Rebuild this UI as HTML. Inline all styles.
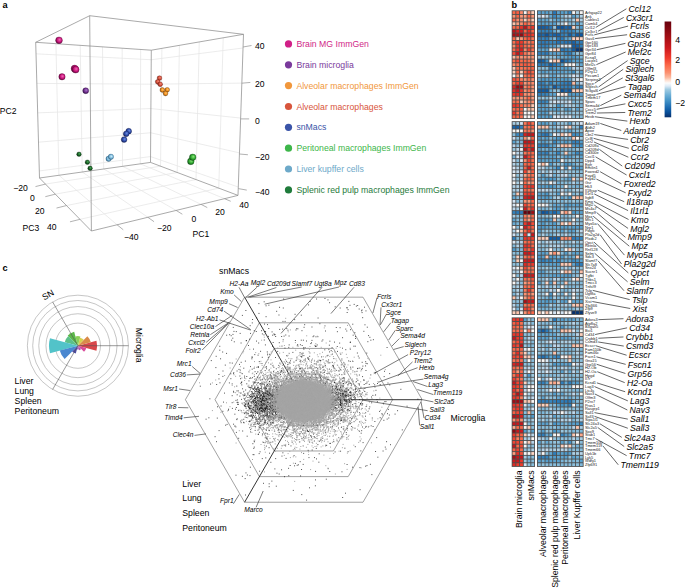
<!DOCTYPE html><html><head><meta charset="utf-8"><style>html,body{margin:0;padding:0;background:#fff;width:685px;height:588px;overflow:hidden}svg{display:block}text{font-family:"Liberation Sans",sans-serif}</style></head><body>
<svg width="685" height="588" viewBox="0 0 685 588">
<defs>
<radialGradient id="gmg" cx="0.55" cy="0.45" r="0.6" fx="0.6" fy="0.4"><stop offset="0" stop-color="#f46ab8"/><stop offset="0.55" stop-color="#c8147a"/><stop offset="1" stop-color="#500030"/></radialGradient>
<radialGradient id="gbm" cx="0.55" cy="0.45" r="0.6" fx="0.6" fy="0.4"><stop offset="0" stop-color="#a878cc"/><stop offset="0.55" stop-color="#72308e"/><stop offset="1" stop-color="#2a0a40"/></radialGradient>
<radialGradient id="gai" cx="0.55" cy="0.45" r="0.6" fx="0.6" fy="0.4"><stop offset="0" stop-color="#ffc468"/><stop offset="0.55" stop-color="#ee8c1c"/><stop offset="1" stop-color="#6a3a00"/></radialGradient>
<radialGradient id="gam" cx="0.55" cy="0.45" r="0.6" fx="0.6" fy="0.4"><stop offset="0" stop-color="#f48a78"/><stop offset="0.55" stop-color="#d24c38"/><stop offset="1" stop-color="#6a1a10"/></radialGradient>
<radialGradient id="gsn" cx="0.55" cy="0.45" r="0.6" fx="0.6" fy="0.4"><stop offset="0" stop-color="#7090e4"/><stop offset="0.55" stop-color="#2e4ca8"/><stop offset="1" stop-color="#101a50"/></radialGradient>
<radialGradient id="gpm" cx="0.55" cy="0.45" r="0.6" fx="0.6" fy="0.4"><stop offset="0" stop-color="#8ce67a"/><stop offset="0.55" stop-color="#32aa32"/><stop offset="1" stop-color="#0a4a10"/></radialGradient>
<radialGradient id="glk" cx="0.55" cy="0.45" r="0.6" fx="0.6" fy="0.4"><stop offset="0" stop-color="#d0f0fc"/><stop offset="0.55" stop-color="#78b8dc"/><stop offset="1" stop-color="#2a5a7a"/></radialGradient>
<radialGradient id="gsp" cx="0.55" cy="0.45" r="0.6" fx="0.6" fy="0.4"><stop offset="0" stop-color="#4aa85a"/><stop offset="0.55" stop-color="#176024"/><stop offset="1" stop-color="#032a0a"/></radialGradient>
<linearGradient id="cbar" x1="0" y1="0" x2="0" y2="1">
<stop offset="0" stop-color="#67000d"/>
<stop offset="0.166" stop-color="#a50f15"/>
<stop offset="0.273" stop-color="#cb181d"/>
<stop offset="0.38" stop-color="#ef3b2c"/>
<stop offset="0.458" stop-color="#fb6a4a"/>
<stop offset="0.536" stop-color="#fc9272"/>
<stop offset="0.585" stop-color="#fcbba1"/>
<stop offset="0.614" stop-color="#fee0d2"/>
<stop offset="0.643" stop-color="#fbfbfb"/>
<stop offset="0.673" stop-color="#deebf7"/>
<stop offset="0.712" stop-color="#9ecae1"/>
<stop offset="0.77" stop-color="#6baed6"/>
<stop offset="0.828" stop-color="#4292c6"/>
<stop offset="0.887" stop-color="#2171b5"/>
<stop offset="0.945" stop-color="#08519c"/>
<stop offset="1.0" stop-color="#08306b"/>
</linearGradient>
</defs>
<text x="2.5" y="8.0" font-size="9.2" font-weight="bold">a</text>
<text x="511.6" y="7.9" font-size="9.2" font-weight="bold">b</text>
<text x="2.5" y="270.5" font-size="9.2" font-weight="bold">c</text>
<line x1="55.93" y1="43.68" x2="58.92" y2="175.27" stroke="#e6e6e6" stroke-width="0.75"/>
<line x1="80.21" y1="45.34" x2="82.23" y2="171.99" stroke="#e6e6e6" stroke-width="0.75"/>
<line x1="102.52" y1="46.87" x2="103.66" y2="168.98" stroke="#e6e6e6" stroke-width="0.75"/>
<line x1="122.17" y1="48.21" x2="122.53" y2="166.33" stroke="#e6e6e6" stroke-width="0.75"/>
<line x1="140.66" y1="49.47" x2="140.29" y2="163.84" stroke="#e6e6e6" stroke-width="0.75"/>
<line x1="36.02" y1="53.83" x2="151.23" y2="59.74" stroke="#e6e6e6" stroke-width="0.75"/>
<line x1="36.85" y1="83.42" x2="151.06" y2="84.20" stroke="#e6e6e6" stroke-width="0.75"/>
<line x1="37.68" y1="112.86" x2="150.88" y2="108.54" stroke="#e6e6e6" stroke-width="0.75"/>
<line x1="38.50" y1="142.18" x2="150.71" y2="132.78" stroke="#e6e6e6" stroke-width="0.75"/>
<line x1="39.30" y1="170.94" x2="150.54" y2="156.57" stroke="#e6e6e6" stroke-width="0.75"/>
<line x1="161.90" y1="48.37" x2="160.56" y2="166.19" stroke="#e6e6e6" stroke-width="0.75"/>
<line x1="179.42" y1="45.35" x2="177.19" y2="172.47" stroke="#e6e6e6" stroke-width="0.75"/>
<line x1="199.24" y1="41.93" x2="196.00" y2="179.56" stroke="#e6e6e6" stroke-width="0.75"/>
<line x1="223.22" y1="37.80" x2="218.75" y2="188.14" stroke="#e6e6e6" stroke-width="0.75"/>
<line x1="151.23" y1="59.74" x2="243.03" y2="47.99" stroke="#e6e6e6" stroke-width="0.75"/>
<line x1="151.06" y1="84.20" x2="241.83" y2="83.11" stroke="#e6e6e6" stroke-width="0.75"/>
<line x1="150.88" y1="108.54" x2="240.64" y2="118.07" stroke="#e6e6e6" stroke-width="0.75"/>
<line x1="150.71" y1="132.78" x2="239.45" y2="152.87" stroke="#e6e6e6" stroke-width="0.75"/>
<line x1="150.54" y1="156.57" x2="238.29" y2="187.02" stroke="#e6e6e6" stroke-width="0.75"/>
<line x1="58.92" y1="175.27" x2="117.06" y2="224.77" stroke="#e6e6e6" stroke-width="0.75"/>
<line x1="82.23" y1="171.99" x2="147.84" y2="217.29" stroke="#e6e6e6" stroke-width="0.75"/>
<line x1="103.66" y1="168.98" x2="176.13" y2="210.42" stroke="#e6e6e6" stroke-width="0.75"/>
<line x1="122.53" y1="166.33" x2="201.06" y2="204.37" stroke="#e6e6e6" stroke-width="0.75"/>
<line x1="140.29" y1="163.84" x2="224.51" y2="198.68" stroke="#e6e6e6" stroke-width="0.75"/>
<line x1="45.47" y1="184.09" x2="160.56" y2="166.19" stroke="#e6e6e6" stroke-width="0.75"/>
<line x1="55.33" y1="194.16" x2="177.19" y2="172.47" stroke="#e6e6e6" stroke-width="0.75"/>
<line x1="66.49" y1="205.56" x2="196.00" y2="179.56" stroke="#e6e6e6" stroke-width="0.75"/>
<line x1="79.98" y1="219.34" x2="218.75" y2="188.14" stroke="#e6e6e6" stroke-width="0.75"/>
<line x1="35.70" y1="42.30" x2="89.70" y2="15.70" stroke="#8e8e8e" stroke-width="0.75"/>
<line x1="89.70" y1="15.70" x2="243.50" y2="34.30" stroke="#8e8e8e" stroke-width="0.75"/>
<line x1="35.70" y1="42.30" x2="151.30" y2="50.20" stroke="#8e8e8e" stroke-width="0.75"/>
<line x1="151.30" y1="50.20" x2="243.50" y2="34.30" stroke="#8e8e8e" stroke-width="0.75"/>
<line x1="35.70" y1="42.30" x2="39.50" y2="178.00" stroke="#8e8e8e" stroke-width="0.75"/>
<line x1="151.30" y1="50.20" x2="150.50" y2="162.40" stroke="#8e8e8e" stroke-width="0.75"/>
<line x1="243.50" y1="34.30" x2="238.00" y2="195.40" stroke="#8e8e8e" stroke-width="0.75"/>
<line x1="89.70" y1="15.70" x2="91.40" y2="231.00" stroke="#8e8e8e" stroke-width="0.75"/>
<line x1="39.50" y1="178.00" x2="150.50" y2="162.40" stroke="#8e8e8e" stroke-width="0.75"/>
<line x1="150.50" y1="162.40" x2="238.00" y2="195.40" stroke="#8e8e8e" stroke-width="0.75"/>
<line x1="39.50" y1="178.00" x2="91.40" y2="231.00" stroke="#8e8e8e" stroke-width="0.75"/>
<line x1="91.40" y1="231.00" x2="238.00" y2="195.40" stroke="#8e8e8e" stroke-width="0.75"/>
<line x1="243.03" y1="47.00" x2="251.53" y2="45.50" stroke="#909090" stroke-width="0.7"/>
<text x="255" y="48.7" font-size="8.6">40</text>
<line x1="241.83" y1="83.20" x2="250.33" y2="82.45" stroke="#909090" stroke-width="0.7"/>
<text x="255" y="86.5" font-size="8.6">20</text>
<line x1="240.64" y1="118.90" x2="249.14" y2="118.90" stroke="#909090" stroke-width="0.7"/>
<text x="255" y="123.7" font-size="8.6">0</text>
<line x1="239.45" y1="154.00" x2="247.95" y2="154.75" stroke="#909090" stroke-width="0.7"/>
<text x="255" y="160.1" font-size="8.6">−20</text>
<line x1="238.29" y1="188.60" x2="246.79" y2="190.10" stroke="#909090" stroke-width="0.7"/>
<text x="255" y="195.1" font-size="8.6">−40</text>
<line x1="117.06" y1="224.77" x2="123.26" y2="229.77" stroke="#909090" stroke-width="0.7"/>
<text x="124.0" y="239.7" font-size="8.6">−40</text>
<line x1="147.84" y1="217.29" x2="154.04" y2="221.69" stroke="#909090" stroke-width="0.7"/>
<text x="157.0" y="231.1" font-size="8.6">−20</text>
<line x1="176.13" y1="210.42" x2="182.33" y2="214.22" stroke="#909090" stroke-width="0.7"/>
<text x="191.4" y="222.3" font-size="8.6">0</text>
<line x1="201.06" y1="204.37" x2="207.26" y2="207.57" stroke="#909090" stroke-width="0.7"/>
<text x="215.2" y="215.1" font-size="8.6">20</text>
<line x1="224.51" y1="198.68" x2="230.71" y2="201.28" stroke="#909090" stroke-width="0.7"/>
<text x="239.2" y="208.4" font-size="8.6">40</text>
<line x1="45.47" y1="184.09" x2="35.47" y2="186.59" stroke="#909090" stroke-width="0.7"/>
<text x="13.2" y="190.7" font-size="8.6">−20</text>
<line x1="55.33" y1="194.16" x2="45.33" y2="196.66" stroke="#909090" stroke-width="0.7"/>
<text x="29.9" y="201.3" font-size="8.6">0</text>
<line x1="66.49" y1="205.56" x2="56.49" y2="208.06" stroke="#909090" stroke-width="0.7"/>
<text x="35.0" y="213.9" font-size="8.6">20</text>
<line x1="79.98" y1="219.34" x2="69.98" y2="221.84" stroke="#909090" stroke-width="0.7"/>
<text x="47.0" y="230.1" font-size="8.6">40</text>
<text x="-0.3" y="113.8" font-size="8.6">PC2</text>
<text x="22.6" y="231.1" font-size="8.6">PC3</text>
<text x="192.6" y="236.9" font-size="8.6">PC1</text>
<circle cx="59.0" cy="40.3" r="3.4" fill="url(#gmg)" stroke="#500030" stroke-width="0.5" stroke-opacity="0.6"/>
<circle cx="74.6" cy="68.6" r="3.5" fill="url(#gmg)" stroke="#500030" stroke-width="0.5" stroke-opacity="0.6"/>
<circle cx="75.6" cy="69.6" r="3.5" fill="url(#gmg)" stroke="#500030" stroke-width="0.5" stroke-opacity="0.6"/>
<circle cx="62.0" cy="76.8" r="3.2" fill="url(#gmg)" stroke="#500030" stroke-width="0.5" stroke-opacity="0.6"/>
<circle cx="85.7" cy="90.7" r="3.0" fill="url(#gbm)" stroke="#2a0a40" stroke-width="0.5" stroke-opacity="0.6"/>
<circle cx="159.5" cy="78.1" r="2.4" fill="url(#gam)" stroke="#6a1a10" stroke-width="0.5" stroke-opacity="0.6"/>
<circle cx="157.7" cy="81.8" r="2.4" fill="url(#gam)" stroke="#6a1a10" stroke-width="0.5" stroke-opacity="0.6"/>
<circle cx="160.2" cy="84.3" r="2.4" fill="url(#gam)" stroke="#6a1a10" stroke-width="0.5" stroke-opacity="0.6"/>
<circle cx="162.3" cy="90.0" r="2.4" fill="url(#gai)" stroke="#6a3a00" stroke-width="0.5" stroke-opacity="0.6"/>
<circle cx="167.2" cy="89.8" r="2.4" fill="url(#gai)" stroke="#6a3a00" stroke-width="0.5" stroke-opacity="0.6"/>
<circle cx="165.5" cy="93.5" r="2.4" fill="url(#gai)" stroke="#6a3a00" stroke-width="0.5" stroke-opacity="0.6"/>
<circle cx="128.7" cy="131.2" r="2.9" fill="url(#gsn)" stroke="#101a50" stroke-width="0.5" stroke-opacity="0.6"/>
<circle cx="126.2" cy="133.8" r="2.9" fill="url(#gsn)" stroke="#101a50" stroke-width="0.5" stroke-opacity="0.6"/>
<circle cx="124.1" cy="139.6" r="2.9" fill="url(#gsn)" stroke="#101a50" stroke-width="0.5" stroke-opacity="0.6"/>
<circle cx="108.6" cy="158.8" r="2.7" fill="url(#glk)" stroke="#2a5a7a" stroke-width="0.5" stroke-opacity="0.6"/>
<circle cx="110.9" cy="156.8" r="2.7" fill="url(#glk)" stroke="#2a5a7a" stroke-width="0.5" stroke-opacity="0.6"/>
<circle cx="79.0" cy="154.2" r="2.3" fill="url(#gsp)" stroke="#032a0a" stroke-width="0.5" stroke-opacity="0.6"/>
<circle cx="87.4" cy="162.2" r="2.3" fill="url(#gsp)" stroke="#032a0a" stroke-width="0.5" stroke-opacity="0.6"/>
<circle cx="90.1" cy="168.3" r="2.3" fill="url(#gsp)" stroke="#032a0a" stroke-width="0.5" stroke-opacity="0.6"/>
<circle cx="190.8" cy="161.4" r="3.3" fill="url(#gpm)" stroke="#0a4a10" stroke-width="0.5" stroke-opacity="0.6"/>
<circle cx="192.7" cy="157.3" r="3.3" fill="url(#gpm)" stroke="#0a4a10" stroke-width="0.5" stroke-opacity="0.6"/>
<circle cx="288.5" cy="43.9" r="3.6" fill="#d11f87"/>
<text x="296.4" y="47.0" font-size="8.7" fill="#d11f87">Brain MG ImmGen</text>
<circle cx="288.5" cy="64.8" r="3.6" fill="#7a3a9c"/>
<text x="296.4" y="67.8" font-size="8.7" fill="#7a3a9c">Brain microglia</text>
<circle cx="288.5" cy="85.6" r="3.6" fill="#f1973c"/>
<text x="296.4" y="88.7" font-size="8.7" fill="#f1973c">Alveolar macrophages ImmGen</text>
<circle cx="288.5" cy="106.5" r="3.6" fill="#d8553c"/>
<text x="296.4" y="109.5" font-size="8.7" fill="#d8553c">Alveolar macrophages</text>
<circle cx="288.5" cy="127.3" r="3.6" fill="#3a54a8"/>
<text x="296.4" y="130.4" font-size="8.7" fill="#3a54a8">snMacs</text>
<circle cx="288.5" cy="148.2" r="3.6" fill="#3db64a"/>
<text x="296.4" y="151.2" font-size="8.7" fill="#3db64a">Peritoneal macrophages ImmGen</text>
<circle cx="288.5" cy="169.0" r="3.6" fill="#6da9c9"/>
<text x="296.4" y="172.1" font-size="8.7" fill="#6da9c9">Liver kupffer cells</text>
<circle cx="288.5" cy="189.9" r="3.6" fill="#1f7b3b"/>
<text x="296.4" y="193.0" font-size="8.7" fill="#1f7b3b">Splenic red pulp macrophages ImmGen</text>
<rect x="511.70" y="10.30" width="23.30" height="108.70" fill="#4d4d4d"/>
<rect x="537.00" y="10.30" width="46.60" height="108.70" fill="#4d4d4d"/>
<rect x="512.55" y="11.15" width="2.85" height="2.82" fill="#fb6a4a"/>
<rect x="516.30" y="11.15" width="2.85" height="2.82" fill="#f85d42"/>
<rect x="520.05" y="11.15" width="2.85" height="2.82" fill="#fc8868"/>
<rect x="523.80" y="11.15" width="2.85" height="2.82" fill="#f8f6f5"/>
<rect x="527.55" y="11.15" width="2.85" height="2.82" fill="#fc9475"/>
<rect x="531.30" y="11.15" width="2.85" height="2.82" fill="#fdceba"/>
<rect x="537.85" y="11.15" width="2.92" height="2.82" fill="#56a0ce"/>
<rect x="541.67" y="11.15" width="2.92" height="2.82" fill="#5ba3d0"/>
<rect x="545.48" y="11.15" width="2.92" height="2.82" fill="#549fcd"/>
<rect x="549.30" y="11.15" width="2.92" height="2.82" fill="#6aadd6"/>
<rect x="553.12" y="11.15" width="2.92" height="2.82" fill="#2777b8"/>
<rect x="556.94" y="11.15" width="2.92" height="2.82" fill="#5ba3d0"/>
<rect x="560.75" y="11.15" width="2.92" height="2.82" fill="#559fcd"/>
<rect x="564.57" y="11.15" width="2.92" height="2.82" fill="#5ca4d0"/>
<rect x="568.39" y="11.15" width="2.92" height="2.82" fill="#3484bf"/>
<rect x="572.20" y="11.15" width="2.92" height="2.82" fill="#f8f6f5"/>
<rect x="576.02" y="11.15" width="2.92" height="2.82" fill="#abd0e6"/>
<rect x="579.84" y="11.15" width="2.92" height="2.82" fill="#f8f6f5"/>
<rect x="512.55" y="14.87" width="2.85" height="2.82" fill="#fc9373"/>
<rect x="516.30" y="14.87" width="2.85" height="2.82" fill="#f96446"/>
<rect x="520.05" y="14.87" width="2.85" height="2.82" fill="#fc997a"/>
<rect x="523.80" y="14.87" width="2.85" height="2.82" fill="#fc9e80"/>
<rect x="527.55" y="14.87" width="2.85" height="2.82" fill="#fa6648"/>
<rect x="531.30" y="14.87" width="2.85" height="2.82" fill="#fc9778"/>
<rect x="537.85" y="14.87" width="2.92" height="2.82" fill="#c1d9ed"/>
<rect x="541.67" y="14.87" width="2.92" height="2.82" fill="#ddeaf7"/>
<rect x="545.48" y="14.87" width="2.92" height="2.82" fill="#b6d4e9"/>
<rect x="549.30" y="14.87" width="2.92" height="2.82" fill="#64a9d3"/>
<rect x="553.12" y="14.87" width="2.92" height="2.82" fill="#3b8bc3"/>
<rect x="556.94" y="14.87" width="2.92" height="2.82" fill="#5aa3cf"/>
<rect x="560.75" y="14.87" width="2.92" height="2.82" fill="#80badb"/>
<rect x="564.57" y="14.87" width="2.92" height="2.82" fill="#b4d3e9"/>
<rect x="568.39" y="14.87" width="2.92" height="2.82" fill="#b8d5ea"/>
<rect x="572.20" y="14.87" width="2.92" height="2.82" fill="#57a1ce"/>
<rect x="576.02" y="14.87" width="2.92" height="2.82" fill="#82bbdb"/>
<rect x="579.84" y="14.87" width="2.92" height="2.82" fill="#b4d4e9"/>
<rect x="512.55" y="18.59" width="2.85" height="2.82" fill="#fa6547"/>
<rect x="516.30" y="18.59" width="2.85" height="2.82" fill="#fc8a6a"/>
<rect x="520.05" y="18.59" width="2.85" height="2.82" fill="#fc9474"/>
<rect x="523.80" y="18.59" width="2.85" height="2.82" fill="#fdd0bd"/>
<rect x="527.55" y="18.59" width="2.85" height="2.82" fill="#fc8f6f"/>
<rect x="531.30" y="18.59" width="2.85" height="2.82" fill="#fdc8b2"/>
<rect x="537.85" y="18.59" width="2.92" height="2.82" fill="#529dcc"/>
<rect x="541.67" y="18.59" width="2.92" height="2.82" fill="#65aad4"/>
<rect x="545.48" y="18.59" width="2.92" height="2.82" fill="#60a7d2"/>
<rect x="549.30" y="18.59" width="2.92" height="2.82" fill="#92c3de"/>
<rect x="553.12" y="18.59" width="2.92" height="2.82" fill="#69add5"/>
<rect x="556.94" y="18.59" width="2.92" height="2.82" fill="#5aa2cf"/>
<rect x="560.75" y="18.59" width="2.92" height="2.82" fill="#84bcdb"/>
<rect x="564.57" y="18.59" width="2.92" height="2.82" fill="#91c3de"/>
<rect x="568.39" y="18.59" width="2.92" height="2.82" fill="#7bb7da"/>
<rect x="572.20" y="18.59" width="2.92" height="2.82" fill="#abd0e6"/>
<rect x="576.02" y="18.59" width="2.92" height="2.82" fill="#fdc5ae"/>
<rect x="579.84" y="18.59" width="2.92" height="2.82" fill="#afd1e7"/>
<rect x="512.55" y="22.31" width="2.85" height="2.82" fill="#fcc3ab"/>
<rect x="516.30" y="22.31" width="2.85" height="2.82" fill="#fc9d7f"/>
<rect x="520.05" y="22.31" width="2.85" height="2.82" fill="#fc8d6d"/>
<rect x="523.80" y="22.31" width="2.85" height="2.82" fill="#fa6446"/>
<rect x="527.55" y="22.31" width="2.85" height="2.82" fill="#fb7858"/>
<rect x="531.30" y="22.31" width="2.85" height="2.82" fill="#fc8f6f"/>
<rect x="537.85" y="22.31" width="2.92" height="2.82" fill="#5da4d0"/>
<rect x="541.67" y="22.31" width="2.92" height="2.82" fill="#549ecd"/>
<rect x="545.48" y="22.31" width="2.92" height="2.82" fill="#5ea5d1"/>
<rect x="549.30" y="22.31" width="2.92" height="2.82" fill="#5ba3d0"/>
<rect x="553.12" y="22.31" width="2.92" height="2.82" fill="#58a1cf"/>
<rect x="556.94" y="22.31" width="2.92" height="2.82" fill="#93c4df"/>
<rect x="560.75" y="22.31" width="2.92" height="2.82" fill="#add0e6"/>
<rect x="564.57" y="22.31" width="2.92" height="2.82" fill="#f8f6f5"/>
<rect x="568.39" y="22.31" width="2.92" height="2.82" fill="#85bcdc"/>
<rect x="572.20" y="22.31" width="2.92" height="2.82" fill="#8fc2de"/>
<rect x="576.02" y="22.31" width="2.92" height="2.82" fill="#529dcc"/>
<rect x="579.84" y="22.31" width="2.92" height="2.82" fill="#83bbdb"/>
<rect x="512.55" y="26.03" width="2.85" height="2.82" fill="#fb6b4b"/>
<rect x="516.30" y="26.03" width="2.85" height="2.82" fill="#f96446"/>
<rect x="520.05" y="26.03" width="2.85" height="2.82" fill="#e63228"/>
<rect x="523.80" y="26.03" width="2.85" height="2.82" fill="#bd151a"/>
<rect x="527.55" y="26.03" width="2.85" height="2.82" fill="#f34a35"/>
<rect x="531.30" y="26.03" width="2.85" height="2.82" fill="#e93529"/>
<rect x="537.85" y="26.03" width="2.92" height="2.82" fill="#105ba4"/>
<rect x="541.67" y="26.03" width="2.92" height="2.82" fill="#125ea6"/>
<rect x="545.48" y="26.03" width="2.92" height="2.82" fill="#1764ab"/>
<rect x="549.30" y="26.03" width="2.92" height="2.82" fill="#2979b9"/>
<rect x="553.12" y="26.03" width="2.92" height="2.82" fill="#96c6df"/>
<rect x="556.94" y="26.03" width="2.92" height="2.82" fill="#0f5aa3"/>
<rect x="560.75" y="26.03" width="2.92" height="2.82" fill="#0b559f"/>
<rect x="564.57" y="26.03" width="2.92" height="2.82" fill="#1a68ae"/>
<rect x="568.39" y="26.03" width="2.92" height="2.82" fill="#1460a8"/>
<rect x="572.20" y="26.03" width="2.92" height="2.82" fill="#fdd3c1"/>
<rect x="576.02" y="26.03" width="2.92" height="2.82" fill="#87bddc"/>
<rect x="579.84" y="26.03" width="2.92" height="2.82" fill="#4e9acb"/>
<rect x="512.55" y="29.75" width="2.85" height="2.82" fill="#bc141a"/>
<rect x="516.30" y="29.75" width="2.85" height="2.82" fill="#d82422"/>
<rect x="520.05" y="29.75" width="2.85" height="2.82" fill="#cf1c1f"/>
<rect x="523.80" y="29.75" width="2.85" height="2.82" fill="#f96346"/>
<rect x="527.55" y="29.75" width="2.85" height="2.82" fill="#e43027"/>
<rect x="531.30" y="29.75" width="2.85" height="2.82" fill="#fa6647"/>
<rect x="537.85" y="29.75" width="2.92" height="2.82" fill="#3686c0"/>
<rect x="541.67" y="29.75" width="2.92" height="2.82" fill="#3080bc"/>
<rect x="545.48" y="29.75" width="2.92" height="2.82" fill="#3282be"/>
<rect x="549.30" y="29.75" width="2.92" height="2.82" fill="#3383be"/>
<rect x="553.12" y="29.75" width="2.92" height="2.82" fill="#61a7d2"/>
<rect x="556.94" y="29.75" width="2.92" height="2.82" fill="#86bddc"/>
<rect x="560.75" y="29.75" width="2.92" height="2.82" fill="#2f7fbc"/>
<rect x="564.57" y="29.75" width="2.92" height="2.82" fill="#3282be"/>
<rect x="568.39" y="29.75" width="2.92" height="2.82" fill="#3383be"/>
<rect x="572.20" y="29.75" width="2.92" height="2.82" fill="#3a8ac2"/>
<rect x="576.02" y="29.75" width="2.92" height="2.82" fill="#5fa6d1"/>
<rect x="579.84" y="29.75" width="2.92" height="2.82" fill="#519ccc"/>
<rect x="512.55" y="33.47" width="2.85" height="2.82" fill="#a60f15"/>
<rect x="516.30" y="33.47" width="2.85" height="2.82" fill="#b01217"/>
<rect x="520.05" y="33.47" width="2.85" height="2.82" fill="#940b13"/>
<rect x="523.80" y="33.47" width="2.85" height="2.82" fill="#eb372a"/>
<rect x="527.55" y="33.47" width="2.85" height="2.82" fill="#e02c26"/>
<rect x="531.30" y="33.47" width="2.85" height="2.82" fill="#ef3b2c"/>
<rect x="537.85" y="33.47" width="2.92" height="2.82" fill="#1461a8"/>
<rect x="541.67" y="33.47" width="2.92" height="2.82" fill="#1967ad"/>
<rect x="545.48" y="33.47" width="2.92" height="2.82" fill="#0b559f"/>
<rect x="549.30" y="33.47" width="2.92" height="2.82" fill="#2171b5"/>
<rect x="553.12" y="33.47" width="2.92" height="2.82" fill="#1663aa"/>
<rect x="556.94" y="33.47" width="2.92" height="2.82" fill="#1562a9"/>
<rect x="560.75" y="33.47" width="2.92" height="2.82" fill="#2e7ebb"/>
<rect x="564.57" y="33.47" width="2.92" height="2.82" fill="#3787c0"/>
<rect x="568.39" y="33.47" width="2.92" height="2.82" fill="#1360a7"/>
<rect x="572.20" y="33.47" width="2.92" height="2.82" fill="#3484bf"/>
<rect x="576.02" y="33.47" width="2.92" height="2.82" fill="#115da5"/>
<rect x="579.84" y="33.47" width="2.92" height="2.82" fill="#0d57a1"/>
<rect x="512.55" y="37.19" width="2.85" height="2.82" fill="#fb6a4a"/>
<rect x="516.30" y="37.19" width="2.85" height="2.82" fill="#fcc3ac"/>
<rect x="520.05" y="37.19" width="2.85" height="2.82" fill="#fc9576"/>
<rect x="523.80" y="37.19" width="2.85" height="2.82" fill="#fa6748"/>
<rect x="527.55" y="37.19" width="2.85" height="2.82" fill="#f44f39"/>
<rect x="531.30" y="37.19" width="2.85" height="2.82" fill="#fb7656"/>
<rect x="537.85" y="37.19" width="2.92" height="2.82" fill="#2c7cbb"/>
<rect x="541.67" y="37.19" width="2.92" height="2.82" fill="#3585c0"/>
<rect x="545.48" y="37.19" width="2.92" height="2.82" fill="#2e7ebc"/>
<rect x="549.30" y="37.19" width="2.92" height="2.82" fill="#56a0ce"/>
<rect x="553.12" y="37.19" width="2.92" height="2.82" fill="#7cb7da"/>
<rect x="556.94" y="37.19" width="2.92" height="2.82" fill="#2c7cbb"/>
<rect x="560.75" y="37.19" width="2.92" height="2.82" fill="#2b7bba"/>
<rect x="564.57" y="37.19" width="2.92" height="2.82" fill="#5ca3d0"/>
<rect x="568.39" y="37.19" width="2.92" height="2.82" fill="#60a7d2"/>
<rect x="572.20" y="37.19" width="2.92" height="2.82" fill="#fdcfbc"/>
<rect x="576.02" y="37.19" width="2.92" height="2.82" fill="#fdcdb9"/>
<rect x="579.84" y="37.19" width="2.92" height="2.82" fill="#fdd2c0"/>
<rect x="512.55" y="40.92" width="2.85" height="2.82" fill="#fb6e4e"/>
<rect x="516.30" y="40.92" width="2.85" height="2.82" fill="#ef3c2d"/>
<rect x="520.05" y="40.92" width="2.85" height="2.82" fill="#ed392b"/>
<rect x="523.80" y="40.92" width="2.85" height="2.82" fill="#fb6d4d"/>
<rect x="527.55" y="40.92" width="2.85" height="2.82" fill="#fb7959"/>
<rect x="531.30" y="40.92" width="2.85" height="2.82" fill="#fb6b4b"/>
<rect x="537.85" y="40.92" width="2.92" height="2.82" fill="#3080bd"/>
<rect x="541.67" y="40.92" width="2.92" height="2.82" fill="#2a7aba"/>
<rect x="545.48" y="40.92" width="2.92" height="2.82" fill="#2e7ebc"/>
<rect x="549.30" y="40.92" width="2.92" height="2.82" fill="#3686c0"/>
<rect x="553.12" y="40.92" width="2.92" height="2.82" fill="#3686c0"/>
<rect x="556.94" y="40.92" width="2.92" height="2.82" fill="#2474b7"/>
<rect x="560.75" y="40.92" width="2.92" height="2.82" fill="#2d7dbb"/>
<rect x="564.57" y="40.92" width="2.92" height="2.82" fill="#2575b7"/>
<rect x="568.39" y="40.92" width="2.92" height="2.82" fill="#2373b6"/>
<rect x="572.20" y="40.92" width="2.92" height="2.82" fill="#1663aa"/>
<rect x="576.02" y="40.92" width="2.92" height="2.82" fill="#2f7fbc"/>
<rect x="579.84" y="40.92" width="2.92" height="2.82" fill="#2e7ebc"/>
<rect x="512.55" y="44.64" width="2.85" height="2.82" fill="#fc8e6e"/>
<rect x="516.30" y="44.64" width="2.85" height="2.82" fill="#eb372a"/>
<rect x="520.05" y="44.64" width="2.85" height="2.82" fill="#ee3a2b"/>
<rect x="523.80" y="44.64" width="2.85" height="2.82" fill="#fb6849"/>
<rect x="527.55" y="44.64" width="2.85" height="2.82" fill="#fb7656"/>
<rect x="531.30" y="44.64" width="2.85" height="2.82" fill="#fb6b4b"/>
<rect x="537.85" y="44.64" width="2.92" height="2.82" fill="#3686c0"/>
<rect x="541.67" y="44.64" width="2.92" height="2.82" fill="#3181bd"/>
<rect x="545.48" y="44.64" width="2.92" height="2.82" fill="#3585bf"/>
<rect x="549.30" y="44.64" width="2.92" height="2.82" fill="#569fce"/>
<rect x="553.12" y="44.64" width="2.92" height="2.82" fill="#549ecd"/>
<rect x="556.94" y="44.64" width="2.92" height="2.82" fill="#86bddc"/>
<rect x="560.75" y="44.64" width="2.92" height="2.82" fill="#d8e7f5"/>
<rect x="564.57" y="44.64" width="2.92" height="2.82" fill="#d9e8f5"/>
<rect x="568.39" y="44.64" width="2.92" height="2.82" fill="#dbe9f6"/>
<rect x="572.20" y="44.64" width="2.92" height="2.82" fill="#135fa7"/>
<rect x="576.02" y="44.64" width="2.92" height="2.82" fill="#1461a8"/>
<rect x="579.84" y="44.64" width="2.92" height="2.82" fill="#2f7fbc"/>
<rect x="512.55" y="48.36" width="2.85" height="2.82" fill="#fb6a4a"/>
<rect x="516.30" y="48.36" width="2.85" height="2.82" fill="#eb372a"/>
<rect x="520.05" y="48.36" width="2.85" height="2.82" fill="#d52121"/>
<rect x="523.80" y="48.36" width="2.85" height="2.82" fill="#fc8b6b"/>
<rect x="527.55" y="48.36" width="2.85" height="2.82" fill="#f14231"/>
<rect x="531.30" y="48.36" width="2.85" height="2.82" fill="#fb7050"/>
<rect x="537.85" y="48.36" width="2.92" height="2.82" fill="#5ca4d0"/>
<rect x="541.67" y="48.36" width="2.92" height="2.82" fill="#5fa6d1"/>
<rect x="545.48" y="48.36" width="2.92" height="2.82" fill="#58a1cf"/>
<rect x="549.30" y="48.36" width="2.92" height="2.82" fill="#f8f6f5"/>
<rect x="553.12" y="48.36" width="2.92" height="2.82" fill="#fdd2bf"/>
<rect x="556.94" y="48.36" width="2.92" height="2.82" fill="#fdd0bd"/>
<rect x="560.75" y="48.36" width="2.92" height="2.82" fill="#2979b9"/>
<rect x="564.57" y="48.36" width="2.92" height="2.82" fill="#3181bd"/>
<rect x="568.39" y="48.36" width="2.92" height="2.82" fill="#3989c1"/>
<rect x="572.20" y="48.36" width="2.92" height="2.82" fill="#125ea6"/>
<rect x="576.02" y="48.36" width="2.92" height="2.82" fill="#083a7a"/>
<rect x="579.84" y="48.36" width="2.92" height="2.82" fill="#08306b"/>
<rect x="512.55" y="52.08" width="2.85" height="2.82" fill="#f34935"/>
<rect x="516.30" y="52.08" width="2.85" height="2.82" fill="#c7171c"/>
<rect x="520.05" y="52.08" width="2.85" height="2.82" fill="#eb372a"/>
<rect x="523.80" y="52.08" width="2.85" height="2.82" fill="#fb7656"/>
<rect x="527.55" y="52.08" width="2.85" height="2.82" fill="#fc9070"/>
<rect x="531.30" y="52.08" width="2.85" height="2.82" fill="#fc8a6a"/>
<rect x="537.85" y="52.08" width="2.92" height="2.82" fill="#2e7ebc"/>
<rect x="541.67" y="52.08" width="2.92" height="2.82" fill="#3080bd"/>
<rect x="545.48" y="52.08" width="2.92" height="2.82" fill="#2b7bba"/>
<rect x="549.30" y="52.08" width="2.92" height="2.82" fill="#59a2cf"/>
<rect x="553.12" y="52.08" width="2.92" height="2.82" fill="#58a1cf"/>
<rect x="556.94" y="52.08" width="2.92" height="2.82" fill="#5ca4d0"/>
<rect x="560.75" y="52.08" width="2.92" height="2.82" fill="#559fce"/>
<rect x="564.57" y="52.08" width="2.92" height="2.82" fill="#3888c1"/>
<rect x="568.39" y="52.08" width="2.92" height="2.82" fill="#2c7cbb"/>
<rect x="572.20" y="52.08" width="2.92" height="2.82" fill="#5fa6d1"/>
<rect x="576.02" y="52.08" width="2.92" height="2.82" fill="#95c5df"/>
<rect x="579.84" y="52.08" width="2.92" height="2.82" fill="#86bddc"/>
<rect x="512.55" y="55.80" width="2.85" height="2.82" fill="#fcbda4"/>
<rect x="516.30" y="55.80" width="2.85" height="2.82" fill="#fc8a6a"/>
<rect x="520.05" y="55.80" width="2.85" height="2.82" fill="#fc9677"/>
<rect x="523.80" y="55.80" width="2.85" height="2.82" fill="#fc8c6c"/>
<rect x="527.55" y="55.80" width="2.85" height="2.82" fill="#fc9676"/>
<rect x="531.30" y="55.80" width="2.85" height="2.82" fill="#fc9373"/>
<rect x="537.85" y="55.80" width="2.92" height="2.82" fill="#89bedc"/>
<rect x="541.67" y="55.80" width="2.92" height="2.82" fill="#a1cbe2"/>
<rect x="545.48" y="55.80" width="2.92" height="2.82" fill="#88bedc"/>
<rect x="549.30" y="55.80" width="2.92" height="2.82" fill="#94c5df"/>
<rect x="553.12" y="55.80" width="2.92" height="2.82" fill="#91c3de"/>
<rect x="556.94" y="55.80" width="2.92" height="2.82" fill="#67abd4"/>
<rect x="560.75" y="55.80" width="2.92" height="2.82" fill="#67abd4"/>
<rect x="564.57" y="55.80" width="2.92" height="2.82" fill="#62a8d3"/>
<rect x="568.39" y="55.80" width="2.92" height="2.82" fill="#549ecd"/>
<rect x="572.20" y="55.80" width="2.92" height="2.82" fill="#4d99ca"/>
<rect x="576.02" y="55.80" width="2.92" height="2.82" fill="#5ba3d0"/>
<rect x="579.84" y="55.80" width="2.92" height="2.82" fill="#7eb9da"/>
<rect x="512.55" y="59.52" width="2.85" height="2.82" fill="#fb6c4c"/>
<rect x="516.30" y="59.52" width="2.85" height="2.82" fill="#f44d37"/>
<rect x="520.05" y="59.52" width="2.85" height="2.82" fill="#fb6949"/>
<rect x="523.80" y="59.52" width="2.85" height="2.82" fill="#fa6647"/>
<rect x="527.55" y="59.52" width="2.85" height="2.82" fill="#fb6d4d"/>
<rect x="531.30" y="59.52" width="2.85" height="2.82" fill="#fc9070"/>
<rect x="537.85" y="59.52" width="2.92" height="2.82" fill="#0f5aa3"/>
<rect x="541.67" y="59.52" width="2.92" height="2.82" fill="#1663aa"/>
<rect x="545.48" y="59.52" width="2.92" height="2.82" fill="#3b8bc3"/>
<rect x="549.30" y="59.52" width="2.92" height="2.82" fill="#f8f6f5"/>
<rect x="553.12" y="59.52" width="2.92" height="2.82" fill="#fdcbb7"/>
<rect x="556.94" y="59.52" width="2.92" height="2.82" fill="#fdccb8"/>
<rect x="560.75" y="59.52" width="2.92" height="2.82" fill="#0d57a1"/>
<rect x="564.57" y="59.52" width="2.92" height="2.82" fill="#2676b8"/>
<rect x="568.39" y="59.52" width="2.92" height="2.82" fill="#3484bf"/>
<rect x="572.20" y="59.52" width="2.92" height="2.82" fill="#559fcd"/>
<rect x="576.02" y="59.52" width="2.92" height="2.82" fill="#539ecd"/>
<rect x="579.84" y="59.52" width="2.92" height="2.82" fill="#559fcd"/>
<rect x="512.55" y="63.24" width="2.85" height="2.82" fill="#fc8a6a"/>
<rect x="516.30" y="63.24" width="2.85" height="2.82" fill="#fb6d4d"/>
<rect x="520.05" y="63.24" width="2.85" height="2.82" fill="#f96346"/>
<rect x="523.80" y="63.24" width="2.85" height="2.82" fill="#f6573e"/>
<rect x="527.55" y="63.24" width="2.85" height="2.82" fill="#f96245"/>
<rect x="531.30" y="63.24" width="2.85" height="2.82" fill="#fb6f4f"/>
<rect x="537.85" y="63.24" width="2.92" height="2.82" fill="#2d7dbb"/>
<rect x="541.67" y="63.24" width="2.92" height="2.82" fill="#2979b9"/>
<rect x="545.48" y="63.24" width="2.92" height="2.82" fill="#2f7fbc"/>
<rect x="549.30" y="63.24" width="2.92" height="2.82" fill="#1561a9"/>
<rect x="553.12" y="63.24" width="2.92" height="2.82" fill="#2777b8"/>
<rect x="556.94" y="63.24" width="2.92" height="2.82" fill="#3a8ac2"/>
<rect x="560.75" y="63.24" width="2.92" height="2.82" fill="#56a0ce"/>
<rect x="564.57" y="63.24" width="2.92" height="2.82" fill="#f8f6f5"/>
<rect x="568.39" y="63.24" width="2.92" height="2.82" fill="#f8f6f5"/>
<rect x="572.20" y="63.24" width="2.92" height="2.82" fill="#f8f6f5"/>
<rect x="576.02" y="63.24" width="2.92" height="2.82" fill="#86bddc"/>
<rect x="579.84" y="63.24" width="2.92" height="2.82" fill="#64a9d3"/>
<rect x="512.55" y="66.96" width="2.85" height="2.82" fill="#fdc5af"/>
<rect x="516.30" y="66.96" width="2.85" height="2.82" fill="#fb6d4d"/>
<rect x="520.05" y="66.96" width="2.85" height="2.82" fill="#fb7959"/>
<rect x="523.80" y="66.96" width="2.85" height="2.82" fill="#fb7050"/>
<rect x="527.55" y="66.96" width="2.85" height="2.82" fill="#fa6848"/>
<rect x="531.30" y="66.96" width="2.85" height="2.82" fill="#f96446"/>
<rect x="537.85" y="66.96" width="2.92" height="2.82" fill="#88bedc"/>
<rect x="541.67" y="66.96" width="2.92" height="2.82" fill="#89bfdd"/>
<rect x="545.48" y="66.96" width="2.92" height="2.82" fill="#85bcdc"/>
<rect x="549.30" y="66.96" width="2.92" height="2.82" fill="#3383be"/>
<rect x="553.12" y="66.96" width="2.92" height="2.82" fill="#519ccc"/>
<rect x="556.94" y="66.96" width="2.92" height="2.82" fill="#59a2cf"/>
<rect x="560.75" y="66.96" width="2.92" height="2.82" fill="#58a1cf"/>
<rect x="564.57" y="66.96" width="2.92" height="2.82" fill="#56a0ce"/>
<rect x="568.39" y="66.96" width="2.92" height="2.82" fill="#63a9d3"/>
<rect x="572.20" y="66.96" width="2.92" height="2.82" fill="#b8d5ea"/>
<rect x="576.02" y="66.96" width="2.92" height="2.82" fill="#a6cde4"/>
<rect x="579.84" y="66.96" width="2.92" height="2.82" fill="#afd1e7"/>
<rect x="512.55" y="70.68" width="2.85" height="2.82" fill="#fdccb7"/>
<rect x="516.30" y="70.68" width="2.85" height="2.82" fill="#fa6748"/>
<rect x="520.05" y="70.68" width="2.85" height="2.82" fill="#fdcdb9"/>
<rect x="523.80" y="70.68" width="2.85" height="2.82" fill="#fa6748"/>
<rect x="527.55" y="70.68" width="2.85" height="2.82" fill="#f14130"/>
<rect x="531.30" y="70.68" width="2.85" height="2.82" fill="#fa6748"/>
<rect x="537.85" y="70.68" width="2.92" height="2.82" fill="#68acd5"/>
<rect x="541.67" y="70.68" width="2.92" height="2.82" fill="#509bcb"/>
<rect x="545.48" y="70.68" width="2.92" height="2.82" fill="#5fa6d1"/>
<rect x="549.30" y="70.68" width="2.92" height="2.82" fill="#68acd5"/>
<rect x="553.12" y="70.68" width="2.92" height="2.82" fill="#5ca4d0"/>
<rect x="556.94" y="70.68" width="2.92" height="2.82" fill="#5ea5d1"/>
<rect x="560.75" y="70.68" width="2.92" height="2.82" fill="#59a2cf"/>
<rect x="564.57" y="70.68" width="2.92" height="2.82" fill="#64a9d3"/>
<rect x="568.39" y="70.68" width="2.92" height="2.82" fill="#57a1ce"/>
<rect x="572.20" y="70.68" width="2.92" height="2.82" fill="#3e8ec4"/>
<rect x="576.02" y="70.68" width="2.92" height="2.82" fill="#97c6df"/>
<rect x="579.84" y="70.68" width="2.92" height="2.82" fill="#58a1cf"/>
<rect x="512.55" y="74.40" width="2.85" height="2.82" fill="#f8f6f5"/>
<rect x="516.30" y="74.40" width="2.85" height="2.82" fill="#fc9070"/>
<rect x="520.05" y="74.40" width="2.85" height="2.82" fill="#f8f6f5"/>
<rect x="523.80" y="74.40" width="2.85" height="2.82" fill="#fb7353"/>
<rect x="527.55" y="74.40" width="2.85" height="2.82" fill="#fa6647"/>
<rect x="531.30" y="74.40" width="2.85" height="2.82" fill="#fb6a4a"/>
<rect x="537.85" y="74.40" width="2.92" height="2.82" fill="#a5cde3"/>
<rect x="541.67" y="74.40" width="2.92" height="2.82" fill="#91c3de"/>
<rect x="545.48" y="74.40" width="2.92" height="2.82" fill="#b1d2e8"/>
<rect x="549.30" y="74.40" width="2.92" height="2.82" fill="#6caed6"/>
<rect x="553.12" y="74.40" width="2.92" height="2.82" fill="#61a7d2"/>
<rect x="556.94" y="74.40" width="2.92" height="2.82" fill="#93c4df"/>
<rect x="560.75" y="74.40" width="2.92" height="2.82" fill="#8abfdd"/>
<rect x="564.57" y="74.40" width="2.92" height="2.82" fill="#8abfdd"/>
<rect x="568.39" y="74.40" width="2.92" height="2.82" fill="#abd0e6"/>
<rect x="572.20" y="74.40" width="2.92" height="2.82" fill="#d9e7f5"/>
<rect x="576.02" y="74.40" width="2.92" height="2.82" fill="#b8d5ea"/>
<rect x="579.84" y="74.40" width="2.92" height="2.82" fill="#87bedc"/>
<rect x="512.55" y="78.12" width="2.85" height="2.82" fill="#f5513a"/>
<rect x="516.30" y="78.12" width="2.85" height="2.82" fill="#f85e42"/>
<rect x="520.05" y="78.12" width="2.85" height="2.82" fill="#fc8060"/>
<rect x="523.80" y="78.12" width="2.85" height="2.82" fill="#fc9373"/>
<rect x="527.55" y="78.12" width="2.85" height="2.82" fill="#fb7151"/>
<rect x="531.30" y="78.12" width="2.85" height="2.82" fill="#fc8d6d"/>
<rect x="537.85" y="78.12" width="2.92" height="2.82" fill="#5ca4d0"/>
<rect x="541.67" y="78.12" width="2.92" height="2.82" fill="#4b98c9"/>
<rect x="545.48" y="78.12" width="2.92" height="2.82" fill="#539ecd"/>
<rect x="549.30" y="78.12" width="2.92" height="2.82" fill="#539ecd"/>
<rect x="553.12" y="78.12" width="2.92" height="2.82" fill="#59a2cf"/>
<rect x="556.94" y="78.12" width="2.92" height="2.82" fill="#5ba3d0"/>
<rect x="560.75" y="78.12" width="2.92" height="2.82" fill="#58a1cf"/>
<rect x="564.57" y="78.12" width="2.92" height="2.82" fill="#509ccb"/>
<rect x="568.39" y="78.12" width="2.92" height="2.82" fill="#56a0ce"/>
<rect x="572.20" y="78.12" width="2.92" height="2.82" fill="#b5d4e9"/>
<rect x="576.02" y="78.12" width="2.92" height="2.82" fill="#d3e4f3"/>
<rect x="579.84" y="78.12" width="2.92" height="2.82" fill="#f8f6f5"/>
<rect x="512.55" y="81.84" width="2.85" height="2.82" fill="#fb6b4b"/>
<rect x="516.30" y="81.84" width="2.85" height="2.82" fill="#f14231"/>
<rect x="520.05" y="81.84" width="2.85" height="2.82" fill="#f0402f"/>
<rect x="523.80" y="81.84" width="2.85" height="2.82" fill="#fc9778"/>
<rect x="527.55" y="81.84" width="2.85" height="2.82" fill="#fc8060"/>
<rect x="531.30" y="81.84" width="2.85" height="2.82" fill="#fc8a6a"/>
<rect x="537.85" y="81.84" width="2.92" height="2.82" fill="#2e7ebc"/>
<rect x="541.67" y="81.84" width="2.92" height="2.82" fill="#3383be"/>
<rect x="545.48" y="81.84" width="2.92" height="2.82" fill="#529dcc"/>
<rect x="549.30" y="81.84" width="2.92" height="2.82" fill="#2f7fbc"/>
<rect x="553.12" y="81.84" width="2.92" height="2.82" fill="#58a1ce"/>
<rect x="556.94" y="81.84" width="2.92" height="2.82" fill="#4292c6"/>
<rect x="560.75" y="81.84" width="2.92" height="2.82" fill="#3383be"/>
<rect x="564.57" y="81.84" width="2.92" height="2.82" fill="#2e7ebc"/>
<rect x="568.39" y="81.84" width="2.92" height="2.82" fill="#2777b8"/>
<rect x="572.20" y="81.84" width="2.92" height="2.82" fill="#fcbca3"/>
<rect x="576.02" y="81.84" width="2.92" height="2.82" fill="#7bb7d9"/>
<rect x="579.84" y="81.84" width="2.92" height="2.82" fill="#bbd6eb"/>
<rect x="512.55" y="85.56" width="2.85" height="2.82" fill="#db2724"/>
<rect x="516.30" y="85.56" width="2.85" height="2.82" fill="#9e0d14"/>
<rect x="520.05" y="85.56" width="2.85" height="2.82" fill="#a50f15"/>
<rect x="523.80" y="85.56" width="2.85" height="2.82" fill="#fc8a6a"/>
<rect x="527.55" y="85.56" width="2.85" height="2.82" fill="#fb6b4b"/>
<rect x="531.30" y="85.56" width="2.85" height="2.82" fill="#fc9070"/>
<rect x="537.85" y="85.56" width="2.92" height="2.82" fill="#3b8bc3"/>
<rect x="541.67" y="85.56" width="2.92" height="2.82" fill="#2f7fbc"/>
<rect x="545.48" y="85.56" width="2.92" height="2.82" fill="#3484bf"/>
<rect x="549.30" y="85.56" width="2.92" height="2.82" fill="#58a1ce"/>
<rect x="553.12" y="85.56" width="2.92" height="2.82" fill="#105ba4"/>
<rect x="556.94" y="85.56" width="2.92" height="2.82" fill="#3282be"/>
<rect x="560.75" y="85.56" width="2.92" height="2.82" fill="#2f7fbc"/>
<rect x="564.57" y="85.56" width="2.92" height="2.82" fill="#3282be"/>
<rect x="568.39" y="85.56" width="2.92" height="2.82" fill="#2c7cbb"/>
<rect x="572.20" y="85.56" width="2.92" height="2.82" fill="#56a0ce"/>
<rect x="576.02" y="85.56" width="2.92" height="2.82" fill="#3585bf"/>
<rect x="579.84" y="85.56" width="2.92" height="2.82" fill="#3585bf"/>
<rect x="512.55" y="89.28" width="2.85" height="2.82" fill="#e22f27"/>
<rect x="516.30" y="89.28" width="2.85" height="2.82" fill="#cc191d"/>
<rect x="520.05" y="89.28" width="2.85" height="2.82" fill="#e83429"/>
<rect x="523.80" y="89.28" width="2.85" height="2.82" fill="#fc8f6f"/>
<rect x="527.55" y="89.28" width="2.85" height="2.82" fill="#fb6f4f"/>
<rect x="531.30" y="89.28" width="2.85" height="2.82" fill="#fc9879"/>
<rect x="537.85" y="89.28" width="2.92" height="2.82" fill="#115da5"/>
<rect x="541.67" y="89.28" width="2.92" height="2.82" fill="#115ca5"/>
<rect x="545.48" y="89.28" width="2.92" height="2.82" fill="#0f5aa3"/>
<rect x="549.30" y="89.28" width="2.92" height="2.82" fill="#65aad4"/>
<rect x="553.12" y="89.28" width="2.92" height="2.82" fill="#90c2de"/>
<rect x="556.94" y="89.28" width="2.92" height="2.82" fill="#8bbfdd"/>
<rect x="560.75" y="89.28" width="2.92" height="2.82" fill="#0a549e"/>
<rect x="564.57" y="89.28" width="2.92" height="2.82" fill="#1e6db2"/>
<rect x="568.39" y="89.28" width="2.92" height="2.82" fill="#105ba4"/>
<rect x="572.20" y="89.28" width="2.92" height="2.82" fill="#fdceba"/>
<rect x="576.02" y="89.28" width="2.92" height="2.82" fill="#fdc7b0"/>
<rect x="579.84" y="89.28" width="2.92" height="2.82" fill="#fdcdb9"/>
<rect x="512.55" y="93.01" width="2.85" height="2.82" fill="#ec382b"/>
<rect x="516.30" y="93.01" width="2.85" height="2.82" fill="#e43027"/>
<rect x="520.05" y="93.01" width="2.85" height="2.82" fill="#ec392b"/>
<rect x="523.80" y="93.01" width="2.85" height="2.82" fill="#fc8f6f"/>
<rect x="527.55" y="93.01" width="2.85" height="2.82" fill="#fc8f6f"/>
<rect x="531.30" y="93.01" width="2.85" height="2.82" fill="#fc9879"/>
<rect x="537.85" y="93.01" width="2.92" height="2.82" fill="#2e7ebc"/>
<rect x="541.67" y="93.01" width="2.92" height="2.82" fill="#3383be"/>
<rect x="545.48" y="93.01" width="2.92" height="2.82" fill="#3787c0"/>
<rect x="549.30" y="93.01" width="2.92" height="2.82" fill="#5ba3d0"/>
<rect x="553.12" y="93.01" width="2.92" height="2.82" fill="#5ca4d0"/>
<rect x="556.94" y="93.01" width="2.92" height="2.82" fill="#f8f6f5"/>
<rect x="560.75" y="93.01" width="2.92" height="2.82" fill="#ffebe2"/>
<rect x="564.57" y="93.01" width="2.92" height="2.82" fill="#ffede5"/>
<rect x="568.39" y="93.01" width="2.92" height="2.82" fill="#4f9bcb"/>
<rect x="572.20" y="93.01" width="2.92" height="2.82" fill="#529dcc"/>
<rect x="576.02" y="93.01" width="2.92" height="2.82" fill="#509ccc"/>
<rect x="579.84" y="93.01" width="2.92" height="2.82" fill="#569fce"/>
<rect x="512.55" y="96.73" width="2.85" height="2.82" fill="#fc9373"/>
<rect x="516.30" y="96.73" width="2.85" height="2.82" fill="#fc9576"/>
<rect x="520.05" y="96.73" width="2.85" height="2.82" fill="#fc9475"/>
<rect x="523.80" y="96.73" width="2.85" height="2.82" fill="#fc8a6a"/>
<rect x="527.55" y="96.73" width="2.85" height="2.82" fill="#fb6949"/>
<rect x="531.30" y="96.73" width="2.85" height="2.82" fill="#fc9e80"/>
<rect x="537.85" y="96.73" width="2.92" height="2.82" fill="#8abfdd"/>
<rect x="541.67" y="96.73" width="2.92" height="2.82" fill="#98c7e0"/>
<rect x="545.48" y="96.73" width="2.92" height="2.82" fill="#88bedc"/>
<rect x="549.30" y="96.73" width="2.92" height="2.82" fill="#bcd7eb"/>
<rect x="553.12" y="96.73" width="2.92" height="2.82" fill="#96c6df"/>
<rect x="556.94" y="96.73" width="2.92" height="2.82" fill="#88bedc"/>
<rect x="560.75" y="96.73" width="2.92" height="2.82" fill="#8abfdd"/>
<rect x="564.57" y="96.73" width="2.92" height="2.82" fill="#9bc8e0"/>
<rect x="568.39" y="96.73" width="2.92" height="2.82" fill="#82bbdb"/>
<rect x="572.20" y="96.73" width="2.92" height="2.82" fill="#74b3d8"/>
<rect x="576.02" y="96.73" width="2.92" height="2.82" fill="#99c7e0"/>
<rect x="579.84" y="96.73" width="2.92" height="2.82" fill="#77b5d9"/>
<rect x="512.55" y="100.45" width="2.85" height="2.82" fill="#fb7050"/>
<rect x="516.30" y="100.45" width="2.85" height="2.82" fill="#fb6e4e"/>
<rect x="520.05" y="100.45" width="2.85" height="2.82" fill="#fdcbb6"/>
<rect x="523.80" y="100.45" width="2.85" height="2.82" fill="#fc9e80"/>
<rect x="527.55" y="100.45" width="2.85" height="2.82" fill="#fc8868"/>
<rect x="531.30" y="100.45" width="2.85" height="2.82" fill="#fc8e6e"/>
<rect x="537.85" y="100.45" width="2.92" height="2.82" fill="#3686c0"/>
<rect x="541.67" y="100.45" width="2.92" height="2.82" fill="#3383be"/>
<rect x="545.48" y="100.45" width="2.92" height="2.82" fill="#3c8cc3"/>
<rect x="549.30" y="100.45" width="2.92" height="2.82" fill="#b5d4e9"/>
<rect x="553.12" y="100.45" width="2.92" height="2.82" fill="#d5e5f4"/>
<rect x="556.94" y="100.45" width="2.92" height="2.82" fill="#c0d8ed"/>
<rect x="560.75" y="100.45" width="2.92" height="2.82" fill="#b5d4e9"/>
<rect x="564.57" y="100.45" width="2.92" height="2.82" fill="#b1d2e8"/>
<rect x="568.39" y="100.45" width="2.92" height="2.82" fill="#d4e4f4"/>
<rect x="572.20" y="100.45" width="2.92" height="2.82" fill="#7cb7da"/>
<rect x="576.02" y="100.45" width="2.92" height="2.82" fill="#8ec1de"/>
<rect x="579.84" y="100.45" width="2.92" height="2.82" fill="#91c3de"/>
<rect x="512.55" y="104.17" width="2.85" height="2.82" fill="#ec382b"/>
<rect x="516.30" y="104.17" width="2.85" height="2.82" fill="#f03e2e"/>
<rect x="520.05" y="104.17" width="2.85" height="2.82" fill="#fb6c4c"/>
<rect x="523.80" y="104.17" width="2.85" height="2.82" fill="#fc8969"/>
<rect x="527.55" y="104.17" width="2.85" height="2.82" fill="#fc8464"/>
<rect x="531.30" y="104.17" width="2.85" height="2.82" fill="#fdc8b2"/>
<rect x="537.85" y="104.17" width="2.92" height="2.82" fill="#5ca4d0"/>
<rect x="541.67" y="104.17" width="2.92" height="2.82" fill="#56a0ce"/>
<rect x="545.48" y="104.17" width="2.92" height="2.82" fill="#6aadd6"/>
<rect x="549.30" y="104.17" width="2.92" height="2.82" fill="#b2d3e8"/>
<rect x="553.12" y="104.17" width="2.92" height="2.82" fill="#94c5df"/>
<rect x="556.94" y="104.17" width="2.92" height="2.82" fill="#4795c8"/>
<rect x="560.75" y="104.17" width="2.92" height="2.82" fill="#82bbdb"/>
<rect x="564.57" y="104.17" width="2.92" height="2.82" fill="#b1d2e8"/>
<rect x="568.39" y="104.17" width="2.92" height="2.82" fill="#b4d3e9"/>
<rect x="572.20" y="104.17" width="2.92" height="2.82" fill="#a2cce2"/>
<rect x="576.02" y="104.17" width="2.92" height="2.82" fill="#82bbdb"/>
<rect x="579.84" y="104.17" width="2.92" height="2.82" fill="#79b6d9"/>
<rect x="512.55" y="107.89" width="2.85" height="2.82" fill="#fb7050"/>
<rect x="516.30" y="107.89" width="2.85" height="2.82" fill="#f96446"/>
<rect x="520.05" y="107.89" width="2.85" height="2.82" fill="#f96346"/>
<rect x="523.80" y="107.89" width="2.85" height="2.82" fill="#f8f6f5"/>
<rect x="527.55" y="107.89" width="2.85" height="2.82" fill="#fcc3ab"/>
<rect x="531.30" y="107.89" width="2.85" height="2.82" fill="#fcc0a7"/>
<rect x="537.85" y="107.89" width="2.92" height="2.82" fill="#59a2cf"/>
<rect x="541.67" y="107.89" width="2.92" height="2.82" fill="#5ba3d0"/>
<rect x="545.48" y="107.89" width="2.92" height="2.82" fill="#549ecd"/>
<rect x="549.30" y="107.89" width="2.92" height="2.82" fill="#67abd5"/>
<rect x="553.12" y="107.89" width="2.92" height="2.82" fill="#5aa2cf"/>
<rect x="556.94" y="107.89" width="2.92" height="2.82" fill="#529dcc"/>
<rect x="560.75" y="107.89" width="2.92" height="2.82" fill="#96c6df"/>
<rect x="564.57" y="107.89" width="2.92" height="2.82" fill="#529dcc"/>
<rect x="568.39" y="107.89" width="2.92" height="2.82" fill="#5ea5d1"/>
<rect x="572.20" y="107.89" width="2.92" height="2.82" fill="#9fcae1"/>
<rect x="576.02" y="107.89" width="2.92" height="2.82" fill="#5ba3d0"/>
<rect x="579.84" y="107.89" width="2.92" height="2.82" fill="#94c4df"/>
<rect x="512.55" y="111.61" width="2.85" height="2.82" fill="#ed392b"/>
<rect x="516.30" y="111.61" width="2.85" height="2.82" fill="#fb7353"/>
<rect x="520.05" y="111.61" width="2.85" height="2.82" fill="#f86044"/>
<rect x="523.80" y="111.61" width="2.85" height="2.82" fill="#f8f6f5"/>
<rect x="527.55" y="111.61" width="2.85" height="2.82" fill="#f8f6f5"/>
<rect x="531.30" y="111.61" width="2.85" height="2.82" fill="#f8f6f5"/>
<rect x="537.85" y="111.61" width="2.92" height="2.82" fill="#5da5d1"/>
<rect x="541.67" y="111.61" width="2.92" height="2.82" fill="#519ccc"/>
<rect x="545.48" y="111.61" width="2.92" height="2.82" fill="#59a2cf"/>
<rect x="549.30" y="111.61" width="2.92" height="2.82" fill="#b5d4e9"/>
<rect x="553.12" y="111.61" width="2.92" height="2.82" fill="#96c6df"/>
<rect x="556.94" y="111.61" width="2.92" height="2.82" fill="#7eb8da"/>
<rect x="560.75" y="111.61" width="2.92" height="2.82" fill="#acd0e6"/>
<rect x="564.57" y="111.61" width="2.92" height="2.82" fill="#8dc1dd"/>
<rect x="568.39" y="111.61" width="2.92" height="2.82" fill="#87bddc"/>
<rect x="572.20" y="111.61" width="2.92" height="2.82" fill="#94c5df"/>
<rect x="576.02" y="111.61" width="2.92" height="2.82" fill="#94c4df"/>
<rect x="579.84" y="111.61" width="2.92" height="2.82" fill="#92c3de"/>
<rect x="512.55" y="115.33" width="2.85" height="2.82" fill="#fa6748"/>
<rect x="516.30" y="115.33" width="2.85" height="2.82" fill="#fa6748"/>
<rect x="520.05" y="115.33" width="2.85" height="2.82" fill="#fb7050"/>
<rect x="523.80" y="115.33" width="2.85" height="2.82" fill="#f8f6f5"/>
<rect x="527.55" y="115.33" width="2.85" height="2.82" fill="#f8f6f5"/>
<rect x="531.30" y="115.33" width="2.85" height="2.82" fill="#fdc9b3"/>
<rect x="537.85" y="115.33" width="2.92" height="2.82" fill="#529dcc"/>
<rect x="541.67" y="115.33" width="2.92" height="2.82" fill="#5da4d1"/>
<rect x="545.48" y="115.33" width="2.92" height="2.82" fill="#5ca3d0"/>
<rect x="549.30" y="115.33" width="2.92" height="2.82" fill="#57a0ce"/>
<rect x="553.12" y="115.33" width="2.92" height="2.82" fill="#d9e8f5"/>
<rect x="556.94" y="115.33" width="2.92" height="2.82" fill="#d5e5f4"/>
<rect x="560.75" y="115.33" width="2.92" height="2.82" fill="#bcd7ec"/>
<rect x="564.57" y="115.33" width="2.92" height="2.82" fill="#d2e3f3"/>
<rect x="568.39" y="115.33" width="2.92" height="2.82" fill="#ddeaf7"/>
<rect x="572.20" y="115.33" width="2.92" height="2.82" fill="#8bc0dd"/>
<rect x="576.02" y="115.33" width="2.92" height="2.82" fill="#98c7e0"/>
<rect x="579.84" y="115.33" width="2.92" height="2.82" fill="#83bbdb"/>
<rect x="511.70" y="121.20" width="23.30" height="193.70" fill="#4d4d4d"/>
<rect x="537.00" y="121.20" width="46.60" height="193.70" fill="#4d4d4d"/>
<rect x="512.55" y="122.05" width="2.85" height="2.81" fill="#a8cee4"/>
<rect x="516.30" y="122.05" width="2.85" height="2.81" fill="#a9cfe5"/>
<rect x="520.05" y="122.05" width="2.85" height="2.81" fill="#d5e5f4"/>
<rect x="523.80" y="122.05" width="2.85" height="2.81" fill="#fb7656"/>
<rect x="527.55" y="122.05" width="2.85" height="2.81" fill="#f14231"/>
<rect x="531.30" y="122.05" width="2.85" height="2.81" fill="#fb6e4e"/>
<rect x="537.85" y="122.05" width="2.92" height="2.81" fill="#62a8d3"/>
<rect x="541.67" y="122.05" width="2.92" height="2.81" fill="#519dcc"/>
<rect x="545.48" y="122.05" width="2.92" height="2.81" fill="#59a2cf"/>
<rect x="549.30" y="122.05" width="2.92" height="2.81" fill="#8abfdd"/>
<rect x="553.12" y="122.05" width="2.92" height="2.81" fill="#57a0ce"/>
<rect x="556.94" y="122.05" width="2.92" height="2.81" fill="#93c4df"/>
<rect x="560.75" y="122.05" width="2.92" height="2.81" fill="#93c4df"/>
<rect x="564.57" y="122.05" width="2.92" height="2.81" fill="#93c4df"/>
<rect x="568.39" y="122.05" width="2.92" height="2.81" fill="#57a0ce"/>
<rect x="572.20" y="122.05" width="2.92" height="2.81" fill="#afd1e7"/>
<rect x="576.02" y="122.05" width="2.92" height="2.81" fill="#add1e6"/>
<rect x="579.84" y="122.05" width="2.92" height="2.81" fill="#d4e4f4"/>
<rect x="512.55" y="125.76" width="2.85" height="2.81" fill="#1966ad"/>
<rect x="516.30" y="125.76" width="2.85" height="2.81" fill="#1561a9"/>
<rect x="520.05" y="125.76" width="2.85" height="2.81" fill="#3181bd"/>
<rect x="523.80" y="125.76" width="2.85" height="2.81" fill="#fb7555"/>
<rect x="527.55" y="125.76" width="2.85" height="2.81" fill="#fb6e4e"/>
<rect x="531.30" y="125.76" width="2.85" height="2.81" fill="#f96044"/>
<rect x="537.85" y="125.76" width="2.92" height="2.81" fill="#fcc2aa"/>
<rect x="541.67" y="125.76" width="2.92" height="2.81" fill="#fcc2aa"/>
<rect x="545.48" y="125.76" width="2.92" height="2.81" fill="#fdc9b4"/>
<rect x="549.30" y="125.76" width="2.92" height="2.81" fill="#8cc0dd"/>
<rect x="553.12" y="125.76" width="2.92" height="2.81" fill="#7fb9da"/>
<rect x="556.94" y="125.76" width="2.92" height="2.81" fill="#b5d4e9"/>
<rect x="560.75" y="125.76" width="2.92" height="2.81" fill="#afd1e7"/>
<rect x="564.57" y="125.76" width="2.92" height="2.81" fill="#f8f6f5"/>
<rect x="568.39" y="125.76" width="2.92" height="2.81" fill="#fdcdb8"/>
<rect x="572.20" y="125.76" width="2.92" height="2.81" fill="#90c2de"/>
<rect x="576.02" y="125.76" width="2.92" height="2.81" fill="#8abfdd"/>
<rect x="579.84" y="125.76" width="2.92" height="2.81" fill="#2e7ebb"/>
<rect x="512.55" y="129.47" width="2.85" height="2.81" fill="#f8f6f5"/>
<rect x="516.30" y="129.47" width="2.85" height="2.81" fill="#f8f6f5"/>
<rect x="520.05" y="129.47" width="2.85" height="2.81" fill="#f8f6f5"/>
<rect x="523.80" y="129.47" width="2.85" height="2.81" fill="#fb7757"/>
<rect x="527.55" y="129.47" width="2.85" height="2.81" fill="#fb7151"/>
<rect x="531.30" y="129.47" width="2.85" height="2.81" fill="#fc9171"/>
<rect x="537.85" y="129.47" width="2.92" height="2.81" fill="#62a8d3"/>
<rect x="541.67" y="129.47" width="2.92" height="2.81" fill="#66aad4"/>
<rect x="545.48" y="129.47" width="2.92" height="2.81" fill="#65aad3"/>
<rect x="549.30" y="129.47" width="2.92" height="2.81" fill="#93c4df"/>
<rect x="553.12" y="129.47" width="2.92" height="2.81" fill="#8bc0dd"/>
<rect x="556.94" y="129.47" width="2.92" height="2.81" fill="#63a9d3"/>
<rect x="560.75" y="129.47" width="2.92" height="2.81" fill="#87bddc"/>
<rect x="564.57" y="129.47" width="2.92" height="2.81" fill="#78b5d9"/>
<rect x="568.39" y="129.47" width="2.92" height="2.81" fill="#5ca4d0"/>
<rect x="572.20" y="129.47" width="2.92" height="2.81" fill="#7db8da"/>
<rect x="576.02" y="129.47" width="2.92" height="2.81" fill="#87bddc"/>
<rect x="579.84" y="129.47" width="2.92" height="2.81" fill="#95c5df"/>
<rect x="512.55" y="133.18" width="2.85" height="2.81" fill="#8cc0dd"/>
<rect x="516.30" y="133.18" width="2.85" height="2.81" fill="#3888c1"/>
<rect x="520.05" y="133.18" width="2.85" height="2.81" fill="#2c7cbb"/>
<rect x="523.80" y="133.18" width="2.85" height="2.81" fill="#d32020"/>
<rect x="527.55" y="133.18" width="2.85" height="2.81" fill="#c1161b"/>
<rect x="531.30" y="133.18" width="2.85" height="2.81" fill="#c7171c"/>
<rect x="537.85" y="133.18" width="2.92" height="2.81" fill="#3f8fc4"/>
<rect x="541.67" y="133.18" width="2.92" height="2.81" fill="#2c7cbb"/>
<rect x="545.48" y="133.18" width="2.92" height="2.81" fill="#2777b8"/>
<rect x="549.30" y="133.18" width="2.92" height="2.81" fill="#61a7d2"/>
<rect x="553.12" y="133.18" width="2.92" height="2.81" fill="#f8f6f5"/>
<rect x="556.94" y="133.18" width="2.92" height="2.81" fill="#c0d9ed"/>
<rect x="560.75" y="133.18" width="2.92" height="2.81" fill="#fdc8b2"/>
<rect x="564.57" y="133.18" width="2.92" height="2.81" fill="#f8f6f5"/>
<rect x="568.39" y="133.18" width="2.92" height="2.81" fill="#fdc6b0"/>
<rect x="572.20" y="133.18" width="2.92" height="2.81" fill="#3d8dc4"/>
<rect x="576.02" y="133.18" width="2.92" height="2.81" fill="#4393c6"/>
<rect x="579.84" y="133.18" width="2.92" height="2.81" fill="#57a1ce"/>
<rect x="512.55" y="136.89" width="2.85" height="2.81" fill="#cee0f2"/>
<rect x="516.30" y="136.89" width="2.85" height="2.81" fill="#90c2de"/>
<rect x="520.05" y="136.89" width="2.85" height="2.81" fill="#81badb"/>
<rect x="523.80" y="136.89" width="2.85" height="2.81" fill="#fc9171"/>
<rect x="527.55" y="136.89" width="2.85" height="2.81" fill="#fdccb8"/>
<rect x="531.30" y="136.89" width="2.85" height="2.81" fill="#fa6446"/>
<rect x="537.85" y="136.89" width="2.92" height="2.81" fill="#4d9aca"/>
<rect x="541.67" y="136.89" width="2.92" height="2.81" fill="#65aad4"/>
<rect x="545.48" y="136.89" width="2.92" height="2.81" fill="#56a0ce"/>
<rect x="549.30" y="136.89" width="2.92" height="2.81" fill="#86bddc"/>
<rect x="553.12" y="136.89" width="2.92" height="2.81" fill="#66abd4"/>
<rect x="556.94" y="136.89" width="2.92" height="2.81" fill="#4d9aca"/>
<rect x="560.75" y="136.89" width="2.92" height="2.81" fill="#76b4d8"/>
<rect x="564.57" y="136.89" width="2.92" height="2.81" fill="#93c4df"/>
<rect x="568.39" y="136.89" width="2.92" height="2.81" fill="#78b5d9"/>
<rect x="572.20" y="136.89" width="2.92" height="2.81" fill="#fdc9b4"/>
<rect x="576.02" y="136.89" width="2.92" height="2.81" fill="#f8f6f5"/>
<rect x="579.84" y="136.89" width="2.92" height="2.81" fill="#a6cde4"/>
<rect x="512.55" y="140.60" width="2.85" height="2.81" fill="#59a2cf"/>
<rect x="516.30" y="140.60" width="2.85" height="2.81" fill="#86bddc"/>
<rect x="520.05" y="140.60" width="2.85" height="2.81" fill="#7ab6d9"/>
<rect x="523.80" y="140.60" width="2.85" height="2.81" fill="#c1161b"/>
<rect x="527.55" y="140.60" width="2.85" height="2.81" fill="#c4161c"/>
<rect x="531.30" y="140.60" width="2.85" height="2.81" fill="#d52221"/>
<rect x="537.85" y="140.60" width="2.92" height="2.81" fill="#67acd5"/>
<rect x="541.67" y="140.60" width="2.92" height="2.81" fill="#519ccc"/>
<rect x="545.48" y="140.60" width="2.92" height="2.81" fill="#62a8d3"/>
<rect x="549.30" y="140.60" width="2.92" height="2.81" fill="#88bedc"/>
<rect x="553.12" y="140.60" width="2.92" height="2.81" fill="#3989c1"/>
<rect x="556.94" y="140.60" width="2.92" height="2.81" fill="#5ca4d0"/>
<rect x="560.75" y="140.60" width="2.92" height="2.81" fill="#65aad4"/>
<rect x="564.57" y="140.60" width="2.92" height="2.81" fill="#4d9aca"/>
<rect x="568.39" y="140.60" width="2.92" height="2.81" fill="#63a9d3"/>
<rect x="572.20" y="140.60" width="2.92" height="2.81" fill="#3282be"/>
<rect x="576.02" y="140.60" width="2.92" height="2.81" fill="#3383be"/>
<rect x="579.84" y="140.60" width="2.92" height="2.81" fill="#519ccc"/>
<rect x="512.55" y="144.31" width="2.85" height="2.81" fill="#bdd7ec"/>
<rect x="516.30" y="144.31" width="2.85" height="2.81" fill="#8abfdd"/>
<rect x="520.05" y="144.31" width="2.85" height="2.81" fill="#b4d3e9"/>
<rect x="523.80" y="144.31" width="2.85" height="2.81" fill="#eb372a"/>
<rect x="527.55" y="144.31" width="2.85" height="2.81" fill="#ec382b"/>
<rect x="531.30" y="144.31" width="2.85" height="2.81" fill="#f03f2f"/>
<rect x="537.85" y="144.31" width="2.92" height="2.81" fill="#3080bd"/>
<rect x="541.67" y="144.31" width="2.92" height="2.81" fill="#3484bf"/>
<rect x="545.48" y="144.31" width="2.92" height="2.81" fill="#2e7ebc"/>
<rect x="549.30" y="144.31" width="2.92" height="2.81" fill="#5ba3d0"/>
<rect x="553.12" y="144.31" width="2.92" height="2.81" fill="#60a6d2"/>
<rect x="556.94" y="144.31" width="2.92" height="2.81" fill="#b2d3e8"/>
<rect x="560.75" y="144.31" width="2.92" height="2.81" fill="#fdc7b1"/>
<rect x="564.57" y="144.31" width="2.92" height="2.81" fill="#fcb99f"/>
<rect x="568.39" y="144.31" width="2.92" height="2.81" fill="#fdcdb9"/>
<rect x="572.20" y="144.31" width="2.92" height="2.81" fill="#58a1cf"/>
<rect x="576.02" y="144.31" width="2.92" height="2.81" fill="#4f9bcb"/>
<rect x="579.84" y="144.31" width="2.92" height="2.81" fill="#3f8fc5"/>
<rect x="512.55" y="148.02" width="2.85" height="2.81" fill="#9bc9e0"/>
<rect x="516.30" y="148.02" width="2.85" height="2.81" fill="#bcd7eb"/>
<rect x="520.05" y="148.02" width="2.85" height="2.81" fill="#f8f6f5"/>
<rect x="523.80" y="148.02" width="2.85" height="2.81" fill="#b81419"/>
<rect x="527.55" y="148.02" width="2.85" height="2.81" fill="#ec382b"/>
<rect x="531.30" y="148.02" width="2.85" height="2.81" fill="#c2161b"/>
<rect x="537.85" y="148.02" width="2.92" height="2.81" fill="#5ca4d0"/>
<rect x="541.67" y="148.02" width="2.92" height="2.81" fill="#70b1d7"/>
<rect x="545.48" y="148.02" width="2.92" height="2.81" fill="#6eb0d7"/>
<rect x="549.30" y="148.02" width="2.92" height="2.81" fill="#529dcc"/>
<rect x="553.12" y="148.02" width="2.92" height="2.81" fill="#88bedc"/>
<rect x="556.94" y="148.02" width="2.92" height="2.81" fill="#65aad4"/>
<rect x="560.75" y="148.02" width="2.92" height="2.81" fill="#7eb9da"/>
<rect x="564.57" y="148.02" width="2.92" height="2.81" fill="#99c7e0"/>
<rect x="568.39" y="148.02" width="2.92" height="2.81" fill="#7eb8da"/>
<rect x="572.20" y="148.02" width="2.92" height="2.81" fill="#7bb7d9"/>
<rect x="576.02" y="148.02" width="2.92" height="2.81" fill="#91c3de"/>
<rect x="579.84" y="148.02" width="2.92" height="2.81" fill="#95c5df"/>
<rect x="512.55" y="151.73" width="2.85" height="2.81" fill="#f8f6f5"/>
<rect x="516.30" y="151.73" width="2.85" height="2.81" fill="#bbd6eb"/>
<rect x="520.05" y="151.73" width="2.85" height="2.81" fill="#abd0e6"/>
<rect x="523.80" y="151.73" width="2.85" height="2.81" fill="#fb7454"/>
<rect x="527.55" y="151.73" width="2.85" height="2.81" fill="#f96245"/>
<rect x="531.30" y="151.73" width="2.85" height="2.81" fill="#fb6949"/>
<rect x="537.85" y="151.73" width="2.92" height="2.81" fill="#3484bf"/>
<rect x="541.67" y="151.73" width="2.92" height="2.81" fill="#3787c1"/>
<rect x="545.48" y="151.73" width="2.92" height="2.81" fill="#3080bd"/>
<rect x="549.30" y="151.73" width="2.92" height="2.81" fill="#6aadd6"/>
<rect x="553.12" y="151.73" width="2.92" height="2.81" fill="#5da4d0"/>
<rect x="556.94" y="151.73" width="2.92" height="2.81" fill="#3484bf"/>
<rect x="560.75" y="151.73" width="2.92" height="2.81" fill="#83bbdb"/>
<rect x="564.57" y="151.73" width="2.92" height="2.81" fill="#fdd3c1"/>
<rect x="568.39" y="151.73" width="2.92" height="2.81" fill="#78b5d9"/>
<rect x="572.20" y="151.73" width="2.92" height="2.81" fill="#5da5d1"/>
<rect x="576.02" y="151.73" width="2.92" height="2.81" fill="#3989c1"/>
<rect x="579.84" y="151.73" width="2.92" height="2.81" fill="#4f9bcb"/>
<rect x="512.55" y="155.44" width="2.85" height="2.81" fill="#79b5d9"/>
<rect x="516.30" y="155.44" width="2.85" height="2.81" fill="#dae8f6"/>
<rect x="520.05" y="155.44" width="2.85" height="2.81" fill="#b9d6ea"/>
<rect x="523.80" y="155.44" width="2.85" height="2.81" fill="#cb181d"/>
<rect x="527.55" y="155.44" width="2.85" height="2.81" fill="#f14130"/>
<rect x="531.30" y="155.44" width="2.85" height="2.81" fill="#fb6c4c"/>
<rect x="537.85" y="155.44" width="2.92" height="2.81" fill="#4e9acb"/>
<rect x="541.67" y="155.44" width="2.92" height="2.81" fill="#57a1ce"/>
<rect x="545.48" y="155.44" width="2.92" height="2.81" fill="#59a2cf"/>
<rect x="549.30" y="155.44" width="2.92" height="2.81" fill="#58a1ce"/>
<rect x="553.12" y="155.44" width="2.92" height="2.81" fill="#5ba3d0"/>
<rect x="556.94" y="155.44" width="2.92" height="2.81" fill="#81badb"/>
<rect x="560.75" y="155.44" width="2.92" height="2.81" fill="#81badb"/>
<rect x="564.57" y="155.44" width="2.92" height="2.81" fill="#5ea5d1"/>
<rect x="568.39" y="155.44" width="2.92" height="2.81" fill="#5aa2cf"/>
<rect x="572.20" y="155.44" width="2.92" height="2.81" fill="#71b1d7"/>
<rect x="576.02" y="155.44" width="2.92" height="2.81" fill="#85bcdc"/>
<rect x="579.84" y="155.44" width="2.92" height="2.81" fill="#5ca4d0"/>
<rect x="512.55" y="159.15" width="2.85" height="2.81" fill="#cfe1f2"/>
<rect x="516.30" y="159.15" width="2.85" height="2.81" fill="#8abfdd"/>
<rect x="520.05" y="159.15" width="2.85" height="2.81" fill="#deebf7"/>
<rect x="523.80" y="159.15" width="2.85" height="2.81" fill="#fc8d6d"/>
<rect x="527.55" y="159.15" width="2.85" height="2.81" fill="#f14331"/>
<rect x="531.30" y="159.15" width="2.85" height="2.81" fill="#fb6e4e"/>
<rect x="537.85" y="159.15" width="2.92" height="2.81" fill="#58a1cf"/>
<rect x="541.67" y="159.15" width="2.92" height="2.81" fill="#5ca4d0"/>
<rect x="545.48" y="159.15" width="2.92" height="2.81" fill="#61a7d2"/>
<rect x="549.30" y="159.15" width="2.92" height="2.81" fill="#5fa6d1"/>
<rect x="553.12" y="159.15" width="2.92" height="2.81" fill="#5fa6d1"/>
<rect x="556.94" y="159.15" width="2.92" height="2.81" fill="#519ccc"/>
<rect x="560.75" y="159.15" width="2.92" height="2.81" fill="#f8f6f5"/>
<rect x="564.57" y="159.15" width="2.92" height="2.81" fill="#8fc2de"/>
<rect x="568.39" y="159.15" width="2.92" height="2.81" fill="#a2cce2"/>
<rect x="572.20" y="159.15" width="2.92" height="2.81" fill="#8fc2de"/>
<rect x="576.02" y="159.15" width="2.92" height="2.81" fill="#7ab6d9"/>
<rect x="579.84" y="159.15" width="2.92" height="2.81" fill="#7cb7da"/>
<rect x="512.55" y="162.86" width="2.85" height="2.81" fill="#b3d3e8"/>
<rect x="516.30" y="162.86" width="2.85" height="2.81" fill="#98c7e0"/>
<rect x="520.05" y="162.86" width="2.85" height="2.81" fill="#85bcdc"/>
<rect x="523.80" y="162.86" width="2.85" height="2.81" fill="#f96446"/>
<rect x="527.55" y="162.86" width="2.85" height="2.81" fill="#f96144"/>
<rect x="531.30" y="162.86" width="2.85" height="2.81" fill="#fb694a"/>
<rect x="537.85" y="162.86" width="2.92" height="2.81" fill="#f8f6f5"/>
<rect x="541.67" y="162.86" width="2.92" height="2.81" fill="#fcc0a7"/>
<rect x="545.48" y="162.86" width="2.92" height="2.81" fill="#f8f6f5"/>
<rect x="549.30" y="162.86" width="2.92" height="2.81" fill="#4f9bcb"/>
<rect x="553.12" y="162.86" width="2.92" height="2.81" fill="#88bedc"/>
<rect x="556.94" y="162.86" width="2.92" height="2.81" fill="#8fc2de"/>
<rect x="560.75" y="162.86" width="2.92" height="2.81" fill="#8dc1dd"/>
<rect x="564.57" y="162.86" width="2.92" height="2.81" fill="#4b98ca"/>
<rect x="568.39" y="162.86" width="2.92" height="2.81" fill="#539dcc"/>
<rect x="572.20" y="162.86" width="2.92" height="2.81" fill="#69add5"/>
<rect x="576.02" y="162.86" width="2.92" height="2.81" fill="#89bedc"/>
<rect x="579.84" y="162.86" width="2.92" height="2.81" fill="#8bc0dd"/>
<rect x="512.55" y="166.57" width="2.85" height="2.81" fill="#dae8f6"/>
<rect x="516.30" y="166.57" width="2.85" height="2.81" fill="#b6d4e9"/>
<rect x="520.05" y="166.57" width="2.85" height="2.81" fill="#98c7e0"/>
<rect x="523.80" y="166.57" width="2.85" height="2.81" fill="#f96245"/>
<rect x="527.55" y="166.57" width="2.85" height="2.81" fill="#d21f20"/>
<rect x="531.30" y="166.57" width="2.85" height="2.81" fill="#fb6d4d"/>
<rect x="537.85" y="166.57" width="2.92" height="2.81" fill="#b7d5ea"/>
<rect x="541.67" y="166.57" width="2.92" height="2.81" fill="#b8d5ea"/>
<rect x="545.48" y="166.57" width="2.92" height="2.81" fill="#82bbdb"/>
<rect x="549.30" y="166.57" width="2.92" height="2.81" fill="#86bddc"/>
<rect x="553.12" y="166.57" width="2.92" height="2.81" fill="#60a7d2"/>
<rect x="556.94" y="166.57" width="2.92" height="2.81" fill="#3888c1"/>
<rect x="560.75" y="166.57" width="2.92" height="2.81" fill="#f8f6f5"/>
<rect x="564.57" y="166.57" width="2.92" height="2.81" fill="#539dcd"/>
<rect x="568.39" y="166.57" width="2.92" height="2.81" fill="#f8f6f5"/>
<rect x="572.20" y="166.57" width="2.92" height="2.81" fill="#59a1cf"/>
<rect x="576.02" y="166.57" width="2.92" height="2.81" fill="#5da5d1"/>
<rect x="579.84" y="166.57" width="2.92" height="2.81" fill="#5da4d0"/>
<rect x="512.55" y="170.27" width="2.85" height="2.81" fill="#d8e7f5"/>
<rect x="516.30" y="170.27" width="2.85" height="2.81" fill="#c1d9ed"/>
<rect x="520.05" y="170.27" width="2.85" height="2.81" fill="#d1e3f3"/>
<rect x="523.80" y="170.27" width="2.85" height="2.81" fill="#f14231"/>
<rect x="527.55" y="170.27" width="2.85" height="2.81" fill="#fc9777"/>
<rect x="531.30" y="170.27" width="2.85" height="2.81" fill="#f85d42"/>
<rect x="537.85" y="170.27" width="2.92" height="2.81" fill="#87bedc"/>
<rect x="541.67" y="170.27" width="2.92" height="2.81" fill="#b2d2e8"/>
<rect x="545.48" y="170.27" width="2.92" height="2.81" fill="#90c2de"/>
<rect x="549.30" y="170.27" width="2.92" height="2.81" fill="#bed8ec"/>
<rect x="553.12" y="170.27" width="2.92" height="2.81" fill="#88bedc"/>
<rect x="556.94" y="170.27" width="2.92" height="2.81" fill="#a8cee5"/>
<rect x="560.75" y="170.27" width="2.92" height="2.81" fill="#93c4df"/>
<rect x="564.57" y="170.27" width="2.92" height="2.81" fill="#a7cee4"/>
<rect x="568.39" y="170.27" width="2.92" height="2.81" fill="#95c5df"/>
<rect x="572.20" y="170.27" width="2.92" height="2.81" fill="#91c3de"/>
<rect x="576.02" y="170.27" width="2.92" height="2.81" fill="#84bcdb"/>
<rect x="579.84" y="170.27" width="2.92" height="2.81" fill="#8abfdd"/>
<rect x="512.55" y="173.98" width="2.85" height="2.81" fill="#f8f6f5"/>
<rect x="516.30" y="173.98" width="2.85" height="2.81" fill="#91c3de"/>
<rect x="520.05" y="173.98" width="2.85" height="2.81" fill="#bad6eb"/>
<rect x="523.80" y="173.98" width="2.85" height="2.81" fill="#fca184"/>
<rect x="527.55" y="173.98" width="2.85" height="2.81" fill="#fb7454"/>
<rect x="531.30" y="173.98" width="2.85" height="2.81" fill="#fb7353"/>
<rect x="537.85" y="173.98" width="2.92" height="2.81" fill="#98c7e0"/>
<rect x="541.67" y="173.98" width="2.92" height="2.81" fill="#58a1cf"/>
<rect x="545.48" y="173.98" width="2.92" height="2.81" fill="#90c3de"/>
<rect x="549.30" y="173.98" width="2.92" height="2.81" fill="#c2d9ee"/>
<rect x="553.12" y="173.98" width="2.92" height="2.81" fill="#70b1d7"/>
<rect x="556.94" y="173.98" width="2.92" height="2.81" fill="#92c3de"/>
<rect x="560.75" y="173.98" width="2.92" height="2.81" fill="#bcd7ec"/>
<rect x="564.57" y="173.98" width="2.92" height="2.81" fill="#d3e4f3"/>
<rect x="568.39" y="173.98" width="2.92" height="2.81" fill="#7eb8da"/>
<rect x="572.20" y="173.98" width="2.92" height="2.81" fill="#95c5df"/>
<rect x="576.02" y="173.98" width="2.92" height="2.81" fill="#99c7e0"/>
<rect x="579.84" y="173.98" width="2.92" height="2.81" fill="#94c4df"/>
<rect x="512.55" y="177.69" width="2.85" height="2.81" fill="#d4e4f4"/>
<rect x="516.30" y="177.69" width="2.85" height="2.81" fill="#8dc1dd"/>
<rect x="520.05" y="177.69" width="2.85" height="2.81" fill="#b8d5ea"/>
<rect x="523.80" y="177.69" width="2.85" height="2.81" fill="#fb6a4a"/>
<rect x="527.55" y="177.69" width="2.85" height="2.81" fill="#f85f43"/>
<rect x="531.30" y="177.69" width="2.85" height="2.81" fill="#fb7555"/>
<rect x="537.85" y="177.69" width="2.92" height="2.81" fill="#5ea5d1"/>
<rect x="541.67" y="177.69" width="2.92" height="2.81" fill="#66abd4"/>
<rect x="545.48" y="177.69" width="2.92" height="2.81" fill="#4997c9"/>
<rect x="549.30" y="177.69" width="2.92" height="2.81" fill="#4c99ca"/>
<rect x="553.12" y="177.69" width="2.92" height="2.81" fill="#539dcd"/>
<rect x="556.94" y="177.69" width="2.92" height="2.81" fill="#8bc0dd"/>
<rect x="560.75" y="177.69" width="2.92" height="2.81" fill="#83bbdb"/>
<rect x="564.57" y="177.69" width="2.92" height="2.81" fill="#6cafd6"/>
<rect x="568.39" y="177.69" width="2.92" height="2.81" fill="#58a1cf"/>
<rect x="572.20" y="177.69" width="2.92" height="2.81" fill="#fdd4c2"/>
<rect x="576.02" y="177.69" width="2.92" height="2.81" fill="#97c6e0"/>
<rect x="579.84" y="177.69" width="2.92" height="2.81" fill="#fdcfbc"/>
<rect x="512.55" y="181.40" width="2.85" height="2.81" fill="#f8f6f5"/>
<rect x="516.30" y="181.40" width="2.85" height="2.81" fill="#add1e6"/>
<rect x="520.05" y="181.40" width="2.85" height="2.81" fill="#f8f6f5"/>
<rect x="523.80" y="181.40" width="2.85" height="2.81" fill="#fa6848"/>
<rect x="527.55" y="181.40" width="2.85" height="2.81" fill="#fc9a7b"/>
<rect x="531.30" y="181.40" width="2.85" height="2.81" fill="#fc8d6d"/>
<rect x="537.85" y="181.40" width="2.92" height="2.81" fill="#8bbfdd"/>
<rect x="541.67" y="181.40" width="2.92" height="2.81" fill="#a9cee5"/>
<rect x="545.48" y="181.40" width="2.92" height="2.81" fill="#93c4df"/>
<rect x="549.30" y="181.40" width="2.92" height="2.81" fill="#f8f6f5"/>
<rect x="553.12" y="181.40" width="2.92" height="2.81" fill="#b6d4e9"/>
<rect x="556.94" y="181.40" width="2.92" height="2.81" fill="#74b3d8"/>
<rect x="560.75" y="181.40" width="2.92" height="2.81" fill="#85bcdc"/>
<rect x="564.57" y="181.40" width="2.92" height="2.81" fill="#8cc0dd"/>
<rect x="568.39" y="181.40" width="2.92" height="2.81" fill="#81badb"/>
<rect x="572.20" y="181.40" width="2.92" height="2.81" fill="#aed1e7"/>
<rect x="576.02" y="181.40" width="2.92" height="2.81" fill="#85bcdc"/>
<rect x="579.84" y="181.40" width="2.92" height="2.81" fill="#b6d4e9"/>
<rect x="512.55" y="185.11" width="2.85" height="2.81" fill="#b1d2e8"/>
<rect x="516.30" y="185.11" width="2.85" height="2.81" fill="#b0d2e7"/>
<rect x="520.05" y="185.11" width="2.85" height="2.81" fill="#90c2de"/>
<rect x="523.80" y="185.11" width="2.85" height="2.81" fill="#f24633"/>
<rect x="527.55" y="185.11" width="2.85" height="2.81" fill="#ee3a2c"/>
<rect x="531.30" y="185.11" width="2.85" height="2.81" fill="#e83429"/>
<rect x="537.85" y="185.11" width="2.92" height="2.81" fill="#559fce"/>
<rect x="541.67" y="185.11" width="2.92" height="2.81" fill="#57a0ce"/>
<rect x="545.48" y="185.11" width="2.92" height="2.81" fill="#56a0ce"/>
<rect x="549.30" y="185.11" width="2.92" height="2.81" fill="#4594c7"/>
<rect x="553.12" y="185.11" width="2.92" height="2.81" fill="#58a1cf"/>
<rect x="556.94" y="185.11" width="2.92" height="2.81" fill="#7fb9da"/>
<rect x="560.75" y="185.11" width="2.92" height="2.81" fill="#76b4d8"/>
<rect x="564.57" y="185.11" width="2.92" height="2.81" fill="#f8f6f5"/>
<rect x="568.39" y="185.11" width="2.92" height="2.81" fill="#87bddc"/>
<rect x="572.20" y="185.11" width="2.92" height="2.81" fill="#7fb9da"/>
<rect x="576.02" y="185.11" width="2.92" height="2.81" fill="#78b5d9"/>
<rect x="579.84" y="185.11" width="2.92" height="2.81" fill="#86bddc"/>
<rect x="512.55" y="188.82" width="2.85" height="2.81" fill="#afd1e7"/>
<rect x="516.30" y="188.82" width="2.85" height="2.81" fill="#b1d2e8"/>
<rect x="520.05" y="188.82" width="2.85" height="2.81" fill="#bcd7eb"/>
<rect x="523.80" y="188.82" width="2.85" height="2.81" fill="#f85f43"/>
<rect x="527.55" y="188.82" width="2.85" height="2.81" fill="#fb6c4c"/>
<rect x="531.30" y="188.82" width="2.85" height="2.81" fill="#fb7858"/>
<rect x="537.85" y="188.82" width="2.92" height="2.81" fill="#b3d3e8"/>
<rect x="541.67" y="188.82" width="2.92" height="2.81" fill="#c0d8ed"/>
<rect x="545.48" y="188.82" width="2.92" height="2.81" fill="#bad6eb"/>
<rect x="549.30" y="188.82" width="2.92" height="2.81" fill="#b2d2e8"/>
<rect x="553.12" y="188.82" width="2.92" height="2.81" fill="#93c4df"/>
<rect x="556.94" y="188.82" width="2.92" height="2.81" fill="#7fb9da"/>
<rect x="560.75" y="188.82" width="2.92" height="2.81" fill="#bed7ec"/>
<rect x="564.57" y="188.82" width="2.92" height="2.81" fill="#87bddc"/>
<rect x="568.39" y="188.82" width="2.92" height="2.81" fill="#84bcdb"/>
<rect x="572.20" y="188.82" width="2.92" height="2.81" fill="#a6cee4"/>
<rect x="576.02" y="188.82" width="2.92" height="2.81" fill="#abcfe5"/>
<rect x="579.84" y="188.82" width="2.92" height="2.81" fill="#b0d2e7"/>
<rect x="512.55" y="192.53" width="2.85" height="2.81" fill="#89bedc"/>
<rect x="516.30" y="192.53" width="2.85" height="2.81" fill="#fdcab5"/>
<rect x="520.05" y="192.53" width="2.85" height="2.81" fill="#a9cfe5"/>
<rect x="523.80" y="192.53" width="2.85" height="2.81" fill="#f14130"/>
<rect x="527.55" y="192.53" width="2.85" height="2.81" fill="#eb372a"/>
<rect x="531.30" y="192.53" width="2.85" height="2.81" fill="#ef3c2d"/>
<rect x="537.85" y="192.53" width="2.92" height="2.81" fill="#59a1cf"/>
<rect x="541.67" y="192.53" width="2.92" height="2.81" fill="#5da4d0"/>
<rect x="545.48" y="192.53" width="2.92" height="2.81" fill="#4997c9"/>
<rect x="549.30" y="192.53" width="2.92" height="2.81" fill="#90c2de"/>
<rect x="553.12" y="192.53" width="2.92" height="2.81" fill="#87bddc"/>
<rect x="556.94" y="192.53" width="2.92" height="2.81" fill="#58a1cf"/>
<rect x="560.75" y="192.53" width="2.92" height="2.81" fill="#f8f6f5"/>
<rect x="564.57" y="192.53" width="2.92" height="2.81" fill="#aed1e7"/>
<rect x="568.39" y="192.53" width="2.92" height="2.81" fill="#f8f6f5"/>
<rect x="572.20" y="192.53" width="2.92" height="2.81" fill="#7fb9da"/>
<rect x="576.02" y="192.53" width="2.92" height="2.81" fill="#99c7e0"/>
<rect x="579.84" y="192.53" width="2.92" height="2.81" fill="#5aa3d0"/>
<rect x="512.55" y="196.24" width="2.85" height="2.81" fill="#65aad4"/>
<rect x="516.30" y="196.24" width="2.85" height="2.81" fill="#87bddc"/>
<rect x="520.05" y="196.24" width="2.85" height="2.81" fill="#96c5df"/>
<rect x="523.80" y="196.24" width="2.85" height="2.81" fill="#d21f20"/>
<rect x="527.55" y="196.24" width="2.85" height="2.81" fill="#cb181d"/>
<rect x="531.30" y="196.24" width="2.85" height="2.81" fill="#c0151b"/>
<rect x="537.85" y="196.24" width="2.92" height="2.81" fill="#569fce"/>
<rect x="541.67" y="196.24" width="2.92" height="2.81" fill="#58a1cf"/>
<rect x="545.48" y="196.24" width="2.92" height="2.81" fill="#4f9bcb"/>
<rect x="549.30" y="196.24" width="2.92" height="2.81" fill="#62a8d3"/>
<rect x="553.12" y="196.24" width="2.92" height="2.81" fill="#9fcae1"/>
<rect x="556.94" y="196.24" width="2.92" height="2.81" fill="#b5d4e9"/>
<rect x="560.75" y="196.24" width="2.92" height="2.81" fill="#5da4d0"/>
<rect x="564.57" y="196.24" width="2.92" height="2.81" fill="#7db8da"/>
<rect x="568.39" y="196.24" width="2.92" height="2.81" fill="#4997c9"/>
<rect x="572.20" y="196.24" width="2.92" height="2.81" fill="#fdd4c2"/>
<rect x="576.02" y="196.24" width="2.92" height="2.81" fill="#fcb79c"/>
<rect x="579.84" y="196.24" width="2.92" height="2.81" fill="#fcbea5"/>
<rect x="512.55" y="199.95" width="2.85" height="2.81" fill="#d5e5f4"/>
<rect x="516.30" y="199.95" width="2.85" height="2.81" fill="#86bddc"/>
<rect x="520.05" y="199.95" width="2.85" height="2.81" fill="#9ecae1"/>
<rect x="523.80" y="199.95" width="2.85" height="2.81" fill="#fc9171"/>
<rect x="527.55" y="199.95" width="2.85" height="2.81" fill="#fc9676"/>
<rect x="531.30" y="199.95" width="2.85" height="2.81" fill="#fb6949"/>
<rect x="537.85" y="199.95" width="2.92" height="2.81" fill="#97c6e0"/>
<rect x="541.67" y="199.95" width="2.92" height="2.81" fill="#85bcdc"/>
<rect x="545.48" y="199.95" width="2.92" height="2.81" fill="#8bbfdd"/>
<rect x="549.30" y="199.95" width="2.92" height="2.81" fill="#86bddc"/>
<rect x="553.12" y="199.95" width="2.92" height="2.81" fill="#86bddc"/>
<rect x="556.94" y="199.95" width="2.92" height="2.81" fill="#94c5df"/>
<rect x="560.75" y="199.95" width="2.92" height="2.81" fill="#7cb7da"/>
<rect x="564.57" y="199.95" width="2.92" height="2.81" fill="#94c4df"/>
<rect x="568.39" y="199.95" width="2.92" height="2.81" fill="#80badb"/>
<rect x="572.20" y="199.95" width="2.92" height="2.81" fill="#9ac8e0"/>
<rect x="576.02" y="199.95" width="2.92" height="2.81" fill="#86bddc"/>
<rect x="579.84" y="199.95" width="2.92" height="2.81" fill="#92c3de"/>
<rect x="512.55" y="203.66" width="2.85" height="2.81" fill="#d9e8f5"/>
<rect x="516.30" y="203.66" width="2.85" height="2.81" fill="#f8f6f5"/>
<rect x="520.05" y="203.66" width="2.85" height="2.81" fill="#e4eff9"/>
<rect x="523.80" y="203.66" width="2.85" height="2.81" fill="#f24533"/>
<rect x="527.55" y="203.66" width="2.85" height="2.81" fill="#fb6949"/>
<rect x="531.30" y="203.66" width="2.85" height="2.81" fill="#f96446"/>
<rect x="537.85" y="203.66" width="2.92" height="2.81" fill="#f8f6f5"/>
<rect x="541.67" y="203.66" width="2.92" height="2.81" fill="#f8f6f5"/>
<rect x="545.48" y="203.66" width="2.92" height="2.81" fill="#ddebf7"/>
<rect x="549.30" y="203.66" width="2.92" height="2.81" fill="#8cc0dd"/>
<rect x="553.12" y="203.66" width="2.92" height="2.81" fill="#60a6d2"/>
<rect x="556.94" y="203.66" width="2.92" height="2.81" fill="#61a7d2"/>
<rect x="560.75" y="203.66" width="2.92" height="2.81" fill="#81badb"/>
<rect x="564.57" y="203.66" width="2.92" height="2.81" fill="#539dcc"/>
<rect x="568.39" y="203.66" width="2.92" height="2.81" fill="#549fcd"/>
<rect x="572.20" y="203.66" width="2.92" height="2.81" fill="#62a8d3"/>
<rect x="576.02" y="203.66" width="2.92" height="2.81" fill="#5aa2cf"/>
<rect x="579.84" y="203.66" width="2.92" height="2.81" fill="#5ca4d0"/>
<rect x="512.55" y="207.37" width="2.85" height="2.81" fill="#bdd7ec"/>
<rect x="516.30" y="207.37" width="2.85" height="2.81" fill="#abcfe5"/>
<rect x="520.05" y="207.37" width="2.85" height="2.81" fill="#f8f6f5"/>
<rect x="523.80" y="207.37" width="2.85" height="2.81" fill="#ce1b1e"/>
<rect x="527.55" y="207.37" width="2.85" height="2.81" fill="#f85d41"/>
<rect x="531.30" y="207.37" width="2.85" height="2.81" fill="#e9362a"/>
<rect x="537.85" y="207.37" width="2.92" height="2.81" fill="#81badb"/>
<rect x="541.67" y="207.37" width="2.92" height="2.81" fill="#7db8da"/>
<rect x="545.48" y="207.37" width="2.92" height="2.81" fill="#82bbdb"/>
<rect x="549.30" y="207.37" width="2.92" height="2.81" fill="#96c6df"/>
<rect x="553.12" y="207.37" width="2.92" height="2.81" fill="#5ea5d1"/>
<rect x="556.94" y="207.37" width="2.92" height="2.81" fill="#529dcc"/>
<rect x="560.75" y="207.37" width="2.92" height="2.81" fill="#91c3de"/>
<rect x="564.57" y="207.37" width="2.92" height="2.81" fill="#5aa3cf"/>
<rect x="568.39" y="207.37" width="2.92" height="2.81" fill="#85bcdc"/>
<rect x="572.20" y="207.37" width="2.92" height="2.81" fill="#7bb7d9"/>
<rect x="576.02" y="207.37" width="2.92" height="2.81" fill="#7cb7da"/>
<rect x="579.84" y="207.37" width="2.92" height="2.81" fill="#80badb"/>
<rect x="512.55" y="211.08" width="2.85" height="2.81" fill="#3383be"/>
<rect x="516.30" y="211.08" width="2.85" height="2.81" fill="#2b7bba"/>
<rect x="520.05" y="211.08" width="2.85" height="2.81" fill="#2e7ebc"/>
<rect x="523.80" y="211.08" width="2.85" height="2.81" fill="#69000d"/>
<rect x="527.55" y="211.08" width="2.85" height="2.81" fill="#67000d"/>
<rect x="531.30" y="211.08" width="2.85" height="2.81" fill="#9f0d14"/>
<rect x="537.85" y="211.08" width="2.92" height="2.81" fill="#3686c0"/>
<rect x="541.67" y="211.08" width="2.92" height="2.81" fill="#0c56a0"/>
<rect x="545.48" y="211.08" width="2.92" height="2.81" fill="#135fa7"/>
<rect x="549.30" y="211.08" width="2.92" height="2.81" fill="#2d7dbb"/>
<rect x="553.12" y="211.08" width="2.92" height="2.81" fill="#1a67ae"/>
<rect x="556.94" y="211.08" width="2.92" height="2.81" fill="#3282be"/>
<rect x="560.75" y="211.08" width="2.92" height="2.81" fill="#fdd1be"/>
<rect x="564.57" y="211.08" width="2.92" height="2.81" fill="#fc9a7b"/>
<rect x="568.39" y="211.08" width="2.92" height="2.81" fill="#fed8c7"/>
<rect x="572.20" y="211.08" width="2.92" height="2.81" fill="#4997c9"/>
<rect x="576.02" y="211.08" width="2.92" height="2.81" fill="#5ca4d0"/>
<rect x="579.84" y="211.08" width="2.92" height="2.81" fill="#59a1cf"/>
<rect x="512.55" y="214.79" width="2.85" height="2.81" fill="#a9cfe5"/>
<rect x="516.30" y="214.79" width="2.85" height="2.81" fill="#8bbfdd"/>
<rect x="520.05" y="214.79" width="2.85" height="2.81" fill="#84bcdb"/>
<rect x="523.80" y="214.79" width="2.85" height="2.81" fill="#fb7555"/>
<rect x="527.55" y="214.79" width="2.85" height="2.81" fill="#fc9070"/>
<rect x="531.30" y="214.79" width="2.85" height="2.81" fill="#fb6d4d"/>
<rect x="537.85" y="214.79" width="2.92" height="2.81" fill="#84bcdb"/>
<rect x="541.67" y="214.79" width="2.92" height="2.81" fill="#88bedc"/>
<rect x="545.48" y="214.79" width="2.92" height="2.81" fill="#98c7e0"/>
<rect x="549.30" y="214.79" width="2.92" height="2.81" fill="#9cc9e1"/>
<rect x="553.12" y="214.79" width="2.92" height="2.81" fill="#f8f6f5"/>
<rect x="556.94" y="214.79" width="2.92" height="2.81" fill="#f8f6f5"/>
<rect x="560.75" y="214.79" width="2.92" height="2.81" fill="#85bcdc"/>
<rect x="564.57" y="214.79" width="2.92" height="2.81" fill="#85bcdc"/>
<rect x="568.39" y="214.79" width="2.92" height="2.81" fill="#9ecae1"/>
<rect x="572.20" y="214.79" width="2.92" height="2.81" fill="#a3cce3"/>
<rect x="576.02" y="214.79" width="2.92" height="2.81" fill="#f8f6f5"/>
<rect x="579.84" y="214.79" width="2.92" height="2.81" fill="#8dc1dd"/>
<rect x="512.55" y="218.50" width="2.85" height="2.81" fill="#5fa6d2"/>
<rect x="516.30" y="218.50" width="2.85" height="2.81" fill="#86bddc"/>
<rect x="520.05" y="218.50" width="2.85" height="2.81" fill="#8bc0dd"/>
<rect x="523.80" y="218.50" width="2.85" height="2.81" fill="#fb7353"/>
<rect x="527.55" y="218.50" width="2.85" height="2.81" fill="#fc997a"/>
<rect x="531.30" y="218.50" width="2.85" height="2.81" fill="#fb6949"/>
<rect x="537.85" y="218.50" width="2.92" height="2.81" fill="#5aa2cf"/>
<rect x="541.67" y="218.50" width="2.92" height="2.81" fill="#5ba3d0"/>
<rect x="545.48" y="218.50" width="2.92" height="2.81" fill="#4896c8"/>
<rect x="549.30" y="218.50" width="2.92" height="2.81" fill="#5da4d0"/>
<rect x="553.12" y="218.50" width="2.92" height="2.81" fill="#fdc9b3"/>
<rect x="556.94" y="218.50" width="2.92" height="2.81" fill="#94c4df"/>
<rect x="560.75" y="218.50" width="2.92" height="2.81" fill="#8dc1dd"/>
<rect x="564.57" y="218.50" width="2.92" height="2.81" fill="#84bcdb"/>
<rect x="568.39" y="218.50" width="2.92" height="2.81" fill="#84bcdb"/>
<rect x="572.20" y="218.50" width="2.92" height="2.81" fill="#f8f6f5"/>
<rect x="576.02" y="218.50" width="2.92" height="2.81" fill="#86bddc"/>
<rect x="579.84" y="218.50" width="2.92" height="2.81" fill="#89bedc"/>
<rect x="512.55" y="222.21" width="2.85" height="2.81" fill="#6aadd6"/>
<rect x="516.30" y="222.21" width="2.85" height="2.81" fill="#78b5d9"/>
<rect x="520.05" y="222.21" width="2.85" height="2.81" fill="#72b2d8"/>
<rect x="523.80" y="222.21" width="2.85" height="2.81" fill="#e9352a"/>
<rect x="527.55" y="222.21" width="2.85" height="2.81" fill="#cb181d"/>
<rect x="531.30" y="222.21" width="2.85" height="2.81" fill="#f34b36"/>
<rect x="537.85" y="222.21" width="2.92" height="2.81" fill="#65aad4"/>
<rect x="541.67" y="222.21" width="2.92" height="2.81" fill="#4f9bcb"/>
<rect x="545.48" y="222.21" width="2.92" height="2.81" fill="#73b2d8"/>
<rect x="549.30" y="222.21" width="2.92" height="2.81" fill="#5da5d1"/>
<rect x="553.12" y="222.21" width="2.92" height="2.81" fill="#539ecd"/>
<rect x="556.94" y="222.21" width="2.92" height="2.81" fill="#88bedc"/>
<rect x="560.75" y="222.21" width="2.92" height="2.81" fill="#fcc4ad"/>
<rect x="564.57" y="222.21" width="2.92" height="2.81" fill="#f8f6f5"/>
<rect x="568.39" y="222.21" width="2.92" height="2.81" fill="#fcb89d"/>
<rect x="572.20" y="222.21" width="2.92" height="2.81" fill="#bad6eb"/>
<rect x="576.02" y="222.21" width="2.92" height="2.81" fill="#97c6e0"/>
<rect x="579.84" y="222.21" width="2.92" height="2.81" fill="#87bddc"/>
<rect x="512.55" y="225.92" width="2.85" height="2.81" fill="#f8f6f5"/>
<rect x="516.30" y="225.92" width="2.85" height="2.81" fill="#8abfdd"/>
<rect x="520.05" y="225.92" width="2.85" height="2.81" fill="#f8f6f5"/>
<rect x="523.80" y="225.92" width="2.85" height="2.81" fill="#cf1c1f"/>
<rect x="527.55" y="225.92" width="2.85" height="2.81" fill="#f24633"/>
<rect x="531.30" y="225.92" width="2.85" height="2.81" fill="#f85d42"/>
<rect x="537.85" y="225.92" width="2.92" height="2.81" fill="#4e9acb"/>
<rect x="541.67" y="225.92" width="2.92" height="2.81" fill="#4e9acb"/>
<rect x="545.48" y="225.92" width="2.92" height="2.81" fill="#5ea5d1"/>
<rect x="549.30" y="225.92" width="2.92" height="2.81" fill="#64a9d3"/>
<rect x="553.12" y="225.92" width="2.92" height="2.81" fill="#64a9d3"/>
<rect x="556.94" y="225.92" width="2.92" height="2.81" fill="#5ca4d0"/>
<rect x="560.75" y="225.92" width="2.92" height="2.81" fill="#56a0ce"/>
<rect x="564.57" y="225.92" width="2.92" height="2.81" fill="#56a0ce"/>
<rect x="568.39" y="225.92" width="2.92" height="2.81" fill="#66abd4"/>
<rect x="572.20" y="225.92" width="2.92" height="2.81" fill="#59a2cf"/>
<rect x="576.02" y="225.92" width="2.92" height="2.81" fill="#5aa3d0"/>
<rect x="579.84" y="225.92" width="2.92" height="2.81" fill="#5aa2cf"/>
<rect x="512.55" y="229.63" width="2.85" height="2.81" fill="#b2d3e8"/>
<rect x="516.30" y="229.63" width="2.85" height="2.81" fill="#f8f6f5"/>
<rect x="520.05" y="229.63" width="2.85" height="2.81" fill="#fdc5af"/>
<rect x="523.80" y="229.63" width="2.85" height="2.81" fill="#fb6949"/>
<rect x="527.55" y="229.63" width="2.85" height="2.81" fill="#ed392b"/>
<rect x="531.30" y="229.63" width="2.85" height="2.81" fill="#fb7050"/>
<rect x="537.85" y="229.63" width="2.92" height="2.81" fill="#57a1ce"/>
<rect x="541.67" y="229.63" width="2.92" height="2.81" fill="#8bbfdd"/>
<rect x="545.48" y="229.63" width="2.92" height="2.81" fill="#9fcae1"/>
<rect x="549.30" y="229.63" width="2.92" height="2.81" fill="#85bcdc"/>
<rect x="553.12" y="229.63" width="2.92" height="2.81" fill="#8cc0dd"/>
<rect x="556.94" y="229.63" width="2.92" height="2.81" fill="#80badb"/>
<rect x="560.75" y="229.63" width="2.92" height="2.81" fill="#5ca4d0"/>
<rect x="564.57" y="229.63" width="2.92" height="2.81" fill="#8bbfdd"/>
<rect x="568.39" y="229.63" width="2.92" height="2.81" fill="#59a2cf"/>
<rect x="572.20" y="229.63" width="2.92" height="2.81" fill="#5ba3d0"/>
<rect x="576.02" y="229.63" width="2.92" height="2.81" fill="#8ec1de"/>
<rect x="579.84" y="229.63" width="2.92" height="2.81" fill="#c0d9ed"/>
<rect x="512.55" y="233.34" width="2.85" height="2.81" fill="#d0e2f2"/>
<rect x="516.30" y="233.34" width="2.85" height="2.81" fill="#9ac8e0"/>
<rect x="520.05" y="233.34" width="2.85" height="2.81" fill="#b5d4e9"/>
<rect x="523.80" y="233.34" width="2.85" height="2.81" fill="#ea362a"/>
<rect x="527.55" y="233.34" width="2.85" height="2.81" fill="#d7e7f5"/>
<rect x="531.30" y="233.34" width="2.85" height="2.81" fill="#c7171c"/>
<rect x="537.85" y="233.34" width="2.92" height="2.81" fill="#82badb"/>
<rect x="541.67" y="233.34" width="2.92" height="2.81" fill="#a8cee4"/>
<rect x="545.48" y="233.34" width="2.92" height="2.81" fill="#87bddc"/>
<rect x="549.30" y="233.34" width="2.92" height="2.81" fill="#6cafd6"/>
<rect x="553.12" y="233.34" width="2.92" height="2.81" fill="#94c4df"/>
<rect x="556.94" y="233.34" width="2.92" height="2.81" fill="#b0d2e7"/>
<rect x="560.75" y="233.34" width="2.92" height="2.81" fill="#8dc1dd"/>
<rect x="564.57" y="233.34" width="2.92" height="2.81" fill="#b6d4ea"/>
<rect x="568.39" y="233.34" width="2.92" height="2.81" fill="#87bddc"/>
<rect x="572.20" y="233.34" width="2.92" height="2.81" fill="#7bb7d9"/>
<rect x="576.02" y="233.34" width="2.92" height="2.81" fill="#91c3de"/>
<rect x="579.84" y="233.34" width="2.92" height="2.81" fill="#91c3de"/>
<rect x="512.55" y="237.05" width="2.85" height="2.81" fill="#2d7dbb"/>
<rect x="516.30" y="237.05" width="2.85" height="2.81" fill="#84bcdb"/>
<rect x="520.05" y="237.05" width="2.85" height="2.81" fill="#76b4d8"/>
<rect x="523.80" y="237.05" width="2.85" height="2.81" fill="#e83429"/>
<rect x="527.55" y="237.05" width="2.85" height="2.81" fill="#ed392b"/>
<rect x="531.30" y="237.05" width="2.85" height="2.81" fill="#f03e2e"/>
<rect x="537.85" y="237.05" width="2.92" height="2.81" fill="#fdc8b2"/>
<rect x="541.67" y="237.05" width="2.92" height="2.81" fill="#fdcbb6"/>
<rect x="545.48" y="237.05" width="2.92" height="2.81" fill="#fdd4c2"/>
<rect x="549.30" y="237.05" width="2.92" height="2.81" fill="#125ea6"/>
<rect x="553.12" y="237.05" width="2.92" height="2.81" fill="#135fa7"/>
<rect x="556.94" y="237.05" width="2.92" height="2.81" fill="#135fa7"/>
<rect x="560.75" y="237.05" width="2.92" height="2.81" fill="#fc9676"/>
<rect x="564.57" y="237.05" width="2.92" height="2.81" fill="#fc8464"/>
<rect x="568.39" y="237.05" width="2.92" height="2.81" fill="#fc8c6c"/>
<rect x="572.20" y="237.05" width="2.92" height="2.81" fill="#2b7bba"/>
<rect x="576.02" y="237.05" width="2.92" height="2.81" fill="#3686c0"/>
<rect x="579.84" y="237.05" width="2.92" height="2.81" fill="#3888c1"/>
<rect x="512.55" y="240.76" width="2.85" height="2.81" fill="#dbe9f6"/>
<rect x="516.30" y="240.76" width="2.85" height="2.81" fill="#b0d2e7"/>
<rect x="520.05" y="240.76" width="2.85" height="2.81" fill="#b5d4e9"/>
<rect x="523.80" y="240.76" width="2.85" height="2.81" fill="#fb6c4c"/>
<rect x="527.55" y="240.76" width="2.85" height="2.81" fill="#f96144"/>
<rect x="531.30" y="240.76" width="2.85" height="2.81" fill="#fa6748"/>
<rect x="537.85" y="240.76" width="2.92" height="2.81" fill="#bad6eb"/>
<rect x="541.67" y="240.76" width="2.92" height="2.81" fill="#8ec1de"/>
<rect x="545.48" y="240.76" width="2.92" height="2.81" fill="#b7d5ea"/>
<rect x="549.30" y="240.76" width="2.92" height="2.81" fill="#b1d2e7"/>
<rect x="553.12" y="240.76" width="2.92" height="2.81" fill="#96c5df"/>
<rect x="556.94" y="240.76" width="2.92" height="2.81" fill="#8bc0dd"/>
<rect x="560.75" y="240.76" width="2.92" height="2.81" fill="#acd0e6"/>
<rect x="564.57" y="240.76" width="2.92" height="2.81" fill="#89bfdd"/>
<rect x="568.39" y="240.76" width="2.92" height="2.81" fill="#93c4df"/>
<rect x="572.20" y="240.76" width="2.92" height="2.81" fill="#b7d5ea"/>
<rect x="576.02" y="240.76" width="2.92" height="2.81" fill="#88bedc"/>
<rect x="579.84" y="240.76" width="2.92" height="2.81" fill="#aed1e7"/>
<rect x="512.55" y="244.47" width="2.85" height="2.81" fill="#81badb"/>
<rect x="516.30" y="244.47" width="2.85" height="2.81" fill="#b3d3e8"/>
<rect x="520.05" y="244.47" width="2.85" height="2.81" fill="#97c6df"/>
<rect x="523.80" y="244.47" width="2.85" height="2.81" fill="#e53128"/>
<rect x="527.55" y="244.47" width="2.85" height="2.81" fill="#ed392b"/>
<rect x="531.30" y="244.47" width="2.85" height="2.81" fill="#fa6648"/>
<rect x="537.85" y="244.47" width="2.92" height="2.81" fill="#86bddc"/>
<rect x="541.67" y="244.47" width="2.92" height="2.81" fill="#94c5df"/>
<rect x="545.48" y="244.47" width="2.92" height="2.81" fill="#8dc1dd"/>
<rect x="549.30" y="244.47" width="2.92" height="2.81" fill="#b0d2e7"/>
<rect x="553.12" y="244.47" width="2.92" height="2.81" fill="#aacfe5"/>
<rect x="556.94" y="244.47" width="2.92" height="2.81" fill="#b2d2e8"/>
<rect x="560.75" y="244.47" width="2.92" height="2.81" fill="#a7cee4"/>
<rect x="564.57" y="244.47" width="2.92" height="2.81" fill="#8cc0dd"/>
<rect x="568.39" y="244.47" width="2.92" height="2.81" fill="#86bddc"/>
<rect x="572.20" y="244.47" width="2.92" height="2.81" fill="#7cb8da"/>
<rect x="576.02" y="244.47" width="2.92" height="2.81" fill="#82bbdb"/>
<rect x="579.84" y="244.47" width="2.92" height="2.81" fill="#70b1d7"/>
<rect x="512.55" y="248.18" width="2.85" height="2.81" fill="#4f9bcb"/>
<rect x="516.30" y="248.18" width="2.85" height="2.81" fill="#7cb7da"/>
<rect x="520.05" y="248.18" width="2.85" height="2.81" fill="#80badb"/>
<rect x="523.80" y="248.18" width="2.85" height="2.81" fill="#f24834"/>
<rect x="527.55" y="248.18" width="2.85" height="2.81" fill="#f96245"/>
<rect x="531.30" y="248.18" width="2.85" height="2.81" fill="#eb372a"/>
<rect x="537.85" y="248.18" width="2.92" height="2.81" fill="#8fc2de"/>
<rect x="541.67" y="248.18" width="2.92" height="2.81" fill="#84bcdb"/>
<rect x="545.48" y="248.18" width="2.92" height="2.81" fill="#afd1e7"/>
<rect x="549.30" y="248.18" width="2.92" height="2.81" fill="#f8f6f5"/>
<rect x="553.12" y="248.18" width="2.92" height="2.81" fill="#8bbfdd"/>
<rect x="556.94" y="248.18" width="2.92" height="2.81" fill="#8cc0dd"/>
<rect x="560.75" y="248.18" width="2.92" height="2.81" fill="#87bedc"/>
<rect x="564.57" y="248.18" width="2.92" height="2.81" fill="#f8f6f5"/>
<rect x="568.39" y="248.18" width="2.92" height="2.81" fill="#fdc6af"/>
<rect x="572.20" y="248.18" width="2.92" height="2.81" fill="#c1d9ed"/>
<rect x="576.02" y="248.18" width="2.92" height="2.81" fill="#8cc0dd"/>
<rect x="579.84" y="248.18" width="2.92" height="2.81" fill="#9bc8e0"/>
<rect x="512.55" y="251.89" width="2.85" height="2.81" fill="#8fc2de"/>
<rect x="516.30" y="251.89" width="2.85" height="2.81" fill="#84bcdb"/>
<rect x="520.05" y="251.89" width="2.85" height="2.81" fill="#89bfdd"/>
<rect x="523.80" y="251.89" width="2.85" height="2.81" fill="#cc191d"/>
<rect x="527.55" y="251.89" width="2.85" height="2.81" fill="#ca181d"/>
<rect x="531.30" y="251.89" width="2.85" height="2.81" fill="#e43027"/>
<rect x="537.85" y="251.89" width="2.92" height="2.81" fill="#64a9d3"/>
<rect x="541.67" y="251.89" width="2.92" height="2.81" fill="#539ecd"/>
<rect x="545.48" y="251.89" width="2.92" height="2.81" fill="#67abd4"/>
<rect x="549.30" y="251.89" width="2.92" height="2.81" fill="#fdcdb9"/>
<rect x="553.12" y="251.89" width="2.92" height="2.81" fill="#fc9171"/>
<rect x="556.94" y="251.89" width="2.92" height="2.81" fill="#fdd0bd"/>
<rect x="560.75" y="251.89" width="2.92" height="2.81" fill="#88bedc"/>
<rect x="564.57" y="251.89" width="2.92" height="2.81" fill="#559fcd"/>
<rect x="568.39" y="251.89" width="2.92" height="2.81" fill="#96c5df"/>
<rect x="572.20" y="251.89" width="2.92" height="2.81" fill="#5ba3d0"/>
<rect x="576.02" y="251.89" width="2.92" height="2.81" fill="#5ea5d1"/>
<rect x="579.84" y="251.89" width="2.92" height="2.81" fill="#6baed6"/>
<rect x="512.55" y="255.60" width="2.85" height="2.81" fill="#8cc0dd"/>
<rect x="516.30" y="255.60" width="2.85" height="2.81" fill="#fdd0bc"/>
<rect x="520.05" y="255.60" width="2.85" height="2.81" fill="#a7cee4"/>
<rect x="523.80" y="255.60" width="2.85" height="2.81" fill="#fb7151"/>
<rect x="527.55" y="255.60" width="2.85" height="2.81" fill="#f75a40"/>
<rect x="531.30" y="255.60" width="2.85" height="2.81" fill="#fb6e4e"/>
<rect x="537.85" y="255.60" width="2.92" height="2.81" fill="#4b98c9"/>
<rect x="541.67" y="255.60" width="2.92" height="2.81" fill="#56a0ce"/>
<rect x="545.48" y="255.60" width="2.92" height="2.81" fill="#fdc6b0"/>
<rect x="549.30" y="255.60" width="2.92" height="2.81" fill="#549ecd"/>
<rect x="553.12" y="255.60" width="2.92" height="2.81" fill="#539ecd"/>
<rect x="556.94" y="255.60" width="2.92" height="2.81" fill="#7bb7da"/>
<rect x="560.75" y="255.60" width="2.92" height="2.81" fill="#4c99ca"/>
<rect x="564.57" y="255.60" width="2.92" height="2.81" fill="#8dc1dd"/>
<rect x="568.39" y="255.60" width="2.92" height="2.81" fill="#65aad4"/>
<rect x="572.20" y="255.60" width="2.92" height="2.81" fill="#72b2d7"/>
<rect x="576.02" y="255.60" width="2.92" height="2.81" fill="#fdcdb8"/>
<rect x="579.84" y="255.60" width="2.92" height="2.81" fill="#82bbdb"/>
<rect x="512.55" y="259.31" width="2.85" height="2.81" fill="#86bddc"/>
<rect x="516.30" y="259.31" width="2.85" height="2.81" fill="#fdc9b3"/>
<rect x="520.05" y="259.31" width="2.85" height="2.81" fill="#f8f6f5"/>
<rect x="523.80" y="259.31" width="2.85" height="2.81" fill="#d01c1f"/>
<rect x="527.55" y="259.31" width="2.85" height="2.81" fill="#cd1a1e"/>
<rect x="531.30" y="259.31" width="2.85" height="2.81" fill="#c8171c"/>
<rect x="537.85" y="259.31" width="2.92" height="2.81" fill="#3d8dc3"/>
<rect x="541.67" y="259.31" width="2.92" height="2.81" fill="#2d7dbb"/>
<rect x="545.48" y="259.31" width="2.92" height="2.81" fill="#3b8bc2"/>
<rect x="549.30" y="259.31" width="2.92" height="2.81" fill="#3383be"/>
<rect x="553.12" y="259.31" width="2.92" height="2.81" fill="#60a6d2"/>
<rect x="556.94" y="259.31" width="2.92" height="2.81" fill="#3484bf"/>
<rect x="560.75" y="259.31" width="2.92" height="2.81" fill="#63a9d3"/>
<rect x="564.57" y="259.31" width="2.92" height="2.81" fill="#64a9d3"/>
<rect x="568.39" y="259.31" width="2.92" height="2.81" fill="#5da4d0"/>
<rect x="572.20" y="259.31" width="2.92" height="2.81" fill="#3989c1"/>
<rect x="576.02" y="259.31" width="2.92" height="2.81" fill="#4695c8"/>
<rect x="579.84" y="259.31" width="2.92" height="2.81" fill="#5ea5d1"/>
<rect x="512.55" y="263.02" width="2.85" height="2.81" fill="#90c3de"/>
<rect x="516.30" y="263.02" width="2.85" height="2.81" fill="#8fc2de"/>
<rect x="520.05" y="263.02" width="2.85" height="2.81" fill="#95c5df"/>
<rect x="523.80" y="263.02" width="2.85" height="2.81" fill="#dd2924"/>
<rect x="527.55" y="263.02" width="2.85" height="2.81" fill="#f03d2e"/>
<rect x="531.30" y="263.02" width="2.85" height="2.81" fill="#ed392b"/>
<rect x="537.85" y="263.02" width="2.92" height="2.81" fill="#67abd4"/>
<rect x="541.67" y="263.02" width="2.92" height="2.81" fill="#5ba3d0"/>
<rect x="545.48" y="263.02" width="2.92" height="2.81" fill="#65aad3"/>
<rect x="549.30" y="263.02" width="2.92" height="2.81" fill="#5ba3d0"/>
<rect x="553.12" y="263.02" width="2.92" height="2.81" fill="#58a1ce"/>
<rect x="556.94" y="263.02" width="2.92" height="2.81" fill="#57a0ce"/>
<rect x="560.75" y="263.02" width="2.92" height="2.81" fill="#fdc7b0"/>
<rect x="564.57" y="263.02" width="2.92" height="2.81" fill="#fdcfbc"/>
<rect x="568.39" y="263.02" width="2.92" height="2.81" fill="#fcc3ac"/>
<rect x="572.20" y="263.02" width="2.92" height="2.81" fill="#5ea5d1"/>
<rect x="576.02" y="263.02" width="2.92" height="2.81" fill="#2f7fbc"/>
<rect x="579.84" y="263.02" width="2.92" height="2.81" fill="#2d7dbb"/>
<rect x="512.55" y="266.72" width="2.85" height="2.81" fill="#dbe9f6"/>
<rect x="516.30" y="266.72" width="2.85" height="2.81" fill="#f8f6f5"/>
<rect x="520.05" y="266.72" width="2.85" height="2.81" fill="#fdc5af"/>
<rect x="523.80" y="266.72" width="2.85" height="2.81" fill="#f24633"/>
<rect x="527.55" y="266.72" width="2.85" height="2.81" fill="#fb7151"/>
<rect x="531.30" y="266.72" width="2.85" height="2.81" fill="#fb7353"/>
<rect x="537.85" y="266.72" width="2.92" height="2.81" fill="#81badb"/>
<rect x="541.67" y="266.72" width="2.92" height="2.81" fill="#8bc0dd"/>
<rect x="545.48" y="266.72" width="2.92" height="2.81" fill="#a0cbe2"/>
<rect x="549.30" y="266.72" width="2.92" height="2.81" fill="#82bbdb"/>
<rect x="553.12" y="266.72" width="2.92" height="2.81" fill="#75b3d8"/>
<rect x="556.94" y="266.72" width="2.92" height="2.81" fill="#77b5d9"/>
<rect x="560.75" y="266.72" width="2.92" height="2.81" fill="#8fc2de"/>
<rect x="564.57" y="266.72" width="2.92" height="2.81" fill="#b1d2e8"/>
<rect x="568.39" y="266.72" width="2.92" height="2.81" fill="#85bcdc"/>
<rect x="572.20" y="266.72" width="2.92" height="2.81" fill="#abcfe6"/>
<rect x="576.02" y="266.72" width="2.92" height="2.81" fill="#89bfdd"/>
<rect x="579.84" y="266.72" width="2.92" height="2.81" fill="#95c5df"/>
<rect x="512.55" y="270.43" width="2.85" height="2.81" fill="#acd0e6"/>
<rect x="516.30" y="270.43" width="2.85" height="2.81" fill="#add0e6"/>
<rect x="520.05" y="270.43" width="2.85" height="2.81" fill="#f8f6f5"/>
<rect x="523.80" y="270.43" width="2.85" height="2.81" fill="#fb6d4d"/>
<rect x="527.55" y="270.43" width="2.85" height="2.81" fill="#fa6848"/>
<rect x="531.30" y="270.43" width="2.85" height="2.81" fill="#fb6a4a"/>
<rect x="537.85" y="270.43" width="2.92" height="2.81" fill="#56a0ce"/>
<rect x="541.67" y="270.43" width="2.92" height="2.81" fill="#549ecd"/>
<rect x="545.48" y="270.43" width="2.92" height="2.81" fill="#84bcdb"/>
<rect x="549.30" y="270.43" width="2.92" height="2.81" fill="#8bc0dd"/>
<rect x="553.12" y="270.43" width="2.92" height="2.81" fill="#97c6e0"/>
<rect x="556.94" y="270.43" width="2.92" height="2.81" fill="#83bbdb"/>
<rect x="560.75" y="270.43" width="2.92" height="2.81" fill="#f8f6f5"/>
<rect x="564.57" y="270.43" width="2.92" height="2.81" fill="#fcbba1"/>
<rect x="568.39" y="270.43" width="2.92" height="2.81" fill="#fdcab5"/>
<rect x="572.20" y="270.43" width="2.92" height="2.81" fill="#8abfdd"/>
<rect x="576.02" y="270.43" width="2.92" height="2.81" fill="#7bb7d9"/>
<rect x="579.84" y="270.43" width="2.92" height="2.81" fill="#fcbfa7"/>
<rect x="512.55" y="274.14" width="2.85" height="2.81" fill="#f8f6f5"/>
<rect x="516.30" y="274.14" width="2.85" height="2.81" fill="#82bbdb"/>
<rect x="520.05" y="274.14" width="2.85" height="2.81" fill="#b8d5ea"/>
<rect x="523.80" y="274.14" width="2.85" height="2.81" fill="#c7171c"/>
<rect x="527.55" y="274.14" width="2.85" height="2.81" fill="#d11e20"/>
<rect x="531.30" y="274.14" width="2.85" height="2.81" fill="#cc191d"/>
<rect x="537.85" y="274.14" width="2.92" height="2.81" fill="#5ca4d0"/>
<rect x="541.67" y="274.14" width="2.92" height="2.81" fill="#5fa6d1"/>
<rect x="545.48" y="274.14" width="2.92" height="2.81" fill="#6cafd6"/>
<rect x="549.30" y="274.14" width="2.92" height="2.81" fill="#61a8d2"/>
<rect x="553.12" y="274.14" width="2.92" height="2.81" fill="#58a1cf"/>
<rect x="556.94" y="274.14" width="2.92" height="2.81" fill="#5ba3d0"/>
<rect x="560.75" y="274.14" width="2.92" height="2.81" fill="#5ea5d1"/>
<rect x="564.57" y="274.14" width="2.92" height="2.81" fill="#57a0ce"/>
<rect x="568.39" y="274.14" width="2.92" height="2.81" fill="#559fcd"/>
<rect x="572.20" y="274.14" width="2.92" height="2.81" fill="#81badb"/>
<rect x="576.02" y="274.14" width="2.92" height="2.81" fill="#92c3de"/>
<rect x="579.84" y="274.14" width="2.92" height="2.81" fill="#f8f6f5"/>
<rect x="512.55" y="277.85" width="2.85" height="2.81" fill="#b5d4e9"/>
<rect x="516.30" y="277.85" width="2.85" height="2.81" fill="#f8f6f5"/>
<rect x="520.05" y="277.85" width="2.85" height="2.81" fill="#99c7e0"/>
<rect x="523.80" y="277.85" width="2.85" height="2.81" fill="#fb6b4b"/>
<rect x="527.55" y="277.85" width="2.85" height="2.81" fill="#fb7151"/>
<rect x="531.30" y="277.85" width="2.85" height="2.81" fill="#f6563d"/>
<rect x="537.85" y="277.85" width="2.92" height="2.81" fill="#8bbfdd"/>
<rect x="541.67" y="277.85" width="2.92" height="2.81" fill="#8cc0dd"/>
<rect x="545.48" y="277.85" width="2.92" height="2.81" fill="#b5d4e9"/>
<rect x="549.30" y="277.85" width="2.92" height="2.81" fill="#77b4d9"/>
<rect x="553.12" y="277.85" width="2.92" height="2.81" fill="#bad6eb"/>
<rect x="556.94" y="277.85" width="2.92" height="2.81" fill="#b3d3e8"/>
<rect x="560.75" y="277.85" width="2.92" height="2.81" fill="#61a7d2"/>
<rect x="564.57" y="277.85" width="2.92" height="2.81" fill="#8bc0dd"/>
<rect x="568.39" y="277.85" width="2.92" height="2.81" fill="#8abfdd"/>
<rect x="572.20" y="277.85" width="2.92" height="2.81" fill="#f8f6f5"/>
<rect x="576.02" y="277.85" width="2.92" height="2.81" fill="#fdd4c3"/>
<rect x="579.84" y="277.85" width="2.92" height="2.81" fill="#b2d3e8"/>
<rect x="512.55" y="281.56" width="2.85" height="2.81" fill="#f8f6f5"/>
<rect x="516.30" y="281.56" width="2.85" height="2.81" fill="#b6d4e9"/>
<rect x="520.05" y="281.56" width="2.85" height="2.81" fill="#8cc0dd"/>
<rect x="523.80" y="281.56" width="2.85" height="2.81" fill="#fc997a"/>
<rect x="527.55" y="281.56" width="2.85" height="2.81" fill="#fc7f5f"/>
<rect x="531.30" y="281.56" width="2.85" height="2.81" fill="#fb6b4b"/>
<rect x="537.85" y="281.56" width="2.92" height="2.81" fill="#519ccc"/>
<rect x="541.67" y="281.56" width="2.92" height="2.81" fill="#8fc2de"/>
<rect x="545.48" y="281.56" width="2.92" height="2.81" fill="#fed8c7"/>
<rect x="549.30" y="281.56" width="2.92" height="2.81" fill="#59a1cf"/>
<rect x="553.12" y="281.56" width="2.92" height="2.81" fill="#fdc9b4"/>
<rect x="556.94" y="281.56" width="2.92" height="2.81" fill="#80b9da"/>
<rect x="560.75" y="281.56" width="2.92" height="2.81" fill="#80badb"/>
<rect x="564.57" y="281.56" width="2.92" height="2.81" fill="#fdccb7"/>
<rect x="568.39" y="281.56" width="2.92" height="2.81" fill="#86bddc"/>
<rect x="572.20" y="281.56" width="2.92" height="2.81" fill="#9cc9e1"/>
<rect x="576.02" y="281.56" width="2.92" height="2.81" fill="#7eb9da"/>
<rect x="579.84" y="281.56" width="2.92" height="2.81" fill="#88bedc"/>
<rect x="512.55" y="285.27" width="2.85" height="2.81" fill="#a9cfe5"/>
<rect x="516.30" y="285.27" width="2.85" height="2.81" fill="#aacfe5"/>
<rect x="520.05" y="285.27" width="2.85" height="2.81" fill="#b4d4e9"/>
<rect x="523.80" y="285.27" width="2.85" height="2.81" fill="#fb6b4b"/>
<rect x="527.55" y="285.27" width="2.85" height="2.81" fill="#fb7151"/>
<rect x="531.30" y="285.27" width="2.85" height="2.81" fill="#f44f39"/>
<rect x="537.85" y="285.27" width="2.92" height="2.81" fill="#b3d3e8"/>
<rect x="541.67" y="285.27" width="2.92" height="2.81" fill="#88bedc"/>
<rect x="545.48" y="285.27" width="2.92" height="2.81" fill="#bbd6eb"/>
<rect x="549.30" y="285.27" width="2.92" height="2.81" fill="#83bbdb"/>
<rect x="553.12" y="285.27" width="2.92" height="2.81" fill="#b1d2e8"/>
<rect x="556.94" y="285.27" width="2.92" height="2.81" fill="#85bcdc"/>
<rect x="560.75" y="285.27" width="2.92" height="2.81" fill="#f8f6f5"/>
<rect x="564.57" y="285.27" width="2.92" height="2.81" fill="#9cc9e1"/>
<rect x="568.39" y="285.27" width="2.92" height="2.81" fill="#82bbdb"/>
<rect x="572.20" y="285.27" width="2.92" height="2.81" fill="#84bbdb"/>
<rect x="576.02" y="285.27" width="2.92" height="2.81" fill="#8bc0dd"/>
<rect x="579.84" y="285.27" width="2.92" height="2.81" fill="#8ec1de"/>
<rect x="512.55" y="288.98" width="2.85" height="2.81" fill="#8dc0dd"/>
<rect x="516.30" y="288.98" width="2.85" height="2.81" fill="#b3d3e8"/>
<rect x="520.05" y="288.98" width="2.85" height="2.81" fill="#8fc2de"/>
<rect x="523.80" y="288.98" width="2.85" height="2.81" fill="#fb7a5a"/>
<rect x="527.55" y="288.98" width="2.85" height="2.81" fill="#e9362a"/>
<rect x="531.30" y="288.98" width="2.85" height="2.81" fill="#fb7656"/>
<rect x="537.85" y="288.98" width="2.92" height="2.81" fill="#8dc1dd"/>
<rect x="541.67" y="288.98" width="2.92" height="2.81" fill="#8dc1dd"/>
<rect x="545.48" y="288.98" width="2.92" height="2.81" fill="#87bddc"/>
<rect x="549.30" y="288.98" width="2.92" height="2.81" fill="#bfd8ed"/>
<rect x="553.12" y="288.98" width="2.92" height="2.81" fill="#a8cee5"/>
<rect x="556.94" y="288.98" width="2.92" height="2.81" fill="#f8f6f5"/>
<rect x="560.75" y="288.98" width="2.92" height="2.81" fill="#82bbdb"/>
<rect x="564.57" y="288.98" width="2.92" height="2.81" fill="#7db8da"/>
<rect x="568.39" y="288.98" width="2.92" height="2.81" fill="#92c3de"/>
<rect x="572.20" y="288.98" width="2.92" height="2.81" fill="#c9ddf0"/>
<rect x="576.02" y="288.98" width="2.92" height="2.81" fill="#afd1e7"/>
<rect x="579.84" y="288.98" width="2.92" height="2.81" fill="#a8cee4"/>
<rect x="512.55" y="292.69" width="2.85" height="2.81" fill="#7eb8da"/>
<rect x="516.30" y="292.69" width="2.85" height="2.81" fill="#b6d4ea"/>
<rect x="520.05" y="292.69" width="2.85" height="2.81" fill="#8bbfdd"/>
<rect x="523.80" y="292.69" width="2.85" height="2.81" fill="#fc9070"/>
<rect x="527.55" y="292.69" width="2.85" height="2.81" fill="#fb7959"/>
<rect x="531.30" y="292.69" width="2.85" height="2.81" fill="#fc9878"/>
<rect x="537.85" y="292.69" width="2.92" height="2.81" fill="#90c2de"/>
<rect x="541.67" y="292.69" width="2.92" height="2.81" fill="#a5cde4"/>
<rect x="545.48" y="292.69" width="2.92" height="2.81" fill="#f8f6f5"/>
<rect x="549.30" y="292.69" width="2.92" height="2.81" fill="#4e9acb"/>
<rect x="553.12" y="292.69" width="2.92" height="2.81" fill="#f8f6f5"/>
<rect x="556.94" y="292.69" width="2.92" height="2.81" fill="#9bc8e0"/>
<rect x="560.75" y="292.69" width="2.92" height="2.81" fill="#73b2d8"/>
<rect x="564.57" y="292.69" width="2.92" height="2.81" fill="#f8f6f5"/>
<rect x="568.39" y="292.69" width="2.92" height="2.81" fill="#83bbdb"/>
<rect x="572.20" y="292.69" width="2.92" height="2.81" fill="#f8f6f5"/>
<rect x="576.02" y="292.69" width="2.92" height="2.81" fill="#8fc2de"/>
<rect x="579.84" y="292.69" width="2.92" height="2.81" fill="#96c6df"/>
<rect x="512.55" y="296.40" width="2.85" height="2.81" fill="#fcc2aa"/>
<rect x="516.30" y="296.40" width="2.85" height="2.81" fill="#b1d2e8"/>
<rect x="520.05" y="296.40" width="2.85" height="2.81" fill="#f8f6f5"/>
<rect x="523.80" y="296.40" width="2.85" height="2.81" fill="#fc9b7c"/>
<rect x="527.55" y="296.40" width="2.85" height="2.81" fill="#fb6d4d"/>
<rect x="531.30" y="296.40" width="2.85" height="2.81" fill="#f96144"/>
<rect x="537.85" y="296.40" width="2.92" height="2.81" fill="#8dc0dd"/>
<rect x="541.67" y="296.40" width="2.92" height="2.81" fill="#83bbdb"/>
<rect x="545.48" y="296.40" width="2.92" height="2.81" fill="#79b6d9"/>
<rect x="549.30" y="296.40" width="2.92" height="2.81" fill="#509ccc"/>
<rect x="553.12" y="296.40" width="2.92" height="2.81" fill="#a6cee4"/>
<rect x="556.94" y="296.40" width="2.92" height="2.81" fill="#7db8da"/>
<rect x="560.75" y="296.40" width="2.92" height="2.81" fill="#9ac8e0"/>
<rect x="564.57" y="296.40" width="2.92" height="2.81" fill="#7db8da"/>
<rect x="568.39" y="296.40" width="2.92" height="2.81" fill="#86bddc"/>
<rect x="572.20" y="296.40" width="2.92" height="2.81" fill="#f8f6f5"/>
<rect x="576.02" y="296.40" width="2.92" height="2.81" fill="#95c5df"/>
<rect x="579.84" y="296.40" width="2.92" height="2.81" fill="#9ac8e0"/>
<rect x="512.55" y="300.11" width="2.85" height="2.81" fill="#95c5df"/>
<rect x="516.30" y="300.11" width="2.85" height="2.81" fill="#8abfdd"/>
<rect x="520.05" y="300.11" width="2.85" height="2.81" fill="#96c5df"/>
<rect x="523.80" y="300.11" width="2.85" height="2.81" fill="#ab1016"/>
<rect x="527.55" y="300.11" width="2.85" height="2.81" fill="#cf1c1f"/>
<rect x="531.30" y="300.11" width="2.85" height="2.81" fill="#c6171c"/>
<rect x="537.85" y="300.11" width="2.92" height="2.81" fill="#5da4d1"/>
<rect x="541.67" y="300.11" width="2.92" height="2.81" fill="#5ca4d0"/>
<rect x="545.48" y="300.11" width="2.92" height="2.81" fill="#509bcb"/>
<rect x="549.30" y="300.11" width="2.92" height="2.81" fill="#5da5d1"/>
<rect x="553.12" y="300.11" width="2.92" height="2.81" fill="#569fce"/>
<rect x="556.94" y="300.11" width="2.92" height="2.81" fill="#94c5df"/>
<rect x="560.75" y="300.11" width="2.92" height="2.81" fill="#58a1cf"/>
<rect x="564.57" y="300.11" width="2.92" height="2.81" fill="#5aa2cf"/>
<rect x="568.39" y="300.11" width="2.92" height="2.81" fill="#f8f6f5"/>
<rect x="572.20" y="300.11" width="2.92" height="2.81" fill="#5ea5d1"/>
<rect x="576.02" y="300.11" width="2.92" height="2.81" fill="#63a9d3"/>
<rect x="579.84" y="300.11" width="2.92" height="2.81" fill="#5da4d1"/>
<rect x="512.55" y="303.82" width="2.85" height="2.81" fill="#b6d4e9"/>
<rect x="516.30" y="303.82" width="2.85" height="2.81" fill="#7fb9da"/>
<rect x="520.05" y="303.82" width="2.85" height="2.81" fill="#80badb"/>
<rect x="523.80" y="303.82" width="2.85" height="2.81" fill="#fb7454"/>
<rect x="527.55" y="303.82" width="2.85" height="2.81" fill="#f96446"/>
<rect x="531.30" y="303.82" width="2.85" height="2.81" fill="#fb6e4e"/>
<rect x="537.85" y="303.82" width="2.92" height="2.81" fill="#57a0ce"/>
<rect x="541.67" y="303.82" width="2.92" height="2.81" fill="#5fa5d1"/>
<rect x="545.48" y="303.82" width="2.92" height="2.81" fill="#67abd4"/>
<rect x="549.30" y="303.82" width="2.92" height="2.81" fill="#aacfe5"/>
<rect x="553.12" y="303.82" width="2.92" height="2.81" fill="#85bcdc"/>
<rect x="556.94" y="303.82" width="2.92" height="2.81" fill="#96c6df"/>
<rect x="560.75" y="303.82" width="2.92" height="2.81" fill="#9dc9e1"/>
<rect x="564.57" y="303.82" width="2.92" height="2.81" fill="#b6d4e9"/>
<rect x="568.39" y="303.82" width="2.92" height="2.81" fill="#96c5df"/>
<rect x="572.20" y="303.82" width="2.92" height="2.81" fill="#fdccb8"/>
<rect x="576.02" y="303.82" width="2.92" height="2.81" fill="#fdc5af"/>
<rect x="579.84" y="303.82" width="2.92" height="2.81" fill="#fcbfa6"/>
<rect x="512.55" y="307.53" width="2.85" height="2.81" fill="#dbe9f6"/>
<rect x="516.30" y="307.53" width="2.85" height="2.81" fill="#7cb7da"/>
<rect x="520.05" y="307.53" width="2.85" height="2.81" fill="#d4e4f4"/>
<rect x="523.80" y="307.53" width="2.85" height="2.81" fill="#f03f2f"/>
<rect x="527.55" y="307.53" width="2.85" height="2.81" fill="#f34b36"/>
<rect x="531.30" y="307.53" width="2.85" height="2.81" fill="#fc8b6b"/>
<rect x="537.85" y="307.53" width="2.92" height="2.81" fill="#83bbdb"/>
<rect x="541.67" y="307.53" width="2.92" height="2.81" fill="#72b2d7"/>
<rect x="545.48" y="307.53" width="2.92" height="2.81" fill="#7bb7d9"/>
<rect x="549.30" y="307.53" width="2.92" height="2.81" fill="#82badb"/>
<rect x="553.12" y="307.53" width="2.92" height="2.81" fill="#78b5d9"/>
<rect x="556.94" y="307.53" width="2.92" height="2.81" fill="#94c5df"/>
<rect x="560.75" y="307.53" width="2.92" height="2.81" fill="#88bedc"/>
<rect x="564.57" y="307.53" width="2.92" height="2.81" fill="#8cc0dd"/>
<rect x="568.39" y="307.53" width="2.92" height="2.81" fill="#78b5d9"/>
<rect x="572.20" y="307.53" width="2.92" height="2.81" fill="#84bcdb"/>
<rect x="576.02" y="307.53" width="2.92" height="2.81" fill="#a6cee4"/>
<rect x="579.84" y="307.53" width="2.92" height="2.81" fill="#7cb7da"/>
<rect x="512.55" y="311.24" width="2.85" height="2.81" fill="#fdd0bd"/>
<rect x="516.30" y="311.24" width="2.85" height="2.81" fill="#fcc4ad"/>
<rect x="520.05" y="311.24" width="2.85" height="2.81" fill="#f8f6f5"/>
<rect x="523.80" y="311.24" width="2.85" height="2.81" fill="#fc9070"/>
<rect x="527.55" y="311.24" width="2.85" height="2.81" fill="#f96446"/>
<rect x="531.30" y="311.24" width="2.85" height="2.81" fill="#fb6849"/>
<rect x="537.85" y="311.24" width="2.92" height="2.81" fill="#fdd1be"/>
<rect x="541.67" y="311.24" width="2.92" height="2.81" fill="#f8f6f5"/>
<rect x="545.48" y="311.24" width="2.92" height="2.81" fill="#fdc7b1"/>
<rect x="549.30" y="311.24" width="2.92" height="2.81" fill="#f8f6f5"/>
<rect x="553.12" y="311.24" width="2.92" height="2.81" fill="#d6e5f4"/>
<rect x="556.94" y="311.24" width="2.92" height="2.81" fill="#f8f6f5"/>
<rect x="560.75" y="311.24" width="2.92" height="2.81" fill="#d0e2f2"/>
<rect x="564.57" y="311.24" width="2.92" height="2.81" fill="#f8f6f5"/>
<rect x="568.39" y="311.24" width="2.92" height="2.81" fill="#f8f6f5"/>
<rect x="572.20" y="311.24" width="2.92" height="2.81" fill="#08306b"/>
<rect x="576.02" y="311.24" width="2.92" height="2.81" fill="#083674"/>
<rect x="579.84" y="311.24" width="2.92" height="2.81" fill="#083876"/>
<rect x="511.70" y="317.40" width="23.30" height="149.50" fill="#4d4d4d"/>
<rect x="537.00" y="317.40" width="46.60" height="149.50" fill="#4d4d4d"/>
<rect x="512.55" y="318.25" width="2.85" height="2.82" fill="#ed392b"/>
<rect x="516.30" y="318.25" width="2.85" height="2.82" fill="#ec382b"/>
<rect x="520.05" y="318.25" width="2.85" height="2.82" fill="#e53128"/>
<rect x="523.80" y="318.25" width="2.85" height="2.82" fill="#57a0ce"/>
<rect x="527.55" y="318.25" width="2.85" height="2.82" fill="#95c5df"/>
<rect x="531.30" y="318.25" width="2.85" height="2.82" fill="#84bcdb"/>
<rect x="537.85" y="318.25" width="2.92" height="2.82" fill="#fcc4ac"/>
<rect x="541.67" y="318.25" width="2.92" height="2.82" fill="#fcc2ab"/>
<rect x="545.48" y="318.25" width="2.92" height="2.82" fill="#fdc7b1"/>
<rect x="549.30" y="318.25" width="2.92" height="2.82" fill="#96c6df"/>
<rect x="553.12" y="318.25" width="2.92" height="2.82" fill="#2a7ab9"/>
<rect x="556.94" y="318.25" width="2.92" height="2.82" fill="#60a7d2"/>
<rect x="560.75" y="318.25" width="2.92" height="2.82" fill="#569fce"/>
<rect x="564.57" y="318.25" width="2.92" height="2.82" fill="#67acd5"/>
<rect x="568.39" y="318.25" width="2.92" height="2.82" fill="#549ecd"/>
<rect x="572.20" y="318.25" width="2.92" height="2.82" fill="#61a7d2"/>
<rect x="576.02" y="318.25" width="2.92" height="2.82" fill="#7eb9da"/>
<rect x="579.84" y="318.25" width="2.92" height="2.82" fill="#77b5d9"/>
<rect x="512.55" y="321.97" width="2.85" height="2.82" fill="#f85f43"/>
<rect x="516.30" y="321.97" width="2.85" height="2.82" fill="#f24633"/>
<rect x="520.05" y="321.97" width="2.85" height="2.82" fill="#fb7151"/>
<rect x="523.80" y="321.97" width="2.85" height="2.82" fill="#92c4de"/>
<rect x="527.55" y="321.97" width="2.85" height="2.82" fill="#add0e6"/>
<rect x="531.30" y="321.97" width="2.85" height="2.82" fill="#86bddc"/>
<rect x="537.85" y="321.97" width="2.92" height="2.82" fill="#88bedc"/>
<rect x="541.67" y="321.97" width="2.92" height="2.82" fill="#86bddc"/>
<rect x="545.48" y="321.97" width="2.92" height="2.82" fill="#84bbdb"/>
<rect x="549.30" y="321.97" width="2.92" height="2.82" fill="#83bbdb"/>
<rect x="553.12" y="321.97" width="2.92" height="2.82" fill="#78b5d9"/>
<rect x="556.94" y="321.97" width="2.92" height="2.82" fill="#8abfdd"/>
<rect x="560.75" y="321.97" width="2.92" height="2.82" fill="#87bedc"/>
<rect x="564.57" y="321.97" width="2.92" height="2.82" fill="#9cc9e1"/>
<rect x="568.39" y="321.97" width="2.92" height="2.82" fill="#97c6df"/>
<rect x="572.20" y="321.97" width="2.92" height="2.82" fill="#b7d5ea"/>
<rect x="576.02" y="321.97" width="2.92" height="2.82" fill="#96c5df"/>
<rect x="579.84" y="321.97" width="2.92" height="2.82" fill="#87bddc"/>
<rect x="512.55" y="325.69" width="2.85" height="2.82" fill="#f86044"/>
<rect x="516.30" y="325.69" width="2.85" height="2.82" fill="#fb6d4d"/>
<rect x="520.05" y="325.69" width="2.85" height="2.82" fill="#fb6e4e"/>
<rect x="523.80" y="325.69" width="2.85" height="2.82" fill="#b6d4e9"/>
<rect x="527.55" y="325.69" width="2.85" height="2.82" fill="#d9e7f5"/>
<rect x="531.30" y="325.69" width="2.85" height="2.82" fill="#dceaf6"/>
<rect x="537.85" y="325.69" width="2.92" height="2.82" fill="#85bcdc"/>
<rect x="541.67" y="325.69" width="2.92" height="2.82" fill="#86bddc"/>
<rect x="545.48" y="325.69" width="2.92" height="2.82" fill="#86bddc"/>
<rect x="549.30" y="325.69" width="2.92" height="2.82" fill="#f8f6f5"/>
<rect x="553.12" y="325.69" width="2.92" height="2.82" fill="#89bfdd"/>
<rect x="556.94" y="325.69" width="2.92" height="2.82" fill="#88bedc"/>
<rect x="560.75" y="325.69" width="2.92" height="2.82" fill="#4c99ca"/>
<rect x="564.57" y="325.69" width="2.92" height="2.82" fill="#8abfdd"/>
<rect x="568.39" y="325.69" width="2.92" height="2.82" fill="#81badb"/>
<rect x="572.20" y="325.69" width="2.92" height="2.82" fill="#89bedc"/>
<rect x="576.02" y="325.69" width="2.92" height="2.82" fill="#8ec1de"/>
<rect x="579.84" y="325.69" width="2.92" height="2.82" fill="#b6d4e9"/>
<rect x="512.55" y="329.40" width="2.85" height="2.82" fill="#fb7151"/>
<rect x="516.30" y="329.40" width="2.85" height="2.82" fill="#fb6a4a"/>
<rect x="520.05" y="329.40" width="2.85" height="2.82" fill="#fb6f4f"/>
<rect x="523.80" y="329.40" width="2.85" height="2.82" fill="#f8f6f5"/>
<rect x="527.55" y="329.40" width="2.85" height="2.82" fill="#fc8868"/>
<rect x="531.30" y="329.40" width="2.85" height="2.82" fill="#f8f6f5"/>
<rect x="537.85" y="329.40" width="2.92" height="2.82" fill="#2a7aba"/>
<rect x="541.67" y="329.40" width="2.92" height="2.82" fill="#115ca5"/>
<rect x="545.48" y="329.40" width="2.92" height="2.82" fill="#2c7cbb"/>
<rect x="549.30" y="329.40" width="2.92" height="2.82" fill="#60a6d2"/>
<rect x="553.12" y="329.40" width="2.92" height="2.82" fill="#88bedc"/>
<rect x="556.94" y="329.40" width="2.92" height="2.82" fill="#6fb0d7"/>
<rect x="560.75" y="329.40" width="2.92" height="2.82" fill="#fcc4ad"/>
<rect x="564.57" y="329.40" width="2.92" height="2.82" fill="#fcc2ab"/>
<rect x="568.39" y="329.40" width="2.92" height="2.82" fill="#fdc8b2"/>
<rect x="572.20" y="329.40" width="2.92" height="2.82" fill="#d5e5f4"/>
<rect x="576.02" y="329.40" width="2.92" height="2.82" fill="#95c5df"/>
<rect x="579.84" y="329.40" width="2.92" height="2.82" fill="#f8f6f5"/>
<rect x="512.55" y="333.12" width="2.85" height="2.82" fill="#ec382b"/>
<rect x="516.30" y="333.12" width="2.85" height="2.82" fill="#e9352a"/>
<rect x="520.05" y="333.12" width="2.85" height="2.82" fill="#f03f2e"/>
<rect x="523.80" y="333.12" width="2.85" height="2.82" fill="#8cc0dd"/>
<rect x="527.55" y="333.12" width="2.85" height="2.82" fill="#8dc1dd"/>
<rect x="531.30" y="333.12" width="2.85" height="2.82" fill="#8cc0dd"/>
<rect x="537.85" y="333.12" width="2.92" height="2.82" fill="#65aad3"/>
<rect x="541.67" y="333.12" width="2.92" height="2.82" fill="#66abd4"/>
<rect x="545.48" y="333.12" width="2.92" height="2.82" fill="#5ba3d0"/>
<rect x="549.30" y="333.12" width="2.92" height="2.82" fill="#69add5"/>
<rect x="553.12" y="333.12" width="2.92" height="2.82" fill="#63a8d3"/>
<rect x="556.94" y="333.12" width="2.92" height="2.82" fill="#90c3de"/>
<rect x="560.75" y="333.12" width="2.92" height="2.82" fill="#94c5df"/>
<rect x="564.57" y="333.12" width="2.92" height="2.82" fill="#87bedc"/>
<rect x="568.39" y="333.12" width="2.92" height="2.82" fill="#8ec1de"/>
<rect x="572.20" y="333.12" width="2.92" height="2.82" fill="#8bbfdd"/>
<rect x="576.02" y="333.12" width="2.92" height="2.82" fill="#bad6eb"/>
<rect x="579.84" y="333.12" width="2.92" height="2.82" fill="#fdcfbc"/>
<rect x="512.55" y="336.84" width="2.85" height="2.82" fill="#c7171c"/>
<rect x="516.30" y="336.84" width="2.85" height="2.82" fill="#ed392b"/>
<rect x="520.05" y="336.84" width="2.85" height="2.82" fill="#f0402f"/>
<rect x="523.80" y="336.84" width="2.85" height="2.82" fill="#86bddc"/>
<rect x="527.55" y="336.84" width="2.85" height="2.82" fill="#b1d2e8"/>
<rect x="531.30" y="336.84" width="2.85" height="2.82" fill="#b1d2e8"/>
<rect x="537.85" y="336.84" width="2.92" height="2.82" fill="#4e9acb"/>
<rect x="541.67" y="336.84" width="2.92" height="2.82" fill="#5ea5d1"/>
<rect x="545.48" y="336.84" width="2.92" height="2.82" fill="#57a1ce"/>
<rect x="549.30" y="336.84" width="2.92" height="2.82" fill="#86bddc"/>
<rect x="553.12" y="336.84" width="2.92" height="2.82" fill="#5da4d0"/>
<rect x="556.94" y="336.84" width="2.92" height="2.82" fill="#64a9d3"/>
<rect x="560.75" y="336.84" width="2.92" height="2.82" fill="#559fcd"/>
<rect x="564.57" y="336.84" width="2.92" height="2.82" fill="#59a2cf"/>
<rect x="568.39" y="336.84" width="2.92" height="2.82" fill="#5aa3d0"/>
<rect x="572.20" y="336.84" width="2.92" height="2.82" fill="#8abfdd"/>
<rect x="576.02" y="336.84" width="2.92" height="2.82" fill="#8abfdd"/>
<rect x="579.84" y="336.84" width="2.92" height="2.82" fill="#93c4df"/>
<rect x="512.55" y="340.56" width="2.85" height="2.82" fill="#fa6848"/>
<rect x="516.30" y="340.56" width="2.85" height="2.82" fill="#f34c37"/>
<rect x="520.05" y="340.56" width="2.85" height="2.82" fill="#ef3c2c"/>
<rect x="523.80" y="340.56" width="2.85" height="2.82" fill="#99c7e0"/>
<rect x="527.55" y="340.56" width="2.85" height="2.82" fill="#b5d4e9"/>
<rect x="531.30" y="340.56" width="2.85" height="2.82" fill="#83bbdb"/>
<rect x="537.85" y="340.56" width="2.92" height="2.82" fill="#8dc1dd"/>
<rect x="541.67" y="340.56" width="2.92" height="2.82" fill="#8fc2de"/>
<rect x="545.48" y="340.56" width="2.92" height="2.82" fill="#aed1e7"/>
<rect x="549.30" y="340.56" width="2.92" height="2.82" fill="#dbe9f6"/>
<rect x="553.12" y="340.56" width="2.92" height="2.82" fill="#b6d4e9"/>
<rect x="556.94" y="340.56" width="2.92" height="2.82" fill="#8ec1de"/>
<rect x="560.75" y="340.56" width="2.92" height="2.82" fill="#a6cee4"/>
<rect x="564.57" y="340.56" width="2.92" height="2.82" fill="#add0e6"/>
<rect x="568.39" y="340.56" width="2.92" height="2.82" fill="#afd1e7"/>
<rect x="572.20" y="340.56" width="2.92" height="2.82" fill="#96c6df"/>
<rect x="576.02" y="340.56" width="2.92" height="2.82" fill="#84bcdb"/>
<rect x="579.84" y="340.56" width="2.92" height="2.82" fill="#bdd7ec"/>
<rect x="512.55" y="344.27" width="2.85" height="2.82" fill="#ec382b"/>
<rect x="516.30" y="344.27" width="2.85" height="2.82" fill="#f24633"/>
<rect x="520.05" y="344.27" width="2.85" height="2.82" fill="#bd151a"/>
<rect x="523.80" y="344.27" width="2.85" height="2.82" fill="#9bc9e0"/>
<rect x="527.55" y="344.27" width="2.85" height="2.82" fill="#7eb8da"/>
<rect x="531.30" y="344.27" width="2.85" height="2.82" fill="#82bbdb"/>
<rect x="537.85" y="344.27" width="2.92" height="2.82" fill="#9cc9e1"/>
<rect x="541.67" y="344.27" width="2.92" height="2.82" fill="#8dc0dd"/>
<rect x="545.48" y="344.27" width="2.92" height="2.82" fill="#7bb7da"/>
<rect x="549.30" y="344.27" width="2.92" height="2.82" fill="#7fb9da"/>
<rect x="553.12" y="344.27" width="2.92" height="2.82" fill="#c0d8ed"/>
<rect x="556.94" y="344.27" width="2.92" height="2.82" fill="#b7d4ea"/>
<rect x="560.75" y="344.27" width="2.92" height="2.82" fill="#96c6df"/>
<rect x="564.57" y="344.27" width="2.92" height="2.82" fill="#95c5df"/>
<rect x="568.39" y="344.27" width="2.92" height="2.82" fill="#91c3de"/>
<rect x="572.20" y="344.27" width="2.92" height="2.82" fill="#fcbda3"/>
<rect x="576.02" y="344.27" width="2.92" height="2.82" fill="#fdc9b4"/>
<rect x="579.84" y="344.27" width="2.92" height="2.82" fill="#fdccb7"/>
<rect x="512.55" y="347.99" width="2.85" height="2.82" fill="#fb6d4d"/>
<rect x="516.30" y="347.99" width="2.85" height="2.82" fill="#fa6446"/>
<rect x="520.05" y="347.99" width="2.85" height="2.82" fill="#f96446"/>
<rect x="523.80" y="347.99" width="2.85" height="2.82" fill="#deebf7"/>
<rect x="527.55" y="347.99" width="2.85" height="2.82" fill="#f8f6f5"/>
<rect x="531.30" y="347.99" width="2.85" height="2.82" fill="#95c5df"/>
<rect x="537.85" y="347.99" width="2.92" height="2.82" fill="#8dc1dd"/>
<rect x="541.67" y="347.99" width="2.92" height="2.82" fill="#afd1e7"/>
<rect x="545.48" y="347.99" width="2.92" height="2.82" fill="#79b6d9"/>
<rect x="549.30" y="347.99" width="2.92" height="2.82" fill="#b5d4e9"/>
<rect x="553.12" y="347.99" width="2.92" height="2.82" fill="#87bedc"/>
<rect x="556.94" y="347.99" width="2.92" height="2.82" fill="#a8cee5"/>
<rect x="560.75" y="347.99" width="2.92" height="2.82" fill="#84bcdb"/>
<rect x="564.57" y="347.99" width="2.92" height="2.82" fill="#7fb9da"/>
<rect x="568.39" y="347.99" width="2.92" height="2.82" fill="#80b9da"/>
<rect x="572.20" y="347.99" width="2.92" height="2.82" fill="#88bedc"/>
<rect x="576.02" y="347.99" width="2.92" height="2.82" fill="#add1e6"/>
<rect x="579.84" y="347.99" width="2.92" height="2.82" fill="#81badb"/>
<rect x="512.55" y="351.71" width="2.85" height="2.82" fill="#fb6b4b"/>
<rect x="516.30" y="351.71" width="2.85" height="2.82" fill="#e43027"/>
<rect x="520.05" y="351.71" width="2.85" height="2.82" fill="#fb7a5a"/>
<rect x="523.80" y="351.71" width="2.85" height="2.82" fill="#fdd1be"/>
<rect x="527.55" y="351.71" width="2.85" height="2.82" fill="#a7cee4"/>
<rect x="531.30" y="351.71" width="2.85" height="2.82" fill="#86bddc"/>
<rect x="537.85" y="351.71" width="2.92" height="2.82" fill="#91c3de"/>
<rect x="541.67" y="351.71" width="2.92" height="2.82" fill="#86bddc"/>
<rect x="545.48" y="351.71" width="2.92" height="2.82" fill="#7fb9da"/>
<rect x="549.30" y="351.71" width="2.92" height="2.82" fill="#90c2de"/>
<rect x="553.12" y="351.71" width="2.92" height="2.82" fill="#fdc5ae"/>
<rect x="556.94" y="351.71" width="2.92" height="2.82" fill="#8cc0dd"/>
<rect x="560.75" y="351.71" width="2.92" height="2.82" fill="#8bc0dd"/>
<rect x="564.57" y="351.71" width="2.92" height="2.82" fill="#8bc0dd"/>
<rect x="568.39" y="351.71" width="2.92" height="2.82" fill="#7fb9da"/>
<rect x="572.20" y="351.71" width="2.92" height="2.82" fill="#96c5df"/>
<rect x="576.02" y="351.71" width="2.92" height="2.82" fill="#b5d4e9"/>
<rect x="579.84" y="351.71" width="2.92" height="2.82" fill="#83bbdb"/>
<rect x="512.55" y="355.43" width="2.85" height="2.82" fill="#f24734"/>
<rect x="516.30" y="355.43" width="2.85" height="2.82" fill="#f34a36"/>
<rect x="520.05" y="355.43" width="2.85" height="2.82" fill="#eb372a"/>
<rect x="523.80" y="355.43" width="2.85" height="2.82" fill="#fdcab5"/>
<rect x="527.55" y="355.43" width="2.85" height="2.82" fill="#fdcbb7"/>
<rect x="531.30" y="355.43" width="2.85" height="2.82" fill="#b1d2e8"/>
<rect x="537.85" y="355.43" width="2.92" height="2.82" fill="#3888c1"/>
<rect x="541.67" y="355.43" width="2.92" height="2.82" fill="#1f6fb3"/>
<rect x="545.48" y="355.43" width="2.92" height="2.82" fill="#3888c1"/>
<rect x="549.30" y="355.43" width="2.92" height="2.82" fill="#5fa6d1"/>
<rect x="553.12" y="355.43" width="2.92" height="2.82" fill="#3b8bc3"/>
<rect x="556.94" y="355.43" width="2.92" height="2.82" fill="#3585bf"/>
<rect x="560.75" y="355.43" width="2.92" height="2.82" fill="#f8f6f5"/>
<rect x="564.57" y="355.43" width="2.92" height="2.82" fill="#f8f6f5"/>
<rect x="568.39" y="355.43" width="2.92" height="2.82" fill="#fdc6af"/>
<rect x="572.20" y="355.43" width="2.92" height="2.82" fill="#8fc2de"/>
<rect x="576.02" y="355.43" width="2.92" height="2.82" fill="#a4cde3"/>
<rect x="579.84" y="355.43" width="2.92" height="2.82" fill="#b1d2e8"/>
<rect x="512.55" y="359.14" width="2.85" height="2.82" fill="#fb7454"/>
<rect x="516.30" y="359.14" width="2.85" height="2.82" fill="#f96346"/>
<rect x="520.05" y="359.14" width="2.85" height="2.82" fill="#fb6d4d"/>
<rect x="523.80" y="359.14" width="2.85" height="2.82" fill="#84bcdb"/>
<rect x="527.55" y="359.14" width="2.85" height="2.82" fill="#f8f6f5"/>
<rect x="531.30" y="359.14" width="2.85" height="2.82" fill="#88bedc"/>
<rect x="537.85" y="359.14" width="2.92" height="2.82" fill="#f8f6f5"/>
<rect x="541.67" y="359.14" width="2.92" height="2.82" fill="#f8f6f5"/>
<rect x="545.48" y="359.14" width="2.92" height="2.82" fill="#e1edf8"/>
<rect x="549.30" y="359.14" width="2.92" height="2.82" fill="#80badb"/>
<rect x="553.12" y="359.14" width="2.92" height="2.82" fill="#b4d3e9"/>
<rect x="556.94" y="359.14" width="2.92" height="2.82" fill="#87bedc"/>
<rect x="560.75" y="359.14" width="2.92" height="2.82" fill="#8fc2de"/>
<rect x="564.57" y="359.14" width="2.92" height="2.82" fill="#9fcae1"/>
<rect x="568.39" y="359.14" width="2.92" height="2.82" fill="#fdd4c2"/>
<rect x="572.20" y="359.14" width="2.92" height="2.82" fill="#7cb7da"/>
<rect x="576.02" y="359.14" width="2.92" height="2.82" fill="#92c4de"/>
<rect x="579.84" y="359.14" width="2.92" height="2.82" fill="#8ec1de"/>
<rect x="512.55" y="362.86" width="2.85" height="2.82" fill="#d62322"/>
<rect x="516.30" y="362.86" width="2.85" height="2.82" fill="#cf1c1f"/>
<rect x="520.05" y="362.86" width="2.85" height="2.82" fill="#ce1b1e"/>
<rect x="523.80" y="362.86" width="2.85" height="2.82" fill="#8dc0dd"/>
<rect x="527.55" y="362.86" width="2.85" height="2.82" fill="#8bc0dd"/>
<rect x="531.30" y="362.86" width="2.85" height="2.82" fill="#91c3de"/>
<rect x="537.85" y="362.86" width="2.92" height="2.82" fill="#90c2de"/>
<rect x="541.67" y="362.86" width="2.92" height="2.82" fill="#b3d3e8"/>
<rect x="545.48" y="362.86" width="2.92" height="2.82" fill="#b0d2e7"/>
<rect x="549.30" y="362.86" width="2.92" height="2.82" fill="#8cc0dd"/>
<rect x="553.12" y="362.86" width="2.92" height="2.82" fill="#4d99ca"/>
<rect x="556.94" y="362.86" width="2.92" height="2.82" fill="#59a2cf"/>
<rect x="560.75" y="362.86" width="2.92" height="2.82" fill="#5aa2cf"/>
<rect x="564.57" y="362.86" width="2.92" height="2.82" fill="#61a7d2"/>
<rect x="568.39" y="362.86" width="2.92" height="2.82" fill="#539dcd"/>
<rect x="572.20" y="362.86" width="2.92" height="2.82" fill="#f8f6f5"/>
<rect x="576.02" y="362.86" width="2.92" height="2.82" fill="#bfd8ed"/>
<rect x="579.84" y="362.86" width="2.92" height="2.82" fill="#bad6eb"/>
<rect x="512.55" y="366.58" width="2.85" height="2.82" fill="#fa6547"/>
<rect x="516.30" y="366.58" width="2.85" height="2.82" fill="#fb7454"/>
<rect x="520.05" y="366.58" width="2.85" height="2.82" fill="#f85e43"/>
<rect x="523.80" y="366.58" width="2.85" height="2.82" fill="#b3d3e8"/>
<rect x="527.55" y="366.58" width="2.85" height="2.82" fill="#bfd8ec"/>
<rect x="531.30" y="366.58" width="2.85" height="2.82" fill="#8dc0dd"/>
<rect x="537.85" y="366.58" width="2.92" height="2.82" fill="#a4cde3"/>
<rect x="541.67" y="366.58" width="2.92" height="2.82" fill="#b9d6eb"/>
<rect x="545.48" y="366.58" width="2.92" height="2.82" fill="#bdd7ec"/>
<rect x="549.30" y="366.58" width="2.92" height="2.82" fill="#85bcdc"/>
<rect x="553.12" y="366.58" width="2.92" height="2.82" fill="#a8cee5"/>
<rect x="556.94" y="366.58" width="2.92" height="2.82" fill="#80badb"/>
<rect x="560.75" y="366.58" width="2.92" height="2.82" fill="#b5d4e9"/>
<rect x="564.57" y="366.58" width="2.92" height="2.82" fill="#b1d2e8"/>
<rect x="568.39" y="366.58" width="2.92" height="2.82" fill="#87bddc"/>
<rect x="572.20" y="366.58" width="2.92" height="2.82" fill="#a9cfe5"/>
<rect x="576.02" y="366.58" width="2.92" height="2.82" fill="#a1cbe2"/>
<rect x="579.84" y="366.58" width="2.92" height="2.82" fill="#8bc0dd"/>
<rect x="512.55" y="370.30" width="2.85" height="2.82" fill="#f85e43"/>
<rect x="516.30" y="370.30" width="2.85" height="2.82" fill="#fc9576"/>
<rect x="520.05" y="370.30" width="2.85" height="2.82" fill="#fa6547"/>
<rect x="523.80" y="370.30" width="2.85" height="2.82" fill="#bad6eb"/>
<rect x="527.55" y="370.30" width="2.85" height="2.82" fill="#f8f6f5"/>
<rect x="531.30" y="370.30" width="2.85" height="2.82" fill="#afd1e7"/>
<rect x="537.85" y="370.30" width="2.92" height="2.82" fill="#bad6eb"/>
<rect x="541.67" y="370.30" width="2.92" height="2.82" fill="#abd0e6"/>
<rect x="545.48" y="370.30" width="2.92" height="2.82" fill="#dceaf6"/>
<rect x="549.30" y="370.30" width="2.92" height="2.82" fill="#b2d2e8"/>
<rect x="553.12" y="370.30" width="2.92" height="2.82" fill="#8bc0dd"/>
<rect x="556.94" y="370.30" width="2.92" height="2.82" fill="#8ec1dd"/>
<rect x="560.75" y="370.30" width="2.92" height="2.82" fill="#5aa2cf"/>
<rect x="564.57" y="370.30" width="2.92" height="2.82" fill="#aacfe5"/>
<rect x="568.39" y="370.30" width="2.92" height="2.82" fill="#6baed6"/>
<rect x="572.20" y="370.30" width="2.92" height="2.82" fill="#bcd7ec"/>
<rect x="576.02" y="370.30" width="2.92" height="2.82" fill="#87bedc"/>
<rect x="579.84" y="370.30" width="2.92" height="2.82" fill="#dae9f6"/>
<rect x="512.55" y="374.01" width="2.85" height="2.82" fill="#fb7252"/>
<rect x="516.30" y="374.01" width="2.85" height="2.82" fill="#ed392b"/>
<rect x="520.05" y="374.01" width="2.85" height="2.82" fill="#f14432"/>
<rect x="523.80" y="374.01" width="2.85" height="2.82" fill="#b3d3e8"/>
<rect x="527.55" y="374.01" width="2.85" height="2.82" fill="#519ccc"/>
<rect x="531.30" y="374.01" width="2.85" height="2.82" fill="#9fcae1"/>
<rect x="537.85" y="374.01" width="2.92" height="2.82" fill="#88bedc"/>
<rect x="541.67" y="374.01" width="2.92" height="2.82" fill="#86bddc"/>
<rect x="545.48" y="374.01" width="2.92" height="2.82" fill="#94c5df"/>
<rect x="549.30" y="374.01" width="2.92" height="2.82" fill="#85bcdc"/>
<rect x="553.12" y="374.01" width="2.92" height="2.82" fill="#87bddc"/>
<rect x="556.94" y="374.01" width="2.92" height="2.82" fill="#8ec1de"/>
<rect x="560.75" y="374.01" width="2.92" height="2.82" fill="#a9cfe5"/>
<rect x="564.57" y="374.01" width="2.92" height="2.82" fill="#98c7e0"/>
<rect x="568.39" y="374.01" width="2.92" height="2.82" fill="#84bcdb"/>
<rect x="572.20" y="374.01" width="2.92" height="2.82" fill="#8dc1dd"/>
<rect x="576.02" y="374.01" width="2.92" height="2.82" fill="#95c5df"/>
<rect x="579.84" y="374.01" width="2.92" height="2.82" fill="#8cc0dd"/>
<rect x="512.55" y="377.73" width="2.85" height="2.82" fill="#f03f2f"/>
<rect x="516.30" y="377.73" width="2.85" height="2.82" fill="#f96346"/>
<rect x="520.05" y="377.73" width="2.85" height="2.82" fill="#fb7757"/>
<rect x="523.80" y="377.73" width="2.85" height="2.82" fill="#8cc0dd"/>
<rect x="527.55" y="377.73" width="2.85" height="2.82" fill="#8fc2de"/>
<rect x="531.30" y="377.73" width="2.85" height="2.82" fill="#a6cde4"/>
<rect x="537.85" y="377.73" width="2.92" height="2.82" fill="#f8f6f5"/>
<rect x="541.67" y="377.73" width="2.92" height="2.82" fill="#80b9da"/>
<rect x="545.48" y="377.73" width="2.92" height="2.82" fill="#c1d9ed"/>
<rect x="549.30" y="377.73" width="2.92" height="2.82" fill="#f8f6f5"/>
<rect x="553.12" y="377.73" width="2.92" height="2.82" fill="#8cc0dd"/>
<rect x="556.94" y="377.73" width="2.92" height="2.82" fill="#b0d1e7"/>
<rect x="560.75" y="377.73" width="2.92" height="2.82" fill="#92c3de"/>
<rect x="564.57" y="377.73" width="2.92" height="2.82" fill="#9ecae1"/>
<rect x="568.39" y="377.73" width="2.92" height="2.82" fill="#9ac8e0"/>
<rect x="572.20" y="377.73" width="2.92" height="2.82" fill="#7db8da"/>
<rect x="576.02" y="377.73" width="2.92" height="2.82" fill="#88bedc"/>
<rect x="579.84" y="377.73" width="2.92" height="2.82" fill="#93c4df"/>
<rect x="512.55" y="381.45" width="2.85" height="2.82" fill="#c5171c"/>
<rect x="516.30" y="381.45" width="2.85" height="2.82" fill="#f14331"/>
<rect x="520.05" y="381.45" width="2.85" height="2.82" fill="#f14331"/>
<rect x="523.80" y="381.45" width="2.85" height="2.82" fill="#fdd3c1"/>
<rect x="527.55" y="381.45" width="2.85" height="2.82" fill="#a9cfe5"/>
<rect x="531.30" y="381.45" width="2.85" height="2.82" fill="#a3cce3"/>
<rect x="537.85" y="381.45" width="2.92" height="2.82" fill="#3888c1"/>
<rect x="541.67" y="381.45" width="2.92" height="2.82" fill="#3080bd"/>
<rect x="545.48" y="381.45" width="2.92" height="2.82" fill="#539ecd"/>
<rect x="549.30" y="381.45" width="2.92" height="2.82" fill="#fcbba1"/>
<rect x="553.12" y="381.45" width="2.92" height="2.82" fill="#fca689"/>
<rect x="556.94" y="381.45" width="2.92" height="2.82" fill="#fdc9b4"/>
<rect x="560.75" y="381.45" width="2.92" height="2.82" fill="#2e7ebc"/>
<rect x="564.57" y="381.45" width="2.92" height="2.82" fill="#67acd5"/>
<rect x="568.39" y="381.45" width="2.92" height="2.82" fill="#2f7fbc"/>
<rect x="572.20" y="381.45" width="2.92" height="2.82" fill="#5aa2cf"/>
<rect x="576.02" y="381.45" width="2.92" height="2.82" fill="#559fce"/>
<rect x="579.84" y="381.45" width="2.92" height="2.82" fill="#90c3de"/>
<rect x="512.55" y="385.17" width="2.85" height="2.82" fill="#ed392b"/>
<rect x="516.30" y="385.17" width="2.85" height="2.82" fill="#f14230"/>
<rect x="520.05" y="385.17" width="2.85" height="2.82" fill="#fa6547"/>
<rect x="523.80" y="385.17" width="2.85" height="2.82" fill="#b1d2e8"/>
<rect x="527.55" y="385.17" width="2.85" height="2.82" fill="#f8f6f5"/>
<rect x="531.30" y="385.17" width="2.85" height="2.82" fill="#f8f6f5"/>
<rect x="537.85" y="385.17" width="2.92" height="2.82" fill="#7ab6d9"/>
<rect x="541.67" y="385.17" width="2.92" height="2.82" fill="#7fb9da"/>
<rect x="545.48" y="385.17" width="2.92" height="2.82" fill="#82badb"/>
<rect x="549.30" y="385.17" width="2.92" height="2.82" fill="#91c3de"/>
<rect x="553.12" y="385.17" width="2.92" height="2.82" fill="#8ec1de"/>
<rect x="556.94" y="385.17" width="2.92" height="2.82" fill="#a5cde4"/>
<rect x="560.75" y="385.17" width="2.92" height="2.82" fill="#83bbdb"/>
<rect x="564.57" y="385.17" width="2.92" height="2.82" fill="#93c4df"/>
<rect x="568.39" y="385.17" width="2.92" height="2.82" fill="#8abfdd"/>
<rect x="572.20" y="385.17" width="2.92" height="2.82" fill="#f8f6f5"/>
<rect x="576.02" y="385.17" width="2.92" height="2.82" fill="#f8f6f5"/>
<rect x="579.84" y="385.17" width="2.92" height="2.82" fill="#f8f6f5"/>
<rect x="512.55" y="388.88" width="2.85" height="2.82" fill="#e73329"/>
<rect x="516.30" y="388.88" width="2.85" height="2.82" fill="#fa6547"/>
<rect x="520.05" y="388.88" width="2.85" height="2.82" fill="#f03e2e"/>
<rect x="523.80" y="388.88" width="2.85" height="2.82" fill="#bfd8ed"/>
<rect x="527.55" y="388.88" width="2.85" height="2.82" fill="#f8f6f5"/>
<rect x="531.30" y="388.88" width="2.85" height="2.82" fill="#dae8f6"/>
<rect x="537.85" y="388.88" width="2.92" height="2.82" fill="#82badb"/>
<rect x="541.67" y="388.88" width="2.92" height="2.82" fill="#8ec1de"/>
<rect x="545.48" y="388.88" width="2.92" height="2.82" fill="#aacfe5"/>
<rect x="549.30" y="388.88" width="2.92" height="2.82" fill="#f8f6f5"/>
<rect x="553.12" y="388.88" width="2.92" height="2.82" fill="#b9d5ea"/>
<rect x="556.94" y="388.88" width="2.92" height="2.82" fill="#f8f6f5"/>
<rect x="560.75" y="388.88" width="2.92" height="2.82" fill="#96c6df"/>
<rect x="564.57" y="388.88" width="2.92" height="2.82" fill="#9ac8e0"/>
<rect x="568.39" y="388.88" width="2.92" height="2.82" fill="#8cc0dd"/>
<rect x="572.20" y="388.88" width="2.92" height="2.82" fill="#87bddc"/>
<rect x="576.02" y="388.88" width="2.92" height="2.82" fill="#7cb7da"/>
<rect x="579.84" y="388.88" width="2.92" height="2.82" fill="#8bbfdd"/>
<rect x="512.55" y="392.60" width="2.85" height="2.82" fill="#f24733"/>
<rect x="516.30" y="392.60" width="2.85" height="2.82" fill="#ba1419"/>
<rect x="520.05" y="392.60" width="2.85" height="2.82" fill="#ed392b"/>
<rect x="523.80" y="392.60" width="2.85" height="2.82" fill="#f8f6f5"/>
<rect x="527.55" y="392.60" width="2.85" height="2.82" fill="#b5d4e9"/>
<rect x="531.30" y="392.60" width="2.85" height="2.82" fill="#98c7e0"/>
<rect x="537.85" y="392.60" width="2.92" height="2.82" fill="#84bcdb"/>
<rect x="541.67" y="392.60" width="2.92" height="2.82" fill="#87bddc"/>
<rect x="545.48" y="392.60" width="2.92" height="2.82" fill="#7ab6d9"/>
<rect x="549.30" y="392.60" width="2.92" height="2.82" fill="#7fb9da"/>
<rect x="553.12" y="392.60" width="2.92" height="2.82" fill="#549ecd"/>
<rect x="556.94" y="392.60" width="2.92" height="2.82" fill="#7db8da"/>
<rect x="560.75" y="392.60" width="2.92" height="2.82" fill="#5ea5d1"/>
<rect x="564.57" y="392.60" width="2.92" height="2.82" fill="#8fc2de"/>
<rect x="568.39" y="392.60" width="2.92" height="2.82" fill="#8bbfdd"/>
<rect x="572.20" y="392.60" width="2.92" height="2.82" fill="#bdd7ec"/>
<rect x="576.02" y="392.60" width="2.92" height="2.82" fill="#8cc0dd"/>
<rect x="579.84" y="392.60" width="2.92" height="2.82" fill="#f8f6f5"/>
<rect x="512.55" y="396.32" width="2.85" height="2.82" fill="#eb372a"/>
<rect x="516.30" y="396.32" width="2.85" height="2.82" fill="#ef3c2c"/>
<rect x="520.05" y="396.32" width="2.85" height="2.82" fill="#fb7a5a"/>
<rect x="523.80" y="396.32" width="2.85" height="2.82" fill="#d9e8f5"/>
<rect x="527.55" y="396.32" width="2.85" height="2.82" fill="#a7cee4"/>
<rect x="531.30" y="396.32" width="2.85" height="2.82" fill="#c1d9ed"/>
<rect x="537.85" y="396.32" width="2.92" height="2.82" fill="#92c3de"/>
<rect x="541.67" y="396.32" width="2.92" height="2.82" fill="#5ba3d0"/>
<rect x="545.48" y="396.32" width="2.92" height="2.82" fill="#98c7e0"/>
<rect x="549.30" y="396.32" width="2.92" height="2.82" fill="#90c2de"/>
<rect x="553.12" y="396.32" width="2.92" height="2.82" fill="#8abfdd"/>
<rect x="556.94" y="396.32" width="2.92" height="2.82" fill="#66aad4"/>
<rect x="560.75" y="396.32" width="2.92" height="2.82" fill="#87bddc"/>
<rect x="564.57" y="396.32" width="2.92" height="2.82" fill="#86bddc"/>
<rect x="568.39" y="396.32" width="2.92" height="2.82" fill="#65aad4"/>
<rect x="572.20" y="396.32" width="2.92" height="2.82" fill="#8abfdd"/>
<rect x="576.02" y="396.32" width="2.92" height="2.82" fill="#7fb9da"/>
<rect x="579.84" y="396.32" width="2.92" height="2.82" fill="#8cc0dd"/>
<rect x="512.55" y="400.04" width="2.85" height="2.82" fill="#a00e14"/>
<rect x="516.30" y="400.04" width="2.85" height="2.82" fill="#9e0d14"/>
<rect x="520.05" y="400.04" width="2.85" height="2.82" fill="#a71015"/>
<rect x="523.80" y="400.04" width="2.85" height="2.82" fill="#fcc3ab"/>
<rect x="527.55" y="400.04" width="2.85" height="2.82" fill="#fdc7b1"/>
<rect x="531.30" y="400.04" width="2.85" height="2.82" fill="#f8f6f5"/>
<rect x="537.85" y="400.04" width="2.92" height="2.82" fill="#2e7ebc"/>
<rect x="541.67" y="400.04" width="2.92" height="2.82" fill="#2c7cbb"/>
<rect x="545.48" y="400.04" width="2.92" height="2.82" fill="#2c7cbb"/>
<rect x="549.30" y="400.04" width="2.92" height="2.82" fill="#3686c0"/>
<rect x="553.12" y="400.04" width="2.92" height="2.82" fill="#2f7fbc"/>
<rect x="556.94" y="400.04" width="2.92" height="2.82" fill="#2979b9"/>
<rect x="560.75" y="400.04" width="2.92" height="2.82" fill="#3080bd"/>
<rect x="564.57" y="400.04" width="2.92" height="2.82" fill="#2a7aba"/>
<rect x="568.39" y="400.04" width="2.92" height="2.82" fill="#2979b9"/>
<rect x="572.20" y="400.04" width="2.92" height="2.82" fill="#5ba3d0"/>
<rect x="576.02" y="400.04" width="2.92" height="2.82" fill="#83bbdb"/>
<rect x="579.84" y="400.04" width="2.92" height="2.82" fill="#8dc1dd"/>
<rect x="512.55" y="403.75" width="2.85" height="2.82" fill="#e83429"/>
<rect x="516.30" y="403.75" width="2.85" height="2.82" fill="#ef3c2d"/>
<rect x="520.05" y="403.75" width="2.85" height="2.82" fill="#f0402f"/>
<rect x="523.80" y="403.75" width="2.85" height="2.82" fill="#d9e8f5"/>
<rect x="527.55" y="403.75" width="2.85" height="2.82" fill="#8bbfdd"/>
<rect x="531.30" y="403.75" width="2.85" height="2.82" fill="#86bddc"/>
<rect x="537.85" y="403.75" width="2.92" height="2.82" fill="#fdc7b0"/>
<rect x="541.67" y="403.75" width="2.92" height="2.82" fill="#fdd3c0"/>
<rect x="545.48" y="403.75" width="2.92" height="2.82" fill="#fdcfbb"/>
<rect x="549.30" y="403.75" width="2.92" height="2.82" fill="#86bddc"/>
<rect x="553.12" y="403.75" width="2.92" height="2.82" fill="#85bcdc"/>
<rect x="556.94" y="403.75" width="2.92" height="2.82" fill="#5aa2cf"/>
<rect x="560.75" y="403.75" width="2.92" height="2.82" fill="#4594c7"/>
<rect x="564.57" y="403.75" width="2.92" height="2.82" fill="#529dcc"/>
<rect x="568.39" y="403.75" width="2.92" height="2.82" fill="#3282be"/>
<rect x="572.20" y="403.75" width="2.92" height="2.82" fill="#f8f6f5"/>
<rect x="576.02" y="403.75" width="2.92" height="2.82" fill="#7cb7da"/>
<rect x="579.84" y="403.75" width="2.92" height="2.82" fill="#86bddc"/>
<rect x="512.55" y="407.47" width="2.85" height="2.82" fill="#f34c37"/>
<rect x="516.30" y="407.47" width="2.85" height="2.82" fill="#ee3a2c"/>
<rect x="520.05" y="407.47" width="2.85" height="2.82" fill="#ef3b2c"/>
<rect x="523.80" y="407.47" width="2.85" height="2.82" fill="#a1cbe2"/>
<rect x="527.55" y="407.47" width="2.85" height="2.82" fill="#9cc9e1"/>
<rect x="531.30" y="407.47" width="2.85" height="2.82" fill="#d2e3f3"/>
<rect x="537.85" y="407.47" width="2.92" height="2.82" fill="#8bc0dd"/>
<rect x="541.67" y="407.47" width="2.92" height="2.82" fill="#80badb"/>
<rect x="545.48" y="407.47" width="2.92" height="2.82" fill="#8dc0dd"/>
<rect x="549.30" y="407.47" width="2.92" height="2.82" fill="#b1d2e8"/>
<rect x="553.12" y="407.47" width="2.92" height="2.82" fill="#7eb8da"/>
<rect x="556.94" y="407.47" width="2.92" height="2.82" fill="#89bedc"/>
<rect x="560.75" y="407.47" width="2.92" height="2.82" fill="#7fb9da"/>
<rect x="564.57" y="407.47" width="2.92" height="2.82" fill="#8abfdd"/>
<rect x="568.39" y="407.47" width="2.92" height="2.82" fill="#8ec1dd"/>
<rect x="572.20" y="407.47" width="2.92" height="2.82" fill="#8cc0dd"/>
<rect x="576.02" y="407.47" width="2.92" height="2.82" fill="#8fc2de"/>
<rect x="579.84" y="407.47" width="2.92" height="2.82" fill="#8bbfdd"/>
<rect x="512.55" y="411.19" width="2.85" height="2.82" fill="#f85d42"/>
<rect x="516.30" y="411.19" width="2.85" height="2.82" fill="#f24633"/>
<rect x="520.05" y="411.19" width="2.85" height="2.82" fill="#f34b36"/>
<rect x="523.80" y="411.19" width="2.85" height="2.82" fill="#8abfdd"/>
<rect x="527.55" y="411.19" width="2.85" height="2.82" fill="#fcbda4"/>
<rect x="531.30" y="411.19" width="2.85" height="2.82" fill="#7fb9da"/>
<rect x="537.85" y="411.19" width="2.92" height="2.82" fill="#7cb7da"/>
<rect x="541.67" y="411.19" width="2.92" height="2.82" fill="#7db8da"/>
<rect x="545.48" y="411.19" width="2.92" height="2.82" fill="#91c3de"/>
<rect x="549.30" y="411.19" width="2.92" height="2.82" fill="#88bedc"/>
<rect x="553.12" y="411.19" width="2.92" height="2.82" fill="#c7dbef"/>
<rect x="556.94" y="411.19" width="2.92" height="2.82" fill="#b7d5ea"/>
<rect x="560.75" y="411.19" width="2.92" height="2.82" fill="#f8f6f5"/>
<rect x="564.57" y="411.19" width="2.92" height="2.82" fill="#bed8ec"/>
<rect x="568.39" y="411.19" width="2.92" height="2.82" fill="#9ecae1"/>
<rect x="572.20" y="411.19" width="2.92" height="2.82" fill="#bcd7ec"/>
<rect x="576.02" y="411.19" width="2.92" height="2.82" fill="#87bddc"/>
<rect x="579.84" y="411.19" width="2.92" height="2.82" fill="#7db8da"/>
<rect x="512.55" y="414.91" width="2.85" height="2.82" fill="#b71319"/>
<rect x="516.30" y="414.91" width="2.85" height="2.82" fill="#c0151b"/>
<rect x="520.05" y="414.91" width="2.85" height="2.82" fill="#d62221"/>
<rect x="523.80" y="414.91" width="2.85" height="2.82" fill="#6eb0d7"/>
<rect x="527.55" y="414.91" width="2.85" height="2.82" fill="#88bedc"/>
<rect x="531.30" y="414.91" width="2.85" height="2.82" fill="#529dcc"/>
<rect x="537.85" y="414.91" width="2.92" height="2.82" fill="#9ac8e0"/>
<rect x="541.67" y="414.91" width="2.92" height="2.82" fill="#8fc2de"/>
<rect x="545.48" y="414.91" width="2.92" height="2.82" fill="#8ec1de"/>
<rect x="549.30" y="414.91" width="2.92" height="2.82" fill="#b1d2e8"/>
<rect x="553.12" y="414.91" width="2.92" height="2.82" fill="#5ca4d0"/>
<rect x="556.94" y="414.91" width="2.92" height="2.82" fill="#84bcdb"/>
<rect x="560.75" y="414.91" width="2.92" height="2.82" fill="#7eb9da"/>
<rect x="564.57" y="414.91" width="2.92" height="2.82" fill="#88bedc"/>
<rect x="568.39" y="414.91" width="2.92" height="2.82" fill="#81badb"/>
<rect x="572.20" y="414.91" width="2.92" height="2.82" fill="#75b3d8"/>
<rect x="576.02" y="414.91" width="2.92" height="2.82" fill="#93c4df"/>
<rect x="579.84" y="414.91" width="2.92" height="2.82" fill="#94c4df"/>
<rect x="512.55" y="418.62" width="2.85" height="2.82" fill="#fc8d6d"/>
<rect x="516.30" y="418.62" width="2.85" height="2.82" fill="#f6583f"/>
<rect x="520.05" y="418.62" width="2.85" height="2.82" fill="#fc9070"/>
<rect x="523.80" y="418.62" width="2.85" height="2.82" fill="#a9cfe5"/>
<rect x="527.55" y="418.62" width="2.85" height="2.82" fill="#8cc0dd"/>
<rect x="531.30" y="418.62" width="2.85" height="2.82" fill="#aacfe5"/>
<rect x="537.85" y="418.62" width="2.92" height="2.82" fill="#8fc2de"/>
<rect x="541.67" y="418.62" width="2.92" height="2.82" fill="#acd0e6"/>
<rect x="545.48" y="418.62" width="2.92" height="2.82" fill="#85bcdc"/>
<rect x="549.30" y="418.62" width="2.92" height="2.82" fill="#aed1e7"/>
<rect x="553.12" y="418.62" width="2.92" height="2.82" fill="#a6cee4"/>
<rect x="556.94" y="418.62" width="2.92" height="2.82" fill="#7eb8da"/>
<rect x="560.75" y="418.62" width="2.92" height="2.82" fill="#b6d4e9"/>
<rect x="564.57" y="418.62" width="2.92" height="2.82" fill="#aacfe5"/>
<rect x="568.39" y="418.62" width="2.92" height="2.82" fill="#bfd8ed"/>
<rect x="572.20" y="418.62" width="2.92" height="2.82" fill="#7fb9da"/>
<rect x="576.02" y="418.62" width="2.92" height="2.82" fill="#9bc8e0"/>
<rect x="579.84" y="418.62" width="2.92" height="2.82" fill="#add0e6"/>
<rect x="512.55" y="422.34" width="2.85" height="2.82" fill="#c6171c"/>
<rect x="516.30" y="422.34" width="2.85" height="2.82" fill="#ca181d"/>
<rect x="520.05" y="422.34" width="2.85" height="2.82" fill="#c4161c"/>
<rect x="523.80" y="422.34" width="2.85" height="2.82" fill="#f8f6f5"/>
<rect x="527.55" y="422.34" width="2.85" height="2.82" fill="#82badb"/>
<rect x="531.30" y="422.34" width="2.85" height="2.82" fill="#8bc0dd"/>
<rect x="537.85" y="422.34" width="2.92" height="2.82" fill="#5da5d1"/>
<rect x="541.67" y="422.34" width="2.92" height="2.82" fill="#59a1cf"/>
<rect x="545.48" y="422.34" width="2.92" height="2.82" fill="#5aa2cf"/>
<rect x="549.30" y="422.34" width="2.92" height="2.82" fill="#9ac8e0"/>
<rect x="553.12" y="422.34" width="2.92" height="2.82" fill="#4996c9"/>
<rect x="556.94" y="422.34" width="2.92" height="2.82" fill="#58a1cf"/>
<rect x="560.75" y="422.34" width="2.92" height="2.82" fill="#68acd5"/>
<rect x="564.57" y="422.34" width="2.92" height="2.82" fill="#7db8da"/>
<rect x="568.39" y="422.34" width="2.92" height="2.82" fill="#5aa2cf"/>
<rect x="572.20" y="422.34" width="2.92" height="2.82" fill="#58a1cf"/>
<rect x="576.02" y="422.34" width="2.92" height="2.82" fill="#549ecd"/>
<rect x="579.84" y="422.34" width="2.92" height="2.82" fill="#3787c0"/>
<rect x="512.55" y="426.06" width="2.85" height="2.82" fill="#fca98c"/>
<rect x="516.30" y="426.06" width="2.85" height="2.82" fill="#fb6a4a"/>
<rect x="520.05" y="426.06" width="2.85" height="2.82" fill="#fa6748"/>
<rect x="523.80" y="426.06" width="2.85" height="2.82" fill="#f8f6f5"/>
<rect x="527.55" y="426.06" width="2.85" height="2.82" fill="#fdcebb"/>
<rect x="531.30" y="426.06" width="2.85" height="2.82" fill="#8bc0dd"/>
<rect x="537.85" y="426.06" width="2.92" height="2.82" fill="#84bcdb"/>
<rect x="541.67" y="426.06" width="2.92" height="2.82" fill="#8cc0dd"/>
<rect x="545.48" y="426.06" width="2.92" height="2.82" fill="#8bbfdd"/>
<rect x="549.30" y="426.06" width="2.92" height="2.82" fill="#86bddc"/>
<rect x="553.12" y="426.06" width="2.92" height="2.82" fill="#92c4df"/>
<rect x="556.94" y="426.06" width="2.92" height="2.82" fill="#78b5d9"/>
<rect x="560.75" y="426.06" width="2.92" height="2.82" fill="#92c3de"/>
<rect x="564.57" y="426.06" width="2.92" height="2.82" fill="#88bedc"/>
<rect x="568.39" y="426.06" width="2.92" height="2.82" fill="#8cc0dd"/>
<rect x="572.20" y="426.06" width="2.92" height="2.82" fill="#b7d4ea"/>
<rect x="576.02" y="426.06" width="2.92" height="2.82" fill="#fdc5ae"/>
<rect x="579.84" y="426.06" width="2.92" height="2.82" fill="#a9cfe5"/>
<rect x="512.55" y="429.77" width="2.85" height="2.82" fill="#910a12"/>
<rect x="516.30" y="429.77" width="2.85" height="2.82" fill="#c6171c"/>
<rect x="520.05" y="429.77" width="2.85" height="2.82" fill="#cd1a1e"/>
<rect x="523.80" y="429.77" width="2.85" height="2.82" fill="#539dcc"/>
<rect x="527.55" y="429.77" width="2.85" height="2.82" fill="#97c6e0"/>
<rect x="531.30" y="429.77" width="2.85" height="2.82" fill="#59a2cf"/>
<rect x="537.85" y="429.77" width="2.92" height="2.82" fill="#83bbdb"/>
<rect x="541.67" y="429.77" width="2.92" height="2.82" fill="#559fcd"/>
<rect x="545.48" y="429.77" width="2.92" height="2.82" fill="#94c5df"/>
<rect x="549.30" y="429.77" width="2.92" height="2.82" fill="#98c7e0"/>
<rect x="553.12" y="429.77" width="2.92" height="2.82" fill="#4c99ca"/>
<rect x="556.94" y="429.77" width="2.92" height="2.82" fill="#5ea5d1"/>
<rect x="560.75" y="429.77" width="2.92" height="2.82" fill="#99c7e0"/>
<rect x="564.57" y="429.77" width="2.92" height="2.82" fill="#95c5df"/>
<rect x="568.39" y="429.77" width="2.92" height="2.82" fill="#88bedc"/>
<rect x="572.20" y="429.77" width="2.92" height="2.82" fill="#7cb8da"/>
<rect x="576.02" y="429.77" width="2.92" height="2.82" fill="#89bedc"/>
<rect x="579.84" y="429.77" width="2.92" height="2.82" fill="#7cb7da"/>
<rect x="512.55" y="433.49" width="2.85" height="2.82" fill="#ed392b"/>
<rect x="516.30" y="433.49" width="2.85" height="2.82" fill="#fa6547"/>
<rect x="520.05" y="433.49" width="2.85" height="2.82" fill="#f86044"/>
<rect x="523.80" y="433.49" width="2.85" height="2.82" fill="#fdccb7"/>
<rect x="527.55" y="433.49" width="2.85" height="2.82" fill="#d7e7f5"/>
<rect x="531.30" y="433.49" width="2.85" height="2.82" fill="#b4d3e9"/>
<rect x="537.85" y="433.49" width="2.92" height="2.82" fill="#3585bf"/>
<rect x="541.67" y="433.49" width="2.92" height="2.82" fill="#2d7dbb"/>
<rect x="545.48" y="433.49" width="2.92" height="2.82" fill="#61a7d2"/>
<rect x="549.30" y="433.49" width="2.92" height="2.82" fill="#59a2cf"/>
<rect x="553.12" y="433.49" width="2.92" height="2.82" fill="#f8f6f5"/>
<rect x="556.94" y="433.49" width="2.92" height="2.82" fill="#f8f6f5"/>
<rect x="560.75" y="433.49" width="2.92" height="2.82" fill="#3484bf"/>
<rect x="564.57" y="433.49" width="2.92" height="2.82" fill="#519ccc"/>
<rect x="568.39" y="433.49" width="2.92" height="2.82" fill="#59a2cf"/>
<rect x="572.20" y="433.49" width="2.92" height="2.82" fill="#fdc9b3"/>
<rect x="576.02" y="433.49" width="2.92" height="2.82" fill="#f8f6f5"/>
<rect x="579.84" y="433.49" width="2.92" height="2.82" fill="#fca98d"/>
<rect x="512.55" y="437.21" width="2.85" height="2.82" fill="#f24532"/>
<rect x="516.30" y="437.21" width="2.85" height="2.82" fill="#fc7f5f"/>
<rect x="520.05" y="437.21" width="2.85" height="2.82" fill="#fb694a"/>
<rect x="523.80" y="437.21" width="2.85" height="2.82" fill="#aed1e7"/>
<rect x="527.55" y="437.21" width="2.85" height="2.82" fill="#acd0e6"/>
<rect x="531.30" y="437.21" width="2.85" height="2.82" fill="#f8f6f5"/>
<rect x="537.85" y="437.21" width="2.92" height="2.82" fill="#b9d5ea"/>
<rect x="541.67" y="437.21" width="2.92" height="2.82" fill="#a4cce3"/>
<rect x="545.48" y="437.21" width="2.92" height="2.82" fill="#86bddc"/>
<rect x="549.30" y="437.21" width="2.92" height="2.82" fill="#f8f6f5"/>
<rect x="553.12" y="437.21" width="2.92" height="2.82" fill="#95c5df"/>
<rect x="556.94" y="437.21" width="2.92" height="2.82" fill="#85bcdc"/>
<rect x="560.75" y="437.21" width="2.92" height="2.82" fill="#8ec1de"/>
<rect x="564.57" y="437.21" width="2.92" height="2.82" fill="#8ec1de"/>
<rect x="568.39" y="437.21" width="2.92" height="2.82" fill="#87bddc"/>
<rect x="572.20" y="437.21" width="2.92" height="2.82" fill="#b0d2e7"/>
<rect x="576.02" y="437.21" width="2.92" height="2.82" fill="#92c3de"/>
<rect x="579.84" y="437.21" width="2.92" height="2.82" fill="#a8cee4"/>
<rect x="512.55" y="440.93" width="2.85" height="2.82" fill="#f14432"/>
<rect x="516.30" y="440.93" width="2.85" height="2.82" fill="#f24533"/>
<rect x="520.05" y="440.93" width="2.85" height="2.82" fill="#fa6748"/>
<rect x="523.80" y="440.93" width="2.85" height="2.82" fill="#f8f6f5"/>
<rect x="527.55" y="440.93" width="2.85" height="2.82" fill="#fdc9b4"/>
<rect x="531.30" y="440.93" width="2.85" height="2.82" fill="#b5d4e9"/>
<rect x="537.85" y="440.93" width="2.92" height="2.82" fill="#5aa2cf"/>
<rect x="541.67" y="440.93" width="2.92" height="2.82" fill="#8fc2de"/>
<rect x="545.48" y="440.93" width="2.92" height="2.82" fill="#68acd5"/>
<rect x="549.30" y="440.93" width="2.92" height="2.82" fill="#82bbdb"/>
<rect x="553.12" y="440.93" width="2.92" height="2.82" fill="#94c4df"/>
<rect x="556.94" y="440.93" width="2.92" height="2.82" fill="#8cc0dd"/>
<rect x="560.75" y="440.93" width="2.92" height="2.82" fill="#549fcd"/>
<rect x="564.57" y="440.93" width="2.92" height="2.82" fill="#89bfdd"/>
<rect x="568.39" y="440.93" width="2.92" height="2.82" fill="#4493c7"/>
<rect x="572.20" y="440.93" width="2.92" height="2.82" fill="#98c7e0"/>
<rect x="576.02" y="440.93" width="2.92" height="2.82" fill="#f8f6f5"/>
<rect x="579.84" y="440.93" width="2.92" height="2.82" fill="#89bedc"/>
<rect x="512.55" y="444.64" width="2.85" height="2.82" fill="#c1161b"/>
<rect x="516.30" y="444.64" width="2.85" height="2.82" fill="#fb6c4c"/>
<rect x="520.05" y="444.64" width="2.85" height="2.82" fill="#f24834"/>
<rect x="523.80" y="444.64" width="2.85" height="2.82" fill="#f8f6f5"/>
<rect x="527.55" y="444.64" width="2.85" height="2.82" fill="#93c4df"/>
<rect x="531.30" y="444.64" width="2.85" height="2.82" fill="#8bc0dd"/>
<rect x="537.85" y="444.64" width="2.92" height="2.82" fill="#80badb"/>
<rect x="541.67" y="444.64" width="2.92" height="2.82" fill="#90c2de"/>
<rect x="545.48" y="444.64" width="2.92" height="2.82" fill="#8ec1de"/>
<rect x="549.30" y="444.64" width="2.92" height="2.82" fill="#84bcdb"/>
<rect x="553.12" y="444.64" width="2.92" height="2.82" fill="#8cc0dd"/>
<rect x="556.94" y="444.64" width="2.92" height="2.82" fill="#87bddc"/>
<rect x="560.75" y="444.64" width="2.92" height="2.82" fill="#fdd1be"/>
<rect x="564.57" y="444.64" width="2.92" height="2.82" fill="#f8f6f5"/>
<rect x="568.39" y="444.64" width="2.92" height="2.82" fill="#fdd2bf"/>
<rect x="572.20" y="444.64" width="2.92" height="2.82" fill="#99c7e0"/>
<rect x="576.02" y="444.64" width="2.92" height="2.82" fill="#78b5d9"/>
<rect x="579.84" y="444.64" width="2.92" height="2.82" fill="#85bcdc"/>
<rect x="512.55" y="448.36" width="2.85" height="2.82" fill="#f96144"/>
<rect x="516.30" y="448.36" width="2.85" height="2.82" fill="#f14432"/>
<rect x="520.05" y="448.36" width="2.85" height="2.82" fill="#fb6a4a"/>
<rect x="523.80" y="448.36" width="2.85" height="2.82" fill="#8cc0dd"/>
<rect x="527.55" y="448.36" width="2.85" height="2.82" fill="#98c7e0"/>
<rect x="531.30" y="448.36" width="2.85" height="2.82" fill="#aed1e6"/>
<rect x="537.85" y="448.36" width="2.92" height="2.82" fill="#91c3de"/>
<rect x="541.67" y="448.36" width="2.92" height="2.82" fill="#b4d3e9"/>
<rect x="545.48" y="448.36" width="2.92" height="2.82" fill="#bed8ec"/>
<rect x="549.30" y="448.36" width="2.92" height="2.82" fill="#aacfe5"/>
<rect x="553.12" y="448.36" width="2.92" height="2.82" fill="#acd0e6"/>
<rect x="556.94" y="448.36" width="2.92" height="2.82" fill="#afd1e7"/>
<rect x="560.75" y="448.36" width="2.92" height="2.82" fill="#b9d6eb"/>
<rect x="564.57" y="448.36" width="2.92" height="2.82" fill="#b6d4e9"/>
<rect x="568.39" y="448.36" width="2.92" height="2.82" fill="#7db8da"/>
<rect x="572.20" y="448.36" width="2.92" height="2.82" fill="#8cc0dd"/>
<rect x="576.02" y="448.36" width="2.92" height="2.82" fill="#87bddc"/>
<rect x="579.84" y="448.36" width="2.92" height="2.82" fill="#88bedc"/>
<rect x="512.55" y="452.08" width="2.85" height="2.82" fill="#fc9b7c"/>
<rect x="516.30" y="452.08" width="2.85" height="2.82" fill="#e43027"/>
<rect x="520.05" y="452.08" width="2.85" height="2.82" fill="#f44e38"/>
<rect x="523.80" y="452.08" width="2.85" height="2.82" fill="#f8f6f5"/>
<rect x="527.55" y="452.08" width="2.85" height="2.82" fill="#f8f6f5"/>
<rect x="531.30" y="452.08" width="2.85" height="2.82" fill="#fdd6c4"/>
<rect x="537.85" y="452.08" width="2.92" height="2.82" fill="#afd1e7"/>
<rect x="541.67" y="452.08" width="2.92" height="2.82" fill="#f8f6f5"/>
<rect x="545.48" y="452.08" width="2.92" height="2.82" fill="#89bedc"/>
<rect x="549.30" y="452.08" width="2.92" height="2.82" fill="#61a7d2"/>
<rect x="553.12" y="452.08" width="2.92" height="2.82" fill="#2f7fbc"/>
<rect x="556.94" y="452.08" width="2.92" height="2.82" fill="#519dcc"/>
<rect x="560.75" y="452.08" width="2.92" height="2.82" fill="#59a2cf"/>
<rect x="564.57" y="452.08" width="2.92" height="2.82" fill="#4c99ca"/>
<rect x="568.39" y="452.08" width="2.92" height="2.82" fill="#549ecd"/>
<rect x="572.20" y="452.08" width="2.92" height="2.82" fill="#acd0e6"/>
<rect x="576.02" y="452.08" width="2.92" height="2.82" fill="#a7cee4"/>
<rect x="579.84" y="452.08" width="2.92" height="2.82" fill="#b7d5ea"/>
<rect x="512.55" y="455.80" width="2.85" height="2.82" fill="#a91016"/>
<rect x="516.30" y="455.80" width="2.85" height="2.82" fill="#c7171c"/>
<rect x="520.05" y="455.80" width="2.85" height="2.82" fill="#c7171c"/>
<rect x="523.80" y="455.80" width="2.85" height="2.82" fill="#a6cde4"/>
<rect x="527.55" y="455.80" width="2.85" height="2.82" fill="#7eb8da"/>
<rect x="531.30" y="455.80" width="2.85" height="2.82" fill="#88bedc"/>
<rect x="537.85" y="455.80" width="2.92" height="2.82" fill="#3080bd"/>
<rect x="541.67" y="455.80" width="2.92" height="2.82" fill="#3383be"/>
<rect x="545.48" y="455.80" width="2.92" height="2.82" fill="#3484bf"/>
<rect x="549.30" y="455.80" width="2.92" height="2.82" fill="#5ea5d1"/>
<rect x="553.12" y="455.80" width="2.92" height="2.82" fill="#539ecd"/>
<rect x="556.94" y="455.80" width="2.92" height="2.82" fill="#5ea5d1"/>
<rect x="560.75" y="455.80" width="2.92" height="2.82" fill="#5da5d1"/>
<rect x="564.57" y="455.80" width="2.92" height="2.82" fill="#59a2cf"/>
<rect x="568.39" y="455.80" width="2.92" height="2.82" fill="#8fc2de"/>
<rect x="572.20" y="455.80" width="2.92" height="2.82" fill="#5ca4d0"/>
<rect x="576.02" y="455.80" width="2.92" height="2.82" fill="#6dafd6"/>
<rect x="579.84" y="455.80" width="2.92" height="2.82" fill="#86bddc"/>
<rect x="512.55" y="459.51" width="2.85" height="2.82" fill="#cd1a1e"/>
<rect x="516.30" y="459.51" width="2.85" height="2.82" fill="#c9181d"/>
<rect x="520.05" y="459.51" width="2.85" height="2.82" fill="#ec382b"/>
<rect x="523.80" y="459.51" width="2.85" height="2.82" fill="#9cc9e1"/>
<rect x="527.55" y="459.51" width="2.85" height="2.82" fill="#71b1d7"/>
<rect x="531.30" y="459.51" width="2.85" height="2.82" fill="#88bedc"/>
<rect x="537.85" y="459.51" width="2.92" height="2.82" fill="#59a2cf"/>
<rect x="541.67" y="459.51" width="2.92" height="2.82" fill="#69acd5"/>
<rect x="545.48" y="459.51" width="2.92" height="2.82" fill="#559fcd"/>
<rect x="549.30" y="459.51" width="2.92" height="2.82" fill="#57a0ce"/>
<rect x="553.12" y="459.51" width="2.92" height="2.82" fill="#5da4d0"/>
<rect x="556.94" y="459.51" width="2.92" height="2.82" fill="#58a1ce"/>
<rect x="560.75" y="459.51" width="2.92" height="2.82" fill="#7bb7da"/>
<rect x="564.57" y="459.51" width="2.92" height="2.82" fill="#8cc0dd"/>
<rect x="568.39" y="459.51" width="2.92" height="2.82" fill="#92c3de"/>
<rect x="572.20" y="459.51" width="2.92" height="2.82" fill="#7bb7d9"/>
<rect x="576.02" y="459.51" width="2.92" height="2.82" fill="#86bddc"/>
<rect x="579.84" y="459.51" width="2.92" height="2.82" fill="#5ba3d0"/>
<rect x="512.55" y="463.23" width="2.85" height="2.82" fill="#dd2a25"/>
<rect x="516.30" y="463.23" width="2.85" height="2.82" fill="#ed392b"/>
<rect x="520.05" y="463.23" width="2.85" height="2.82" fill="#ef3b2c"/>
<rect x="523.80" y="463.23" width="2.85" height="2.82" fill="#d7e6f5"/>
<rect x="527.55" y="463.23" width="2.85" height="2.82" fill="#8cc0dd"/>
<rect x="531.30" y="463.23" width="2.85" height="2.82" fill="#86bddc"/>
<rect x="537.85" y="463.23" width="2.92" height="2.82" fill="#87bddc"/>
<rect x="541.67" y="463.23" width="2.92" height="2.82" fill="#8fc2de"/>
<rect x="545.48" y="463.23" width="2.92" height="2.82" fill="#8bbfdd"/>
<rect x="549.30" y="463.23" width="2.92" height="2.82" fill="#85bcdc"/>
<rect x="553.12" y="463.23" width="2.92" height="2.82" fill="#84bcdb"/>
<rect x="556.94" y="463.23" width="2.92" height="2.82" fill="#82bbdb"/>
<rect x="560.75" y="463.23" width="2.92" height="2.82" fill="#80badb"/>
<rect x="564.57" y="463.23" width="2.92" height="2.82" fill="#86bddc"/>
<rect x="568.39" y="463.23" width="2.92" height="2.82" fill="#83bbdb"/>
<rect x="572.20" y="463.23" width="2.92" height="2.82" fill="#8cc0dd"/>
<rect x="576.02" y="463.23" width="2.92" height="2.82" fill="#8bc0dd"/>
<rect x="579.84" y="463.23" width="2.92" height="2.82" fill="#7eb8da"/>
<text x="585.0" y="13.91" font-size="3.9" fill="#222">Arhgap22</text>
<text x="585.0" y="17.63" font-size="3.9" fill="#222">Ank</text>
<text x="585.0" y="21.35" font-size="3.9" fill="#222">Cables1</text>
<text x="585.0" y="25.07" font-size="3.9" fill="#222">Camk4</text>
<text x="585.0" y="28.79" font-size="3.9" fill="#222">Ccl12</text>
<text x="585.0" y="32.51" font-size="3.9" fill="#222">Cx3cr1</text>
<text x="585.0" y="36.23" font-size="3.9" fill="#222">Fcrls</text>
<text x="585.0" y="39.96" font-size="3.9" fill="#222">Gas6</text>
<text x="585.0" y="43.68" font-size="3.9" fill="#222">Gpr160</text>
<text x="585.0" y="47.40" font-size="3.9" fill="#222">Gpr183</text>
<text x="585.0" y="51.12" font-size="3.9" fill="#222">Gpr34</text>
<text x="585.0" y="54.84" font-size="3.9" fill="#222">Gpr84</text>
<text x="585.0" y="58.56" font-size="3.9" fill="#222">Kcnq3</text>
<text x="585.0" y="62.28" font-size="3.9" fill="#222">Lacpe1</text>
<text x="585.0" y="66.00" font-size="3.9" fill="#222">Mef2c</text>
<text x="585.0" y="69.72" font-size="3.9" fill="#222">Olfml3</text>
<text x="585.0" y="73.44" font-size="3.9" fill="#222">P2ry12</text>
<text x="585.0" y="77.16" font-size="3.9" fill="#222">Pecam1</text>
<text x="585.0" y="80.88" font-size="3.9" fill="#222">Serpine2</text>
<text x="585.0" y="84.60" font-size="3.9" fill="#222">Sgce</text>
<text x="585.0" y="88.32" font-size="3.9" fill="#222">Siglech</text>
<text x="585.0" y="92.04" font-size="3.9" fill="#222">St3gal6</text>
<text x="585.0" y="95.77" font-size="3.9" fill="#222">Tagap</text>
<text x="585.0" y="99.49" font-size="3.9" fill="#222">Tmem17</text>
<text x="585.0" y="103.21" font-size="3.9" fill="#222">Sparc</text>
<text x="585.0" y="106.93" font-size="3.9" fill="#222">Sema4d</text>
<text x="585.0" y="110.65" font-size="3.9" fill="#222">Cxcc5</text>
<text x="585.0" y="114.37" font-size="3.9" fill="#222">Trem2</text>
<text x="585.0" y="118.09" font-size="3.9" fill="#222">Hexb</text>
<text x="639.7" y="11.9" font-size="8.7" font-style="italic" text-anchor="middle">Ccl12</text>
<line x1="595.77" y1="27.44" x2="626.38" y2="8.80" stroke="#111" stroke-width="0.65"/>
<text x="639.7" y="20.5" font-size="8.7" font-style="italic" text-anchor="middle">Cx3cr1</text>
<line x1="598.15" y1="31.16" x2="623.72" y2="17.44" stroke="#111" stroke-width="0.65"/>
<text x="639.7" y="29.2" font-size="8.7" font-style="italic" text-anchor="middle">Fcrls</text>
<line x1="594.25" y1="34.88" x2="628.08" y2="26.08" stroke="#111" stroke-width="0.65"/>
<text x="639.7" y="37.8" font-size="8.7" font-style="italic" text-anchor="middle">Gas6</text>
<line x1="595.12" y1="38.61" x2="627.10" y2="34.72" stroke="#111" stroke-width="0.65"/>
<text x="639.7" y="46.5" font-size="8.7" font-style="italic" text-anchor="middle">Gpr34</text>
<line x1="596.64" y1="49.77" x2="625.41" y2="43.36" stroke="#111" stroke-width="0.65"/>
<text x="639.7" y="55.1" font-size="8.7" font-style="italic" text-anchor="middle">Mef2c</text>
<line x1="596.42" y1="64.65" x2="625.66" y2="52.00" stroke="#111" stroke-width="0.65"/>
<text x="639.7" y="63.7" font-size="8.7" font-style="italic" text-anchor="middle">Sgce</text>
<line x1="594.69" y1="83.25" x2="627.59" y2="60.64" stroke="#111" stroke-width="0.65"/>
<text x="639.7" y="72.4" font-size="8.7" font-style="italic" text-anchor="middle">Siglech</text>
<line x1="598.59" y1="86.97" x2="623.23" y2="69.28" stroke="#111" stroke-width="0.65"/>
<text x="639.7" y="81.0" font-size="8.7" font-style="italic" text-anchor="middle">St3gal6</text>
<line x1="599.03" y1="90.69" x2="622.75" y2="77.92" stroke="#111" stroke-width="0.65"/>
<text x="639.7" y="89.7" font-size="8.7" font-style="italic" text-anchor="middle">Tagap</text>
<line x1="596.43" y1="94.42" x2="625.57" y2="86.56" stroke="#111" stroke-width="0.65"/>
<text x="639.7" y="98.3" font-size="8.7" font-style="italic" text-anchor="middle">Sema4d</text>
<line x1="600.33" y1="105.58" x2="621.30" y2="95.20" stroke="#111" stroke-width="0.65"/>
<text x="639.7" y="106.9" font-size="8.7" font-style="italic" text-anchor="middle">Cxcc5</text>
<line x1="596.64" y1="109.30" x2="625.41" y2="103.84" stroke="#111" stroke-width="0.65"/>
<text x="639.7" y="115.6" font-size="8.7" font-style="italic" text-anchor="middle">Trem2</text>
<line x1="596.92" y1="113.02" x2="625.26" y2="112.48" stroke="#111" stroke-width="0.65"/>
<text x="639.7" y="124.2" font-size="8.7" font-style="italic" text-anchor="middle">Hexb</text>
<line x1="594.90" y1="116.74" x2="627.35" y2="121.12" stroke="#111" stroke-width="0.65"/>
<text x="585.0" y="124.80" font-size="3.9" fill="#222">Adam19</text>
<text x="585.0" y="128.51" font-size="3.9" fill="#222">Aldh2</text>
<text x="585.0" y="132.22" font-size="3.9" fill="#222">Apoe</text>
<text x="585.0" y="135.93" font-size="3.9" fill="#222">Cbr2</text>
<text x="585.0" y="139.64" font-size="3.9" fill="#222">Ccl8</text>
<text x="585.0" y="143.35" font-size="3.9" fill="#222">Ccr2</text>
<text x="585.0" y="147.06" font-size="3.9" fill="#222">Cd209a</text>
<text x="585.0" y="150.77" font-size="3.9" fill="#222">Cd209d</text>
<text x="585.0" y="154.48" font-size="3.9" fill="#222">Cd300e</text>
<text x="585.0" y="158.19" font-size="3.9" fill="#222">Cxcl1</text>
<text x="585.0" y="161.90" font-size="3.9" fill="#222">Dpp4</text>
<text x="585.0" y="165.61" font-size="3.9" fill="#222">Egfr</text>
<text x="585.0" y="169.32" font-size="3.9" fill="#222">Emilin1</text>
<text x="585.0" y="173.03" font-size="3.9" fill="#222">Foxred2</text>
<text x="585.0" y="176.74" font-size="3.9" fill="#222">Fxyd5</text>
<text x="585.0" y="180.45" font-size="3.9" fill="#222">Fxyd2</text>
<text x="585.0" y="184.16" font-size="3.9" fill="#222">Gsr</text>
<text x="585.0" y="187.87" font-size="3.9" fill="#222">Hk3</text>
<text x="585.0" y="191.58" font-size="3.9" fill="#222">Il18rap</text>
<text x="585.0" y="195.29" font-size="3.9" fill="#222">Il1rl1</text>
<text x="585.0" y="199.00" font-size="3.9" fill="#222">Itgb8</text>
<text x="585.0" y="202.71" font-size="3.9" fill="#222">Kmo</text>
<text x="585.0" y="206.42" font-size="3.9" fill="#222">Mgl2</text>
<text x="585.0" y="210.13" font-size="3.9" fill="#222">Ms4a7</text>
<text x="585.0" y="213.84" font-size="3.9" fill="#222">Mmp9</text>
<text x="585.0" y="217.55" font-size="3.9" fill="#222">Mpz</text>
<text x="585.0" y="221.25" font-size="3.9" fill="#222">Mrc1</text>
<text x="585.0" y="224.96" font-size="3.9" fill="#222">Myo5a</text>
<text x="585.0" y="228.67" font-size="3.9" fill="#222">Nrp1</text>
<text x="585.0" y="232.38" font-size="3.9" fill="#222">Pdgfc</text>
<text x="585.0" y="236.09" font-size="3.9" fill="#222">Pla2g2d</text>
<text x="585.0" y="239.80" font-size="3.9" fill="#222">Plxdc2</text>
<text x="585.0" y="243.51" font-size="3.9" fill="#222">Qpct</text>
<text x="585.0" y="247.22" font-size="3.9" fill="#222">Retnla</text>
<text x="585.0" y="250.93" font-size="3.9" fill="#222">Rnf128</text>
<text x="585.0" y="254.64" font-size="3.9" fill="#222">Selm</text>
<text x="585.0" y="258.35" font-size="3.9" fill="#222">Sdc3</text>
<text x="585.0" y="262.06" font-size="3.9" fill="#222">Slamf7</text>
<text x="585.0" y="265.77" font-size="3.9" fill="#222">Slc7a8</text>
<text x="585.0" y="269.48" font-size="3.9" fill="#222">Snx24</text>
<text x="585.0" y="273.19" font-size="3.9" fill="#222">Sucnr1</text>
<text x="585.0" y="276.90" font-size="3.9" fill="#222">Tgfbi</text>
<text x="585.0" y="280.61" font-size="3.9" fill="#222">Thbs1</text>
<text x="585.0" y="284.32" font-size="3.9" fill="#222">Tmcc3</text>
<text x="585.0" y="288.03" font-size="3.9" fill="#222">Tnfsf9</text>
<text x="585.0" y="291.74" font-size="3.9" fill="#222">Tslp</text>
<text x="585.0" y="295.45" font-size="3.9" fill="#222">Ugt8a</text>
<text x="585.0" y="299.16" font-size="3.9" fill="#222">Vcam1</text>
<text x="585.0" y="302.87" font-size="3.9" fill="#222">Xist</text>
<text x="585.0" y="306.58" font-size="3.9" fill="#222">Zfp366</text>
<text x="585.0" y="310.29" font-size="3.9" fill="#222">Zfp9</text>
<text x="585.0" y="314.00" font-size="3.9" fill="#222">Zfyve9</text>
<text x="639.7" y="133.6" font-size="8.7" font-style="italic" text-anchor="middle">Adam19</text>
<line x1="600.33" y1="123.45" x2="621.30" y2="130.50" stroke="#111" stroke-width="0.65"/>
<text x="639.7" y="142.5" font-size="8.7" font-style="italic" text-anchor="middle">Cbr2</text>
<line x1="594.25" y1="134.58" x2="628.07" y2="139.40" stroke="#111" stroke-width="0.65"/>
<text x="639.7" y="151.4" font-size="8.7" font-style="italic" text-anchor="middle">Ccl8</text>
<line x1="593.60" y1="138.29" x2="628.80" y2="148.30" stroke="#111" stroke-width="0.65"/>
<text x="639.7" y="160.3" font-size="8.7" font-style="italic" text-anchor="middle">Ccr2</text>
<line x1="594.03" y1="142.00" x2="628.32" y2="157.20" stroke="#111" stroke-width="0.65"/>
<text x="639.7" y="169.2" font-size="8.7" font-style="italic" text-anchor="middle">Cd209d</text>
<line x1="599.46" y1="149.42" x2="622.26" y2="166.10" stroke="#111" stroke-width="0.65"/>
<text x="639.7" y="178.1" font-size="8.7" font-style="italic" text-anchor="middle">Cxcl1</text>
<line x1="595.55" y1="156.84" x2="626.62" y2="175.00" stroke="#111" stroke-width="0.65"/>
<text x="639.7" y="187.0" font-size="8.7" font-style="italic" text-anchor="middle">Foxred2</text>
<line x1="600.11" y1="171.68" x2="621.54" y2="183.90" stroke="#111" stroke-width="0.65"/>
<text x="639.7" y="195.9" font-size="8.7" font-style="italic" text-anchor="middle">Fxyd2</text>
<line x1="596.42" y1="179.10" x2="625.66" y2="192.80" stroke="#111" stroke-width="0.65"/>
<text x="639.7" y="204.8" font-size="8.7" font-style="italic" text-anchor="middle">Il18rap</text>
<line x1="597.72" y1="190.23" x2="624.20" y2="201.70" stroke="#111" stroke-width="0.65"/>
<text x="639.7" y="213.7" font-size="8.7" font-style="italic" text-anchor="middle">Il1rl1</text>
<line x1="594.25" y1="193.94" x2="628.07" y2="210.60" stroke="#111" stroke-width="0.65"/>
<text x="639.7" y="222.6" font-size="8.7" font-style="italic" text-anchor="middle">Kmo</text>
<line x1="593.82" y1="201.36" x2="628.56" y2="219.50" stroke="#111" stroke-width="0.65"/>
<text x="639.7" y="231.5" font-size="8.7" font-style="italic" text-anchor="middle">Mgl2</text>
<line x1="594.25" y1="205.07" x2="628.07" y2="228.40" stroke="#111" stroke-width="0.65"/>
<text x="639.7" y="240.4" font-size="8.7" font-style="italic" text-anchor="middle">Mmp9</text>
<line x1="596.63" y1="212.49" x2="625.42" y2="237.30" stroke="#111" stroke-width="0.65"/>
<text x="639.7" y="249.3" font-size="8.7" font-style="italic" text-anchor="middle">Mpz</text>
<line x1="593.17" y1="216.20" x2="629.28" y2="246.20" stroke="#111" stroke-width="0.65"/>
<text x="639.7" y="258.2" font-size="8.7" font-style="italic" text-anchor="middle">Myo5a</text>
<line x1="597.50" y1="223.61" x2="624.44" y2="255.10" stroke="#111" stroke-width="0.65"/>
<text x="639.7" y="267.1" font-size="8.7" font-style="italic" text-anchor="middle">Pla2g2d</text>
<line x1="600.11" y1="234.74" x2="621.54" y2="264.00" stroke="#111" stroke-width="0.65"/>
<text x="639.7" y="276.0" font-size="8.7" font-style="italic" text-anchor="middle">Qpct</text>
<line x1="594.04" y1="242.16" x2="628.31" y2="272.90" stroke="#111" stroke-width="0.65"/>
<text x="639.7" y="284.9" font-size="8.7" font-style="italic" text-anchor="middle">Selm</text>
<line x1="594.69" y1="253.29" x2="627.59" y2="281.80" stroke="#111" stroke-width="0.65"/>
<text x="639.7" y="293.8" font-size="8.7" font-style="italic" text-anchor="middle">Slamf7</text>
<line x1="597.94" y1="260.71" x2="623.96" y2="290.70" stroke="#111" stroke-width="0.65"/>
<text x="639.7" y="302.7" font-size="8.7" font-style="italic" text-anchor="middle">Tslp</text>
<line x1="592.74" y1="290.39" x2="629.68" y2="299.60" stroke="#111" stroke-width="0.65"/>
<text x="639.7" y="311.6" font-size="8.7" font-style="italic" text-anchor="middle">Xist</text>
<line x1="592.30" y1="301.52" x2="630.25" y2="308.50" stroke="#111" stroke-width="0.65"/>
<text x="585.0" y="321.01" font-size="3.9" fill="#222">Adora3</text>
<text x="585.0" y="324.73" font-size="3.9" fill="#222">Atp8a2</text>
<text x="585.0" y="328.44" font-size="3.9" fill="#222">B3galt5</text>
<text x="585.0" y="332.16" font-size="3.9" fill="#222">Bst1</text>
<text x="585.0" y="335.88" font-size="3.9" fill="#222">Cd34</text>
<text x="585.0" y="339.60" font-size="3.9" fill="#222">Crybb1</text>
<text x="585.0" y="343.31" font-size="3.9" fill="#222">Csmd3</text>
<text x="585.0" y="347.03" font-size="3.9" fill="#222">Ecscr</text>
<text x="585.0" y="350.75" font-size="3.9" fill="#222">Fam110b</text>
<text x="585.0" y="354.47" font-size="3.9" fill="#222">Fam46c</text>
<text x="585.0" y="358.18" font-size="3.9" fill="#222">Fscn1</text>
<text x="585.0" y="361.90" font-size="3.9" fill="#222">Gna15</text>
<text x="585.0" y="365.62" font-size="3.9" fill="#222">Grp56</text>
<text x="585.0" y="369.34" font-size="3.9" fill="#222">H2-Ob</text>
<text x="585.0" y="373.05" font-size="3.9" fill="#222">H2-Oa</text>
<text x="585.0" y="376.77" font-size="3.9" fill="#222">Hpgd</text>
<text x="585.0" y="380.49" font-size="3.9" fill="#222">Il7r</text>
<text x="585.0" y="384.21" font-size="3.9" fill="#222">Kcnd1</text>
<text x="585.0" y="387.92" font-size="3.9" fill="#222">Lag3</text>
<text x="585.0" y="391.64" font-size="3.9" fill="#222">Ltc4s</text>
<text x="585.0" y="395.36" font-size="3.9" fill="#222">Nav3</text>
<text x="585.0" y="399.08" font-size="3.9" fill="#222">Olfm3</text>
<text x="585.0" y="402.79" font-size="3.9" fill="#222">P2rx7</text>
<text x="585.0" y="406.51" font-size="3.9" fill="#222">Pros1</text>
<text x="585.0" y="410.23" font-size="3.9" fill="#222">Rasgrp1</text>
<text x="585.0" y="413.95" font-size="3.9" fill="#222">Sall1</text>
<text x="585.0" y="417.66" font-size="3.9" fill="#222">Sall3</text>
<text x="585.0" y="421.38" font-size="3.9" fill="#222">Sipa1l1</text>
<text x="585.0" y="425.10" font-size="3.9" fill="#222">Slc24a3</text>
<text x="585.0" y="428.82" font-size="3.9" fill="#222">Slc2a5</text>
<text x="585.0" y="432.53" font-size="3.9" fill="#222">Sox9</text>
<text x="585.0" y="436.25" font-size="3.9" fill="#222">Stab1</text>
<text x="585.0" y="439.97" font-size="3.9" fill="#222">Tmc7</text>
<text x="585.0" y="443.69" font-size="3.9" fill="#222">Tmem100</text>
<text x="585.0" y="447.40" font-size="3.9" fill="#222">Tmem119</text>
<text x="585.0" y="451.12" font-size="3.9" fill="#222">Tmem66</text>
<text x="585.0" y="454.84" font-size="3.9" fill="#222">Upk1b</text>
<text x="585.0" y="458.56" font-size="3.9" fill="#222">Lyk5</text>
<text x="585.0" y="462.27" font-size="3.9" fill="#222">Wdfy1</text>
<text x="585.0" y="465.99" font-size="3.9" fill="#222">Zfp691</text>
<text x="639.7" y="321.8" font-size="8.7" font-style="italic" text-anchor="middle">Adora3</text>
<line x1="598.38" y1="319.66" x2="623.47" y2="318.70" stroke="#111" stroke-width="0.65"/>
<text x="639.7" y="330.9" font-size="8.7" font-style="italic" text-anchor="middle">Cd34</text>
<line x1="595.12" y1="334.53" x2="627.10" y2="327.83" stroke="#111" stroke-width="0.65"/>
<text x="639.7" y="340.1" font-size="8.7" font-style="italic" text-anchor="middle">Crybb1</text>
<line x1="598.37" y1="338.25" x2="623.48" y2="336.96" stroke="#111" stroke-width="0.65"/>
<text x="639.7" y="349.2" font-size="8.7" font-style="italic" text-anchor="middle">Csmd3</text>
<line x1="598.15" y1="341.96" x2="623.72" y2="346.09" stroke="#111" stroke-width="0.65"/>
<text x="639.7" y="358.3" font-size="8.7" font-style="italic" text-anchor="middle">Ecscr</text>
<line x1="595.55" y1="345.68" x2="626.62" y2="355.22" stroke="#111" stroke-width="0.65"/>
<text x="639.7" y="367.5" font-size="8.7" font-style="italic" text-anchor="middle">Fscn1</text>
<line x1="596.42" y1="356.83" x2="625.66" y2="364.35" stroke="#111" stroke-width="0.65"/>
<text x="639.7" y="376.6" font-size="8.7" font-style="italic" text-anchor="middle">Grp56</text>
<line x1="596.64" y1="364.27" x2="625.41" y2="373.48" stroke="#111" stroke-width="0.65"/>
<text x="639.7" y="385.7" font-size="8.7" font-style="italic" text-anchor="middle">H2-Oa</text>
<line x1="597.29" y1="371.70" x2="624.69" y2="382.61" stroke="#111" stroke-width="0.65"/>
<text x="639.7" y="394.8" font-size="8.7" font-style="italic" text-anchor="middle">Kcnd1</text>
<line x1="596.86" y1="382.86" x2="625.17" y2="391.74" stroke="#111" stroke-width="0.65"/>
<text x="639.7" y="404.0" font-size="8.7" font-style="italic" text-anchor="middle">Lag3</text>
<line x1="594.48" y1="386.57" x2="627.82" y2="400.87" stroke="#111" stroke-width="0.65"/>
<text x="639.7" y="413.1" font-size="8.7" font-style="italic" text-anchor="middle">Nav3</text>
<line x1="594.90" y1="394.01" x2="627.35" y2="410.00" stroke="#111" stroke-width="0.65"/>
<text x="639.7" y="422.2" font-size="8.7" font-style="italic" text-anchor="middle">Sall1</text>
<line x1="594.47" y1="412.60" x2="627.83" y2="419.13" stroke="#111" stroke-width="0.65"/>
<text x="639.7" y="431.4" font-size="8.7" font-style="italic" text-anchor="middle">Sall3</text>
<line x1="594.47" y1="416.31" x2="627.83" y2="428.26" stroke="#111" stroke-width="0.65"/>
<text x="639.7" y="440.5" font-size="8.7" font-style="italic" text-anchor="middle">Slc24a3</text>
<line x1="599.89" y1="423.75" x2="621.78" y2="437.39" stroke="#111" stroke-width="0.65"/>
<text x="639.7" y="449.6" font-size="8.7" font-style="italic" text-anchor="middle">Slc2a5</text>
<line x1="597.72" y1="427.47" x2="624.20" y2="446.52" stroke="#111" stroke-width="0.65"/>
<text x="639.7" y="458.8" font-size="8.7" font-style="italic" text-anchor="middle">Tmc7</text>
<line x1="595.55" y1="438.62" x2="626.63" y2="455.65" stroke="#111" stroke-width="0.65"/>
<text x="639.7" y="467.9" font-size="8.7" font-style="italic" text-anchor="middle">Tmem119</text>
<line x1="603.06" y1="446.05" x2="618.24" y2="464.78" stroke="#111" stroke-width="0.65"/>
<rect x="664.6" y="21.5" width="6.6" height="95.8" fill="url(#cbar)"/>
<text x="675.2" y="42.5" font-size="8.7">4</text>
<text x="675.2" y="63.3" font-size="8.7">2</text>
<text x="675.2" y="84.5" font-size="8.7">0</text>
<text x="675.2" y="106.0" font-size="8.7">−2</text>
<text transform="translate(521.5,470.5) rotate(-90)" font-size="8.7" text-anchor="end">Brain microglia</text>
<text transform="translate(533.5,470.5) rotate(-90)" font-size="8.7" text-anchor="end">snMacs</text>
<text transform="translate(545.5,470.5) rotate(-90)" font-size="8.7" text-anchor="end">Alveolar macrophages</text>
<text transform="translate(557.5,470.5) rotate(-90)" font-size="8.7" text-anchor="end">Splenic red pulp macrophages</text>
<text transform="translate(568.4,470.5) rotate(-90)" font-size="8.7" text-anchor="end">Peritoneal macrophages</text>
<text transform="translate(580.3,470.5) rotate(-90)" font-size="8.7" text-anchor="end">Liver Kupffer cells</text>
<circle cx="77.9" cy="345.7" r="22.60" fill="none" stroke="#a0a0a0" stroke-width="0.6"/>
<circle cx="77.9" cy="345.7" r="31.96" fill="none" stroke="#a0a0a0" stroke-width="0.6"/>
<circle cx="77.9" cy="345.7" r="39.14" fill="none" stroke="#a0a0a0" stroke-width="0.6"/>
<circle cx="77.9" cy="345.7" r="45.20" fill="none" stroke="#a0a0a0" stroke-width="0.6"/>
<circle cx="77.9" cy="345.7" r="50.54" fill="none" stroke="#a0a0a0" stroke-width="0.6"/>
<path d="M77.9 345.7L96.45 350.67A19.2 19.2 0 0 0 96.45 340.73Z" fill="#d9474b"/>
<path d="M77.9 345.7L90.84 342.23A13.4 13.4 0 0 0 87.38 336.22Z" fill="#d98a4a"/>
<path d="M77.9 345.7L83.77 339.83A8.3 8.3 0 0 0 80.05 337.68Z" fill="#d6cf4f"/>
<path d="M77.9 345.7L80.38 336.43A9.6 9.6 0 0 0 75.42 336.43Z" fill="#8ccf58"/>
<path d="M77.9 345.7L74.17 331.79A14.4 14.4 0 0 0 67.72 335.52Z" fill="#5cb84a"/>
<path d="M77.9 345.7L68.28 336.08A13.6 13.6 0 0 0 64.76 342.18Z" fill="#5cc08a"/>
<path d="M77.9 345.7L49.98 338.22A28.9 28.9 0 0 0 49.98 353.18Z" fill="#52c3c9"/>
<path d="M77.9 345.7L59.74 350.57A18.8 18.8 0 0 0 64.61 358.99Z" fill="#4a87d0"/>
<path d="M77.9 345.7L72.10 351.50A8.2 8.2 0 0 0 75.78 353.62Z" fill="#4b4aa6"/>
<path d="M77.9 345.7L76.92 349.37A3.8 3.8 0 0 0 78.88 349.37Z" fill="#8a4fb0"/>
<path d="M77.9 345.7L79.09 350.14A4.6 4.6 0 0 0 81.15 348.95Z" fill="#b04fb0"/>
<path d="M77.9 345.7L84.05 351.85A8.7 8.7 0 0 0 86.30 347.95Z" fill="#d84a9a"/>
<line x1="77.90" y1="345.70" x2="128.50" y2="345.70" stroke="#555" stroke-width="0.6"/>
<line x1="77.90" y1="345.70" x2="52.60" y2="301.88" stroke="#555" stroke-width="0.6"/>
<line x1="77.90" y1="345.70" x2="52.60" y2="389.52" stroke="#555" stroke-width="0.6"/>
<text transform="translate(49.5,297.5) rotate(-30)" font-size="8.7" text-anchor="middle">SN</text>
<text transform="translate(136.4,345.2) rotate(90)" font-size="8.7" text-anchor="middle">Microglia</text>
<text x="14.6" y="383.6" font-size="8.7">Liver</text>
<text x="14.6" y="393.8" font-size="8.7">Lung</text>
<text x="14.6" y="404.3" font-size="8.7">Spleen</text>
<text x="14.6" y="413.8" font-size="8.7">Peritoneum</text>
<path d="M333.40 399.70L318.60 374.07L289.00 374.07L274.20 399.70L289.00 425.33L318.60 425.33Z" fill="none" stroke="#7a7a7a" stroke-width="0.7"/>
<path d="M363.00 399.70L333.40 348.43L274.20 348.43L244.60 399.70L274.20 450.97L333.40 450.97Z" fill="none" stroke="#7a7a7a" stroke-width="0.7"/>
<path d="M392.60 399.70L348.20 322.80L259.40 322.80L215.00 399.70L259.40 476.60L348.20 476.60Z" fill="none" stroke="#7a7a7a" stroke-width="0.7"/>
<path d="M422.20 399.70L363.00 297.16L244.60 297.16L185.40 399.70L244.60 502.24L363.00 502.24Z" fill="none" stroke="#7a7a7a" stroke-width="0.7"/>
<line x1="303.80" y1="399.70" x2="422.20" y2="399.70" stroke="#2a2a2a" stroke-width="0.95"/>
<line x1="303.80" y1="399.70" x2="244.60" y2="297.16" stroke="#2a2a2a" stroke-width="0.95"/>
<line x1="303.80" y1="399.70" x2="244.60" y2="502.24" stroke="#2a2a2a" stroke-width="0.95"/>
<path d="M284.4 401.9h0.95M240.7 422.7h0.95M269.0 412.3h0.95M259.6 411.9h0.95M260.7 415.4h0.95M263.0 400.3h0.95M245.8 408.2h0.95M262.8 408.3h0.95M256.8 393.6h0.95M296.6 403.2h0.95M267.1 409.0h0.95M261.7 392.6h0.95M262.3 411.5h0.95M258.7 411.0h0.95M255.0 413.7h0.95M261.3 395.6h0.95M269.6 404.5h0.95M262.7 417.9h0.95M274.1 411.3h0.95M263.1 395.5h0.95M265.2 405.6h0.95M279.7 417.6h0.95M270.2 402.6h0.95M260.2 407.2h0.95M263.3 429.1h0.95M270.1 403.0h0.95M283.4 402.3h0.95M262.4 393.3h0.95M262.7 396.8h0.95M274.5 418.2h0.95M256.6 402.0h0.95M262.2 391.5h0.95M273.4 394.0h0.95M270.5 403.4h0.95M265.9 411.0h0.95M271.4 395.9h0.95M238.1 410.4h0.95M274.7 398.4h0.95M255.9 406.8h0.95M249.1 408.5h0.95M267.6 409.3h0.95M271.7 398.9h0.95M260.8 401.5h0.95M254.8 408.3h0.95M265.2 390.3h0.95M264.5 404.9h0.95M278.4 408.3h0.95M272.1 413.6h0.95M266.8 402.8h0.95M275.6 401.3h0.95M263.0 404.5h0.95M256.2 395.8h0.95M270.5 401.0h0.95M270.5 407.2h0.95M263.0 405.9h0.95M257.6 392.6h0.95M267.2 399.8h0.95M241.3 381.9h0.95M271.6 411.0h0.95M269.7 397.7h0.95M249.4 405.4h0.95M265.6 392.0h0.95M255.8 402.1h0.95M272.2 407.4h0.95M245.7 412.7h0.95M256.3 389.3h0.95M271.7 411.3h0.95M276.0 401.2h0.95M244.5 395.1h0.95M260.3 407.6h0.95M268.1 399.9h0.95M259.2 399.9h0.95M280.1 395.8h0.95M253.7 405.1h0.95M268.4 403.2h0.95M255.0 401.1h0.95M278.4 393.3h0.95M264.8 397.7h0.95M261.5 406.8h0.95M248.7 415.6h0.95M281.0 402.5h0.95M272.2 416.9h0.95M272.2 402.7h0.95M275.8 391.9h0.95M268.3 409.1h0.95M258.9 393.1h0.95M257.4 406.8h0.95M257.4 413.5h0.95M278.0 399.7h0.95M251.1 401.9h0.95M259.3 427.5h0.95M261.9 405.2h0.95M267.1 405.4h0.95M270.5 410.6h0.95M253.1 401.8h0.95M248.6 401.9h0.95M265.0 406.6h0.95M276.5 378.9h0.95M272.2 417.0h0.95M267.0 392.2h0.95M262.0 392.0h0.95M267.8 408.2h0.95M262.7 403.1h0.95M272.8 390.3h0.95M257.5 404.9h0.95M266.3 391.4h0.95M263.9 395.9h0.95M270.2 387.8h0.95M267.1 394.6h0.95M289.2 406.8h0.95M279.2 404.1h0.95M279.2 405.9h0.95M245.6 412.0h0.95M261.8 402.4h0.95M259.2 396.2h0.95M270.1 400.0h0.95M243.3 419.3h0.95M276.2 403.2h0.95M275.1 406.0h0.95M252.6 401.9h0.95M255.7 405.3h0.95M257.4 407.1h0.95M265.4 402.7h0.95M271.1 401.3h0.95M284.5 395.0h0.95M263.1 394.4h0.95M272.3 406.9h0.95M266.5 410.3h0.95M281.7 412.0h0.95M272.1 403.4h0.95M278.0 394.6h0.95M254.8 409.1h0.95M263.2 409.0h0.95M257.3 387.8h0.95M279.3 410.8h0.95M271.2 408.6h0.95M262.1 419.4h0.95M260.7 391.6h0.95M269.6 390.0h0.95M258.3 410.7h0.95M256.2 384.9h0.95M269.6 395.5h0.95M288.4 391.9h0.95M262.7 392.7h0.95M259.7 383.8h0.95M253.9 400.5h0.95M252.3 412.6h0.95M270.0 407.3h0.95M273.1 407.3h0.95M265.1 399.3h0.95M268.2 417.3h0.95M266.1 408.1h0.95M266.3 413.4h0.95M250.5 387.4h0.95M260.6 406.3h0.95M266.1 391.5h0.95M257.6 406.4h0.95M260.5 404.9h0.95M257.2 391.7h0.95M261.8 404.7h0.95M273.1 414.5h0.95M261.1 407.9h0.95M263.5 408.8h0.95M272.7 394.4h0.95M271.1 396.2h0.95M281.1 391.9h0.95M245.1 404.3h0.95M273.1 414.8h0.95M260.4 407.3h0.95M266.3 403.0h0.95M273.0 391.8h0.95M275.3 407.4h0.95M274.9 400.6h0.95M266.5 384.0h0.95M280.3 385.8h0.95M262.3 399.6h0.95M263.7 394.1h0.95M272.6 419.5h0.95M259.8 403.4h0.95M285.5 392.7h0.95M274.7 398.2h0.95M285.7 418.9h0.95M264.7 393.6h0.95M261.4 410.7h0.95M266.6 407.4h0.95M272.0 417.7h0.95M259.4 408.3h0.95M268.6 399.0h0.95M264.8 408.3h0.95M280.3 403.7h0.95M258.7 412.7h0.95M274.9 402.4h0.95M258.9 422.8h0.95M255.9 402.1h0.95M258.3 407.4h0.95M253.7 396.5h0.95M266.4 404.3h0.95M274.8 403.4h0.95M266.6 404.8h0.95M270.9 412.1h0.95M280.5 397.8h0.95M267.6 394.7h0.95M266.9 414.2h0.95M262.4 400.3h0.95M249.7 396.5h0.95M272.2 414.6h0.95M248.3 410.9h0.95M271.2 376.8h0.95M264.9 399.4h0.95M275.7 411.0h0.95M264.4 411.5h0.95M257.2 398.1h0.95M268.4 418.7h0.95M259.7 395.3h0.95M263.3 400.9h0.95M265.4 404.5h0.95M263.7 403.1h0.95M263.2 411.2h0.95M257.1 413.4h0.95M263.2 402.8h0.95M244.7 417.1h0.95M263.5 396.4h0.95M253.6 401.1h0.95M275.6 420.3h0.95M277.1 404.2h0.95M246.5 413.9h0.95M266.4 399.0h0.95M263.8 400.6h0.95M255.1 402.2h0.95M270.1 405.0h0.95M260.6 399.9h0.95M248.2 403.5h0.95M262.5 410.0h0.95M263.6 415.3h0.95M266.0 404.4h0.95M253.3 409.8h0.95M270.8 412.4h0.95M272.0 392.6h0.95M254.1 387.7h0.95M258.7 419.4h0.95M264.2 416.5h0.95M259.6 403.9h0.95M281.6 406.8h0.95M267.0 394.0h0.95M255.4 389.6h0.95M257.5 406.5h0.95M264.5 388.5h0.95M286.8 412.4h0.95M263.3 396.6h0.95M266.2 406.2h0.95M269.9 422.6h0.95M264.6 422.1h0.95M286.7 400.6h0.95M260.0 413.9h0.95M272.1 393.1h0.95M266.5 397.5h0.95M270.9 407.0h0.95M253.8 417.1h0.95M281.8 397.6h0.95M263.8 408.7h0.95M265.3 404.3h0.95M256.1 390.7h0.95M258.1 402.0h0.95M270.4 418.2h0.95M274.4 402.4h0.95M272.2 408.3h0.95M276.5 411.5h0.95M271.8 395.9h0.95M265.3 415.5h0.95M272.9 418.2h0.95M270.6 419.2h0.95M264.0 416.3h0.95M271.9 398.6h0.95M277.2 397.4h0.95M267.2 395.4h0.95M261.6 394.2h0.95M271.8 395.3h0.95M283.1 413.1h0.95M263.0 417.8h0.95M264.1 396.8h0.95M263.7 411.3h0.95M276.6 390.6h0.95M247.5 400.0h0.95M268.5 393.3h0.95M276.3 387.0h0.95M257.3 403.7h0.95M279.1 404.0h0.95M270.1 399.1h0.95M259.8 398.0h0.95M266.9 393.3h0.95M250.4 401.8h0.95M259.6 397.2h0.95M282.4 405.5h0.95M256.5 391.1h0.95M282.5 405.4h0.95M264.2 408.2h0.95M274.4 415.5h0.95M265.4 413.6h0.95M243.7 405.0h0.95M259.6 396.3h0.95M266.8 384.8h0.95M254.1 403.0h0.95M252.2 417.2h0.95M268.5 419.7h0.95M258.8 377.7h0.95M248.9 395.5h0.95M258.5 399.6h0.95M273.2 392.7h0.95M260.5 404.9h0.95M273.9 403.5h0.95M279.5 397.9h0.95M265.3 402.7h0.95M254.3 387.2h0.95M252.6 393.4h0.95M264.8 394.1h0.95M273.4 412.0h0.95M267.6 386.8h0.95M270.2 400.9h0.95M260.8 410.8h0.95M267.9 402.5h0.95M260.5 411.2h0.95M261.9 396.5h0.95M252.7 407.4h0.95M250.1 412.1h0.95M260.4 425.4h0.95M254.5 410.3h0.95M255.9 417.3h0.95M271.4 403.2h0.95M264.0 404.1h0.95M292.7 418.8h0.95M273.8 408.9h0.95M259.0 417.3h0.95M272.4 410.2h0.95M268.4 424.3h0.95M258.5 426.9h0.95M275.5 394.8h0.95M257.6 421.7h0.95M235.9 407.5h0.95M272.5 407.9h0.95M259.1 402.0h0.95M279.1 410.4h0.95M258.8 392.1h0.95M253.8 395.9h0.95M279.7 395.6h0.95M254.8 406.1h0.95M266.9 412.4h0.95M278.8 410.6h0.95M266.1 406.9h0.95M264.2 397.3h0.95M266.0 385.7h0.95M273.0 407.3h0.95M257.3 404.7h0.95M270.8 406.9h0.95M270.5 417.6h0.95M287.2 401.5h0.95M261.8 401.3h0.95M256.3 380.1h0.95M272.0 408.9h0.95M261.2 402.8h0.95M267.7 395.9h0.95M266.3 407.2h0.95M276.1 392.9h0.95M258.8 397.9h0.95M264.1 422.9h0.95M240.8 410.8h0.95M256.5 412.5h0.95M279.6 410.8h0.95M258.5 409.7h0.95M258.3 405.2h0.95M253.4 426.1h0.95M270.5 402.5h0.95M266.7 410.6h0.95M253.7 401.1h0.95M271.3 399.7h0.95M267.5 378.9h0.95M272.2 384.0h0.95M258.9 418.7h0.95M281.5 418.1h0.95M268.9 398.9h0.95M263.9 402.9h0.95M260.1 409.3h0.95M262.7 393.3h0.95M273.2 420.9h0.95M262.4 392.8h0.95M275.2 396.0h0.95M270.5 375.5h0.95M277.8 418.3h0.95M272.7 403.7h0.95M264.4 419.4h0.95M246.9 393.1h0.95M267.8 406.5h0.95M272.5 403.9h0.95M266.5 405.1h0.95M270.3 423.9h0.95M260.5 425.8h0.95M261.4 416.9h0.95M256.0 399.1h0.95M277.9 412.1h0.95M266.5 416.6h0.95M260.3 408.7h0.95M252.3 408.8h0.95M263.5 407.9h0.95M278.7 394.1h0.95M269.4 405.6h0.95M258.1 419.2h0.95M278.6 393.2h0.95M278.6 403.9h0.95M274.3 411.5h0.95M272.5 389.5h0.95M276.0 401.7h0.95M270.2 386.1h0.95M272.4 397.0h0.95M257.6 389.0h0.95M279.2 394.1h0.95M267.2 398.2h0.95M284.2 400.3h0.95M245.6 401.0h0.95M271.7 379.0h0.95M274.3 418.9h0.95M261.7 400.3h0.95M269.3 392.1h0.95M272.1 396.7h0.95M270.5 406.1h0.95M259.9 393.0h0.95M263.7 398.9h0.95M274.7 398.3h0.95M277.1 408.4h0.95M265.9 395.5h0.95M265.7 407.5h0.95M266.9 406.5h0.95M274.9 401.5h0.95M255.0 415.4h0.95M252.4 403.2h0.95M266.2 391.2h0.95M254.5 406.0h0.95M259.4 404.2h0.95M265.8 402.6h0.95M269.6 405.3h0.95M254.8 426.5h0.95M272.6 405.3h0.95M248.1 407.6h0.95M270.2 400.5h0.95M250.0 416.1h0.95M252.9 402.4h0.95M271.1 395.0h0.95M261.1 390.8h0.95M257.4 408.3h0.95M260.8 410.4h0.95M269.4 387.1h0.95M264.5 395.8h0.95M264.7 409.4h0.95M275.0 413.3h0.95M258.2 389.8h0.95M260.5 398.9h0.95M260.0 411.3h0.95M276.1 397.7h0.95M274.4 398.5h0.95M277.2 397.6h0.95M264.7 389.9h0.95M263.5 403.5h0.95M273.1 406.0h0.95M261.3 389.0h0.95M272.9 404.0h0.95M271.9 414.1h0.95M258.4 405.1h0.95M264.2 412.5h0.95M263.9 397.5h0.95M281.5 416.7h0.95M289.6 395.1h0.95M264.1 421.8h0.95M265.1 398.5h0.95M243.3 395.8h0.95M267.0 394.1h0.95M264.9 398.8h0.95M254.8 398.0h0.95M272.5 396.1h0.95M250.1 399.7h0.95M263.0 409.6h0.95M266.3 411.8h0.95M253.1 399.6h0.95M273.1 415.3h0.95M275.0 393.0h0.95M251.8 392.7h0.95M251.6 391.7h0.95M270.7 409.0h0.95M264.7 387.5h0.95M253.5 389.0h0.95M262.2 415.8h0.95M264.0 420.1h0.95M263.6 416.4h0.95M272.9 388.0h0.95M268.6 403.1h0.95M281.8 411.3h0.95M278.1 403.9h0.95M271.4 386.8h0.95M275.2 399.5h0.95M277.6 385.9h0.95M271.7 390.6h0.95M253.4 424.5h0.95M273.2 409.7h0.95M265.7 388.2h0.95M280.4 387.9h0.95M265.9 407.5h0.95M270.0 396.8h0.95M268.1 408.7h0.95M281.0 396.4h0.95M266.7 400.9h0.95M262.4 405.3h0.95M267.9 392.6h0.95M260.8 383.7h0.95M266.5 391.0h0.95M264.9 395.9h0.95M267.6 400.8h0.95M283.3 402.3h0.95M261.1 402.2h0.95M265.4 408.0h0.95M263.1 393.9h0.95M271.4 416.8h0.95M253.8 422.9h0.95M258.4 406.5h0.95M264.6 404.7h0.95M270.2 415.3h0.95M264.6 409.3h0.95M260.2 404.7h0.95M256.8 401.2h0.95M269.9 395.5h0.95M278.7 391.2h0.95M268.1 409.5h0.95M266.8 414.7h0.95M269.2 392.3h0.95M256.0 402.1h0.95M262.0 405.0h0.95M262.5 398.6h0.95M267.8 395.2h0.95M264.7 398.9h0.95M253.4 383.1h0.95M275.7 402.2h0.95M281.1 399.9h0.95M262.5 424.0h0.95M268.8 412.2h0.95M267.5 399.4h0.95M272.5 402.8h0.95M250.9 420.0h0.95M280.3 418.9h0.95M260.6 404.7h0.95M277.0 401.5h0.95M265.8 388.4h0.95M261.3 399.6h0.95M263.7 401.1h0.95M273.5 395.5h0.95M256.8 420.1h0.95M261.4 384.1h0.95M260.4 401.5h0.95M248.7 406.9h0.95M277.4 407.2h0.95M270.5 419.7h0.95M264.8 388.8h0.95M276.1 395.3h0.95M255.9 403.8h0.95M264.3 404.1h0.95M281.4 399.0h0.95M274.3 395.2h0.95M243.9 413.6h0.95M233.3 392.3h0.95M255.1 397.1h0.95M275.1 417.2h0.95M260.5 420.2h0.95M262.9 411.5h0.95M270.8 394.2h0.95M256.6 394.3h0.95M267.0 393.8h0.95M272.5 391.5h0.95M269.4 398.7h0.95M268.8 415.5h0.95M259.3 405.0h0.95M269.9 395.3h0.95M260.9 395.0h0.95M277.4 391.0h0.95M289.4 414.9h0.95M258.0 382.6h0.95M244.3 405.5h0.95M261.0 388.4h0.95M268.6 392.2h0.95M275.0 387.9h0.95M275.3 412.4h0.95M257.6 401.9h0.95M257.5 430.2h0.95M277.0 392.4h0.95M254.6 391.8h0.95M275.4 408.6h0.95M262.8 408.3h0.95M272.3 399.9h0.95M271.7 382.5h0.95M272.4 417.1h0.95M272.8 408.3h0.95M255.6 406.6h0.95M267.8 396.7h0.95M265.1 409.0h0.95M267.9 397.0h0.95M276.7 403.0h0.95M262.4 400.7h0.95M258.2 415.2h0.95M258.1 397.9h0.95M262.0 399.1h0.95M272.1 413.6h0.95M257.3 404.8h0.95M276.0 402.3h0.95M267.8 400.1h0.95M262.9 412.0h0.95M252.3 396.0h0.95M267.3 407.2h0.95M271.6 422.8h0.95M248.2 406.5h0.95M276.3 394.6h0.95M280.7 390.4h0.95M268.2 403.9h0.95M269.7 390.2h0.95M287.9 386.5h0.95M276.7 394.8h0.95M256.5 391.5h0.95M264.8 411.2h0.95M263.5 387.9h0.95M263.6 418.2h0.95M242.5 394.8h0.95M272.2 403.5h0.95M259.0 409.1h0.95M266.6 404.6h0.95M263.7 409.6h0.95M273.3 392.5h0.95M262.2 379.6h0.95M257.4 400.3h0.95M270.1 385.5h0.95M278.3 396.5h0.95M262.0 411.7h0.95M278.0 400.3h0.95M267.5 396.3h0.95M259.9 390.9h0.95M279.5 399.3h0.95M257.2 400.5h0.95M274.6 386.4h0.95M260.3 405.2h0.95M269.3 391.4h0.95M253.3 404.4h0.95M257.0 397.7h0.95M275.1 412.1h0.95M266.8 410.8h0.95M265.4 402.3h0.95M260.8 401.1h0.95M269.2 406.6h0.95M251.7 416.1h0.95M254.4 412.9h0.95M263.5 403.9h0.95M257.1 405.5h0.95M258.3 418.2h0.95M264.3 386.0h0.95M263.7 407.8h0.95M262.9 393.4h0.95M280.8 416.0h0.95M274.6 397.6h0.95M276.7 401.4h0.95M264.7 391.7h0.95M260.2 402.8h0.95M251.2 410.6h0.95M261.7 419.4h0.95M245.2 390.0h0.95M259.5 398.3h0.95M272.3 441.9h0.95M280.4 412.2h0.95M274.2 402.7h0.95M256.8 408.1h0.95M269.7 376.2h0.95M257.5 419.0h0.95M272.8 404.5h0.95M263.9 388.5h0.95M273.2 414.6h0.95M289.4 396.6h0.95M273.8 392.7h0.95M287.2 408.2h0.95M266.7 407.0h0.95M261.9 398.4h0.95M277.7 402.2h0.95M281.4 389.5h0.95M259.7 388.5h0.95M265.7 412.0h0.95M251.4 416.2h0.95M263.1 407.3h0.95M273.4 406.7h0.95M264.2 399.0h0.95M259.6 401.7h0.95M251.6 393.6h0.95M268.5 420.6h0.95M272.6 397.3h0.95M270.7 407.1h0.95M267.4 403.0h0.95M252.9 389.0h0.95M281.7 422.4h0.95M264.5 399.2h0.95M263.6 395.3h0.95M272.0 404.1h0.95M244.4 394.0h0.95M264.4 403.3h0.95M263.7 393.4h0.95M268.5 408.7h0.95M277.8 403.6h0.95M269.5 389.3h0.95M247.6 413.4h0.95M261.8 404.9h0.95M267.0 392.0h0.95M266.4 406.6h0.95M252.8 407.3h0.95M249.2 421.7h0.95M270.2 394.4h0.95M268.3 411.6h0.95M264.8 402.1h0.95M248.6 409.2h0.95M281.9 400.4h0.95M237.4 402.5h0.95M261.5 408.1h0.95M284.9 391.2h0.95M263.5 382.0h0.95M267.2 403.0h0.95M253.8 398.6h0.95M277.9 404.0h0.95M252.7 409.6h0.95M267.4 401.0h0.95M266.3 415.1h0.95M255.0 402.8h0.95M273.4 404.3h0.95M251.5 411.6h0.95M258.5 409.1h0.95M264.7 402.4h0.95M261.1 404.5h0.95M269.4 395.7h0.95M273.8 397.1h0.95M262.2 404.3h0.95M259.9 411.5h0.95M260.1 398.9h0.95M261.5 411.7h0.95M272.7 422.8h0.95M262.9 424.9h0.95M268.9 403.6h0.95M264.1 414.0h0.95M257.0 409.5h0.95M273.2 411.3h0.95M255.1 411.8h0.95M265.1 408.7h0.95M279.1 411.8h0.95M254.6 405.4h0.95M264.5 400.9h0.95M249.9 406.1h0.95M260.2 408.5h0.95M250.8 415.8h0.95M261.6 407.3h0.95M259.9 411.0h0.95M266.3 417.8h0.95M280.1 394.2h0.95M267.7 400.9h0.95M271.3 409.0h0.95M264.5 403.8h0.95M262.7 393.4h0.95M257.1 413.5h0.95M247.9 402.8h0.95M265.7 393.5h0.95M280.5 422.5h0.95M269.5 390.7h0.95M259.9 403.4h0.95M280.7 396.8h0.95M260.9 404.6h0.95M259.1 409.2h0.95M253.5 395.3h0.95M255.9 402.5h0.95M262.7 402.2h0.95M284.0 393.4h0.95M263.0 415.2h0.95M255.2 405.2h0.95M259.2 400.6h0.95M262.9 396.8h0.95M248.7 400.1h0.95M266.2 404.9h0.95M271.7 398.8h0.95M268.0 416.0h0.95M270.7 377.9h0.95M252.7 382.0h0.95M248.9 400.9h0.95M277.2 385.0h0.95M275.4 402.8h0.95M250.4 396.8h0.95M267.0 409.3h0.95M265.2 407.6h0.95M270.2 416.6h0.95M267.0 412.7h0.95M260.2 416.0h0.95M266.9 408.8h0.95M266.5 414.1h0.95M264.5 408.5h0.95M247.4 397.5h0.95M236.5 390.9h0.95M257.5 391.3h0.95M249.5 408.3h0.95M267.4 379.6h0.95M271.8 405.2h0.95M267.5 395.9h0.95M261.5 410.8h0.95M265.7 405.5h0.95M276.1 395.9h0.95M258.1 403.6h0.95M273.8 380.7h0.95M271.7 406.2h0.95M267.5 408.1h0.95M278.8 385.0h0.95M258.2 412.1h0.95M274.0 402.3h0.95M256.2 405.2h0.95M257.7 389.2h0.95M254.9 409.5h0.95M269.2 409.3h0.95M256.1 403.3h0.95M265.5 393.6h0.95M254.2 411.1h0.95M275.1 416.0h0.95M282.4 407.5h0.95M267.1 413.6h0.95M280.6 397.7h0.95M270.3 405.1h0.95M285.6 407.4h0.95M265.9 405.1h0.95M250.1 431.9h0.95M279.2 407.9h0.95M263.8 398.1h0.95M255.2 412.0h0.95M258.8 392.9h0.95M249.5 407.4h0.95M263.4 411.5h0.95M254.8 398.9h0.95M279.1 400.6h0.95M271.3 394.4h0.95M249.2 405.2h0.95M250.7 397.1h0.95M259.6 421.3h0.95M246.7 410.4h0.95M264.0 401.7h0.95M264.6 389.8h0.95M257.7 424.3h0.95M259.8 417.0h0.95M269.7 408.7h0.95M278.5 406.0h0.95M279.2 405.7h0.95M265.3 399.3h0.95M273.1 422.9h0.95M258.0 406.1h0.95M268.9 389.6h0.95M255.9 397.5h0.95M271.9 378.2h0.95M253.2 410.6h0.95M255.8 411.7h0.95M264.9 421.8h0.95M270.3 425.0h0.95M251.3 396.2h0.95M259.9 408.5h0.95M266.3 414.0h0.95M267.2 412.0h0.95M257.0 398.9h0.95M265.9 412.0h0.95M262.5 409.0h0.95M278.3 417.6h0.95M270.3 403.7h0.95M252.4 401.6h0.95M244.1 398.9h0.95M265.9 400.2h0.95M276.2 396.3h0.95M266.7 400.5h0.95M273.4 408.9h0.95M260.4 408.5h0.95M252.0 417.1h0.95M272.1 414.8h0.95M265.9 410.1h0.95M271.5 392.3h0.95M251.9 409.5h0.95M266.7 415.5h0.95M259.1 390.7h0.95M272.7 392.6h0.95M259.5 394.2h0.95M259.2 393.3h0.95M259.4 400.8h0.95M277.0 394.3h0.95M265.3 407.5h0.95M257.8 391.5h0.95M255.3 402.4h0.95M255.1 398.6h0.95M278.9 393.9h0.95M247.8 413.9h0.95M256.9 403.9h0.95M271.1 409.0h0.95M276.2 400.2h0.95M263.6 410.6h0.95M272.5 409.7h0.95M272.2 402.0h0.95M274.4 385.8h0.95M265.4 411.8h0.95M280.7 410.5h0.95M267.1 405.4h0.95M279.7 406.0h0.95M254.7 404.8h0.95M274.1 405.5h0.95M253.3 393.5h0.95M251.0 403.0h0.95M270.0 406.8h0.95M257.4 397.5h0.95M269.5 393.9h0.95M255.1 422.2h0.95M280.6 409.7h0.95M265.4 400.5h0.95M254.6 398.7h0.95M267.0 377.1h0.95M273.8 389.3h0.95M258.1 401.1h0.95M270.3 416.5h0.95M284.9 383.0h0.95M273.7 396.6h0.95M265.4 422.7h0.95M260.1 410.3h0.95M271.0 407.7h0.95M251.1 415.5h0.95M236.6 402.4h0.95M259.2 401.8h0.95M255.2 410.7h0.95M282.1 412.1h0.95M266.9 392.9h0.95M256.2 418.9h0.95M254.5 386.2h0.95M270.3 396.7h0.95M257.7 434.4h0.95M260.0 398.5h0.95M264.7 410.2h0.95M266.4 393.6h0.95M266.5 400.4h0.95M266.7 396.4h0.95M278.0 399.6h0.95M281.8 410.2h0.95M249.9 421.1h0.95M290.1 412.4h0.95M266.9 419.2h0.95M277.5 398.6h0.95M258.7 418.3h0.95M268.8 409.3h0.95M267.7 417.4h0.95M266.8 399.4h0.95M273.8 401.3h0.95M271.7 417.3h0.95M256.2 409.7h0.95M264.6 404.7h0.95M272.6 396.7h0.95M272.2 402.6h0.95M262.5 408.4h0.95M263.0 410.8h0.95M264.3 398.0h0.95M255.2 400.1h0.95M253.5 407.8h0.95M280.6 392.4h0.95M262.0 412.8h0.95M266.6 403.3h0.95M258.6 402.0h0.95M278.0 379.1h0.95M282.4 387.3h0.95M263.6 392.8h0.95M270.6 397.3h0.95M258.5 392.1h0.95M282.5 406.8h0.95M274.5 404.4h0.95M257.7 400.3h0.95M277.6 382.7h0.95M269.1 417.0h0.95M269.6 400.2h0.95M269.1 408.9h0.95M259.4 396.3h0.95M260.6 403.0h0.95M271.6 409.9h0.95M265.2 405.3h0.95M256.7 412.6h0.95M285.0 401.2h0.95M263.7 422.9h0.95M260.4 384.0h0.95M259.0 397.4h0.95M272.2 412.7h0.95M274.9 400.4h0.95M268.0 398.5h0.95M273.9 385.2h0.95M251.4 414.9h0.95M262.1 383.9h0.95M261.2 408.0h0.95M265.7 404.8h0.95M270.3 411.6h0.95M246.3 417.5h0.95M295.3 395.8h0.95M257.4 394.8h0.95M268.9 399.7h0.95M273.5 385.6h0.95M273.7 411.0h0.95M267.9 398.8h0.95M237.9 404.4h0.95M255.2 391.5h0.95M272.7 402.9h0.95M256.8 396.5h0.95M255.5 402.0h0.95M243.1 391.8h0.95M277.0 412.9h0.95M270.3 396.2h0.95M256.9 377.1h0.95M264.1 409.1h0.95M264.4 399.6h0.95M254.7 393.8h0.95M262.7 427.7h0.95M267.7 402.1h0.95M270.5 389.2h0.95M277.3 396.4h0.95M265.5 406.4h0.95M260.9 400.3h0.95M269.1 415.0h0.95M259.2 413.2h0.95M253.3 394.7h0.95M276.1 403.0h0.95M261.6 409.0h0.95M266.3 398.4h0.95M271.4 397.9h0.95M254.7 411.4h0.95M271.3 407.1h0.95M269.5 388.6h0.95M264.3 397.1h0.95M268.9 398.4h0.95M258.0 401.4h0.95M244.2 395.4h0.95M262.5 416.0h0.95M256.5 392.9h0.95M273.4 391.7h0.95M267.7 404.7h0.95M260.1 380.0h0.95M265.6 392.3h0.95M278.0 408.8h0.95M276.0 389.3h0.95M268.7 394.1h0.95M269.3 413.5h0.95M262.5 407.2h0.95M263.9 403.2h0.95M270.8 405.1h0.95M264.0 395.9h0.95M268.0 405.7h0.95M254.6 400.6h0.95M249.3 427.7h0.95M249.0 408.1h0.95M261.0 399.3h0.95M277.8 402.2h0.95M276.4 403.2h0.95M255.7 388.9h0.95M250.4 394.5h0.95M272.7 418.0h0.95M269.6 388.7h0.95M252.1 396.9h0.95M275.2 413.0h0.95M266.8 417.9h0.95M277.7 392.5h0.95M268.4 417.4h0.95M273.6 399.2h0.95M268.2 419.4h0.95M256.1 407.8h0.95M262.9 400.0h0.95M258.7 410.1h0.95M273.0 408.4h0.95M255.7 395.1h0.95M250.6 424.3h0.95M271.6 399.4h0.95M276.0 414.4h0.95M278.9 398.0h0.95M275.5 384.6h0.95M250.8 391.6h0.95M258.5 401.9h0.95M259.9 409.7h0.95M264.9 420.5h0.95M244.7 403.7h0.95M265.0 400.0h0.95M267.7 390.6h0.95M256.1 402.4h0.95M266.2 405.9h0.95M276.4 380.7h0.95M265.5 415.9h0.95M275.1 414.2h0.95M274.7 425.6h0.95M269.0 393.7h0.95M268.8 403.2h0.95M261.6 403.0h0.95M276.9 389.6h0.95M260.6 394.3h0.95M258.5 393.0h0.95M271.8 408.0h0.95M258.2 407.1h0.95M269.2 416.3h0.95M275.2 398.8h0.95M265.9 388.8h0.95M266.1 407.2h0.95M273.8 406.5h0.95M272.3 409.5h0.95M250.5 415.3h0.95M252.7 396.9h0.95M277.8 410.8h0.95M268.8 392.7h0.95M245.4 404.4h0.95M252.3 409.7h0.95M265.4 401.6h0.95M255.8 405.0h0.95M269.6 388.8h0.95M265.9 396.3h0.95M269.8 404.3h0.95M254.1 390.7h0.95M271.1 394.2h0.95M283.8 427.1h0.95M257.6 405.3h0.95M277.7 394.5h0.95M274.5 392.4h0.95M271.3 416.5h0.95M264.6 374.6h0.95M254.2 398.9h0.95M256.9 408.4h0.95M272.5 396.4h0.95M274.5 407.3h0.95M276.8 391.5h0.95M274.3 401.8h0.95M273.8 402.3h0.95M261.1 402.0h0.95M253.7 403.3h0.95M267.2 402.2h0.95M270.0 413.0h0.95M266.0 399.1h0.95M250.8 395.9h0.95M260.3 398.9h0.95M251.2 398.7h0.95M266.6 386.5h0.95M255.3 382.6h0.95M263.6 388.2h0.95M268.3 404.5h0.95M266.5 395.0h0.95M278.2 397.6h0.95M254.7 430.4h0.95M244.5 412.9h0.95M274.2 399.6h0.95M278.6 395.3h0.95M278.9 415.4h0.95M268.0 393.8h0.95M270.4 414.0h0.95M266.4 407.5h0.95M253.0 415.5h0.95M259.8 394.4h0.95M270.0 410.7h0.95M259.8 383.5h0.95M283.4 399.9h0.95M250.6 412.5h0.95M261.2 408.6h0.95M275.8 383.3h0.95M259.5 408.5h0.95M254.5 406.2h0.95M252.4 401.0h0.95M258.4 394.4h0.95M279.6 398.8h0.95M269.2 395.9h0.95M270.2 411.1h0.95M260.4 406.3h0.95M273.3 412.3h0.95M266.3 408.5h0.95M256.6 388.8h0.95M261.0 403.0h0.95M267.2 423.1h0.95M276.4 390.5h0.95M264.8 404.4h0.95M270.1 393.8h0.95M284.5 392.7h0.95M257.7 403.7h0.95M253.5 410.8h0.95M274.7 409.3h0.95M269.5 406.2h0.95M264.4 411.1h0.95M267.8 385.3h0.95M262.2 409.8h0.95M270.2 405.6h0.95M262.1 399.7h0.95M272.9 401.5h0.95M254.2 393.0h0.95M257.6 413.2h0.95M266.4 394.0h0.95M260.9 386.8h0.95M271.9 401.5h0.95M264.9 395.8h0.95M260.2 400.9h0.95M267.3 416.7h0.95M260.3 400.2h0.95M250.6 402.8h0.95M254.6 424.3h0.95M257.7 387.5h0.95M260.9 405.3h0.95M266.3 413.3h0.95M274.0 416.8h0.95M270.6 424.1h0.95M282.3 395.0h0.95M277.5 407.7h0.95M263.6 400.7h0.95M281.1 397.1h0.95M276.6 394.4h0.95M261.1 387.0h0.95M268.4 405.0h0.95M275.8 409.2h0.95M267.7 391.0h0.95M275.1 409.3h0.95M269.2 396.1h0.95M272.1 391.5h0.95M262.4 375.3h0.95M269.0 412.8h0.95M262.0 408.9h0.95M271.9 398.6h0.95M249.4 397.8h0.95M268.6 388.6h0.95M277.3 406.9h0.95M271.0 401.1h0.95M265.2 407.2h0.95M270.6 403.5h0.95M257.4 387.6h0.95M257.5 386.1h0.95M262.0 406.0h0.95M264.0 384.8h0.95M274.6 404.6h0.95M257.0 411.0h0.95M275.0 388.9h0.95M250.5 408.7h0.95M258.0 402.4h0.95M265.1 407.4h0.95M276.4 395.6h0.95M259.6 401.9h0.95M245.1 406.4h0.95M269.4 420.6h0.95M265.2 409.6h0.95M255.2 407.2h0.95M255.5 389.2h0.95M258.8 405.6h0.95M266.4 395.4h0.95M271.7 401.6h0.95M251.4 405.1h0.95M287.2 412.2h0.95M265.1 408.4h0.95M261.9 404.3h0.95M271.8 401.9h0.95M266.5 416.1h0.95M287.6 393.6h0.95M275.8 402.9h0.95M261.9 416.4h0.95M261.7 400.6h0.95M260.7 410.9h0.95M262.2 411.5h0.95M271.8 422.5h0.95M259.3 414.0h0.95M280.7 385.9h0.95M264.6 402.6h0.95M264.0 405.5h0.95M274.4 410.9h0.95M246.6 406.4h0.95M256.5 421.5h0.95M271.1 413.5h0.95M265.5 390.5h0.95M265.3 396.0h0.95M269.2 381.5h0.95M259.7 419.7h0.95M263.8 401.0h0.95M252.5 400.7h0.95M247.6 386.2h0.95M277.4 397.6h0.95M256.5 406.2h0.95M258.6 397.8h0.95M278.7 397.8h0.95M275.5 395.5h0.95M260.4 421.7h0.95M260.3 396.0h0.95M264.6 386.9h0.95M256.3 396.2h0.95M270.6 397.9h0.95M266.8 400.4h0.95M266.6 398.8h0.95M272.5 389.9h0.95M272.2 399.2h0.95M282.9 405.1h0.95M279.8 386.9h0.95M249.1 421.1h0.95M273.9 418.3h0.95M254.7 382.7h0.95M251.8 397.4h0.95M272.1 411.3h0.95M258.7 414.7h0.95M262.4 419.2h0.95M275.5 382.3h0.95M259.1 389.8h0.95M256.9 395.9h0.95M268.5 406.7h0.95M277.0 390.2h0.95M270.4 405.5h0.95M250.6 405.8h0.95M259.2 408.5h0.95M326.1 408.4h0.95M338.2 397.0h0.95M337.2 398.5h0.95M333.3 404.5h0.95M347.3 384.7h0.95M334.3 389.8h0.95M348.5 410.8h0.95M331.9 386.6h0.95M350.7 393.9h0.95M350.3 401.4h0.95M330.2 408.1h0.95M339.7 393.8h0.95M339.5 398.4h0.95M329.0 389.3h0.95M343.4 394.7h0.95M341.9 404.9h0.95M330.0 399.9h0.95M337.9 397.3h0.95M344.4 400.6h0.95M335.9 398.5h0.95M331.4 398.8h0.95M350.5 395.0h0.95M329.3 390.5h0.95M340.0 402.5h0.95M346.4 389.2h0.95M343.8 405.0h0.95M322.4 413.0h0.95M334.7 408.6h0.95M336.3 414.4h0.95M335.7 390.1h0.95M342.6 399.4h0.95M341.9 391.6h0.95M338.6 392.3h0.95M339.7 385.2h0.95M345.9 388.9h0.95M347.8 403.9h0.95M322.3 402.8h0.95M355.4 406.4h0.95M333.2 405.9h0.95M344.1 403.4h0.95M324.5 391.9h0.95M333.6 396.9h0.95M327.6 403.1h0.95M346.6 406.8h0.95M345.0 395.1h0.95M337.9 394.3h0.95M336.5 394.7h0.95M341.0 409.4h0.95M330.2 402.0h0.95M332.9 395.6h0.95M331.6 392.4h0.95M344.5 401.1h0.95M338.1 385.8h0.95M327.5 396.3h0.95M340.7 393.8h0.95M342.1 393.7h0.95M349.1 399.4h0.95M333.4 401.0h0.95M341.2 419.9h0.95M354.8 398.7h0.95M335.2 403.0h0.95M334.9 392.2h0.95M342.0 386.1h0.95M333.8 406.3h0.95M337.9 412.2h0.95M333.8 390.8h0.95M331.5 397.5h0.95M345.0 406.1h0.95M334.8 398.8h0.95M329.7 380.8h0.95M335.5 405.4h0.95M336.7 397.1h0.95M340.3 403.3h0.95M345.4 391.2h0.95M352.2 404.5h0.95M327.9 405.6h0.95M335.8 392.9h0.95M323.0 401.7h0.95M339.6 393.5h0.95M342.0 394.5h0.95M332.4 391.6h0.95M330.3 395.0h0.95M329.6 393.2h0.95M325.5 406.6h0.95M342.8 396.5h0.95M353.1 390.0h0.95M328.4 408.0h0.95M350.8 402.0h0.95M336.6 405.2h0.95M326.3 397.7h0.95M342.1 403.2h0.95M343.7 397.4h0.95M340.7 391.3h0.95M335.4 398.9h0.95M351.0 399.2h0.95M335.2 399.1h0.95M342.6 404.2h0.95M342.7 385.7h0.95M330.2 400.3h0.95M322.4 392.5h0.95M323.4 396.2h0.95M334.2 401.4h0.95M340.3 398.7h0.95M322.9 393.4h0.95M331.5 403.7h0.95M349.8 397.9h0.95M322.8 405.0h0.95M341.1 407.2h0.95M340.2 395.7h0.95M343.7 390.4h0.95M325.3 398.9h0.95M340.0 404.2h0.95M326.0 400.6h0.95M348.1 390.0h0.95M330.2 386.2h0.95M340.3 391.6h0.95M330.7 391.6h0.95M338.3 402.8h0.95M324.8 398.8h0.95M339.5 404.7h0.95M342.1 397.8h0.95M337.1 410.4h0.95M350.3 398.5h0.95M340.2 402.4h0.95M343.6 395.5h0.95M341.3 401.6h0.95M352.4 406.2h0.95M331.9 404.0h0.95M335.0 407.6h0.95M335.4 394.1h0.95M342.2 401.7h0.95M339.4 410.7h0.95M344.0 400.3h0.95M339.7 397.3h0.95M333.1 396.9h0.95M336.8 394.7h0.95M340.8 399.5h0.95M318.7 408.4h0.95M348.6 401.7h0.95M332.7 398.3h0.95M334.5 392.8h0.95M339.5 390.4h0.95M335.4 415.5h0.95M325.6 395.1h0.95M335.6 399.2h0.95M348.7 395.0h0.95M346.0 399.7h0.95M347.5 395.4h0.95M333.0 399.2h0.95M335.8 408.8h0.95M346.1 393.2h0.95M349.7 402.2h0.95M337.8 397.9h0.95M329.7 403.5h0.95M321.9 393.5h0.95M349.2 401.2h0.95M325.3 391.4h0.95M341.2 385.4h0.95M345.0 388.9h0.95M364.3 391.5h0.95M339.3 390.2h0.95M336.9 395.9h0.95M341.6 406.0h0.95M342.0 390.1h0.95M348.8 401.3h0.95M343.5 399.2h0.95M331.6 393.1h0.95M320.6 391.4h0.95M340.3 401.1h0.95M332.4 401.5h0.95M349.5 395.6h0.95M327.2 397.0h0.95M339.6 398.0h0.95M331.9 388.7h0.95M330.8 398.8h0.95M351.7 400.2h0.95M339.4 410.4h0.95M336.5 389.0h0.95M344.1 391.9h0.95M331.5 398.6h0.95M335.0 393.9h0.95M332.7 395.1h0.95M354.3 398.1h0.95M340.7 395.9h0.95M343.2 397.8h0.95M347.2 401.1h0.95M336.5 386.6h0.95M336.7 402.0h0.95M324.5 382.1h0.95M341.9 410.0h0.95M340.1 404.5h0.95M334.6 393.7h0.95M347.9 405.2h0.95M323.2 397.0h0.95M341.4 401.1h0.95M326.6 403.4h0.95M328.5 400.5h0.95M336.2 398.1h0.95M349.0 402.4h0.95M328.1 396.7h0.95M329.7 395.4h0.95M327.9 391.4h0.95M354.6 385.4h0.95M342.3 409.2h0.95M341.3 403.6h0.95M355.1 388.3h0.95M340.0 400.9h0.95M320.5 399.6h0.95M333.8 382.6h0.95M328.0 392.3h0.95M354.8 397.4h0.95M326.2 410.2h0.95M340.5 405.8h0.95M333.7 407.0h0.95M334.3 400.4h0.95M338.1 405.2h0.95M336.8 389.9h0.95M332.3 402.5h0.95M327.7 403.3h0.95M332.5 389.3h0.95M329.3 399.9h0.95M330.4 408.9h0.95M338.9 411.7h0.95M336.7 408.2h0.95M341.9 393.3h0.95M335.9 397.6h0.95M353.9 394.6h0.95M331.8 406.9h0.95M329.6 392.3h0.95M346.4 390.9h0.95M332.0 386.9h0.95M338.9 399.7h0.95M346.0 401.3h0.95M337.1 394.1h0.95M334.9 393.0h0.95M345.9 397.0h0.95M340.7 407.7h0.95M333.5 388.9h0.95M327.9 398.0h0.95M334.7 399.8h0.95M324.1 400.9h0.95M330.6 407.1h0.95M328.8 404.1h0.95M340.3 400.3h0.95M344.2 408.6h0.95M332.4 406.4h0.95M334.2 400.4h0.95M328.7 400.0h0.95M326.4 390.0h0.95M334.2 399.3h0.95M342.5 392.9h0.95M341.7 390.4h0.95M342.7 396.4h0.95M335.6 386.2h0.95M315.1 392.1h0.95M345.5 394.7h0.95M348.8 400.6h0.95M345.4 396.0h0.95M345.4 401.0h0.95M347.0 409.3h0.95M360.2 404.0h0.95M340.6 390.1h0.95M350.8 385.7h0.95M344.7 391.7h0.95M343.6 391.9h0.95M336.9 384.2h0.95M335.1 386.0h0.95M328.6 386.0h0.95M342.8 393.8h0.95M335.4 408.0h0.95M328.0 409.9h0.95M331.7 390.7h0.95M328.1 394.6h0.95M351.3 388.2h0.95M335.9 386.3h0.95M338.9 397.2h0.95M327.9 398.0h0.95M329.4 393.2h0.95M346.7 402.0h0.95M336.0 395.2h0.95M339.8 405.1h0.95M353.2 394.0h0.95M355.3 403.4h0.95M343.7 396.0h0.95M342.0 398.3h0.95M339.9 401.8h0.95M335.6 388.0h0.95M354.8 392.2h0.95M327.9 396.9h0.95M337.2 395.4h0.95M322.0 399.2h0.95M327.5 391.7h0.95M341.3 388.0h0.95M341.8 396.6h0.95M340.8 399.4h0.95M335.3 391.7h0.95M332.1 405.9h0.95M333.5 402.2h0.95M334.8 403.3h0.95M347.1 402.9h0.95M350.1 391.4h0.95M341.7 412.3h0.95M333.5 392.5h0.95M330.2 400.2h0.95M340.5 402.7h0.95M336.1 400.0h0.95M322.8 399.1h0.95M349.4 392.1h0.95M337.9 395.1h0.95M335.3 398.2h0.95M330.8 407.1h0.95M330.7 393.4h0.95M345.5 402.9h0.95M330.2 401.2h0.95M338.8 398.8h0.95M343.3 394.3h0.95M353.3 397.3h0.95M343.0 386.2h0.95M337.7 399.1h0.95M334.3 400.7h0.95M345.1 394.8h0.95M346.4 402.1h0.95M334.5 400.7h0.95M342.9 393.4h0.95M336.9 404.4h0.95M324.5 394.9h0.95M329.6 415.5h0.95M344.7 391.4h0.95M350.0 393.0h0.95M343.6 394.2h0.95M336.3 400.3h0.95M332.0 406.7h0.95M342.5 399.3h0.95M340.8 395.8h0.95M324.6 411.9h0.95M343.4 405.8h0.95M332.1 396.6h0.95M343.6 397.8h0.95M342.5 387.9h0.95M344.0 398.8h0.95M346.9 410.6h0.95M343.9 390.4h0.95M329.3 388.6h0.95M329.5 399.4h0.95M346.6 381.8h0.95M342.0 408.2h0.95M324.9 387.9h0.95M321.3 393.4h0.95M345.4 397.3h0.95M356.5 406.8h0.95M344.9 401.1h0.95M336.0 385.0h0.95M340.2 386.4h0.95M315.4 399.6h0.95M329.7 383.5h0.95M346.5 396.1h0.95M345.2 392.3h0.95M320.3 403.7h0.95M347.9 406.5h0.95M342.5 380.4h0.95M345.8 401.0h0.95M336.3 402.4h0.95M338.1 392.6h0.95M329.1 393.7h0.95M340.7 389.5h0.95M345.5 395.4h0.95M330.2 400.7h0.95M341.1 407.2h0.95M333.6 407.9h0.95M346.7 395.8h0.95M346.2 392.0h0.95M318.4 404.8h0.95M341.8 378.4h0.95M346.5 387.9h0.95M333.4 402.2h0.95M336.2 413.3h0.95M336.8 392.2h0.95M328.5 398.4h0.95M337.1 389.9h0.95M351.0 397.2h0.95M342.0 397.2h0.95M350.7 392.4h0.95M346.3 400.5h0.95M348.0 396.6h0.95M339.0 401.3h0.95M344.5 396.4h0.95M354.8 389.4h0.95M350.3 398.8h0.95M340.7 403.8h0.95M332.2 392.3h0.95M330.4 407.2h0.95M340.0 401.0h0.95M341.7 395.3h0.95M322.8 398.1h0.95M339.9 394.9h0.95M340.9 391.6h0.95M340.5 404.3h0.95M333.5 404.2h0.95M357.2 394.7h0.95M345.3 396.6h0.95M326.6 396.5h0.95M332.1 402.8h0.95M344.7 408.2h0.95M342.3 393.3h0.95M339.1 400.1h0.95M337.7 397.8h0.95M336.2 401.9h0.95M334.2 408.1h0.95M329.4 391.9h0.95M342.7 383.6h0.95M314.8 396.8h0.95M331.8 386.8h0.95M348.1 409.7h0.95M331.3 393.1h0.95M327.9 396.1h0.95M353.5 399.7h0.95M346.4 399.5h0.95M336.5 395.1h0.95M332.9 398.1h0.95M335.8 404.7h0.95M334.8 395.9h0.95M335.7 411.1h0.95M331.6 400.6h0.95M342.2 381.6h0.95M333.0 404.4h0.95M322.6 385.8h0.95M326.9 400.5h0.95M337.6 414.0h0.95M329.2 405.7h0.95M317.1 390.2h0.95M350.0 392.5h0.95M341.7 398.3h0.95M333.6 408.3h0.95M333.2 393.0h0.95M341.8 405.9h0.95M348.9 400.3h0.95M332.3 397.5h0.95M340.9 397.0h0.95M332.3 410.0h0.95M340.1 387.6h0.95M328.0 390.2h0.95M322.3 404.5h0.95M338.1 405.1h0.95M336.9 389.1h0.95M343.4 391.7h0.95M331.9 390.1h0.95M348.8 402.0h0.95M338.2 393.6h0.95M350.2 408.2h0.95M334.6 403.6h0.95M311.8 383.3h0.95M309.8 396.2h0.95M320.0 380.3h0.95M329.1 373.4h0.95M304.1 371.4h0.95M311.4 390.7h0.95M327.4 398.3h0.95M301.6 411.7h0.95M333.7 429.5h0.95M299.5 433.4h0.95M280.6 386.0h0.95M309.3 384.5h0.95M353.3 412.4h0.95M348.6 381.4h0.95M255.5 419.5h0.95M312.8 418.0h0.95M288.6 380.1h0.95M293.6 412.7h0.95M293.0 425.8h0.95M296.4 407.1h0.95M287.5 393.1h0.95M294.9 395.4h0.95M309.9 407.7h0.95M267.0 384.7h0.95M266.0 405.1h0.95M269.5 394.3h0.95M269.0 384.8h0.95M320.9 380.3h0.95M269.8 409.4h0.95M300.6 381.7h0.95M304.9 403.0h0.95M324.5 363.8h0.95M303.8 395.1h0.95M334.7 400.9h0.95M301.2 405.5h0.95M310.5 416.7h0.95M325.8 408.7h0.95M259.2 409.4h0.95M314.7 393.7h0.95M348.4 379.2h0.95M306.3 376.9h0.95M295.7 384.4h0.95M360.1 403.5h0.95M306.2 417.9h0.95M340.0 405.5h0.95M231.7 402.7h0.95M306.2 413.2h0.95M287.9 392.7h0.95M314.5 402.2h0.95M338.5 396.8h0.95M298.5 402.8h0.95M296.3 394.8h0.95M218.4 374.5h0.95M326.7 391.7h0.95M342.9 383.5h0.95M307.5 431.5h0.95M288.7 425.8h0.95M314.0 387.1h0.95M334.1 382.6h0.95M322.5 399.1h0.95M365.5 370.5h0.95M286.3 422.2h0.95M262.3 397.6h0.95M317.8 389.7h0.95M341.2 418.3h0.95M289.4 422.7h0.95M303.2 401.4h0.95M283.8 417.5h0.95M265.4 367.1h0.95M281.0 384.1h0.95M241.0 382.5h0.95M311.2 367.8h0.95M316.9 414.6h0.95M329.6 443.5h0.95M278.1 373.5h0.95M283.8 387.6h0.95M252.5 418.3h0.95M259.1 392.7h0.95M329.6 398.0h0.95M387.5 383.0h0.95M271.1 404.4h0.95M290.9 379.8h0.95M330.7 412.3h0.95M281.9 407.9h0.95M320.3 405.1h0.95M293.7 383.7h0.95M293.8 394.0h0.95M330.0 406.9h0.95M295.2 381.2h0.95M264.7 379.6h0.95M327.5 355.3h0.95M303.6 387.9h0.95M286.2 395.1h0.95M278.7 415.8h0.95M320.2 375.3h0.95M281.2 370.7h0.95M306.4 420.6h0.95M332.9 418.5h0.95M299.6 376.5h0.95M335.6 388.5h0.95M261.5 363.6h0.95M321.1 396.6h0.95M318.8 422.1h0.95M359.1 412.7h0.95M303.5 378.0h0.95M329.8 403.1h0.95M298.1 384.4h0.95M271.0 403.8h0.95M276.5 387.6h0.95M281.7 409.7h0.95M326.3 421.6h0.95M279.5 404.0h0.95M304.2 404.7h0.95M329.9 405.4h0.95M340.2 414.4h0.95M331.1 390.2h0.95M347.7 394.8h0.95M268.9 395.2h0.95M288.3 422.8h0.95M312.5 401.1h0.95M336.4 408.8h0.95M318.1 391.2h0.95M280.0 372.7h0.95M297.3 392.4h0.95M253.5 407.1h0.95M327.2 392.3h0.95M249.4 387.5h0.95M309.5 391.2h0.95M335.3 407.9h0.95M330.1 406.2h0.95M254.6 398.2h0.95M309.4 380.5h0.95M292.6 385.4h0.95M294.1 465.8h0.95M352.3 395.0h0.95M311.6 409.7h0.95M260.0 403.9h0.95M270.6 372.2h0.95M324.3 422.9h0.95M309.7 399.7h0.95M268.9 381.4h0.95M252.6 412.4h0.95M286.3 387.5h0.95M289.7 404.1h0.95M327.4 373.3h0.95M284.5 394.7h0.95M322.8 410.5h0.95M339.1 388.9h0.95M254.6 371.7h0.95M285.1 382.7h0.95M349.2 410.6h0.95M289.2 368.3h0.95M302.1 372.0h0.95M331.4 412.4h0.95M279.6 400.0h0.95M289.9 397.0h0.95M252.7 389.5h0.95M318.9 405.2h0.95M287.5 413.4h0.95M291.0 406.2h0.95M224.8 365.1h0.95M331.0 409.6h0.95M322.7 366.9h0.95M278.0 430.0h0.95M338.6 389.5h0.95M228.1 409.2h0.95M299.6 404.0h0.95M251.0 385.9h0.95M383.4 420.3h0.95M223.0 402.1h0.95M264.8 437.8h0.95M278.5 410.5h0.95M325.4 404.5h0.95M326.2 445.4h0.95M312.8 424.5h0.95M293.6 398.8h0.95M365.4 383.6h0.95M279.4 434.7h0.95M310.4 421.7h0.95M353.6 421.7h0.95M263.8 392.8h0.95M276.6 387.4h0.95M334.1 382.1h0.95M314.6 420.3h0.95M261.4 395.9h0.95M301.8 411.2h0.95M358.7 358.0h0.95M293.1 418.2h0.95M325.0 385.3h0.95M304.6 347.6h0.95M280.0 374.5h0.95M349.3 406.3h0.95M329.9 427.1h0.95M336.8 346.5h0.95M296.1 372.5h0.95M303.7 400.6h0.95M307.4 368.7h0.95M314.1 389.8h0.95M290.2 378.4h0.95M285.4 399.5h0.95M340.0 369.7h0.95M267.4 391.1h0.95M287.2 381.6h0.95M289.1 400.0h0.95M285.0 396.2h0.95M264.0 416.5h0.95M277.3 401.9h0.95M324.6 430.9h0.95M289.5 367.3h0.95M278.1 392.7h0.95M350.6 412.3h0.95M260.2 399.7h0.95M331.6 347.7h0.95M311.0 403.8h0.95M259.6 388.4h0.95M288.2 444.3h0.95M288.6 395.8h0.95M339.3 410.7h0.95M327.9 379.7h0.95M291.9 410.9h0.95M264.9 344.9h0.95M249.3 378.4h0.95M295.2 390.6h0.95M258.0 367.4h0.95M294.9 416.5h0.95M294.1 398.1h0.95M311.6 429.4h0.95M330.4 371.0h0.95M303.5 382.0h0.95M314.4 410.4h0.95M295.1 388.3h0.95M331.6 413.8h0.95M324.8 410.3h0.95M348.3 383.7h0.95M341.8 400.3h0.95M278.3 408.3h0.95M256.3 402.7h0.95M319.6 394.1h0.95M334.8 388.8h0.95M280.0 393.8h0.95M345.5 416.9h0.95M303.2 437.5h0.95M297.6 371.1h0.95M311.0 378.9h0.95M257.9 395.0h0.95M250.6 426.0h0.95M289.6 381.8h0.95M264.6 442.7h0.95M299.3 441.9h0.95M299.6 352.7h0.95M222.4 411.3h0.95M275.4 409.9h0.95M315.4 390.3h0.95M229.5 362.9h0.95M289.2 403.7h0.95M258.6 391.0h0.95M240.2 421.1h0.95M332.8 409.5h0.95M331.6 380.7h0.95M286.4 436.2h0.95M284.1 434.0h0.95M340.9 427.5h0.95M335.2 400.2h0.95M298.7 416.9h0.95M325.1 401.1h0.95M302.1 388.7h0.95M289.6 363.3h0.95M317.5 404.5h0.95M286.1 361.3h0.95M316.6 412.8h0.95M291.5 373.1h0.95M285.1 403.4h0.95M281.7 393.8h0.95M312.5 377.3h0.95M327.0 379.4h0.95M311.7 388.2h0.95M272.7 427.9h0.95M317.4 406.5h0.95M271.8 394.0h0.95M265.0 415.0h0.95M292.8 376.7h0.95M323.2 369.9h0.95M319.6 381.8h0.95M315.8 418.8h0.95M340.4 393.2h0.95M325.0 400.9h0.95M288.4 400.9h0.95M322.8 390.5h0.95M291.2 422.4h0.95M311.3 412.2h0.95M317.2 381.9h0.95M297.5 378.5h0.95M255.1 397.4h0.95M295.4 380.5h0.95M290.6 398.0h0.95M296.7 412.3h0.95M287.5 399.2h0.95M266.5 401.7h0.95M252.2 388.4h0.95M320.1 382.5h0.95M323.9 378.2h0.95M311.6 423.0h0.95M299.1 383.1h0.95M359.1 399.6h0.95M320.5 400.1h0.95M301.2 406.5h0.95M325.5 391.5h0.95M298.7 366.9h0.95M321.8 438.3h0.95M309.3 377.3h0.95M317.0 409.6h0.95M302.9 377.1h0.95M287.6 410.8h0.95M316.3 377.3h0.95M334.7 430.8h0.95M274.0 406.9h0.95M285.5 367.2h0.95M268.8 430.6h0.95M327.5 361.3h0.95M294.9 391.4h0.95M328.0 419.4h0.95M277.9 390.3h0.95M326.1 422.8h0.95M284.5 398.7h0.95M287.8 386.3h0.95M317.6 422.2h0.95M290.0 398.7h0.95M283.9 388.6h0.95M328.3 416.2h0.95M299.7 392.8h0.95M338.6 371.0h0.95M377.0 383.5h0.95M285.0 445.8h0.95M291.7 442.2h0.95M256.5 367.3h0.95M266.6 413.2h0.95M319.6 421.8h0.95M310.7 392.2h0.95M310.1 410.9h0.95M315.5 377.7h0.95M276.8 391.1h0.95M251.8 418.0h0.95M334.1 396.3h0.95M309.2 394.4h0.95M335.6 392.6h0.95M301.0 371.2h0.95M324.5 377.5h0.95M286.3 386.9h0.95M301.8 394.7h0.95M297.1 380.3h0.95M313.0 434.1h0.95M343.5 362.9h0.95M321.2 376.1h0.95M216.2 384.5h0.95M298.9 407.5h0.95M302.3 368.9h0.95M325.9 402.2h0.95M306.2 380.5h0.95M281.3 381.7h0.95M278.8 405.6h0.95M292.1 413.4h0.95M281.1 417.4h0.95M344.3 374.2h0.95M320.0 417.4h0.95M303.8 417.8h0.95M330.9 403.8h0.95M366.1 406.3h0.95M296.0 398.3h0.95M301.3 394.6h0.95M293.3 414.5h0.95M265.8 430.4h0.95M283.5 392.8h0.95M274.5 404.8h0.95M316.5 416.2h0.95M315.7 370.6h0.95M328.2 430.0h0.95M279.4 405.2h0.95M331.8 426.5h0.95M273.4 392.6h0.95M296.9 381.1h0.95M340.6 395.4h0.95M339.0 404.2h0.95M334.7 380.1h0.95M365.0 416.2h0.95M333.5 403.7h0.95M295.2 377.6h0.95M296.1 407.7h0.95M279.7 395.5h0.95M309.7 399.2h0.95M280.4 390.8h0.95M284.3 384.6h0.95M273.6 374.8h0.95M252.7 400.9h0.95M376.5 399.6h0.95M329.2 408.3h0.95M241.3 384.9h0.95M316.0 407.4h0.95M286.2 415.3h0.95M239.4 376.0h0.95M296.5 402.7h0.95M309.2 442.1h0.95M320.0 388.8h0.95M335.7 392.5h0.95M277.7 397.7h0.95M301.4 388.3h0.95M322.7 415.4h0.95M319.1 396.8h0.95M314.5 396.3h0.95M305.9 383.0h0.95M339.6 408.9h0.95M265.6 396.4h0.95M258.7 390.3h0.95M354.7 392.0h0.95M315.6 429.1h0.95M336.2 398.1h0.95M310.0 403.4h0.95M292.4 424.4h0.95M289.7 396.2h0.95M307.6 416.9h0.95M289.5 378.5h0.95M301.4 411.0h0.95M301.1 356.9h0.95M328.0 401.0h0.95M327.2 389.7h0.95M351.2 384.2h0.95M282.8 419.1h0.95M302.7 412.4h0.95M332.5 414.8h0.95M314.5 427.3h0.95M231.9 408.4h0.95M315.0 409.3h0.95M304.1 396.9h0.95M290.3 434.7h0.95M292.1 415.4h0.95M283.2 383.0h0.95M339.1 381.3h0.95M325.1 383.6h0.95M311.1 383.7h0.95M338.0 423.1h0.95M332.7 403.8h0.95M280.7 418.6h0.95M274.0 383.2h0.95M275.3 383.1h0.95M327.5 421.6h0.95M304.9 359.0h0.95M341.4 374.7h0.95M321.1 356.9h0.95M299.7 384.7h0.95M268.6 447.7h0.95M298.1 382.9h0.95M371.8 418.0h0.95M285.6 429.5h0.95M281.7 384.9h0.95M299.5 384.0h0.95M346.1 404.2h0.95M304.8 410.8h0.95M273.4 367.3h0.95M288.0 382.0h0.95M302.0 429.6h0.95M308.4 382.1h0.95M336.1 405.0h0.95M379.7 417.7h0.95M346.3 391.3h0.95M324.9 394.4h0.95M305.5 387.1h0.95M282.4 385.1h0.95M323.2 386.0h0.95M343.9 366.2h0.95M330.4 388.0h0.95M302.3 393.5h0.95M325.8 411.5h0.95M299.5 389.6h0.95M301.4 385.0h0.95M299.2 434.3h0.95M308.2 397.5h0.95M303.6 393.3h0.95M335.7 387.6h0.95M305.9 397.7h0.95M302.9 381.1h0.95M336.4 387.9h0.95M326.0 381.3h0.95M338.9 374.3h0.95M283.2 389.1h0.95M344.2 371.1h0.95M305.3 431.0h0.95M274.6 375.4h0.95M300.7 431.7h0.95M269.0 403.9h0.95M275.9 414.8h0.95M293.0 425.9h0.95M333.0 366.0h0.95M265.6 429.4h0.95M313.2 407.4h0.95M297.1 388.7h0.95M350.4 383.5h0.95M310.4 404.9h0.95M322.3 367.3h0.95M345.8 432.6h0.95M272.5 395.1h0.95M294.5 413.4h0.95M260.9 400.8h0.95M279.8 390.4h0.95M313.8 391.4h0.95M299.3 382.1h0.95M316.0 423.0h0.95M292.4 398.7h0.95M283.8 408.8h0.95M299.9 408.1h0.95M278.1 412.0h0.95M271.2 407.7h0.95M257.1 423.5h0.95M299.6 386.9h0.95M315.9 380.1h0.95M267.2 397.0h0.95M289.1 392.9h0.95M235.5 400.4h0.95M267.5 421.8h0.95M304.0 417.9h0.95M264.0 410.3h0.95M314.5 384.6h0.95M289.9 409.2h0.95M312.2 403.0h0.95M285.4 414.0h0.95M260.0 399.4h0.95M300.8 392.0h0.95M322.3 402.0h0.95M286.1 385.7h0.95M312.4 382.7h0.95M280.6 404.0h0.95M291.1 399.7h0.95M337.4 418.6h0.95M300.5 402.4h0.95M273.9 377.2h0.95M317.1 425.6h0.95M302.6 430.5h0.95M285.8 378.6h0.95M321.3 388.0h0.95M216.8 418.1h0.95M317.9 403.0h0.95M356.5 371.3h0.95M309.9 420.9h0.95M246.4 401.0h0.95M340.8 405.5h0.95M374.4 421.5h0.95M318.1 386.6h0.95M270.6 385.3h0.95M282.0 411.6h0.95M297.8 416.7h0.95M307.2 401.1h0.95M335.8 421.0h0.95M318.1 407.0h0.95M236.3 419.6h0.95M293.0 383.5h0.95M297.6 394.9h0.95M355.8 419.0h0.95M285.0 382.7h0.95M261.5 383.7h0.95M293.0 401.3h0.95M309.7 393.5h0.95M248.5 380.9h0.95M333.4 367.6h0.95M298.0 424.3h0.95M325.8 399.6h0.95M321.9 425.4h0.95M317.4 381.8h0.95M342.6 399.8h0.95M350.4 395.5h0.95M290.2 400.3h0.95M300.0 368.7h0.95M332.3 421.5h0.95M306.7 393.0h0.95M284.8 402.4h0.95M305.0 379.6h0.95M277.3 427.2h0.95M287.5 369.5h0.95M306.2 390.5h0.95M355.9 391.5h0.95M323.5 385.2h0.95M322.5 424.4h0.95M307.7 381.8h0.95M280.4 381.5h0.95M316.9 380.1h0.95M304.2 407.1h0.95M298.7 408.1h0.95M309.7 384.3h0.95M286.1 407.6h0.95M306.5 426.9h0.95M321.7 411.0h0.95M331.8 405.1h0.95M306.9 378.7h0.95M326.5 427.2h0.95M308.0 410.7h0.95M236.6 371.0h0.95M246.3 383.8h0.95M296.8 345.8h0.95M270.2 407.3h0.95M319.3 374.3h0.95M264.3 392.6h0.95M290.7 423.7h0.95M286.7 370.6h0.95M281.1 413.7h0.95M285.7 391.6h0.95M302.0 376.8h0.95M305.4 421.5h0.95M287.3 404.9h0.95M307.8 384.1h0.95M318.4 407.0h0.95M297.1 385.8h0.95M282.7 380.7h0.95M283.1 389.9h0.95M288.8 415.8h0.95M287.3 366.9h0.95M305.2 372.3h0.95M381.5 413.6h0.95M335.8 370.4h0.95M304.0 393.0h0.95M320.5 391.0h0.95M320.3 372.4h0.95M340.2 382.7h0.95M344.9 394.4h0.95M275.2 395.2h0.95M368.7 408.7h0.95M278.5 400.9h0.95M306.3 414.0h0.95M279.3 400.7h0.95M253.9 388.6h0.95M251.4 408.7h0.95M361.5 405.2h0.95M347.3 413.1h0.95M275.0 394.0h0.95M271.3 394.4h0.95M347.5 394.7h0.95M275.8 368.8h0.95M317.5 405.5h0.95M363.7 384.5h0.95M326.4 382.6h0.95M347.7 390.0h0.95M310.6 436.3h0.95M254.3 382.1h0.95M280.2 425.4h0.95M251.7 357.4h0.95M313.4 391.7h0.95M265.4 433.3h0.95M307.5 400.5h0.95M289.1 404.3h0.95M283.3 386.5h0.95M318.7 360.2h0.95M289.7 407.0h0.95M279.2 414.8h0.95M332.8 417.4h0.95M302.3 433.7h0.95M260.0 396.0h0.95M338.3 407.5h0.95M261.8 357.3h0.95M310.1 391.2h0.95M318.8 400.4h0.95M295.5 421.7h0.95M278.8 432.6h0.95M293.6 428.3h0.95M292.9 406.5h0.95M270.6 395.3h0.95M328.3 396.4h0.95M285.3 396.9h0.95M281.7 400.6h0.95M343.5 420.2h0.95M281.3 394.2h0.95M257.8 366.5h0.95M301.0 375.3h0.95M303.2 453.4h0.95M303.9 423.3h0.95M364.4 388.5h0.95M286.5 392.9h0.95M342.7 411.6h0.95M329.1 403.6h0.95M346.0 404.0h0.95M300.3 360.6h0.95M293.9 371.8h0.95M297.4 400.7h0.95M312.6 411.2h0.95M331.9 404.0h0.95M352.3 427.8h0.95M251.4 399.0h0.95M335.2 402.9h0.95M314.8 399.3h0.95M305.2 416.5h0.95M273.2 386.6h0.95M314.0 436.7h0.95M250.1 377.9h0.95M340.7 412.9h0.95M276.3 411.8h0.95M300.4 428.2h0.95M299.0 376.8h0.95M320.9 380.9h0.95M264.5 392.7h0.95M328.5 411.8h0.95M316.1 414.4h0.95M349.8 349.2h0.95M312.8 392.1h0.95M300.1 402.7h0.95M247.9 404.6h0.95M293.0 404.8h0.95M352.7 395.2h0.95M290.4 400.1h0.95M289.2 362.3h0.95M299.7 414.4h0.95M329.1 351.9h0.95M251.7 394.3h0.95M357.4 380.3h0.95M321.4 403.8h0.95M325.2 378.8h0.95M303.6 414.1h0.95M362.2 403.9h0.95M291.0 409.1h0.95M328.0 417.8h0.95M307.0 419.0h0.95M266.6 393.6h0.95M299.9 412.7h0.95M325.1 406.4h0.95M295.7 411.7h0.95M291.9 400.1h0.95M303.4 349.2h0.95M278.2 392.4h0.95M271.1 396.7h0.95M306.0 387.6h0.95M276.2 383.6h0.95M320.8 399.8h0.95M325.0 383.9h0.95M342.1 409.3h0.95M332.8 420.6h0.95M295.8 397.1h0.95M316.3 413.0h0.95M270.0 374.6h0.95M316.7 378.1h0.95M289.3 391.0h0.95M344.1 378.9h0.95M283.3 397.9h0.95M309.0 398.5h0.95M281.3 427.0h0.95M322.4 387.2h0.95M322.8 420.9h0.95M274.3 378.0h0.95M361.9 392.8h0.95M318.6 412.8h0.95M261.8 403.4h0.95M277.2 351.4h0.95M249.8 396.4h0.95M244.5 406.0h0.95M299.6 368.9h0.95M242.1 388.8h0.95M315.1 391.5h0.95M255.4 404.8h0.95M292.4 421.1h0.95M354.4 371.8h0.95M293.1 380.5h0.95M302.6 426.8h0.95M340.4 419.8h0.95M294.3 429.6h0.95M319.5 397.0h0.95M279.6 416.8h0.95M292.4 352.4h0.95M307.4 406.0h0.95M303.9 379.5h0.95M280.8 371.2h0.95M310.2 377.2h0.95M321.3 416.3h0.95M322.4 425.5h0.95M304.6 388.4h0.95M275.4 390.9h0.95M323.7 419.7h0.95M328.7 384.9h0.95M274.2 402.4h0.95M235.1 409.2h0.95M297.6 420.0h0.95M333.4 392.5h0.95M328.9 345.2h0.95M268.2 393.9h0.95M342.4 410.6h0.95M276.5 388.9h0.95M330.4 386.9h0.95M290.4 379.8h0.95M331.6 405.7h0.95M317.8 400.7h0.95M296.0 402.8h0.95M323.8 397.7h0.95M283.2 421.6h0.95M291.4 403.9h0.95M293.2 396.4h0.95M277.2 376.8h0.95M330.1 390.1h0.95M330.2 397.7h0.95M302.5 425.4h0.95M273.8 406.7h0.95M316.1 391.6h0.95M310.7 411.9h0.95M321.1 409.6h0.95M302.0 389.4h0.95M295.6 406.5h0.95M343.5 377.5h0.95M284.2 399.8h0.95M296.5 435.7h0.95M249.3 416.2h0.95M290.9 409.7h0.95M287.7 414.4h0.95M291.9 411.2h0.95M319.2 376.2h0.95M283.9 389.5h0.95M314.2 385.2h0.95M290.6 406.8h0.95M288.5 415.2h0.95M246.7 436.2h0.95M313.6 395.4h0.95M319.9 377.0h0.95M272.2 403.6h0.95M283.5 397.5h0.95M247.4 403.1h0.95M290.1 398.6h0.95M268.0 407.6h0.95M311.7 387.5h0.95M296.8 403.9h0.95M318.0 416.6h0.95M275.4 401.6h0.95M249.7 408.6h0.95M297.6 386.4h0.95M282.4 414.4h0.95M353.9 396.4h0.95M306.7 386.0h0.95M342.2 394.2h0.95M315.4 391.2h0.95M290.3 395.2h0.95M254.7 388.1h0.95M292.9 430.0h0.95M318.2 415.1h0.95M302.3 407.0h0.95M309.7 406.9h0.95M308.9 396.5h0.95M260.5 413.4h0.95M309.0 393.9h0.95M276.2 396.8h0.95M298.7 383.8h0.95M340.2 420.6h0.95M241.5 420.0h0.95M292.3 418.4h0.95M310.2 418.8h0.95M331.9 354.1h0.95M302.1 399.8h0.95M275.6 417.0h0.95M323.2 407.3h0.95M317.1 368.7h0.95M248.0 403.5h0.95M302.1 410.6h0.95M249.7 387.8h0.95M222.4 376.4h0.95M270.8 386.5h0.95M272.7 342.5h0.95M237.3 402.3h0.95M355.9 381.6h0.95M261.8 391.4h0.95M311.8 394.0h0.95M322.3 395.5h0.95M365.7 426.4h0.95M291.2 381.3h0.95M349.2 392.6h0.95M267.9 357.3h0.95M300.7 384.2h0.95M290.0 360.8h0.95M272.3 410.8h0.95M312.1 396.1h0.95M358.9 385.1h0.95M365.2 412.8h0.95M322.5 377.4h0.95M268.7 393.2h0.95M278.3 381.2h0.95M320.4 379.1h0.95M319.5 392.1h0.95M319.2 385.2h0.95M294.3 393.9h0.95M275.5 376.0h0.95M316.0 367.5h0.95M301.8 421.9h0.95M344.7 403.7h0.95M281.8 389.8h0.95M327.9 400.7h0.95M343.1 378.1h0.95M361.7 403.8h0.95M361.2 369.7h0.95M272.0 405.5h0.95M267.5 403.8h0.95M307.2 395.8h0.95M276.8 410.4h0.95M231.7 395.7h0.95M346.9 428.4h0.95M317.8 408.9h0.95M333.7 368.7h0.95M308.5 378.6h0.95M338.0 428.0h0.95M311.0 387.1h0.95M307.4 403.9h0.95M360.5 387.2h0.95M268.5 425.6h0.95M319.3 417.9h0.95M255.7 412.6h0.95M347.9 390.0h0.95M296.3 392.0h0.95M266.9 423.6h0.95M248.6 387.5h0.95M296.4 357.9h0.95M362.0 427.0h0.95M317.8 416.2h0.95M256.1 373.6h0.95M241.6 403.2h0.95M387.9 409.4h0.95M285.6 402.1h0.95M258.5 429.1h0.95M306.9 421.5h0.95M320.2 383.6h0.95M350.2 395.6h0.95M296.6 415.6h0.95M281.1 416.0h0.95M323.0 392.0h0.95M278.3 419.6h0.95M313.4 382.9h0.95M307.9 413.9h0.95M332.2 365.4h0.95M281.3 407.3h0.95M282.1 436.8h0.95M311.2 426.7h0.95M316.5 383.1h0.95M258.2 343.0h0.95M278.0 403.6h0.95M307.6 418.4h0.95M291.1 400.3h0.95M371.2 402.8h0.95M324.0 372.3h0.95M340.1 388.0h0.95M300.0 374.1h0.95M304.9 373.7h0.95M306.0 387.5h0.95M334.5 424.3h0.95M292.5 404.6h0.95M349.9 383.0h0.95M280.2 394.5h0.95M332.6 379.7h0.95M310.5 386.6h0.95M291.4 400.8h0.95M350.4 369.0h0.95M332.1 402.6h0.95M297.0 385.3h0.95M279.3 417.4h0.95M327.6 379.5h0.95M278.2 401.0h0.95M319.0 380.9h0.95M275.3 406.7h0.95M305.7 364.1h0.95M276.4 387.0h0.95M296.6 380.6h0.95M352.4 367.1h0.95M354.9 389.9h0.95M288.2 393.3h0.95M294.3 385.7h0.95M252.0 377.7h0.95M311.5 383.9h0.95M336.6 383.2h0.95M276.8 416.5h0.95M275.0 406.8h0.95M313.3 421.8h0.95M285.3 414.8h0.95M308.3 431.3h0.95M349.4 398.6h0.95M316.6 403.3h0.95M323.1 399.9h0.95M359.5 391.1h0.95M310.1 410.9h0.95M323.7 405.9h0.95M304.7 407.9h0.95M280.0 403.8h0.95M351.3 418.4h0.95M260.9 372.9h0.95M305.3 409.8h0.95M267.9 398.4h0.95M278.0 387.5h0.95M264.0 393.1h0.95M295.1 408.5h0.95M316.9 414.6h0.95M342.1 395.1h0.95M246.0 412.6h0.95M309.7 406.3h0.95M290.8 418.6h0.95M284.1 418.4h0.95M299.4 413.8h0.95M308.9 393.0h0.95M299.7 378.8h0.95M302.9 425.3h0.95M368.8 384.4h0.95M306.1 414.9h0.95M313.2 401.0h0.95M268.5 430.1h0.95M335.8 397.6h0.95M287.3 394.0h0.95M300.1 361.5h0.95M332.0 412.2h0.95M306.1 379.6h0.95M281.9 400.7h0.95M290.5 445.9h0.95M359.1 431.2h0.95M323.1 382.9h0.95M341.6 402.3h0.95M297.2 392.0h0.95M320.0 440.0h0.95M345.9 382.5h0.95M296.2 439.9h0.95M360.4 450.9h0.95M297.9 392.5h0.95M285.4 389.5h0.95M289.9 390.7h0.95M313.7 421.8h0.95M294.6 380.4h0.95M304.7 400.7h0.95M307.8 358.7h0.95M359.0 384.0h0.95M289.1 400.2h0.95M356.9 353.0h0.95M344.8 420.9h0.95M315.0 422.0h0.95M301.0 393.9h0.95M386.7 419.1h0.95M205.6 419.2h0.95M290.1 371.2h0.95M304.0 415.3h0.95M330.9 404.5h0.95M310.9 375.8h0.95M346.8 409.9h0.95M331.8 362.3h0.95M353.7 304.4h0.95M284.6 411.9h0.95M328.6 405.5h0.95M377.4 457.2h0.95M282.9 387.4h0.95M317.5 427.0h0.95M251.7 369.2h0.95M325.7 360.9h0.95M277.2 387.9h0.95M334.6 405.7h0.95M261.7 397.7h0.95M310.3 435.5h0.95M266.4 438.1h0.95M307.0 357.9h0.95M325.3 383.0h0.95M325.4 445.3h0.95M327.7 362.8h0.95M383.7 376.6h0.95M352.1 467.2h0.95M264.7 370.6h0.95M329.7 443.3h0.95M312.6 336.7h0.95M341.4 395.9h0.95M329.1 369.1h0.95M234.4 414.2h0.95M283.7 445.2h0.95M381.0 418.7h0.95M341.7 436.9h0.95M270.4 442.3h0.95M285.6 458.4h0.95M293.9 414.3h0.95M249.1 339.2h0.95M324.9 432.7h0.95M259.1 423.5h0.95M273.4 438.7h0.95M270.1 391.6h0.95M285.0 386.1h0.95M282.7 339.8h0.95M365.6 363.4h0.95M287.9 395.2h0.95M325.8 377.0h0.95M299.9 344.7h0.95M354.8 446.7h0.95M305.9 399.0h0.95M217.0 406.8h0.95M376.9 401.7h0.95M371.0 397.0h0.95M329.4 362.7h0.95M234.4 426.2h0.95M356.4 378.9h0.95M315.6 363.9h0.95M266.3 438.9h0.95M277.3 401.0h0.95M349.7 417.7h0.95M273.9 334.8h0.95M293.6 455.6h0.95M268.8 369.9h0.95M322.6 359.7h0.95M263.2 384.1h0.95M324.9 365.5h0.95M287.7 368.1h0.95M387.0 413.7h0.95M281.6 445.8h0.95M304.8 389.7h0.95M341.9 398.2h0.95M337.8 400.2h0.95M237.1 404.3h0.95M309.2 356.3h0.95M318.7 453.8h0.95M330.7 350.6h0.95M295.0 376.4h0.95M365.2 466.2h0.95M360.7 394.2h0.95M287.2 364.7h0.95M257.4 402.0h0.95M300.1 475.9h0.95M327.6 400.8h0.95M349.8 361.4h0.95M255.5 406.3h0.95M277.0 408.9h0.95M222.5 371.0h0.95M264.1 406.8h0.95M352.3 324.2h0.95M394.6 414.1h0.95M337.9 406.3h0.95M301.3 402.3h0.95M296.2 377.9h0.95M390.0 444.7h0.95M359.2 421.9h0.95M317.4 444.6h0.95M286.1 379.5h0.95M276.4 425.0h0.95M308.5 457.6h0.95M384.8 447.1h0.95M299.1 368.8h0.95M294.2 398.5h0.95M320.2 377.9h0.95M297.5 389.8h0.95M348.2 399.2h0.95M265.3 457.9h0.95M311.7 450.0h0.95M278.4 394.7h0.95M342.8 428.9h0.95M313.5 379.4h0.95M275.0 357.5h0.95M283.6 336.1h0.95M303.5 370.5h0.95M366.5 465.6h0.95M327.8 405.6h0.95M316.8 417.0h0.95M262.1 434.2h0.95M239.7 333.4h0.95M237.8 390.9h0.95M276.9 399.7h0.95M319.1 441.2h0.95M304.2 412.4h0.95M349.8 342.5h0.95M256.0 341.1h0.95M293.1 408.7h0.95M291.0 405.3h0.95M260.1 351.3h0.95M267.3 401.0h0.95M340.3 354.2h0.95M228.0 410.1h0.95M337.3 390.0h0.95M338.5 388.8h0.95M294.9 463.4h0.95M313.2 370.3h0.95M295.9 360.2h0.95M302.0 380.4h0.95M362.2 317.7h0.95M349.9 423.6h0.95M343.6 419.3h0.95M312.7 400.5h0.95M296.8 396.5h0.95M312.8 394.7h0.95M248.0 345.5h0.95M265.0 391.7h0.95M305.0 395.6h0.95M226.6 424.4h0.95M301.7 406.5h0.95M295.7 430.8h0.95M293.7 419.5h0.95M295.5 330.0h0.95M273.0 371.6h0.95M388.3 418.0h0.95M219.5 382.8h0.95M269.5 396.5h0.95M225.2 425.2h0.95M313.8 363.8h0.95M337.7 403.1h0.95M375.1 451.5h0.95M268.8 398.8h0.95M327.3 373.6h0.95M261.5 397.8h0.95M296.1 385.0h0.95M326.6 355.9h0.95M236.7 418.8h0.95M291.6 398.1h0.95M272.2 335.2h0.95M314.5 437.6h0.95M333.0 366.2h0.95M236.9 399.9h0.95M293.8 412.7h0.95M240.4 393.3h0.95M252.1 319.5h0.95M270.8 378.9h0.95M247.5 405.1h0.95M251.6 356.9h0.95M352.9 383.9h0.95M303.3 440.1h0.95M344.4 364.2h0.95M306.5 410.1h0.95M319.1 411.7h0.95M306.4 389.8h0.95M266.5 441.7h0.95M286.3 355.6h0.95M316.3 420.7h0.95M304.8 360.9h0.95M311.2 409.1h0.95M315.8 448.4h0.95M243.7 402.7h0.95M267.5 443.1h0.95M284.0 387.8h0.95M277.9 429.1h0.95M244.1 376.1h0.95M296.6 389.4h0.95M263.2 398.5h0.95M342.0 348.2h0.95M266.0 366.8h0.95M309.7 377.7h0.95M292.8 402.7h0.95M341.4 359.0h0.95M301.4 356.8h0.95M326.8 394.1h0.95M308.2 359.2h0.95M286.6 403.7h0.95M320.3 360.4h0.95M316.7 361.9h0.95M315.8 425.1h0.95M274.6 334.6h0.95M278.7 474.0h0.95M303.0 347.8h0.95M254.4 417.5h0.95M267.1 433.9h0.95M333.2 441.4h0.95M306.6 415.5h0.95M315.1 374.3h0.95M268.2 392.2h0.95M318.8 402.5h0.95M299.7 427.1h0.95M307.0 430.4h0.95M294.0 421.5h0.95M367.9 426.9h0.95M251.8 322.9h0.95M309.1 379.5h0.95M311.0 437.2h0.95M338.7 382.4h0.95M276.2 311.3h0.95M341.5 410.1h0.95M241.8 373.7h0.95M293.7 384.0h0.95M300.4 356.3h0.95M321.3 394.8h0.95M339.2 343.1h0.95M381.8 414.8h0.95M278.5 315.0h0.95M341.0 420.5h0.95M208.4 417.8h0.95M347.6 451.7h0.95M306.9 431.0h0.95M364.5 324.8h0.95M312.7 415.7h0.95M379.7 384.5h0.95M282.8 308.0h0.95M288.7 344.9h0.95M209.4 398.8h0.95M235.5 475.2h0.95M389.3 384.9h0.95M292.7 390.0h0.95M245.9 340.5h0.95M360.7 396.4h0.95M301.7 354.0h0.95M290.1 372.1h0.95M258.9 432.3h0.95M244.7 478.6h0.95M300.8 315.2h0.95M328.1 359.9h0.95M361.6 312.6h0.95M350.2 367.2h0.95M239.0 364.4h0.95M382.6 451.0h0.95M329.1 302.7h0.95M342.2 497.5h0.95M400.4 389.3h0.95M366.3 353.1h0.95M323.1 399.9h0.95M258.0 434.2h0.95M386.6 347.5h0.95M263.0 483.3h0.95M274.1 386.5h0.95M282.8 372.4h0.95M266.5 427.9h0.95M301.3 494.6h0.95M361.7 362.3h0.95M315.0 479.9h0.95M265.9 446.1h0.95M249.5 475.6h0.95M307.7 450.3h0.95M210.1 384.1h0.95M271.6 331.9h0.95M401.8 429.9h0.95M298.7 391.2h0.95M299.7 461.7h0.95M214.6 436.7h0.95M244.3 406.1h0.95M297.5 400.4h0.95M340.1 451.2h0.95M270.4 364.2h0.95M285.8 376.9h0.95M296.5 416.8h0.95M359.3 368.1h0.95M232.8 327.4h0.95M239.8 370.1h0.95M388.9 415.0h0.95M265.8 386.8h0.95M229.2 334.7h0.95M316.1 299.0h0.95M245.0 495.0h0.95M374.5 387.0h0.95M231.8 363.1h0.95M302.7 375.8h0.95M282.5 321.4h0.95M355.1 336.6h0.95M371.4 474.6h0.95M226.1 353.4h0.95M284.6 321.4h0.95M275.8 486.2h0.95M389.2 373.6h0.95M268.7 483.8h0.95M369.9 464.3h0.95M345.9 395.5h0.95M326.0 394.7h0.95M301.7 345.5h0.95M258.5 313.4h0.95M199.8 386.2h0.95M302.4 383.2h0.95M327.5 299.9h0.95M267.5 375.8h0.95M253.8 376.4h0.95M315.6 404.2h0.95M233.0 391.3h0.95M216.0 441.7h0.95M385.5 449.1h0.95M309.0 487.8h0.95M417.4 399.2h0.95M315.1 471.4h0.95M324.7 409.2h0.95M235.8 331.6h0.95M253.3 448.4h0.95M268.7 486.7h0.95M384.0 371.3h0.95M385.5 401.6h0.95M306.1 500.1h0.95M323.3 424.4h0.95M357.2 305.5h0.95M249.9 467.2h0.95M252.6 454.6h0.95M233.5 331.4h0.95M244.9 361.1h0.95M246.9 475.0h0.95M313.0 400.4h0.95M278.3 365.4h0.95M274.2 431.2h0.95M316.0 458.9h0.95M236.3 386.1h0.95M406.6 406.2h0.95M359.6 489.7h0.95M386.1 441.7h0.95M210.8 360.6h0.95M266.0 398.6h0.95M364.0 307.2h0.95M220.1 358.8h0.95M279.1 307.3h0.95M325.8 479.2h0.95M334.0 406.5h0.95M359.5 467.6h0.95M366.8 327.2h0.95M375.1 394.9h0.95M314.6 403.0h0.95M284.0 476.7h0.95M277.4 371.5h0.95M258.6 408.0h0.95M249.7 325.7h0.95M300.8 340.2h0.95M218.6 430.6h0.95M312.2 414.0h0.95M232.5 334.4h0.95M314.9 485.8h0.95M253.8 447.1h0.95M288.3 382.2h0.95M349.5 305.3h0.95M245.5 472.9h0.95M233.8 341.8h0.95M397.1 410.7h0.95M271.4 481.1h0.95M241.9 315.4h0.95M238.2 438.3h0.95M319.4 323.7h0.95M354.7 416.4h0.95M275.3 411.7h0.95M363.4 331.3h0.95M219.3 346.3h0.95M279.2 329.4h0.95M308.2 431.6h0.95M215.7 356.3h0.95M236.7 394.8h0.95M344.6 419.9h0.95M292.8 490.4h0.95M376.2 437.6h0.95M346.7 307.9h0.95M241.9 476.3h0.95M345.0 493.2h0.95M347.6 309.7h0.95M286.3 328.6h0.95M254.3 354.6h0.95M240.6 343.0h0.95M308.1 304.9h0.95M243.3 368.2h0.95M348.2 360.9h0.95M245.8 340.8h0.95M372.9 339.7h0.95M328.4 349.6h0.95M354.4 332.7h0.95M370.4 340.2h0.95M366.8 363.7h0.95M369.4 337.3h0.95M323.3 383.6h0.95M314.6 345.4h0.95M253.6 368.3h0.95M215.4 367.6h0.95M309.8 367.9h0.95M365.5 310.9h0.95M303.4 355.6h0.95M240.7 362.3h0.95M233.0 373.7h0.95M275.2 336.5h0.95M230.3 373.8h0.95M355.9 306.1h0.95M368.1 335.6h0.95M308.3 359.0h0.95M240.1 378.7h0.95M268.4 305.2h0.95M258.4 303.6h0.95M324.3 349.8h0.95M281.2 336.5h0.95M282.2 329.1h0.95M291.6 371.4h0.95M337.0 351.4h0.95M265.6 316.7h0.95M346.7 312.5h0.95M231.2 340.2h0.95M357.5 368.3h0.95M284.5 348.1h0.95M346.4 307.7h0.95M340.8 364.9h0.95M365.2 361.7h0.95M279.4 363.1h0.95M297.2 344.6h0.95M245.4 310.5h0.95M324.5 298.5h0.95M264.4 382.9h0.95M306.0 341.0h0.95M294.6 314.3h0.95M244.1 377.9h0.95M238.5 369.4h0.95M309.6 301.4h0.95M266.1 368.8h0.95M375.0 372.6h0.95M333.4 358.6h0.95M311.0 342.8h0.95M352.4 361.5h0.95M285.3 335.0h0.95M319.8 360.5h0.95M251.4 358.8h0.95M231.7 383.9h0.95M294.2 319.6h0.95M294.9 340.5h0.95M261.9 333.9h0.95M264.5 331.5h0.95M230.7 335.7h0.95M322.4 339.9h0.95M348.4 301.4h0.95M287.5 330.2h0.95M361.6 310.0h0.95M358.7 309.0h0.95M253.8 330.7h0.95M265.6 305.8h0.95M256.2 317.9h0.95M226.2 335.2h0.95M339.7 308.0h0.95M352.7 335.2h0.95M281.3 371.0h0.95M293.5 362.1h0.95M263.5 334.9h0.95M250.0 333.4h0.95M273.5 333.9h0.95M354.8 346.2h0.95M263.8 340.0h0.95M240.4 383.3h0.95M222.2 352.0h0.95M350.0 329.7h0.95M219.3 350.2h0.95M361.1 310.8h0.95M357.0 368.6h0.95M283.2 299.0h0.95M334.0 342.1h0.95M334.7 306.8h0.95M218.5 378.9h0.95M367.4 341.7h0.95M265.1 331.7h0.95M317.6 318.0h0.95M258.8 361.6h0.95M293.3 384.1h0.95M232.3 338.2h0.95M263.7 301.8h0.95M366.5 382.9h0.95M304.2 324.7h0.95M288.1 468.3h0.95M224.0 393.1h0.95M268.3 328.5h0.95M281.5 456.1h0.95M349.9 342.0h0.95M220.6 406.0h0.95M239.6 372.3h0.95M359.3 414.9h0.95M365.2 427.2h0.95M269.1 453.2h0.95M365.5 394.6h0.95M362.4 366.1h0.95M311.5 340.4h0.95M303.6 327.3h0.95M255.8 331.5h0.95M335.8 327.5h0.95M288.6 336.0h0.95M302.7 464.4h0.95M358.8 409.0h0.95M233.3 372.7h0.95M379.1 411.4h0.95M382.8 403.2h0.95M257.4 371.8h0.95M262.8 442.5h0.95M327.7 468.7h0.95M314.0 457.6h0.95M361.8 368.4h0.95M281.5 346.1h0.95M325.0 331.0h0.95M359.1 390.7h0.95M313.4 335.9h0.95M259.1 471.2h0.95M317.4 336.7h0.95M243.1 422.3h0.95M362.1 376.6h0.95M250.2 429.6h0.95M310.3 343.6h0.95M345.9 434.5h0.95M288.3 475.7h0.95M329.3 471.5h0.95M253.0 349.1h0.95M261.1 330.7h0.95M316.7 344.9h0.95M259.6 451.8h0.95M272.0 346.3h0.95M289.7 465.5h0.95M372.4 395.4h0.95M314.9 346.5h0.95M370.3 374.9h0.95M252.4 443.7h0.95M230.4 378.7h0.95M357.8 356.1h0.95M339.6 327.7h0.95M281.1 469.8h0.95M228.9 382.9h0.95M302.9 340.2h0.95M246.3 376.5h0.95M361.2 430.7h0.95M282.4 452.8h0.95M358.9 375.0h0.95M253.5 454.7h0.95M258.7 453.6h0.95M250.0 366.6h0.95M297.9 464.8h0.95M359.7 440.9h0.95M360.7 433.2h0.95M351.2 426.5h0.95M311.5 327.0h0.95M346.3 331.0h0.95M242.2 431.0h0.95M334.6 451.9h0.95M301.5 330.7h0.95M257.6 355.2h0.95M245.4 412.6h0.95M248.8 421.5h0.95M315.5 336.8h0.95M321.5 341.1h0.95M267.0 354.8h0.95M274.4 468.9h0.95M324.5 325.9h0.95M318.4 462.2h0.95M341.5 471.8h0.95M346.6 464.5h0.95M365.1 365.9h0.95M375.5 390.3h0.95M264.0 324.1h0.95M267.0 324.6h0.95M315.6 346.5h0.95M336.9 331.7h0.95M301.1 469.5h0.95M384.3 401.7h0.95M329.4 341.2h0.95M239.4 396.1h0.95M363.4 379.7h0.95M276.5 473.2h0.95M344.4 448.2h0.95M363.5 380.5h0.95M235.9 432.4h0.95M288.3 347.4h0.95M296.2 328.7h0.95M297.4 328.8h0.95M353.4 346.2h0.95M241.1 399.4h0.95M253.9 441.8h0.95M270.4 462.3h0.95M278.8 342.7h0.95M268.9 354.3h0.95M354.5 428.2h0.95M372.6 426.5h0.95M296.7 465.3h0.95M261.8 458.6h0.95M266.8 351.9h0.95M268.0 336.4h0.95M362.6 442.6h0.95M345.3 349.7h0.95M365.3 420.3h0.95M370.7 425.8h0.95M253.7 441.0h0.95M374.2 384.8h0.95M235.4 426.9h0.95M355.1 338.5h0.95M345.3 329.1h0.95M233.1 424.2h0.95M361.6 408.4h0.95M275.2 458.6h0.95M346.4 437.8h0.95M243.6 422.8h0.95M342.1 337.7h0.95M369.3 406.9h0.95" stroke="#1e1e1e" stroke-width="0.95" stroke-opacity="0.85" fill="none"/>
<defs><radialGradient id="blob"><stop offset="0" stop-color="#a6a6a6"/><stop offset="0.78" stop-color="#a6a6a6"/><stop offset="1" stop-color="#a6a6a6" stop-opacity="0"/></radialGradient></defs>
<ellipse cx="303.8" cy="401" rx="33" ry="25" fill="url(#blob)"/>
<path d="M271.0 404.3h1.0M280.0 403.2h1.0M312.3 406.3h1.0M349.3 383.4h1.0M280.3 400.5h1.0M285.0 396.0h1.0M345.8 420.1h1.0M304.1 387.1h1.0M309.6 390.8h1.0M287.6 453.6h1.0M335.4 402.5h1.0M304.2 417.2h1.0M318.4 401.1h1.0M319.8 397.7h1.0M335.0 397.6h1.0M311.1 377.0h1.0M290.2 377.3h1.0M314.1 386.4h1.0M301.0 395.1h1.0M265.8 402.6h1.0M289.7 387.2h1.0M270.4 395.4h1.0M298.9 387.8h1.0M292.3 407.5h1.0M294.8 388.1h1.0M267.6 400.3h1.0M313.5 400.6h1.0M305.9 377.5h1.0M324.4 398.9h1.0M277.0 377.4h1.0M291.5 432.9h1.0M288.0 391.0h1.0M311.5 399.3h1.0M287.3 375.7h1.0M313.3 403.2h1.0M278.7 420.2h1.0M311.1 402.3h1.0M305.0 395.5h1.0M300.8 409.1h1.0M298.1 407.1h1.0M299.7 419.0h1.0M321.8 385.4h1.0M323.3 421.8h1.0M320.8 403.9h1.0M304.8 422.2h1.0M291.1 407.6h1.0M289.2 400.3h1.0M296.6 424.1h1.0M300.3 389.8h1.0M289.7 398.8h1.0M276.7 386.4h1.0M279.9 418.4h1.0M317.5 417.7h1.0M287.3 428.7h1.0M300.7 383.6h1.0M292.6 405.9h1.0M307.6 386.8h1.0M296.1 413.0h1.0M325.0 393.9h1.0M305.5 377.1h1.0M277.9 435.2h1.0M301.5 418.5h1.0M278.4 430.9h1.0M293.3 426.5h1.0M319.9 414.7h1.0M272.4 404.6h1.0M312.6 413.6h1.0M299.7 403.8h1.0M322.6 402.1h1.0M301.5 368.0h1.0M320.7 410.9h1.0M303.5 409.1h1.0M325.7 390.5h1.0M306.2 410.3h1.0M285.8 403.8h1.0M305.0 383.1h1.0M302.0 414.6h1.0M337.7 387.9h1.0M285.0 423.1h1.0M269.5 418.8h1.0M327.4 408.2h1.0M288.2 389.8h1.0M266.3 404.3h1.0M282.1 408.0h1.0M285.5 387.7h1.0M292.7 399.4h1.0M346.8 392.8h1.0M296.2 387.7h1.0M314.1 425.9h1.0M311.1 403.0h1.0M289.1 397.9h1.0M264.9 390.1h1.0M339.8 423.6h1.0M290.9 384.7h1.0M283.7 429.4h1.0M312.7 423.5h1.0M283.1 369.2h1.0M289.7 392.2h1.0M321.0 431.1h1.0M291.1 403.9h1.0M305.2 391.2h1.0M293.3 413.2h1.0M332.1 396.7h1.0M267.9 408.4h1.0M243.3 391.3h1.0M303.1 416.1h1.0M294.2 417.2h1.0M359.8 413.6h1.0M303.0 387.4h1.0M303.3 392.2h1.0M317.4 390.8h1.0M307.4 444.4h1.0M314.1 383.7h1.0M282.4 401.9h1.0M294.8 375.9h1.0M331.6 422.3h1.0M276.6 379.2h1.0M293.4 395.2h1.0M309.2 405.0h1.0M316.9 392.3h1.0M302.5 430.1h1.0M314.9 404.6h1.0M318.6 419.0h1.0M304.0 403.6h1.0M286.5 405.3h1.0M311.6 419.7h1.0M290.0 407.3h1.0M290.4 391.8h1.0M327.9 385.9h1.0M311.8 428.3h1.0M278.9 406.4h1.0M265.4 407.1h1.0M285.1 411.2h1.0M307.1 425.3h1.0M314.2 406.3h1.0M301.2 384.7h1.0M343.6 380.4h1.0M299.4 401.2h1.0M281.1 376.3h1.0M299.7 417.4h1.0M321.1 424.5h1.0M311.0 367.6h1.0M309.0 393.2h1.0M329.2 384.9h1.0M323.8 441.4h1.0M334.5 389.6h1.0M293.5 423.7h1.0M310.9 432.3h1.0M308.0 400.8h1.0M306.1 405.3h1.0M342.2 422.0h1.0M314.0 360.3h1.0M314.0 393.1h1.0M279.9 395.3h1.0M298.2 371.5h1.0M315.2 379.1h1.0M307.4 401.8h1.0M284.4 397.9h1.0M317.5 362.1h1.0M303.9 406.8h1.0M326.6 412.2h1.0M318.7 409.4h1.0M325.8 392.3h1.0M287.2 373.7h1.0M291.9 390.1h1.0M324.0 394.2h1.0M366.6 394.7h1.0M321.0 384.0h1.0M318.9 395.4h1.0M299.3 382.6h1.0M350.0 378.0h1.0M314.0 414.4h1.0M307.4 391.6h1.0M316.2 381.1h1.0M297.8 408.1h1.0M321.8 399.6h1.0M311.1 386.4h1.0M304.5 395.9h1.0M278.5 415.8h1.0M284.5 383.1h1.0M299.8 405.7h1.0M260.9 421.1h1.0M288.6 408.1h1.0M306.0 417.9h1.0M305.4 377.6h1.0M350.6 397.4h1.0M264.0 433.9h1.0M301.1 406.9h1.0M297.0 424.0h1.0M311.2 398.1h1.0M299.3 408.5h1.0M288.9 413.7h1.0M308.7 423.0h1.0M298.9 400.8h1.0M349.0 420.4h1.0M297.5 387.3h1.0M314.4 379.8h1.0M323.9 383.8h1.0M313.7 402.3h1.0M301.2 396.3h1.0M303.3 383.3h1.0M300.7 397.7h1.0M286.9 404.0h1.0M306.4 415.8h1.0M338.7 406.5h1.0M335.2 378.9h1.0M287.0 393.8h1.0M322.5 418.8h1.0M304.7 420.7h1.0M302.0 385.7h1.0M299.5 401.3h1.0M322.7 390.0h1.0M286.3 390.2h1.0M286.7 394.2h1.0M330.3 405.7h1.0M268.6 402.4h1.0M294.2 392.2h1.0M313.9 383.4h1.0M303.6 388.6h1.0M298.9 442.0h1.0M343.6 406.5h1.0M332.5 436.4h1.0M312.5 426.5h1.0M326.3 414.8h1.0M304.2 404.2h1.0M298.6 377.3h1.0M330.6 405.6h1.0M334.0 432.0h1.0M281.3 381.4h1.0M337.5 394.1h1.0M348.7 421.9h1.0M325.9 401.2h1.0M282.6 418.4h1.0M321.5 400.1h1.0M293.3 406.8h1.0M331.7 397.2h1.0M306.0 395.5h1.0M304.4 398.8h1.0M288.1 410.0h1.0M304.7 399.7h1.0M309.6 367.6h1.0M277.6 401.8h1.0M293.5 424.8h1.0M285.3 396.8h1.0M327.4 378.7h1.0M309.2 396.2h1.0M295.4 377.4h1.0M327.5 419.9h1.0M307.9 404.1h1.0M300.8 405.1h1.0M297.1 395.6h1.0M329.7 409.7h1.0M307.8 400.2h1.0M269.4 421.6h1.0M292.4 411.8h1.0M299.5 377.7h1.0M256.9 383.5h1.0M324.8 397.3h1.0M331.7 409.1h1.0M286.3 395.9h1.0M327.1 382.5h1.0M315.7 386.6h1.0M310.1 396.2h1.0M287.1 423.4h1.0M343.5 384.9h1.0M312.5 390.2h1.0M290.2 405.9h1.0M321.9 402.7h1.0M307.7 406.6h1.0M287.3 407.2h1.0M320.3 410.5h1.0M313.0 418.2h1.0M264.9 395.8h1.0M304.4 424.3h1.0M313.7 400.3h1.0M323.7 394.4h1.0M328.8 393.7h1.0M308.2 413.5h1.0M311.1 418.7h1.0M281.9 388.9h1.0M302.6 413.5h1.0M290.4 408.3h1.0M322.4 388.3h1.0M330.1 401.6h1.0M293.3 413.1h1.0M259.6 428.5h1.0M311.6 406.5h1.0M326.3 396.0h1.0M299.7 393.9h1.0M275.4 392.1h1.0M318.7 418.1h1.0M287.6 389.8h1.0M306.4 397.8h1.0M300.9 390.9h1.0M320.0 405.6h1.0M276.5 412.2h1.0M330.3 420.5h1.0M311.4 425.9h1.0M349.6 398.1h1.0M283.4 389.8h1.0M259.7 418.5h1.0M302.2 409.2h1.0M274.8 404.1h1.0M304.9 399.9h1.0M263.1 408.2h1.0M321.3 386.8h1.0M306.1 393.3h1.0M318.8 400.4h1.0M301.9 407.9h1.0M276.0 410.3h1.0M326.6 395.4h1.0M330.6 403.4h1.0M336.3 405.0h1.0M293.9 415.6h1.0M307.8 411.4h1.0M316.6 389.9h1.0M293.2 412.9h1.0M305.3 436.4h1.0M307.2 377.8h1.0M323.7 411.8h1.0M266.2 395.7h1.0M336.1 379.2h1.0M306.2 407.4h1.0M307.1 419.3h1.0M293.9 382.6h1.0M327.4 403.3h1.0M319.6 420.0h1.0M307.6 393.7h1.0M326.2 407.9h1.0M293.7 403.6h1.0M322.7 377.9h1.0M288.0 415.7h1.0M298.3 394.2h1.0M343.6 415.9h1.0M292.7 380.0h1.0M290.1 379.0h1.0M301.8 391.3h1.0M310.2 431.0h1.0M317.3 407.7h1.0M308.4 410.1h1.0M306.6 392.2h1.0M307.5 376.4h1.0M360.4 371.0h1.0M273.3 385.0h1.0M313.4 405.2h1.0M324.9 429.7h1.0M287.4 375.1h1.0M319.8 367.9h1.0M319.4 414.6h1.0M251.4 419.3h1.0M348.2 404.3h1.0M329.2 383.8h1.0M318.0 419.6h1.0M290.6 386.0h1.0M304.0 441.4h1.0M293.2 397.3h1.0M292.5 388.5h1.0M329.7 390.3h1.0M262.4 441.8h1.0M260.1 411.2h1.0M294.4 408.4h1.0M322.8 383.1h1.0M285.7 405.7h1.0M322.7 398.8h1.0M293.0 423.7h1.0M304.7 388.2h1.0M305.7 424.8h1.0M314.2 385.8h1.0M319.0 386.6h1.0M303.1 403.9h1.0M286.7 403.5h1.0M277.0 373.8h1.0M332.7 377.4h1.0M314.9 385.4h1.0M329.4 411.9h1.0M292.8 418.1h1.0M320.0 414.1h1.0M326.5 407.3h1.0M333.8 411.2h1.0M306.4 391.2h1.0M335.0 404.0h1.0M280.1 396.2h1.0M302.5 393.2h1.0M286.5 431.8h1.0M279.9 401.3h1.0M309.4 419.3h1.0M327.2 384.2h1.0M291.5 396.1h1.0M296.5 390.8h1.0M294.9 394.2h1.0M295.5 398.0h1.0M324.4 406.5h1.0M328.5 402.4h1.0M275.7 392.4h1.0M317.1 426.8h1.0M315.9 389.3h1.0M296.6 418.2h1.0M270.6 392.4h1.0M302.3 384.6h1.0M280.3 421.8h1.0M315.1 379.1h1.0M314.6 385.9h1.0M336.3 410.0h1.0M295.0 395.9h1.0M310.6 381.0h1.0M299.6 402.7h1.0M315.9 423.4h1.0M293.8 410.4h1.0M296.1 404.9h1.0M283.4 410.0h1.0M307.3 392.6h1.0M308.7 416.0h1.0M342.6 400.5h1.0M314.6 377.4h1.0M301.4 387.7h1.0M328.1 401.7h1.0M326.9 402.5h1.0M297.4 399.3h1.0M310.3 384.6h1.0M299.6 405.3h1.0M301.2 386.1h1.0M307.7 371.4h1.0M301.6 391.6h1.0M292.3 422.1h1.0M314.0 418.2h1.0M294.7 400.3h1.0M266.4 417.0h1.0M292.1 410.2h1.0M327.6 390.3h1.0M312.0 413.8h1.0M317.4 398.8h1.0M309.4 397.4h1.0M287.9 411.7h1.0M273.2 387.6h1.0M276.0 407.7h1.0M304.4 423.2h1.0M298.3 420.9h1.0M307.4 400.7h1.0M291.9 419.7h1.0M351.6 380.0h1.0M287.4 411.5h1.0M333.5 392.5h1.0M296.8 421.5h1.0M332.5 401.8h1.0M345.2 405.6h1.0M342.7 407.3h1.0M336.5 385.3h1.0M316.9 354.8h1.0M273.5 388.9h1.0M270.0 401.0h1.0M310.3 425.6h1.0M324.7 401.2h1.0M276.5 412.4h1.0M330.1 400.8h1.0M306.2 403.4h1.0M282.3 413.3h1.0M310.0 398.2h1.0M354.1 417.9h1.0M292.6 433.2h1.0M311.9 423.3h1.0M313.0 388.6h1.0M297.2 417.0h1.0M329.5 415.3h1.0M336.6 420.3h1.0M319.1 399.8h1.0M338.1 422.6h1.0M309.0 408.3h1.0M322.2 396.8h1.0M283.0 419.1h1.0M329.7 399.9h1.0M302.3 379.2h1.0M267.8 403.7h1.0M303.3 381.3h1.0M273.4 391.6h1.0M280.7 404.5h1.0M320.4 368.6h1.0M319.7 391.4h1.0M281.2 395.3h1.0M254.0 386.2h1.0M315.4 386.1h1.0M276.2 375.3h1.0M317.9 388.3h1.0M318.1 387.6h1.0M311.3 409.0h1.0M346.5 399.6h1.0M318.4 419.6h1.0M299.5 413.7h1.0M292.3 408.0h1.0M302.0 412.9h1.0M309.3 392.9h1.0M273.9 429.9h1.0M295.5 417.8h1.0M302.3 399.7h1.0M268.8 400.0h1.0M273.1 400.1h1.0M308.1 385.5h1.0M270.6 416.1h1.0M327.9 385.8h1.0M312.9 409.7h1.0M308.1 406.8h1.0M287.5 398.6h1.0M279.4 410.3h1.0M306.1 413.5h1.0M309.9 381.7h1.0M323.6 369.4h1.0M244.1 393.9h1.0M312.5 412.3h1.0M318.7 406.9h1.0M288.3 408.2h1.0M310.0 407.4h1.0M289.4 425.3h1.0M291.3 386.3h1.0M271.1 399.2h1.0M317.7 441.0h1.0M304.1 378.3h1.0M294.3 378.0h1.0M294.3 390.9h1.0M309.1 401.4h1.0M333.3 406.7h1.0M333.5 399.0h1.0M305.9 413.6h1.0M284.7 426.3h1.0M315.2 402.2h1.0M266.4 382.3h1.0M335.6 395.8h1.0M319.3 398.9h1.0M291.5 408.6h1.0M298.4 385.8h1.0M287.1 422.3h1.0M310.9 405.1h1.0M283.0 423.7h1.0M303.9 392.5h1.0M288.6 392.7h1.0M263.9 445.3h1.0M302.0 368.5h1.0M293.4 395.7h1.0M283.0 397.5h1.0M274.7 391.0h1.0M290.8 383.8h1.0M291.8 417.0h1.0M284.6 394.2h1.0M288.1 390.8h1.0M295.8 405.1h1.0M282.2 397.2h1.0M319.5 382.2h1.0M308.6 378.1h1.0M315.3 402.1h1.0M283.0 414.0h1.0M292.3 401.6h1.0M305.4 411.0h1.0M301.1 411.2h1.0M288.2 386.1h1.0M289.3 414.7h1.0M314.7 404.6h1.0M321.8 436.6h1.0M336.0 411.2h1.0M296.8 389.9h1.0M318.2 402.0h1.0M320.1 367.3h1.0M308.8 391.6h1.0M306.2 407.0h1.0M303.4 408.3h1.0M321.4 414.2h1.0M321.6 394.3h1.0M286.0 386.7h1.0M296.8 390.8h1.0M285.7 383.2h1.0M307.3 425.9h1.0M293.0 384.0h1.0M310.7 380.7h1.0M332.6 431.2h1.0M293.1 394.3h1.0M326.1 410.7h1.0M308.4 406.4h1.0M300.3 391.4h1.0M300.6 401.8h1.0M301.3 421.5h1.0M318.3 393.9h1.0M343.3 369.5h1.0M306.1 363.4h1.0M297.4 381.0h1.0M329.0 396.2h1.0M318.4 413.0h1.0M288.5 417.0h1.0M321.9 420.6h1.0M297.6 419.0h1.0M309.4 429.0h1.0M319.3 398.5h1.0M292.7 404.2h1.0M300.3 362.7h1.0M313.8 400.4h1.0M273.5 426.2h1.0M295.9 397.0h1.0M265.7 412.5h1.0M308.1 399.2h1.0M299.8 405.9h1.0M281.6 390.5h1.0M288.0 406.8h1.0M266.8 386.2h1.0M300.4 405.5h1.0M284.2 387.5h1.0M303.7 391.3h1.0M321.0 416.8h1.0M292.5 386.3h1.0M280.1 409.6h1.0M329.0 414.1h1.0M289.7 386.3h1.0M326.1 384.2h1.0M312.2 386.2h1.0M327.3 412.9h1.0M293.2 398.0h1.0M267.8 405.2h1.0M292.0 427.8h1.0M305.5 393.7h1.0M340.2 418.4h1.0M285.2 399.9h1.0M313.2 396.7h1.0M275.3 380.0h1.0M295.6 387.4h1.0M325.7 439.2h1.0M323.4 404.8h1.0M312.4 387.7h1.0M305.0 421.9h1.0M313.2 411.7h1.0M323.1 414.0h1.0M300.3 414.7h1.0M300.3 371.3h1.0M306.6 373.5h1.0M309.9 396.2h1.0M266.7 405.0h1.0M297.8 400.7h1.0M295.8 414.1h1.0M301.5 381.0h1.0M289.2 417.8h1.0M324.4 366.0h1.0M318.7 402.6h1.0M304.8 409.5h1.0M365.9 410.1h1.0M320.2 411.3h1.0M330.4 402.6h1.0M310.7 401.4h1.0M316.3 379.5h1.0M325.7 401.9h1.0M289.3 396.8h1.0M273.1 405.4h1.0M346.1 389.8h1.0M269.1 377.9h1.0M275.6 421.6h1.0M298.4 370.5h1.0M290.6 395.1h1.0M306.1 423.0h1.0M336.6 423.9h1.0M320.7 372.1h1.0M260.1 413.0h1.0M291.1 390.8h1.0M308.1 406.9h1.0M300.3 411.3h1.0M261.7 415.0h1.0M290.3 369.8h1.0M326.1 386.3h1.0M303.2 411.0h1.0M291.7 410.7h1.0M275.3 427.7h1.0M324.1 413.9h1.0M355.1 420.6h1.0M287.0 419.1h1.0M324.4 413.3h1.0M305.0 378.4h1.0M281.0 431.7h1.0M273.2 407.0h1.0M311.0 393.2h1.0M301.3 396.7h1.0M288.7 390.2h1.0M309.0 400.4h1.0M313.3 373.0h1.0M357.4 415.6h1.0M301.4 383.8h1.0M288.4 417.3h1.0M282.6 391.5h1.0M314.7 411.1h1.0M321.1 422.5h1.0M300.5 408.1h1.0M324.7 400.9h1.0M306.8 403.6h1.0M299.5 396.9h1.0M294.2 397.0h1.0M305.4 433.6h1.0M309.6 382.1h1.0M297.2 388.0h1.0M282.6 393.1h1.0M282.0 400.0h1.0M328.7 410.9h1.0M292.6 398.8h1.0M342.7 417.4h1.0M275.7 383.6h1.0M302.8 406.7h1.0M297.9 404.1h1.0M276.7 384.0h1.0M266.9 398.8h1.0M285.7 394.9h1.0M328.8 389.7h1.0M284.9 387.2h1.0M310.1 415.1h1.0M311.7 387.7h1.0M315.9 415.5h1.0M254.2 417.4h1.0M289.1 410.3h1.0M259.7 410.7h1.0M312.0 375.9h1.0M317.7 403.2h1.0M325.6 412.3h1.0M318.3 414.2h1.0M328.5 421.7h1.0M324.6 412.5h1.0M311.8 399.4h1.0M322.1 392.3h1.0M285.0 389.3h1.0M307.7 401.8h1.0M281.8 397.2h1.0M290.1 423.1h1.0M306.5 392.6h1.0M332.7 385.6h1.0M299.3 390.3h1.0M317.1 438.7h1.0M304.8 402.9h1.0M331.7 380.8h1.0M318.5 424.9h1.0M293.0 396.8h1.0M324.3 404.3h1.0M310.5 389.9h1.0M301.3 411.4h1.0M339.7 413.2h1.0M304.0 388.3h1.0M290.5 402.0h1.0M258.3 378.8h1.0M271.8 423.5h1.0M322.4 385.3h1.0M234.1 386.8h1.0M324.4 385.1h1.0M278.7 383.7h1.0M278.4 403.1h1.0M323.4 390.8h1.0M266.0 411.2h1.0M290.1 409.0h1.0M283.6 419.5h1.0M297.7 423.3h1.0M327.0 389.7h1.0M342.1 402.0h1.0M267.8 386.1h1.0M281.1 397.3h1.0M357.0 411.3h1.0M319.7 407.3h1.0M346.6 390.2h1.0M344.4 408.7h1.0M306.1 401.8h1.0M287.7 410.1h1.0M323.6 362.3h1.0M313.6 385.9h1.0M337.4 417.1h1.0M314.4 375.2h1.0M356.6 393.8h1.0M270.3 396.5h1.0M268.7 388.8h1.0M293.9 394.8h1.0M280.0 403.4h1.0M306.6 398.0h1.0M289.2 391.7h1.0M332.0 409.9h1.0M307.5 414.6h1.0M313.6 414.3h1.0M292.7 370.0h1.0M304.0 422.8h1.0M296.1 407.6h1.0M284.4 397.8h1.0M309.9 417.3h1.0M262.2 414.3h1.0M293.9 415.3h1.0M290.2 388.6h1.0M329.1 373.6h1.0M297.1 425.4h1.0M266.2 410.2h1.0M300.3 393.8h1.0M311.1 394.2h1.0M313.4 397.8h1.0M322.0 413.9h1.0M320.2 381.4h1.0M314.3 387.3h1.0M333.1 439.7h1.0M296.6 380.1h1.0M315.5 409.0h1.0M308.1 404.7h1.0M312.6 403.4h1.0M314.7 421.7h1.0M297.6 394.9h1.0M298.9 420.4h1.0M304.9 401.7h1.0M256.5 390.6h1.0M311.5 389.2h1.0M324.2 392.5h1.0M299.7 416.1h1.0M295.6 418.2h1.0M299.0 402.5h1.0M327.3 388.5h1.0M292.8 386.5h1.0M325.3 398.3h1.0M273.2 423.1h1.0M290.5 413.3h1.0M335.9 396.1h1.0M292.0 425.0h1.0M273.1 375.2h1.0M309.5 368.2h1.0M293.5 376.3h1.0M302.0 415.5h1.0M315.1 382.5h1.0M293.4 392.9h1.0M313.0 401.0h1.0M297.9 392.0h1.0M304.4 414.6h1.0M297.9 407.0h1.0M274.7 396.9h1.0M285.1 413.4h1.0M289.4 368.8h1.0M319.6 419.9h1.0M285.8 392.7h1.0M282.0 386.0h1.0M306.8 400.8h1.0M318.6 410.3h1.0M305.6 401.3h1.0M296.6 407.3h1.0M271.0 397.7h1.0M312.5 390.9h1.0M326.6 426.2h1.0M297.9 418.1h1.0M308.2 377.7h1.0M285.8 409.9h1.0M289.4 387.4h1.0M306.5 388.1h1.0M300.4 407.5h1.0M314.2 416.7h1.0M307.6 426.5h1.0M293.7 418.4h1.0M290.5 392.4h1.0M314.7 391.8h1.0M278.4 389.1h1.0M314.0 395.9h1.0M295.9 427.0h1.0M274.1 406.9h1.0M283.5 404.9h1.0M295.2 350.2h1.0M355.0 405.7h1.0M300.1 389.9h1.0M276.5 397.2h1.0M323.0 406.9h1.0M280.9 412.3h1.0M274.4 390.1h1.0M310.5 388.3h1.0M324.1 402.5h1.0M345.1 390.2h1.0M310.5 425.0h1.0M286.7 393.9h1.0M304.3 372.8h1.0M331.7 400.5h1.0M337.5 391.0h1.0M285.9 398.4h1.0M338.9 401.3h1.0M298.9 418.6h1.0M278.7 420.6h1.0M317.8 394.4h1.0M306.5 371.7h1.0M272.6 366.5h1.0M283.1 429.6h1.0M304.2 398.7h1.0M313.0 410.4h1.0M279.8 393.6h1.0M326.9 403.8h1.0M285.2 412.6h1.0M283.3 393.3h1.0M318.3 398.9h1.0M329.3 408.6h1.0M296.7 381.4h1.0M298.9 385.6h1.0M310.8 409.3h1.0M327.1 393.5h1.0M294.5 396.9h1.0M299.5 375.5h1.0M290.5 407.3h1.0M268.2 406.9h1.0M317.4 432.3h1.0M294.7 400.1h1.0M324.4 397.1h1.0M293.0 414.2h1.0M331.4 401.8h1.0M308.2 426.0h1.0M324.8 401.5h1.0M276.4 399.4h1.0M289.1 414.2h1.0M291.4 421.1h1.0M342.8 409.8h1.0M312.6 423.1h1.0M292.8 381.4h1.0M256.4 402.3h1.0M282.8 409.1h1.0M331.5 428.1h1.0M292.9 381.5h1.0M316.0 427.7h1.0M268.3 401.0h1.0M311.6 415.5h1.0M325.4 407.7h1.0M312.4 369.0h1.0M282.4 392.2h1.0M280.5 404.5h1.0M315.6 391.7h1.0M280.8 392.5h1.0M273.0 404.4h1.0M306.3 398.0h1.0M279.6 397.8h1.0M278.4 410.8h1.0M298.6 393.6h1.0M300.4 379.1h1.0M273.9 385.3h1.0M303.1 405.2h1.0M328.7 379.8h1.0M317.7 392.6h1.0M324.9 409.4h1.0M323.5 390.0h1.0M304.3 391.8h1.0M308.1 378.8h1.0M282.2 414.5h1.0M283.7 412.6h1.0M286.7 396.7h1.0M278.4 412.0h1.0M344.3 390.7h1.0M330.8 382.0h1.0M270.1 377.8h1.0M316.3 410.5h1.0M304.8 387.9h1.0M311.9 407.4h1.0M311.6 396.9h1.0M323.0 417.1h1.0M278.1 404.6h1.0M282.7 384.1h1.0M293.8 377.7h1.0M322.5 398.3h1.0M303.7 416.3h1.0M301.8 401.2h1.0M298.3 422.8h1.0M319.6 419.0h1.0M311.2 395.5h1.0M333.1 392.0h1.0M343.8 394.3h1.0M317.3 398.9h1.0M285.6 406.9h1.0M278.0 405.1h1.0M301.2 384.0h1.0M308.4 402.7h1.0M304.8 398.2h1.0M310.4 413.3h1.0M304.8 382.5h1.0M332.3 424.9h1.0M303.2 402.9h1.0M330.1 395.1h1.0M308.5 397.3h1.0M296.7 390.0h1.0M306.2 407.2h1.0M292.8 417.8h1.0M306.5 406.4h1.0M258.1 405.3h1.0M305.3 416.1h1.0M324.0 427.7h1.0M327.2 419.5h1.0M288.8 369.1h1.0M281.3 405.2h1.0M329.3 408.0h1.0M274.7 404.0h1.0M301.7 407.4h1.0M296.9 429.4h1.0M309.4 408.2h1.0M322.5 403.4h1.0M331.9 401.3h1.0M262.5 378.5h1.0M295.8 382.1h1.0M260.1 376.3h1.0M288.2 428.2h1.0M270.5 404.2h1.0M296.5 384.6h1.0M291.1 397.4h1.0M308.1 403.0h1.0M314.1 393.9h1.0M304.4 421.3h1.0M316.9 408.2h1.0M325.2 417.4h1.0M299.1 391.2h1.0M301.3 382.7h1.0M285.8 398.0h1.0M282.6 399.9h1.0M316.6 413.8h1.0M334.5 371.3h1.0M305.2 416.7h1.0M270.6 401.4h1.0M286.1 405.7h1.0M306.8 416.6h1.0M304.0 391.8h1.0M282.8 401.2h1.0M305.2 409.5h1.0M304.2 397.5h1.0M272.1 382.3h1.0M281.2 410.8h1.0M314.5 398.3h1.0M282.9 396.4h1.0M297.5 409.5h1.0M327.6 392.0h1.0M319.1 424.4h1.0M316.3 416.6h1.0M276.3 425.1h1.0M286.5 392.4h1.0M301.4 402.5h1.0M301.0 397.8h1.0M318.1 393.4h1.0M317.3 387.4h1.0M324.4 398.0h1.0M333.1 400.4h1.0M300.4 388.1h1.0M281.9 365.4h1.0M321.6 386.7h1.0M306.3 428.6h1.0M306.9 394.8h1.0M293.1 417.4h1.0M300.0 388.0h1.0M352.3 372.0h1.0M264.6 406.2h1.0M318.2 412.2h1.0M309.9 407.9h1.0M317.5 401.1h1.0M293.3 400.9h1.0M303.9 416.2h1.0M294.1 393.3h1.0M298.0 404.2h1.0M294.5 431.5h1.0M338.2 370.7h1.0M326.0 407.2h1.0M315.9 434.6h1.0M312.8 374.5h1.0M292.1 374.2h1.0M272.7 390.6h1.0M310.9 397.7h1.0M284.2 426.5h1.0M291.6 390.0h1.0M283.8 374.5h1.0M293.5 426.3h1.0M292.2 398.7h1.0M330.3 404.0h1.0M334.2 401.6h1.0M303.4 382.9h1.0M315.2 390.7h1.0M302.5 411.1h1.0M309.4 414.1h1.0M294.2 376.9h1.0M311.4 404.0h1.0M270.3 385.5h1.0M251.1 414.8h1.0M342.1 398.8h1.0M306.5 396.4h1.0M303.7 406.9h1.0M314.8 429.9h1.0M306.7 405.4h1.0M320.2 439.6h1.0M280.1 411.6h1.0M289.5 407.0h1.0M330.2 406.9h1.0M308.9 407.2h1.0M288.0 404.5h1.0M274.6 441.1h1.0M340.9 385.0h1.0M325.1 405.0h1.0M315.3 403.1h1.0M272.7 407.2h1.0M289.9 402.6h1.0M278.7 418.5h1.0M262.7 384.2h1.0M290.8 422.3h1.0M294.3 424.1h1.0M347.1 395.8h1.0M274.6 411.1h1.0M323.8 376.8h1.0M310.0 421.3h1.0M317.8 420.8h1.0M305.8 429.9h1.0M323.6 403.6h1.0M301.0 438.5h1.0M327.7 418.4h1.0M318.5 423.1h1.0M283.0 418.1h1.0M298.9 405.0h1.0M341.6 391.4h1.0M339.8 409.4h1.0M285.7 397.1h1.0M310.9 423.0h1.0M339.0 388.5h1.0M314.4 387.2h1.0M290.4 411.5h1.0M317.7 392.8h1.0M307.5 415.3h1.0M268.8 410.5h1.0M314.3 418.8h1.0M307.9 413.8h1.0M317.8 401.9h1.0M342.2 397.0h1.0M342.4 399.4h1.0M337.6 414.6h1.0M339.2 401.1h1.0M284.0 429.7h1.0M282.0 433.4h1.0M312.0 391.1h1.0M304.0 415.7h1.0M313.6 381.2h1.0M294.4 395.0h1.0M316.7 424.6h1.0M338.1 381.9h1.0M301.7 395.8h1.0M302.1 398.6h1.0M293.3 376.2h1.0M260.4 384.8h1.0M299.4 412.0h1.0M299.4 404.1h1.0M309.4 419.3h1.0M289.2 396.2h1.0M333.5 364.0h1.0M326.3 400.4h1.0M344.4 381.5h1.0M247.3 412.8h1.0M292.2 386.5h1.0M318.7 433.1h1.0M314.1 373.3h1.0M313.2 394.0h1.0M304.5 438.4h1.0M327.4 414.1h1.0M298.1 406.5h1.0M301.4 415.8h1.0M358.2 424.8h1.0M299.5 387.8h1.0M326.1 405.5h1.0M309.0 426.1h1.0M322.5 418.5h1.0M306.6 392.7h1.0M326.2 408.5h1.0M330.9 414.9h1.0M303.2 382.5h1.0M295.2 421.8h1.0M293.0 423.2h1.0M287.1 378.3h1.0M337.6 395.2h1.0M344.5 389.3h1.0M267.3 379.2h1.0M288.9 390.4h1.0M308.7 374.6h1.0M324.8 414.8h1.0M280.6 408.5h1.0M294.1 376.0h1.0M308.5 378.2h1.0M324.0 414.3h1.0M286.8 393.8h1.0M327.1 423.7h1.0M287.1 393.0h1.0M325.1 396.0h1.0M292.1 403.4h1.0M298.0 385.0h1.0M321.9 395.1h1.0M314.1 407.4h1.0M321.1 442.0h1.0M302.1 396.4h1.0M299.7 405.3h1.0M331.3 384.5h1.0M345.1 397.6h1.0M314.4 385.8h1.0M314.3 386.3h1.0M289.1 387.5h1.0M344.5 383.1h1.0M297.5 415.4h1.0M313.9 411.0h1.0M334.2 375.7h1.0M245.9 421.3h1.0M298.0 408.0h1.0M276.1 395.4h1.0M295.2 381.7h1.0M304.7 402.4h1.0M273.6 407.0h1.0M328.3 377.8h1.0M354.4 374.3h1.0M298.1 420.8h1.0M304.3 386.0h1.0M340.7 406.0h1.0M312.8 390.1h1.0M281.0 390.4h1.0M316.7 418.4h1.0M291.2 388.0h1.0M332.1 427.3h1.0M290.5 412.1h1.0M335.2 435.2h1.0M277.7 401.0h1.0M300.2 399.5h1.0M259.8 400.0h1.0M358.9 407.1h1.0M305.4 427.5h1.0M298.1 382.5h1.0M313.5 433.5h1.0M307.9 406.2h1.0M315.0 395.0h1.0M353.4 394.3h1.0M339.5 417.4h1.0M295.4 412.2h1.0M311.8 413.1h1.0M303.1 405.9h1.0M315.6 423.1h1.0M282.8 408.4h1.0M296.9 394.4h1.0M272.1 408.7h1.0M316.5 405.2h1.0M290.5 404.8h1.0M330.0 421.2h1.0M308.4 405.1h1.0M274.4 382.2h1.0M341.7 378.1h1.0M261.3 386.6h1.0M366.5 381.7h1.0M341.9 392.1h1.0M340.9 394.1h1.0M343.4 428.7h1.0M331.5 412.2h1.0M303.5 422.1h1.0M290.2 402.2h1.0M308.2 397.2h1.0M252.3 373.1h1.0M313.9 393.9h1.0M303.4 412.9h1.0M309.6 385.4h1.0M294.6 419.0h1.0M272.8 414.1h1.0M306.2 401.1h1.0M295.1 400.3h1.0M295.3 423.4h1.0M305.3 395.0h1.0M322.4 394.8h1.0M332.0 395.4h1.0M278.3 378.2h1.0M307.9 393.9h1.0M261.7 382.6h1.0M278.7 418.8h1.0M279.6 400.6h1.0M297.8 374.7h1.0M302.0 420.7h1.0M310.0 393.0h1.0M304.1 392.9h1.0M301.0 393.4h1.0M273.8 381.0h1.0M313.4 395.1h1.0M281.9 409.7h1.0M316.7 378.9h1.0M296.0 396.9h1.0M346.1 389.5h1.0M281.5 409.0h1.0M313.8 400.2h1.0M326.6 361.8h1.0M293.4 407.3h1.0M296.6 411.0h1.0M339.7 383.0h1.0M324.5 391.6h1.0M311.1 396.2h1.0M292.2 394.4h1.0M292.6 388.3h1.0M269.8 428.2h1.0M339.9 392.3h1.0M305.6 396.5h1.0M318.2 399.7h1.0M334.2 400.1h1.0M322.0 429.9h1.0M302.1 413.7h1.0M335.1 430.8h1.0M266.0 391.1h1.0M332.9 418.2h1.0M316.1 405.3h1.0M304.1 409.5h1.0M320.2 374.4h1.0M330.0 392.7h1.0M291.5 399.1h1.0M312.4 393.5h1.0M298.2 406.2h1.0M303.8 408.8h1.0M324.2 412.2h1.0M297.4 406.1h1.0M284.4 382.4h1.0M300.3 409.9h1.0M340.1 384.8h1.0M335.1 416.8h1.0M323.7 383.9h1.0M340.5 414.0h1.0M303.1 360.2h1.0M293.3 422.8h1.0M289.4 401.8h1.0M315.3 407.6h1.0M316.7 393.9h1.0M280.7 394.7h1.0M358.6 389.8h1.0M324.0 414.3h1.0M273.0 396.6h1.0M266.9 395.4h1.0M309.6 390.5h1.0M308.4 376.3h1.0M279.4 385.1h1.0M303.4 395.9h1.0M302.3 380.1h1.0M299.7 422.7h1.0M329.4 388.9h1.0M274.8 399.5h1.0M299.9 404.9h1.0M275.0 380.8h1.0M304.0 407.6h1.0M306.5 394.0h1.0M349.4 401.8h1.0M282.0 396.3h1.0M306.7 400.6h1.0M298.8 413.3h1.0M303.8 403.2h1.0M287.0 397.6h1.0M276.4 434.6h1.0M287.7 401.6h1.0M285.0 404.5h1.0M322.7 399.2h1.0M298.0 406.3h1.0M333.1 380.4h1.0M283.1 419.5h1.0M263.6 428.5h1.0M289.7 385.9h1.0M294.2 419.0h1.0M346.9 411.2h1.0M278.3 399.3h1.0M320.3 381.3h1.0M295.3 379.1h1.0M289.0 402.6h1.0M323.0 428.8h1.0M289.8 419.6h1.0M343.4 426.9h1.0M317.5 386.6h1.0M320.8 390.2h1.0M299.3 394.1h1.0M312.8 425.4h1.0M325.3 386.8h1.0M287.9 387.6h1.0M302.5 410.9h1.0M284.9 399.8h1.0M297.1 381.2h1.0M307.6 417.0h1.0M263.5 367.7h1.0M304.1 394.9h1.0M290.0 399.1h1.0M320.7 390.7h1.0M277.9 398.8h1.0M295.0 407.1h1.0M297.4 383.0h1.0M326.9 406.9h1.0M302.8 392.3h1.0M336.2 395.3h1.0M321.2 387.9h1.0M282.9 398.5h1.0M274.4 396.2h1.0M297.6 399.2h1.0M315.0 384.4h1.0M298.3 398.3h1.0M279.5 400.1h1.0M311.8 425.8h1.0M295.1 408.0h1.0M283.2 395.0h1.0M306.4 412.4h1.0M296.9 411.9h1.0M266.6 396.8h1.0M298.0 394.0h1.0M309.9 431.6h1.0M283.7 401.7h1.0M269.2 407.8h1.0M314.5 385.2h1.0M322.9 399.2h1.0M296.0 375.0h1.0M304.5 401.7h1.0M284.0 410.5h1.0M301.4 379.3h1.0M270.3 385.0h1.0M292.7 399.5h1.0M304.4 410.5h1.0M286.3 401.6h1.0M296.9 383.2h1.0M301.4 388.0h1.0M327.2 397.4h1.0M288.8 402.1h1.0M270.2 389.9h1.0M283.9 387.7h1.0M284.1 403.2h1.0M309.4 407.8h1.0M326.6 399.9h1.0M273.4 391.4h1.0M302.0 368.1h1.0M309.8 402.1h1.0M293.2 401.1h1.0M295.8 392.4h1.0M281.6 381.0h1.0M324.5 396.0h1.0M312.8 432.7h1.0M276.6 373.4h1.0M304.0 384.2h1.0M271.9 403.5h1.0M307.8 378.7h1.0M318.4 389.5h1.0M258.6 401.9h1.0M291.7 392.9h1.0M294.5 393.3h1.0M344.8 397.8h1.0M312.1 385.5h1.0M314.5 413.5h1.0M297.6 385.8h1.0M303.8 386.1h1.0M314.8 394.5h1.0M304.4 395.2h1.0M313.7 414.2h1.0M298.5 405.4h1.0M275.1 395.7h1.0M307.2 392.5h1.0M303.1 383.9h1.0M270.5 414.4h1.0M279.9 387.6h1.0M289.3 415.1h1.0M331.3 377.3h1.0M313.7 408.0h1.0M335.1 392.9h1.0M254.2 379.5h1.0M309.0 360.8h1.0M333.4 403.0h1.0M291.8 412.5h1.0M310.8 400.9h1.0M282.2 373.7h1.0M309.3 429.5h1.0M300.5 393.6h1.0M270.9 386.5h1.0M325.2 408.1h1.0M303.1 387.4h1.0M311.2 422.5h1.0M266.7 400.7h1.0M319.9 395.8h1.0M290.1 400.9h1.0M318.2 392.6h1.0M279.3 402.1h1.0M327.9 427.1h1.0M296.0 419.3h1.0M304.6 418.4h1.0M292.4 413.1h1.0M268.1 400.4h1.0M299.0 425.1h1.0M328.3 404.4h1.0M329.4 418.5h1.0M296.0 402.9h1.0M330.5 391.7h1.0M300.9 381.0h1.0M279.1 410.3h1.0M301.8 382.6h1.0M304.7 401.1h1.0M325.4 417.5h1.0M258.2 407.7h1.0M329.1 391.6h1.0M321.8 401.6h1.0M316.7 429.7h1.0M275.0 397.0h1.0M271.5 417.9h1.0M325.2 410.3h1.0M297.7 425.3h1.0M324.7 398.8h1.0M279.1 419.8h1.0M317.5 404.9h1.0M314.8 411.8h1.0M275.8 385.6h1.0M297.5 391.9h1.0M341.1 395.3h1.0M287.6 401.4h1.0M327.0 401.6h1.0M303.6 395.1h1.0M283.7 411.1h1.0M292.0 393.6h1.0M281.7 410.9h1.0M340.3 385.7h1.0M270.7 400.6h1.0M278.1 397.9h1.0M303.6 410.1h1.0M323.9 378.2h1.0M275.6 403.6h1.0M284.8 380.3h1.0M298.2 411.7h1.0M295.7 388.8h1.0M304.1 426.8h1.0M289.4 406.2h1.0M302.4 421.2h1.0M318.2 409.1h1.0M278.7 413.8h1.0M269.1 386.5h1.0M287.1 397.5h1.0M305.5 380.4h1.0M358.1 407.2h1.0M320.7 393.4h1.0M313.7 413.8h1.0M241.5 412.7h1.0M263.3 407.2h1.0M316.4 396.8h1.0M290.5 408.1h1.0M287.7 400.6h1.0M319.4 397.5h1.0M327.9 402.2h1.0M314.7 414.4h1.0M306.6 404.6h1.0M264.6 402.1h1.0M298.2 395.8h1.0M320.6 384.6h1.0M298.5 399.9h1.0M271.4 402.5h1.0M251.7 410.0h1.0M295.2 389.7h1.0M314.5 388.7h1.0M287.0 379.1h1.0M298.3 407.1h1.0M311.5 384.2h1.0M292.0 419.5h1.0M300.1 388.6h1.0M289.5 392.5h1.0M287.3 395.8h1.0M313.0 405.6h1.0M314.8 425.0h1.0M298.3 389.5h1.0M272.7 390.0h1.0M311.7 429.6h1.0M320.0 430.1h1.0M318.3 429.2h1.0M318.0 393.6h1.0M303.3 434.7h1.0M298.3 400.5h1.0M314.7 426.8h1.0M316.3 387.5h1.0M316.2 400.2h1.0M285.5 380.7h1.0M265.3 403.9h1.0M311.2 423.6h1.0M310.5 412.2h1.0M309.2 414.9h1.0M314.6 419.5h1.0M271.3 416.8h1.0M290.3 394.8h1.0M316.9 396.2h1.0M293.5 400.4h1.0M299.9 397.0h1.0M333.5 417.3h1.0M319.3 411.0h1.0M293.2 407.3h1.0M309.7 412.9h1.0M288.5 407.0h1.0M312.7 396.6h1.0M275.7 418.1h1.0M269.2 410.8h1.0M335.5 419.6h1.0M324.8 398.4h1.0M285.0 440.6h1.0M313.8 416.9h1.0M253.5 410.4h1.0M304.9 422.1h1.0M327.4 384.9h1.0M319.7 371.5h1.0M307.4 391.2h1.0M302.8 421.1h1.0M308.8 398.8h1.0M347.2 371.1h1.0M294.7 391.0h1.0M309.0 393.8h1.0M320.2 425.8h1.0M286.2 402.0h1.0M335.9 426.5h1.0M264.4 395.6h1.0M299.6 399.9h1.0M295.0 402.3h1.0M302.7 395.4h1.0M277.4 354.9h1.0M296.2 379.1h1.0M310.2 425.2h1.0M287.1 394.4h1.0M322.5 415.4h1.0M263.0 373.7h1.0M300.7 405.5h1.0M337.4 391.6h1.0M284.5 362.4h1.0M305.6 406.8h1.0M296.4 392.4h1.0M292.2 392.6h1.0M317.6 425.9h1.0M276.5 415.3h1.0M314.8 392.4h1.0M274.9 426.0h1.0M298.4 377.9h1.0M320.0 394.3h1.0M291.7 383.4h1.0M304.5 389.8h1.0M350.4 414.7h1.0M307.0 410.7h1.0M309.5 422.2h1.0M317.3 418.4h1.0M315.8 406.6h1.0M303.8 390.7h1.0M298.2 402.0h1.0M308.6 394.2h1.0M311.0 397.7h1.0M331.5 397.2h1.0M305.4 413.7h1.0M320.3 391.7h1.0M344.4 418.7h1.0M269.6 413.1h1.0M299.1 404.2h1.0M298.3 412.2h1.0M300.3 387.6h1.0M332.9 423.5h1.0M297.8 408.5h1.0M307.5 409.4h1.0M338.2 405.7h1.0M259.4 404.5h1.0M277.3 387.1h1.0M279.5 379.3h1.0M304.0 394.3h1.0M314.5 421.0h1.0M285.4 391.3h1.0M332.4 391.5h1.0M337.3 404.1h1.0M287.3 374.4h1.0M292.2 404.0h1.0M282.4 409.5h1.0M316.9 422.1h1.0M294.4 404.5h1.0M323.2 410.9h1.0M326.8 393.0h1.0M304.0 390.0h1.0M286.2 369.8h1.0M251.1 428.3h1.0M310.4 392.9h1.0M314.3 389.0h1.0M304.8 396.6h1.0M286.1 407.1h1.0M326.0 404.8h1.0M302.4 410.0h1.0M317.6 414.9h1.0M320.3 440.5h1.0M324.2 385.1h1.0M317.7 418.3h1.0M270.7 373.5h1.0M311.3 414.3h1.0M301.7 411.9h1.0M292.6 416.3h1.0M285.0 388.9h1.0M283.6 396.3h1.0M293.7 415.0h1.0M297.5 359.2h1.0M304.8 393.5h1.0M264.1 397.8h1.0M284.8 379.4h1.0M317.5 410.9h1.0M326.2 394.4h1.0M297.6 419.9h1.0M293.4 408.0h1.0M342.5 404.0h1.0M282.0 411.0h1.0M325.1 403.5h1.0M321.1 387.7h1.0M311.3 368.5h1.0M325.8 411.5h1.0M317.6 404.8h1.0M300.5 388.6h1.0M318.9 398.3h1.0M356.1 386.5h1.0M307.8 398.6h1.0M325.1 398.7h1.0M343.8 394.5h1.0M285.0 383.1h1.0M303.6 400.5h1.0M284.0 377.9h1.0M306.7 385.0h1.0M293.4 409.7h1.0M328.6 401.9h1.0M298.4 410.5h1.0M318.6 421.9h1.0M308.2 411.0h1.0M313.5 417.8h1.0M285.3 410.6h1.0M324.3 404.8h1.0M302.1 400.1h1.0M299.9 415.3h1.0M287.8 416.3h1.0M313.8 384.3h1.0M293.8 407.3h1.0M288.8 414.8h1.0M303.2 401.5h1.0M257.1 372.2h1.0M328.6 400.7h1.0M294.3 370.8h1.0M324.2 406.7h1.0M278.4 386.4h1.0M261.5 412.9h1.0M284.4 386.1h1.0M311.9 419.4h1.0M330.3 422.0h1.0M332.7 385.4h1.0M327.2 408.5h1.0M288.0 420.0h1.0M292.7 386.0h1.0M311.7 369.4h1.0M319.1 405.1h1.0M284.0 394.2h1.0M283.8 399.5h1.0M276.0 409.4h1.0M328.7 371.9h1.0M284.4 419.1h1.0M309.9 392.3h1.0M305.3 399.5h1.0M313.8 427.9h1.0M271.8 411.3h1.0M304.9 402.4h1.0M322.4 373.5h1.0M316.6 424.4h1.0M296.2 389.0h1.0M319.7 411.6h1.0M309.1 398.0h1.0M297.2 419.1h1.0M305.6 381.4h1.0M351.6 396.6h1.0M294.1 400.8h1.0M272.3 391.7h1.0M318.6 365.1h1.0M320.7 416.7h1.0M315.0 412.3h1.0M301.9 388.1h1.0M325.3 402.4h1.0M345.5 412.5h1.0M335.0 411.8h1.0M261.0 424.3h1.0M286.7 404.3h1.0M309.6 397.3h1.0M259.2 384.1h1.0M341.6 402.0h1.0M321.2 397.6h1.0M288.1 420.7h1.0M283.4 381.4h1.0M328.8 397.4h1.0M297.7 417.9h1.0M311.0 419.7h1.0M282.4 395.2h1.0M281.3 414.7h1.0M294.9 382.5h1.0M305.3 428.6h1.0M321.6 387.7h1.0M293.7 411.7h1.0M320.8 396.7h1.0M294.8 369.5h1.0M286.1 390.0h1.0M295.5 432.8h1.0M294.4 404.6h1.0M278.3 379.3h1.0M265.3 380.8h1.0M315.0 406.7h1.0M308.6 401.7h1.0M319.5 403.5h1.0M271.1 398.0h1.0M296.8 406.3h1.0M275.8 405.1h1.0M331.6 398.2h1.0M339.3 368.6h1.0M317.0 395.8h1.0M333.6 404.0h1.0M273.7 416.0h1.0M301.1 426.1h1.0M308.8 404.2h1.0M315.9 427.2h1.0M306.3 403.4h1.0M319.4 423.0h1.0M310.6 406.4h1.0M298.4 411.9h1.0M330.6 381.5h1.0M295.9 393.7h1.0M320.0 417.9h1.0M317.2 417.0h1.0M282.1 413.1h1.0M296.1 395.5h1.0M348.9 388.8h1.0M306.2 392.0h1.0M320.0 396.9h1.0M296.6 405.7h1.0M328.9 387.2h1.0M307.6 398.7h1.0M326.8 391.7h1.0M325.1 357.0h1.0M288.8 379.3h1.0M306.7 400.9h1.0M320.2 394.6h1.0M285.7 408.0h1.0M307.9 357.4h1.0M301.9 407.0h1.0M320.2 388.7h1.0M284.9 395.6h1.0M315.7 378.1h1.0M325.3 410.0h1.0M296.1 395.5h1.0M298.0 416.0h1.0M321.8 380.6h1.0M296.0 404.4h1.0M317.1 412.4h1.0M331.6 421.2h1.0M279.0 418.3h1.0M316.2 408.6h1.0M332.0 406.6h1.0M276.6 384.7h1.0M310.7 379.2h1.0M316.3 430.2h1.0M298.3 423.9h1.0M311.7 394.5h1.0M284.6 375.3h1.0M307.0 420.1h1.0M290.7 414.9h1.0M320.8 395.0h1.0M306.5 402.8h1.0M307.3 400.0h1.0M325.9 416.1h1.0M314.2 399.4h1.0M293.2 421.2h1.0M301.1 410.0h1.0M291.5 417.5h1.0M317.3 391.1h1.0M332.9 408.8h1.0M346.2 367.2h1.0M323.2 416.4h1.0M290.8 372.4h1.0M321.8 404.5h1.0M284.7 401.4h1.0M277.6 418.2h1.0M284.9 396.7h1.0M313.8 423.3h1.0M272.2 417.9h1.0M317.1 393.6h1.0M303.5 410.7h1.0M341.1 410.5h1.0M305.8 407.8h1.0M297.8 374.1h1.0M283.0 403.1h1.0M288.7 399.9h1.0M310.6 392.7h1.0M276.9 377.7h1.0M250.9 407.2h1.0M293.9 407.7h1.0M301.9 380.1h1.0M300.2 381.3h1.0M297.5 400.3h1.0M287.0 407.2h1.0M273.3 398.8h1.0M335.0 384.1h1.0M320.1 395.9h1.0M312.4 402.1h1.0M294.9 388.9h1.0M288.6 387.9h1.0M299.8 415.7h1.0M317.8 421.0h1.0M306.7 420.1h1.0M304.5 414.1h1.0M317.0 407.6h1.0M291.1 413.7h1.0M286.8 408.4h1.0M296.9 397.2h1.0M300.7 421.9h1.0M341.2 413.0h1.0M351.7 389.9h1.0M282.3 393.3h1.0M288.0 400.8h1.0M304.4 408.6h1.0M264.0 378.5h1.0M291.6 393.2h1.0M331.8 412.5h1.0M288.5 402.5h1.0M294.2 425.7h1.0M326.2 409.4h1.0M340.9 367.3h1.0M299.4 359.8h1.0M303.6 433.4h1.0M310.2 392.8h1.0M322.9 377.4h1.0M267.9 403.5h1.0M310.5 393.8h1.0M295.4 406.9h1.0M310.1 411.8h1.0M317.2 395.4h1.0M255.2 434.1h1.0M325.2 395.8h1.0M305.9 394.8h1.0M297.1 378.3h1.0M315.0 406.7h1.0M315.0 398.8h1.0M347.4 406.6h1.0M320.4 409.9h1.0M322.2 404.9h1.0M310.2 418.3h1.0M319.4 384.5h1.0M286.6 374.6h1.0M320.9 380.5h1.0M309.1 399.6h1.0M322.0 440.6h1.0M323.1 402.1h1.0M275.4 418.0h1.0M314.0 413.1h1.0M319.6 394.7h1.0M326.1 405.5h1.0M264.0 418.1h1.0M312.8 382.8h1.0M276.4 385.3h1.0M289.4 421.8h1.0M311.3 399.7h1.0M315.9 401.8h1.0M306.3 397.2h1.0M297.3 377.5h1.0M295.6 409.7h1.0M320.0 391.1h1.0M321.4 390.5h1.0M306.9 426.6h1.0M267.9 427.1h1.0M257.2 392.0h1.0M271.2 381.5h1.0M293.9 405.7h1.0M319.6 383.2h1.0M295.7 405.6h1.0M292.5 381.6h1.0M300.3 408.1h1.0M297.9 397.1h1.0M293.8 421.6h1.0M286.7 421.3h1.0M288.4 433.8h1.0M299.0 401.0h1.0M303.3 386.7h1.0M291.2 393.4h1.0M320.8 393.4h1.0M280.6 388.1h1.0M313.0 406.0h1.0M288.5 407.0h1.0M315.9 393.8h1.0M282.1 388.2h1.0M303.0 408.3h1.0M323.0 378.4h1.0M319.9 399.0h1.0M285.8 381.4h1.0M290.6 395.5h1.0M278.8 420.5h1.0M295.7 394.9h1.0M270.6 404.2h1.0M294.6 407.4h1.0M285.4 417.8h1.0M300.5 389.9h1.0M297.5 401.4h1.0M301.0 378.2h1.0M302.9 409.6h1.0M322.3 403.7h1.0M297.4 401.5h1.0M291.7 397.4h1.0M325.1 382.3h1.0M238.8 430.7h1.0M282.4 381.7h1.0M281.6 393.4h1.0M335.0 392.7h1.0M316.0 405.1h1.0M314.5 367.5h1.0M303.4 432.2h1.0M310.9 389.3h1.0M332.5 396.7h1.0M268.2 396.4h1.0M284.8 394.0h1.0M312.8 426.4h1.0M286.1 436.5h1.0M319.6 420.0h1.0M320.1 361.8h1.0M326.9 406.6h1.0M269.5 415.1h1.0M307.3 386.3h1.0M325.8 425.1h1.0M295.0 412.9h1.0M325.0 381.9h1.0M298.2 391.5h1.0M279.7 393.9h1.0M339.0 377.2h1.0M274.0 380.0h1.0M306.2 416.1h1.0M301.1 432.7h1.0M291.4 421.4h1.0M291.5 414.7h1.0M267.5 436.5h1.0M309.2 430.5h1.0M281.1 408.4h1.0M342.4 399.2h1.0M295.0 416.8h1.0M269.4 371.9h1.0M311.1 384.7h1.0M321.6 391.7h1.0M327.7 396.5h1.0M296.4 437.8h1.0M302.3 401.7h1.0M300.5 382.4h1.0M315.9 402.7h1.0M332.5 377.3h1.0M324.0 413.2h1.0M295.8 444.1h1.0M300.2 424.9h1.0M301.9 426.0h1.0M291.4 396.7h1.0M281.5 394.9h1.0M294.4 412.7h1.0M314.2 390.9h1.0M314.1 372.5h1.0M281.4 413.8h1.0M309.9 393.3h1.0M298.7 379.7h1.0M309.7 395.0h1.0M317.8 417.3h1.0M313.0 397.5h1.0M322.5 395.1h1.0M317.8 387.2h1.0M320.4 381.5h1.0M300.5 414.3h1.0M268.0 400.7h1.0M256.9 404.6h1.0M299.2 400.9h1.0M297.7 398.0h1.0M270.0 383.8h1.0M272.9 392.3h1.0M255.9 410.6h1.0M327.1 406.4h1.0M253.5 406.2h1.0M257.6 412.6h1.0M313.8 441.5h1.0M319.9 392.1h1.0M289.9 417.0h1.0M312.3 373.8h1.0M314.0 408.5h1.0M290.6 396.7h1.0M357.5 387.7h1.0M314.6 400.6h1.0M312.4 395.7h1.0M304.2 370.8h1.0M313.4 401.1h1.0M284.5 397.9h1.0M302.4 413.5h1.0M307.3 408.6h1.0M310.9 420.3h1.0M296.5 392.0h1.0M309.0 433.1h1.0M293.6 410.1h1.0M333.1 407.4h1.0M280.1 401.9h1.0M274.2 394.7h1.0M303.1 411.7h1.0M318.4 416.3h1.0M292.4 430.2h1.0M305.0 415.7h1.0M303.7 402.7h1.0M310.2 405.4h1.0M334.6 399.3h1.0M281.4 396.6h1.0M288.5 404.5h1.0M303.4 435.9h1.0M296.9 384.1h1.0M310.4 396.7h1.0M338.3 398.3h1.0M317.2 381.1h1.0M294.5 425.8h1.0M320.1 387.3h1.0M316.8 417.7h1.0M346.2 434.6h1.0M284.2 394.3h1.0M311.3 405.6h1.0M326.0 379.1h1.0M321.9 402.8h1.0M309.2 384.2h1.0M290.7 408.7h1.0M285.8 376.8h1.0M283.8 392.7h1.0M308.7 389.2h1.0M314.3 399.9h1.0M298.3 415.0h1.0M290.9 414.2h1.0M307.8 392.1h1.0M272.3 420.3h1.0M354.7 406.8h1.0M288.7 412.0h1.0M309.9 413.1h1.0M304.5 428.9h1.0M304.5 396.3h1.0M311.5 372.8h1.0M282.6 406.6h1.0M345.1 388.3h1.0M310.6 382.5h1.0M273.3 382.7h1.0M335.5 420.5h1.0M320.0 408.4h1.0M304.1 374.1h1.0M310.2 380.4h1.0M288.5 380.1h1.0M349.5 396.8h1.0M309.4 418.7h1.0M295.0 392.6h1.0M273.0 414.8h1.0M285.1 407.6h1.0M266.4 404.1h1.0M301.4 415.6h1.0M294.1 394.1h1.0M285.9 386.1h1.0M298.7 387.1h1.0M310.7 402.1h1.0M303.5 406.5h1.0M291.9 379.9h1.0M316.7 386.7h1.0M300.0 380.1h1.0M308.4 405.0h1.0M300.1 413.5h1.0M294.7 376.9h1.0M343.0 422.4h1.0M285.9 392.2h1.0M265.0 399.3h1.0M271.5 394.5h1.0M280.4 407.9h1.0M343.5 396.8h1.0M366.6 398.3h1.0M262.8 407.3h1.0M323.9 405.2h1.0M303.1 398.5h1.0M345.8 389.5h1.0M313.6 396.5h1.0M293.1 413.3h1.0M324.9 394.3h1.0M308.8 381.4h1.0M308.0 399.9h1.0M267.8 419.6h1.0M311.6 415.6h1.0M309.6 380.6h1.0M306.9 407.6h1.0M300.2 421.1h1.0M314.4 412.8h1.0M301.8 370.4h1.0M277.9 386.8h1.0M312.3 383.2h1.0M274.7 416.8h1.0M310.3 399.7h1.0M308.5 392.9h1.0M342.8 420.7h1.0M324.7 403.9h1.0M329.6 404.7h1.0M326.3 421.5h1.0M297.0 426.5h1.0M322.0 393.1h1.0M324.1 376.0h1.0M281.1 379.8h1.0M294.8 401.4h1.0M337.2 400.6h1.0M340.4 398.8h1.0M344.3 418.1h1.0M332.9 398.4h1.0M262.5 383.9h1.0M288.1 420.0h1.0M268.5 375.1h1.0M273.5 370.8h1.0M318.0 417.5h1.0M293.4 421.4h1.0M288.1 421.5h1.0M286.4 387.5h1.0M288.7 410.8h1.0M280.2 404.7h1.0M276.8 422.1h1.0M324.0 419.8h1.0M302.6 397.1h1.0M267.5 393.4h1.0M291.6 385.8h1.0M303.1 397.9h1.0M286.2 388.9h1.0M314.2 411.6h1.0M292.0 417.0h1.0M310.7 440.1h1.0M316.4 413.6h1.0M305.9 402.4h1.0M296.6 401.1h1.0M316.0 415.8h1.0M323.8 380.2h1.0M333.7 392.2h1.0M313.5 405.1h1.0M273.1 400.3h1.0M334.3 386.1h1.0M271.9 425.7h1.0M281.7 408.4h1.0M350.2 408.8h1.0M311.4 414.5h1.0M348.5 408.4h1.0M305.7 412.3h1.0M302.5 429.3h1.0M257.0 394.3h1.0M303.2 409.0h1.0M318.0 392.8h1.0M311.6 416.7h1.0M357.1 419.2h1.0M323.0 372.5h1.0M316.5 404.5h1.0M328.0 404.1h1.0M315.8 416.4h1.0M318.2 396.6h1.0M290.3 413.2h1.0M266.4 393.0h1.0M300.1 394.8h1.0M296.6 376.6h1.0M310.0 402.3h1.0M321.2 403.2h1.0M304.1 387.9h1.0M277.1 416.9h1.0M309.3 423.8h1.0M323.2 414.5h1.0M281.7 397.9h1.0M322.8 407.5h1.0M290.0 418.2h1.0M293.7 402.6h1.0M334.2 406.8h1.0M302.1 395.4h1.0M323.7 405.7h1.0M321.0 420.2h1.0M311.1 395.0h1.0M344.7 405.4h1.0M320.0 390.1h1.0M328.3 385.2h1.0M315.5 400.6h1.0M269.1 394.8h1.0M264.9 405.2h1.0M298.3 410.4h1.0M309.2 383.4h1.0M341.8 400.8h1.0M327.1 407.2h1.0M297.0 401.9h1.0M306.8 423.2h1.0M310.6 366.1h1.0M315.5 421.2h1.0M314.2 421.5h1.0M289.3 406.6h1.0M318.7 364.9h1.0M316.2 419.1h1.0M299.4 393.9h1.0M341.1 426.7h1.0M324.9 413.5h1.0M333.8 387.1h1.0M304.4 387.1h1.0M258.7 400.0h1.0M321.8 421.2h1.0M284.4 407.7h1.0M280.5 392.9h1.0M278.4 376.0h1.0M272.6 388.0h1.0M301.1 407.9h1.0M277.4 399.9h1.0M266.8 376.2h1.0M272.3 404.0h1.0M287.9 403.9h1.0M269.6 399.9h1.0M282.9 400.9h1.0M312.4 399.4h1.0M284.9 411.1h1.0M293.6 406.1h1.0M303.8 375.1h1.0M251.3 388.0h1.0M322.4 388.8h1.0M330.6 418.7h1.0M258.5 379.9h1.0M295.8 420.3h1.0M310.6 367.9h1.0M295.7 419.7h1.0M312.6 408.4h1.0M295.8 381.6h1.0M296.8 418.1h1.0M315.2 386.9h1.0M303.2 395.7h1.0M314.6 381.7h1.0M288.5 405.0h1.0M293.5 410.3h1.0M293.4 417.4h1.0M305.7 398.0h1.0M320.5 387.6h1.0M292.9 399.9h1.0M290.2 394.2h1.0M281.6 420.7h1.0M318.4 407.8h1.0M295.9 374.0h1.0M283.8 422.3h1.0M306.3 392.8h1.0M299.8 382.1h1.0M318.6 393.0h1.0M305.7 375.6h1.0M308.8 407.0h1.0M288.7 369.9h1.0M285.7 385.7h1.0M332.4 381.7h1.0M299.4 420.5h1.0M277.3 407.9h1.0M319.8 388.1h1.0M314.1 414.1h1.0M309.0 425.3h1.0M293.8 416.7h1.0M309.7 413.4h1.0M311.5 404.1h1.0M267.6 389.1h1.0M312.3 394.3h1.0M278.9 396.3h1.0M345.4 413.4h1.0M324.8 403.3h1.0M290.4 412.8h1.0M296.0 424.3h1.0M300.4 380.7h1.0M291.5 402.5h1.0M295.5 384.6h1.0M280.2 364.1h1.0M339.3 412.0h1.0M313.2 403.4h1.0M300.6 387.5h1.0M329.0 407.8h1.0M295.6 368.4h1.0M370.9 442.8h1.0M287.2 413.0h1.0M341.4 391.1h1.0M279.4 402.8h1.0M289.6 392.6h1.0M296.2 368.1h1.0M336.1 395.7h1.0M295.1 396.0h1.0M314.7 378.7h1.0M253.0 413.7h1.0M268.7 419.8h1.0M305.2 407.2h1.0M293.0 430.1h1.0M326.1 408.3h1.0M302.9 388.5h1.0M322.6 432.1h1.0M301.6 407.3h1.0M279.6 408.4h1.0M330.8 389.6h1.0M274.6 378.8h1.0M269.6 400.8h1.0M309.9 395.6h1.0M288.7 408.3h1.0M290.8 386.3h1.0M288.6 379.9h1.0M322.0 383.9h1.0M273.5 393.2h1.0M267.9 383.4h1.0M294.8 414.1h1.0M268.5 403.3h1.0M302.8 382.5h1.0M312.3 402.6h1.0M332.7 388.6h1.0M290.5 415.8h1.0M274.4 404.6h1.0M289.2 385.6h1.0M330.0 393.1h1.0M311.3 406.6h1.0M348.0 382.1h1.0M294.7 398.0h1.0M304.8 422.9h1.0M341.4 401.3h1.0M292.9 399.2h1.0M292.5 403.0h1.0M310.3 401.1h1.0M313.4 402.7h1.0M313.9 361.2h1.0M303.2 381.5h1.0M313.0 379.7h1.0M309.0 381.3h1.0M289.9 382.2h1.0M319.9 431.3h1.0M328.0 403.6h1.0M334.8 402.8h1.0M288.9 392.1h1.0M285.3 387.0h1.0M281.2 399.0h1.0M288.5 408.3h1.0M269.1 397.7h1.0M300.1 422.9h1.0M350.7 411.0h1.0M299.2 361.4h1.0M307.7 440.9h1.0M287.7 384.7h1.0M302.9 403.6h1.0M299.6 413.4h1.0M311.8 385.0h1.0M308.1 382.5h1.0M281.1 424.9h1.0M327.3 383.3h1.0M338.6 438.0h1.0M293.3 420.6h1.0M300.4 400.1h1.0M298.5 420.7h1.0M315.4 423.9h1.0M338.2 398.9h1.0M293.9 372.9h1.0M288.3 418.2h1.0M362.2 413.1h1.0M324.0 371.1h1.0M327.9 423.2h1.0M289.8 391.1h1.0M322.9 380.6h1.0M330.1 386.6h1.0M302.8 418.9h1.0M280.7 428.3h1.0M360.5 423.1h1.0M315.1 404.6h1.0M287.2 396.5h1.0M294.9 410.8h1.0M310.1 398.2h1.0M286.9 400.5h1.0M287.1 398.4h1.0M292.0 401.5h1.0M316.4 379.2h1.0M320.8 384.5h1.0M311.7 398.7h1.0M294.8 413.0h1.0M323.6 390.7h1.0M311.7 426.1h1.0M279.0 426.8h1.0M312.0 379.8h1.0M307.7 401.4h1.0M287.6 407.9h1.0M296.2 389.9h1.0M274.9 438.3h1.0M288.3 362.9h1.0M294.5 399.9h1.0M305.1 400.8h1.0M315.6 390.9h1.0M315.1 391.9h1.0M303.1 379.5h1.0M293.5 401.6h1.0M283.8 422.2h1.0M304.6 380.1h1.0M323.4 402.1h1.0M319.0 416.6h1.0M264.9 423.6h1.0M310.2 393.8h1.0M298.9 416.5h1.0M314.1 371.2h1.0M311.9 417.8h1.0M333.4 379.3h1.0M335.2 415.5h1.0M321.2 418.7h1.0M310.2 400.4h1.0M280.1 393.5h1.0M333.4 403.4h1.0M307.7 402.1h1.0M324.7 396.3h1.0M297.2 396.5h1.0M320.5 392.5h1.0M337.7 420.8h1.0M315.8 404.9h1.0M299.0 394.5h1.0M323.3 418.2h1.0M305.1 395.7h1.0M274.6 398.1h1.0M322.7 403.2h1.0M281.9 396.3h1.0M294.0 414.3h1.0M336.4 410.7h1.0M332.8 435.3h1.0M301.0 401.6h1.0M290.3 436.8h1.0M300.4 384.0h1.0M319.7 402.1h1.0M286.6 408.9h1.0M312.1 366.2h1.0M259.4 419.9h1.0M318.6 401.4h1.0M272.7 378.8h1.0M278.1 421.5h1.0M313.3 417.0h1.0M311.5 387.7h1.0M293.9 405.3h1.0M284.6 403.2h1.0M332.7 389.8h1.0M264.3 416.3h1.0M300.5 377.7h1.0M295.8 414.3h1.0M303.9 390.6h1.0M288.1 418.4h1.0M298.9 439.5h1.0M297.4 421.5h1.0M282.7 383.7h1.0M299.4 412.3h1.0M303.1 396.1h1.0M302.5 415.3h1.0M320.3 427.2h1.0M287.4 380.3h1.0M317.5 367.9h1.0M302.1 395.2h1.0M296.3 395.8h1.0M337.1 383.5h1.0M318.7 403.1h1.0M279.2 399.3h1.0M309.3 403.6h1.0M315.0 401.3h1.0M339.3 382.1h1.0M300.3 425.9h1.0M297.8 408.9h1.0M300.6 390.5h1.0M326.2 420.7h1.0M280.3 387.2h1.0M279.5 370.3h1.0M276.2 404.0h1.0M294.7 387.4h1.0M312.6 382.1h1.0M288.8 417.2h1.0M339.4 396.9h1.0M317.2 405.2h1.0M290.8 420.8h1.0M288.6 382.8h1.0M290.6 412.3h1.0M303.0 403.0h1.0M260.8 420.0h1.0M316.7 408.6h1.0M323.4 405.3h1.0M265.3 411.3h1.0M264.2 398.6h1.0M289.0 381.4h1.0M293.3 389.0h1.0M290.6 390.4h1.0M268.9 396.4h1.0M289.9 399.1h1.0M274.1 400.2h1.0M279.7 415.8h1.0M306.7 393.0h1.0M264.0 392.9h1.0M307.4 400.8h1.0M270.5 397.4h1.0M269.9 391.3h1.0M274.8 420.4h1.0M290.7 404.0h1.0M320.1 425.0h1.0M304.6 409.7h1.0M323.1 397.3h1.0M348.1 423.2h1.0M285.0 392.4h1.0M288.2 408.5h1.0M301.2 424.1h1.0M262.1 417.3h1.0M323.1 389.0h1.0M294.7 404.4h1.0M308.9 405.3h1.0M293.7 397.7h1.0M307.1 394.5h1.0M263.2 402.5h1.0M334.9 369.0h1.0M289.8 424.5h1.0M288.7 420.8h1.0M333.3 417.3h1.0M307.0 415.2h1.0M318.0 383.8h1.0M300.7 403.9h1.0M346.9 453.1h1.0M300.5 387.5h1.0M281.1 425.0h1.0M306.3 393.6h1.0M283.9 374.1h1.0M306.2 396.5h1.0M302.7 417.6h1.0M318.2 390.2h1.0M315.6 410.6h1.0M314.0 408.2h1.0M328.8 417.3h1.0M317.7 395.7h1.0M283.5 409.0h1.0M300.2 404.9h1.0M295.2 407.0h1.0M364.7 408.9h1.0M330.8 381.6h1.0M316.2 391.1h1.0M284.9 415.8h1.0M310.8 421.1h1.0M345.9 414.8h1.0M308.8 416.4h1.0M292.7 406.6h1.0M324.5 395.1h1.0M292.0 421.4h1.0M313.4 411.4h1.0M305.4 405.5h1.0M294.6 398.9h1.0M342.0 405.8h1.0M266.9 379.6h1.0M324.6 384.1h1.0M310.9 399.5h1.0M311.7 374.7h1.0M301.4 405.7h1.0M336.8 388.5h1.0M310.6 396.1h1.0M227.1 410.9h1.0M311.0 384.4h1.0M297.1 408.9h1.0M312.7 395.8h1.0M314.1 413.5h1.0M286.0 417.7h1.0M292.8 432.9h1.0M294.2 426.5h1.0M302.6 403.7h1.0M313.7 377.5h1.0M330.2 412.2h1.0M301.9 428.9h1.0M290.3 397.9h1.0M285.9 394.5h1.0M298.7 388.8h1.0M321.2 408.6h1.0M291.3 404.9h1.0M311.3 392.6h1.0M292.1 372.3h1.0M291.5 392.6h1.0M305.5 396.3h1.0M309.5 409.5h1.0M317.1 397.6h1.0M308.1 402.1h1.0M286.0 394.0h1.0M287.2 394.2h1.0M259.8 403.9h1.0M275.2 410.3h1.0M284.9 384.7h1.0M326.1 373.5h1.0M292.2 409.0h1.0M325.7 400.0h1.0M287.6 422.2h1.0M313.6 414.3h1.0M306.9 410.3h1.0M304.7 399.0h1.0M287.4 417.0h1.0M303.8 407.5h1.0M329.0 393.6h1.0M304.1 368.9h1.0M282.4 377.8h1.0M280.7 407.6h1.0M301.6 440.0h1.0M290.7 418.1h1.0M294.4 398.4h1.0M294.8 403.0h1.0M329.2 406.6h1.0M309.3 390.0h1.0M291.2 407.6h1.0M286.7 389.5h1.0M297.5 394.9h1.0M347.0 418.0h1.0M298.0 427.3h1.0M252.5 408.9h1.0M296.3 385.2h1.0M312.4 404.7h1.0M288.0 382.8h1.0M306.4 427.1h1.0M346.3 381.9h1.0M326.9 393.9h1.0M323.9 374.5h1.0M277.1 409.5h1.0M297.1 393.0h1.0M301.1 381.5h1.0M303.1 382.6h1.0M343.1 380.3h1.0M335.1 382.8h1.0M299.3 396.8h1.0M315.1 376.6h1.0M283.7 382.4h1.0M322.6 398.9h1.0M265.7 414.0h1.0M324.9 401.3h1.0M281.0 434.7h1.0M340.5 417.5h1.0M328.6 413.2h1.0M297.6 439.7h1.0M297.1 393.2h1.0M280.0 425.9h1.0M283.3 388.0h1.0M282.9 385.2h1.0M285.9 412.3h1.0M315.5 389.0h1.0M292.4 384.0h1.0M319.6 404.4h1.0M295.3 387.5h1.0M306.2 420.4h1.0M310.5 439.3h1.0M304.8 426.9h1.0M279.9 404.9h1.0M323.1 392.2h1.0M278.4 393.1h1.0M313.3 408.6h1.0M311.0 368.7h1.0M296.7 418.3h1.0M302.7 369.9h1.0M309.4 389.6h1.0M345.3 393.7h1.0M308.2 406.1h1.0M289.7 406.7h1.0M325.8 416.5h1.0M330.4 393.7h1.0M306.4 423.3h1.0M325.7 382.3h1.0M334.8 410.2h1.0M261.5 382.8h1.0M320.6 421.8h1.0M294.4 390.3h1.0M288.5 398.5h1.0M294.7 419.1h1.0M302.1 401.5h1.0M283.4 401.8h1.0M294.0 409.6h1.0M277.8 373.0h1.0M307.6 400.5h1.0M309.6 391.6h1.0M292.3 389.4h1.0M300.4 399.0h1.0M335.0 383.2h1.0M282.0 397.4h1.0M329.2 417.8h1.0M326.7 404.7h1.0M313.9 420.1h1.0M326.0 406.5h1.0M269.6 391.4h1.0M338.1 390.9h1.0M285.5 382.5h1.0M333.2 389.7h1.0M333.4 416.9h1.0M295.8 398.5h1.0M321.9 410.1h1.0M319.7 422.6h1.0M313.0 379.5h1.0M308.5 392.9h1.0M316.5 378.6h1.0M277.1 414.9h1.0M271.4 409.3h1.0M332.2 410.8h1.0M279.7 398.1h1.0M282.5 400.7h1.0M315.6 400.6h1.0M296.8 422.2h1.0M298.1 364.7h1.0M303.3 405.8h1.0M336.9 419.8h1.0M316.8 386.7h1.0M306.6 401.4h1.0M349.9 407.9h1.0M314.4 408.0h1.0M307.9 373.1h1.0M324.5 401.2h1.0M298.4 408.5h1.0M279.6 372.5h1.0M288.2 399.4h1.0M297.1 389.6h1.0M338.7 400.9h1.0M330.0 406.2h1.0M260.0 377.8h1.0M275.4 416.8h1.0M302.8 391.5h1.0M306.7 403.5h1.0M304.6 393.4h1.0M294.5 418.2h1.0M326.7 427.0h1.0M309.5 398.2h1.0M283.0 391.1h1.0M304.0 417.6h1.0M319.6 420.3h1.0M322.6 410.1h1.0M299.3 389.7h1.0M285.0 400.8h1.0M345.7 394.0h1.0M298.1 421.4h1.0M310.1 407.8h1.0M291.9 426.6h1.0M355.3 408.7h1.0M337.8 420.6h1.0M293.7 430.7h1.0M320.2 407.4h1.0M298.6 422.1h1.0M318.9 378.1h1.0M312.8 400.8h1.0M314.4 391.8h1.0M340.3 382.8h1.0M281.9 390.0h1.0M310.7 407.5h1.0M282.2 401.6h1.0M318.1 414.1h1.0M282.5 380.4h1.0M342.1 399.4h1.0M314.5 398.0h1.0M262.1 416.7h1.0M304.7 393.7h1.0M269.6 402.2h1.0M306.0 407.2h1.0M298.6 381.6h1.0M269.0 404.4h1.0M296.3 389.9h1.0M304.7 401.0h1.0M321.2 417.8h1.0M279.6 416.9h1.0M325.8 400.1h1.0M305.5 403.4h1.0M286.7 399.5h1.0M308.6 389.1h1.0M290.0 424.2h1.0M300.0 399.7h1.0M322.4 394.7h1.0M326.0 411.9h1.0M319.5 392.2h1.0M277.1 420.2h1.0M292.9 373.8h1.0M308.3 384.0h1.0M302.5 388.5h1.0M302.9 399.3h1.0M289.9 393.8h1.0M271.7 397.2h1.0M282.7 413.7h1.0M248.1 394.8h1.0M299.3 420.2h1.0M316.6 407.6h1.0M281.0 403.5h1.0M323.1 388.8h1.0M306.5 400.5h1.0M281.8 402.7h1.0M306.0 395.0h1.0M311.3 396.9h1.0M305.1 409.4h1.0M293.0 425.7h1.0M305.1 395.8h1.0M296.4 377.0h1.0M315.6 419.0h1.0M286.5 382.2h1.0M301.1 414.0h1.0M290.6 408.9h1.0M314.0 401.4h1.0M330.5 399.1h1.0M280.0 376.8h1.0M291.7 423.4h1.0M281.5 393.6h1.0M301.3 418.0h1.0M317.5 394.2h1.0M335.6 399.9h1.0M294.0 377.3h1.0M317.0 401.9h1.0M304.9 368.6h1.0M307.7 391.0h1.0M285.6 431.5h1.0M279.8 402.0h1.0M306.1 385.7h1.0M314.1 408.5h1.0M292.8 394.5h1.0M316.9 401.0h1.0M289.1 385.6h1.0M319.7 405.8h1.0M314.5 391.2h1.0M301.3 410.3h1.0M298.6 402.6h1.0M319.2 388.4h1.0M319.8 389.6h1.0M306.8 402.1h1.0M290.3 381.6h1.0M331.7 403.1h1.0M323.0 415.9h1.0M273.3 421.3h1.0M292.6 375.5h1.0M314.2 404.9h1.0M314.6 420.0h1.0M277.4 430.5h1.0M298.6 383.1h1.0M299.5 389.5h1.0M346.5 405.1h1.0M296.4 429.5h1.0M306.1 402.1h1.0M291.0 402.1h1.0M319.2 405.5h1.0M297.4 432.8h1.0M311.3 360.6h1.0M261.3 409.4h1.0M313.0 384.0h1.0M316.8 400.2h1.0M318.9 413.7h1.0M268.2 419.1h1.0M298.1 393.0h1.0M323.1 385.9h1.0M305.5 409.2h1.0M301.5 395.4h1.0M298.9 395.1h1.0M297.7 411.2h1.0M301.1 410.4h1.0M304.4 432.6h1.0M311.5 400.6h1.0M289.3 391.2h1.0M288.8 394.8h1.0M307.1 411.4h1.0M326.1 428.8h1.0M311.0 394.4h1.0M339.6 380.1h1.0M260.0 409.3h1.0M301.1 399.2h1.0M305.2 401.7h1.0M283.3 396.2h1.0M296.5 420.5h1.0M314.0 411.6h1.0M332.5 416.1h1.0M285.0 380.5h1.0M334.0 415.1h1.0M316.9 435.8h1.0M329.8 405.7h1.0M316.9 400.7h1.0M300.8 397.4h1.0M355.1 400.6h1.0M288.5 395.1h1.0M316.6 400.8h1.0M288.5 407.9h1.0M316.0 379.7h1.0M295.7 403.6h1.0M323.6 402.0h1.0M352.8 407.3h1.0M322.3 401.1h1.0M324.1 392.6h1.0M285.3 415.2h1.0M283.6 396.6h1.0M270.5 379.7h1.0M288.5 386.9h1.0M285.6 404.8h1.0M318.6 382.1h1.0M329.1 422.8h1.0M291.8 415.8h1.0M300.4 388.4h1.0M277.7 386.9h1.0M298.1 403.2h1.0M317.0 406.0h1.0M321.7 417.4h1.0M289.1 420.5h1.0M326.5 422.9h1.0M315.3 389.7h1.0M310.8 391.7h1.0M323.5 396.7h1.0M293.0 399.1h1.0M284.1 376.5h1.0M317.5 381.9h1.0M335.6 404.0h1.0M336.7 403.9h1.0M229.5 406.7h1.0M308.9 427.0h1.0M293.6 416.6h1.0M270.9 393.1h1.0M303.2 399.3h1.0M303.0 397.6h1.0M320.3 409.2h1.0M260.7 388.9h1.0M277.7 402.6h1.0M294.3 368.6h1.0M338.4 410.5h1.0M341.7 417.5h1.0M325.2 392.8h1.0M328.6 416.8h1.0M296.9 398.9h1.0M307.1 386.8h1.0M312.1 389.1h1.0M303.1 391.2h1.0M287.6 405.3h1.0M324.3 393.2h1.0M333.0 411.8h1.0M270.0 409.1h1.0M302.8 392.5h1.0M349.8 397.8h1.0M288.5 385.5h1.0M290.4 395.9h1.0M288.8 398.3h1.0M268.9 418.0h1.0M339.1 378.7h1.0M329.8 402.9h1.0M307.4 412.1h1.0M356.8 408.7h1.0M271.3 403.4h1.0M304.9 405.0h1.0M311.2 379.4h1.0M293.1 401.4h1.0M307.9 415.5h1.0M309.6 409.7h1.0M294.0 421.2h1.0M324.6 421.7h1.0M337.6 388.3h1.0M289.1 403.1h1.0M297.3 385.1h1.0M285.8 409.9h1.0M255.2 382.3h1.0M288.3 401.3h1.0M298.6 400.3h1.0M332.3 413.5h1.0M287.5 386.0h1.0M288.2 390.9h1.0M329.8 391.3h1.0M291.4 385.0h1.0M314.7 367.7h1.0M289.3 374.3h1.0M243.2 410.3h1.0M280.9 394.5h1.0M277.6 404.7h1.0M309.5 387.7h1.0M301.7 389.9h1.0M366.7 392.7h1.0M279.7 415.0h1.0M293.6 420.2h1.0M303.8 385.5h1.0M361.0 425.0h1.0M279.6 404.1h1.0M347.2 419.4h1.0M280.2 399.1h1.0M292.1 385.2h1.0M338.9 384.0h1.0M283.1 381.9h1.0M280.5 426.6h1.0M300.4 374.9h1.0M320.9 408.9h1.0M280.2 389.8h1.0M311.8 417.9h1.0M285.0 412.5h1.0M270.4 412.4h1.0M305.8 402.1h1.0M342.8 407.6h1.0M324.5 418.3h1.0M283.2 388.7h1.0M279.3 392.5h1.0M312.4 389.1h1.0M317.4 360.4h1.0M279.4 402.0h1.0M332.5 396.4h1.0M299.9 433.6h1.0M316.4 395.9h1.0M324.7 397.1h1.0M329.7 374.5h1.0M312.5 408.5h1.0M300.6 404.8h1.0M286.0 412.5h1.0M305.1 388.9h1.0M338.9 388.2h1.0M284.9 403.1h1.0M280.2 401.3h1.0M262.9 377.2h1.0M312.3 389.3h1.0M296.2 421.7h1.0M277.3 400.9h1.0M317.1 389.5h1.0M308.7 398.5h1.0M302.6 414.7h1.0M280.5 379.7h1.0M308.2 393.8h1.0M270.1 414.7h1.0M293.0 380.7h1.0M318.8 417.5h1.0M310.0 387.5h1.0M286.6 403.1h1.0M290.3 389.0h1.0M291.5 420.7h1.0M282.7 378.6h1.0M293.0 385.4h1.0M288.1 380.1h1.0M283.4 399.6h1.0M306.3 385.5h1.0M267.8 419.8h1.0M276.9 381.7h1.0M281.7 416.2h1.0M287.5 389.8h1.0M263.2 411.4h1.0M322.8 389.6h1.0M340.5 379.8h1.0M357.5 397.1h1.0M273.4 372.7h1.0M298.9 390.6h1.0M289.7 416.4h1.0M298.1 427.2h1.0M321.7 384.6h1.0M299.6 389.0h1.0M272.2 392.9h1.0M304.3 378.1h1.0M348.3 418.4h1.0M309.7 412.5h1.0M342.6 389.4h1.0M307.3 408.2h1.0M317.8 373.6h1.0M346.7 421.9h1.0M281.0 405.0h1.0M342.7 419.9h1.0M339.3 415.6h1.0M299.5 380.5h1.0M327.3 403.1h1.0M302.1 403.7h1.0M318.1 414.8h1.0M309.4 380.1h1.0M287.8 394.0h1.0M344.4 382.1h1.0M342.4 412.6h1.0M309.5 396.2h1.0M327.7 431.9h1.0M324.6 398.9h1.0M302.1 377.9h1.0M344.1 417.6h1.0M322.8 399.5h1.0M275.9 398.6h1.0M253.8 401.6h1.0M293.1 418.2h1.0M311.5 400.2h1.0M303.6 384.1h1.0M298.9 409.9h1.0M286.1 421.8h1.0M294.9 342.6h1.0M326.6 409.7h1.0M321.6 390.6h1.0M295.9 398.9h1.0M290.6 432.8h1.0M321.5 426.0h1.0M287.0 441.3h1.0M312.4 430.0h1.0M310.9 372.5h1.0M285.1 382.9h1.0M299.1 408.5h1.0M305.5 417.3h1.0M286.4 408.2h1.0M272.0 417.1h1.0M299.4 449.1h1.0M296.7 421.7h1.0M318.1 414.9h1.0M303.9 386.9h1.0M311.8 431.7h1.0M252.8 384.8h1.0M276.5 425.3h1.0M309.8 365.8h1.0M316.3 372.8h1.0M270.8 403.4h1.0M297.3 418.0h1.0M330.8 384.3h1.0M276.8 387.5h1.0M267.2 405.5h1.0M298.6 382.0h1.0M335.7 397.6h1.0M308.7 373.7h1.0M315.0 417.9h1.0M325.8 394.2h1.0M294.2 419.3h1.0M304.1 389.7h1.0M284.4 403.6h1.0M308.4 404.9h1.0M305.9 407.4h1.0M308.7 401.3h1.0M295.9 401.6h1.0M318.2 405.5h1.0M289.2 375.1h1.0M314.9 406.2h1.0M334.1 392.5h1.0M294.3 407.2h1.0M310.9 388.7h1.0M281.8 362.9h1.0M294.7 410.3h1.0M319.0 407.6h1.0M282.8 408.9h1.0M289.1 379.0h1.0M264.4 403.9h1.0M284.4 406.4h1.0M321.5 403.6h1.0M324.2 387.8h1.0M317.6 419.8h1.0M279.9 415.4h1.0M298.7 384.5h1.0M321.1 407.4h1.0M316.8 426.4h1.0M309.1 384.1h1.0M325.0 370.6h1.0M282.9 404.3h1.0M311.6 398.2h1.0M314.4 385.6h1.0M283.0 406.7h1.0M292.1 399.5h1.0M332.8 405.8h1.0M314.6 414.2h1.0M278.7 380.1h1.0M301.0 377.0h1.0M300.8 412.3h1.0M299.5 410.6h1.0M323.3 396.7h1.0M322.7 397.8h1.0M334.0 429.6h1.0M281.4 426.8h1.0M323.3 412.6h1.0M284.4 396.9h1.0M324.6 430.8h1.0M319.9 388.3h1.0M338.9 400.2h1.0M322.8 386.5h1.0M302.8 416.7h1.0M313.6 409.9h1.0M323.3 426.3h1.0M269.5 396.3h1.0M283.0 408.1h1.0M309.0 388.8h1.0M317.1 373.0h1.0M318.8 384.6h1.0M281.6 418.5h1.0M330.7 385.2h1.0M304.2 379.3h1.0M316.0 407.2h1.0M314.3 409.8h1.0M292.0 405.5h1.0M282.9 426.3h1.0M344.6 392.4h1.0M306.5 406.6h1.0M340.9 417.4h1.0M280.9 393.0h1.0M290.2 402.3h1.0M287.0 379.8h1.0M325.5 388.5h1.0M302.3 400.1h1.0M285.3 376.0h1.0M321.6 384.7h1.0M283.0 378.5h1.0M268.5 378.4h1.0M285.9 405.7h1.0M282.7 399.1h1.0M282.6 368.8h1.0M290.3 381.2h1.0M271.0 411.2h1.0M301.6 423.2h1.0M285.2 375.5h1.0M309.6 399.8h1.0M309.5 397.5h1.0M303.6 386.5h1.0M289.9 397.5h1.0M297.0 382.9h1.0M288.8 409.0h1.0M298.2 374.5h1.0M320.8 396.0h1.0M325.3 407.0h1.0M331.0 415.3h1.0M306.1 388.5h1.0M325.3 405.9h1.0M268.9 383.6h1.0M334.5 391.9h1.0M323.5 400.4h1.0M285.1 407.4h1.0M305.6 411.1h1.0M309.6 392.7h1.0M294.4 431.6h1.0M290.9 395.4h1.0M290.6 408.4h1.0M301.8 414.1h1.0M294.2 418.6h1.0M281.6 409.0h1.0M311.6 411.8h1.0M314.9 400.9h1.0M308.5 399.7h1.0M314.0 411.7h1.0M343.6 410.5h1.0M317.0 415.3h1.0M300.8 379.7h1.0M289.3 429.5h1.0M309.6 419.3h1.0M325.0 414.9h1.0M287.1 420.4h1.0M314.5 401.8h1.0M287.3 424.7h1.0M270.2 419.5h1.0M292.0 424.6h1.0M334.4 401.0h1.0M304.4 391.1h1.0M277.8 379.4h1.0M310.6 418.2h1.0M315.1 387.4h1.0M312.3 388.9h1.0M278.2 418.1h1.0M321.9 404.7h1.0M288.4 401.0h1.0M343.6 387.7h1.0M268.0 406.5h1.0M284.3 372.3h1.0M296.0 389.4h1.0M276.8 413.7h1.0M299.7 420.9h1.0M279.6 393.1h1.0M279.4 401.1h1.0M312.2 401.2h1.0M265.5 379.4h1.0M318.9 416.3h1.0M300.9 409.2h1.0M266.5 413.5h1.0M318.8 410.7h1.0M331.8 391.4h1.0M295.2 408.0h1.0M336.6 431.1h1.0M309.7 401.9h1.0M307.9 390.7h1.0M324.0 378.4h1.0M283.1 430.0h1.0M315.7 363.8h1.0M291.6 396.4h1.0M305.6 411.0h1.0M306.4 383.6h1.0M276.3 428.2h1.0M302.9 414.8h1.0M287.2 425.3h1.0M305.3 407.9h1.0M304.0 385.7h1.0M277.7 428.6h1.0M283.6 402.3h1.0M336.7 390.9h1.0M338.8 397.7h1.0M300.2 392.4h1.0M310.9 403.2h1.0M313.2 377.3h1.0M279.6 406.0h1.0M324.7 393.5h1.0M305.6 401.7h1.0M298.1 397.3h1.0M329.1 410.5h1.0M309.0 390.4h1.0M272.7 427.6h1.0M292.3 423.6h1.0M290.2 401.3h1.0M283.8 393.1h1.0M287.7 382.3h1.0M288.2 397.2h1.0M289.3 423.5h1.0M338.3 383.6h1.0M306.8 417.1h1.0M320.9 402.0h1.0M324.2 406.9h1.0M336.9 401.8h1.0M307.7 393.1h1.0M305.0 397.9h1.0M311.3 405.7h1.0M278.6 409.6h1.0M290.9 417.0h1.0M330.0 421.6h1.0M318.7 395.2h1.0M300.2 410.8h1.0M291.8 400.0h1.0M312.6 383.9h1.0M268.0 406.2h1.0M282.7 405.9h1.0M340.0 383.3h1.0M312.5 418.9h1.0M307.6 419.5h1.0M289.8 401.5h1.0M300.5 395.4h1.0M285.4 410.3h1.0M312.5 393.1h1.0M311.0 362.5h1.0M302.5 401.4h1.0M336.6 398.0h1.0M318.0 388.3h1.0M273.8 399.0h1.0M319.3 391.3h1.0M344.4 398.2h1.0M304.8 418.0h1.0M330.3 410.8h1.0M312.6 389.9h1.0M288.9 390.9h1.0M292.2 427.0h1.0M295.3 397.2h1.0M275.3 400.5h1.0M302.9 403.9h1.0M287.4 398.6h1.0M338.7 430.0h1.0M305.6 438.2h1.0M280.0 395.6h1.0M276.7 424.7h1.0M330.2 422.1h1.0M302.5 381.0h1.0M277.7 391.3h1.0M291.4 440.8h1.0M308.4 415.9h1.0M305.1 395.8h1.0M347.0 388.7h1.0M312.8 393.8h1.0M293.4 398.2h1.0M262.1 420.0h1.0M315.9 418.5h1.0M313.5 411.9h1.0M301.8 406.6h1.0M323.8 383.8h1.0M305.7 383.8h1.0M310.0 426.2h1.0M350.3 387.8h1.0M280.4 381.5h1.0M324.3 409.2h1.0M325.6 405.4h1.0M291.5 393.7h1.0M362.5 417.2h1.0M271.3 427.5h1.0M314.7 406.1h1.0M282.4 371.4h1.0M280.3 390.1h1.0M305.8 386.5h1.0M297.6 411.7h1.0M314.9 380.0h1.0M304.1 425.9h1.0M293.9 398.3h1.0M296.1 377.3h1.0M286.3 400.3h1.0M309.5 418.9h1.0M327.3 400.9h1.0M300.4 401.9h1.0M299.6 388.1h1.0M307.1 418.4h1.0M267.3 385.9h1.0M264.7 414.5h1.0M296.5 393.3h1.0M324.5 410.9h1.0M332.9 413.4h1.0M327.1 409.6h1.0M306.3 377.9h1.0M295.5 372.6h1.0M305.2 389.3h1.0M292.4 388.4h1.0M304.0 411.5h1.0M313.1 401.1h1.0M298.7 408.4h1.0M268.8 391.8h1.0M335.4 385.7h1.0M354.4 403.4h1.0M286.9 415.6h1.0M282.6 400.9h1.0M329.2 383.3h1.0M273.3 412.2h1.0M283.7 397.4h1.0M315.5 384.1h1.0M355.5 404.9h1.0M327.3 397.8h1.0M277.5 404.6h1.0M348.5 435.3h1.0M286.8 435.8h1.0M317.3 400.5h1.0M272.6 415.7h1.0M315.7 386.4h1.0M313.6 366.6h1.0M276.5 403.2h1.0M276.9 412.4h1.0M324.0 383.5h1.0M319.1 407.4h1.0M286.1 398.7h1.0M303.0 377.8h1.0M313.8 391.9h1.0M283.3 392.4h1.0M268.1 390.5h1.0M304.5 416.5h1.0M303.9 408.9h1.0M314.4 409.7h1.0M287.2 390.7h1.0M286.7 356.2h1.0M288.2 379.7h1.0M302.9 419.6h1.0M331.3 415.2h1.0M306.6 397.8h1.0M289.9 368.8h1.0M333.1 398.7h1.0M299.1 397.7h1.0M322.8 381.5h1.0M338.6 392.7h1.0M342.7 414.9h1.0M290.5 400.8h1.0M284.5 395.9h1.0M284.6 397.4h1.0M308.0 415.2h1.0M326.6 373.5h1.0M278.2 389.2h1.0M294.4 385.2h1.0M297.4 374.7h1.0M291.2 416.9h1.0M314.6 438.0h1.0M341.1 399.3h1.0M294.8 400.7h1.0M291.8 422.4h1.0M287.6 391.0h1.0M298.2 397.9h1.0M319.0 385.1h1.0M292.5 399.9h1.0M330.0 447.1h1.0M301.4 407.6h1.0M280.6 402.3h1.0M297.7 400.4h1.0M314.6 394.6h1.0M300.5 424.7h1.0M279.9 403.7h1.0M311.8 407.6h1.0M284.7 404.7h1.0M293.4 410.9h1.0M318.6 404.9h1.0M319.0 377.0h1.0M312.1 408.6h1.0M287.9 397.6h1.0M334.8 409.5h1.0M295.5 393.3h1.0M360.2 381.8h1.0M288.0 402.4h1.0M284.0 393.5h1.0M298.7 392.0h1.0M322.6 417.3h1.0M279.1 407.2h1.0M309.2 382.2h1.0M281.5 411.9h1.0M301.5 397.1h1.0M323.6 415.3h1.0M323.1 411.7h1.0M286.8 417.1h1.0M307.5 392.4h1.0M313.0 397.7h1.0M291.0 400.9h1.0M293.1 365.4h1.0M302.5 383.9h1.0M309.7 353.0h1.0M306.3 404.5h1.0M365.5 393.3h1.0M292.3 409.0h1.0M298.9 393.1h1.0M327.1 373.8h1.0M313.8 417.8h1.0M254.6 378.6h1.0M299.9 418.2h1.0M324.8 379.9h1.0M304.2 399.7h1.0M290.1 416.3h1.0M306.8 410.1h1.0M331.8 393.7h1.0M312.1 410.7h1.0M288.3 395.7h1.0M283.7 384.9h1.0M275.9 403.7h1.0M311.2 394.9h1.0M328.6 363.1h1.0M314.6 408.8h1.0M334.1 405.1h1.0M296.3 388.6h1.0M342.1 409.1h1.0M276.6 405.6h1.0M327.2 422.9h1.0M301.2 383.0h1.0M299.6 386.7h1.0M285.1 405.6h1.0M294.9 415.5h1.0M320.0 393.8h1.0M288.6 409.2h1.0M310.7 403.0h1.0M289.5 403.2h1.0M266.5 410.3h1.0M317.6 372.5h1.0M290.9 382.9h1.0M302.7 409.5h1.0M336.1 411.5h1.0M336.4 440.7h1.0M286.4 401.5h1.0M304.4 419.5h1.0M326.0 406.0h1.0M298.6 425.0h1.0M274.5 407.6h1.0M328.9 380.2h1.0M348.2 393.3h1.0M318.1 402.4h1.0M294.7 408.8h1.0M281.9 378.9h1.0M289.3 418.5h1.0M295.1 408.1h1.0M296.0 402.2h1.0M283.9 371.0h1.0M289.0 394.8h1.0M319.6 381.4h1.0M298.6 425.7h1.0M304.8 400.7h1.0M305.6 414.2h1.0M330.3 419.9h1.0M330.9 383.9h1.0M306.2 392.8h1.0M272.2 383.3h1.0M331.4 429.1h1.0M317.9 392.7h1.0M298.4 385.3h1.0M329.3 407.3h1.0M309.5 408.3h1.0M296.6 406.1h1.0M347.5 400.1h1.0M343.1 409.1h1.0M245.9 412.4h1.0M333.4 423.0h1.0M301.2 368.2h1.0M342.9 381.3h1.0M278.7 405.9h1.0M315.3 388.5h1.0M292.8 403.3h1.0M303.0 380.2h1.0M303.7 408.0h1.0M315.6 412.6h1.0M282.4 385.2h1.0M291.8 411.2h1.0M308.8 418.3h1.0M284.7 416.0h1.0M306.7 404.9h1.0M279.1 410.3h1.0M304.6 409.7h1.0M275.9 394.3h1.0M267.6 401.5h1.0M297.1 410.1h1.0M332.9 421.1h1.0M320.5 386.0h1.0M330.9 372.0h1.0M313.3 410.2h1.0M303.0 422.2h1.0M316.9 370.1h1.0M280.3 394.7h1.0M302.0 415.4h1.0M286.0 427.6h1.0M330.3 394.2h1.0M311.7 425.4h1.0M292.2 413.1h1.0M303.8 418.7h1.0M322.8 379.5h1.0M302.0 355.4h1.0M307.2 396.9h1.0M314.8 384.3h1.0M302.6 416.6h1.0M353.2 393.2h1.0M312.3 409.0h1.0M290.1 384.7h1.0M291.7 419.5h1.0M355.6 401.6h1.0M308.4 384.5h1.0M281.8 424.6h1.0M267.0 417.6h1.0M317.8 393.3h1.0M358.8 396.6h1.0M318.0 412.6h1.0M299.3 435.5h1.0M330.1 401.9h1.0M298.2 404.6h1.0M298.0 386.6h1.0M299.6 395.0h1.0M292.9 409.1h1.0M275.0 393.4h1.0M308.6 406.8h1.0M349.8 399.5h1.0M274.1 403.2h1.0M281.2 388.2h1.0M315.3 387.9h1.0M298.2 420.1h1.0M302.2 402.8h1.0M310.4 393.7h1.0M318.1 416.7h1.0M308.3 413.3h1.0M318.4 398.0h1.0M320.7 409.4h1.0M292.9 406.3h1.0M323.5 386.4h1.0M306.2 396.7h1.0M281.5 410.1h1.0M337.8 386.3h1.0M291.3 389.1h1.0M318.9 394.0h1.0M292.6 411.6h1.0M327.6 392.0h1.0M272.9 403.2h1.0M296.6 412.4h1.0M296.2 414.5h1.0M291.2 384.1h1.0M350.2 403.2h1.0M271.9 397.7h1.0M288.0 402.3h1.0M296.0 413.3h1.0M332.9 423.0h1.0M305.2 405.9h1.0M285.3 391.6h1.0M308.8 374.1h1.0M290.3 384.8h1.0M294.2 408.1h1.0M348.0 402.5h1.0M289.0 401.5h1.0M302.1 371.3h1.0M308.3 435.1h1.0M263.6 388.9h1.0M302.4 373.0h1.0M273.9 405.7h1.0M254.0 367.1h1.0M311.9 413.7h1.0M301.0 397.0h1.0M315.3 376.5h1.0M262.1 372.0h1.0M340.6 397.0h1.0M332.8 391.1h1.0M282.8 392.0h1.0M311.5 402.6h1.0M295.4 377.9h1.0M318.4 398.6h1.0M309.3 410.6h1.0M306.5 400.4h1.0M307.7 400.5h1.0M288.8 385.9h1.0M284.1 405.2h1.0M294.8 387.4h1.0M316.8 371.4h1.0M297.5 428.5h1.0M306.3 377.0h1.0M282.5 392.3h1.0M305.8 398.5h1.0M317.6 377.5h1.0M304.6 401.0h1.0M283.9 399.8h1.0M337.5 404.7h1.0M317.3 422.6h1.0M286.4 370.7h1.0M324.4 412.0h1.0M299.0 411.1h1.0M316.6 396.6h1.0M300.5 397.9h1.0M270.3 372.5h1.0M296.0 408.2h1.0M352.6 392.8h1.0M332.5 399.3h1.0M308.9 396.4h1.0M293.8 398.9h1.0M280.7 388.9h1.0M294.7 412.6h1.0M320.5 405.8h1.0M329.9 396.0h1.0M343.3 436.7h1.0M274.6 426.9h1.0M288.9 406.2h1.0M314.7 381.7h1.0M289.6 395.6h1.0M321.0 394.6h1.0M289.4 392.0h1.0M318.6 410.2h1.0M291.8 405.7h1.0M336.1 404.7h1.0M301.9 389.5h1.0M292.1 435.5h1.0M318.2 397.9h1.0M293.6 416.5h1.0M377.4 418.8h1.0M315.0 399.1h1.0M303.9 394.8h1.0M267.7 400.3h1.0M325.7 343.0h1.0M327.3 405.4h1.0M284.2 437.3h1.0M288.3 399.8h1.0M322.0 398.7h1.0M336.1 383.6h1.0M272.6 399.8h1.0M280.8 387.1h1.0M316.6 392.9h1.0M341.1 401.9h1.0M277.2 392.4h1.0M307.3 410.4h1.0M341.7 401.9h1.0M300.4 367.6h1.0M327.2 397.8h1.0M324.2 420.8h1.0M309.4 393.1h1.0M279.8 413.0h1.0M318.4 433.3h1.0M312.0 389.2h1.0M328.4 387.4h1.0M279.1 414.6h1.0M321.2 434.0h1.0M356.4 375.1h1.0M303.5 411.1h1.0M274.1 392.7h1.0M310.7 399.0h1.0M271.4 379.8h1.0M305.4 373.0h1.0M317.5 401.1h1.0M313.9 416.5h1.0M333.5 407.7h1.0M295.2 405.4h1.0M311.7 381.8h1.0M319.1 367.2h1.0M300.5 408.2h1.0M297.4 385.6h1.0M314.9 404.5h1.0M308.6 424.7h1.0M301.0 405.5h1.0M298.4 385.8h1.0M304.6 391.2h1.0M308.1 404.3h1.0M316.5 406.9h1.0M266.0 378.0h1.0M291.0 391.0h1.0M294.9 392.3h1.0M327.2 403.4h1.0M323.2 421.7h1.0M291.3 407.1h1.0M288.4 417.4h1.0M297.6 401.5h1.0M308.2 399.0h1.0M284.1 395.1h1.0M282.1 389.4h1.0M295.7 418.3h1.0M313.1 399.7h1.0M330.3 413.1h1.0M322.9 403.4h1.0M282.9 422.6h1.0M273.5 390.6h1.0M332.6 425.6h1.0M270.2 384.4h1.0M296.1 392.1h1.0M289.5 378.2h1.0M321.8 387.1h1.0M291.8 380.7h1.0M349.6 450.9h1.0M286.0 412.1h1.0M282.5 412.0h1.0M300.1 394.6h1.0M316.3 402.1h1.0M288.1 388.8h1.0M311.8 411.6h1.0M302.8 395.3h1.0M266.0 387.6h1.0M297.1 412.7h1.0M276.3 403.8h1.0M321.6 372.2h1.0M320.0 390.0h1.0M295.9 409.2h1.0M337.4 376.0h1.0M306.8 366.7h1.0M313.2 389.1h1.0M308.5 392.3h1.0M267.8 403.4h1.0M303.9 383.6h1.0M342.4 385.0h1.0M269.5 416.5h1.0M315.0 406.5h1.0M306.2 397.0h1.0M343.9 430.3h1.0M351.0 422.7h1.0M294.9 405.2h1.0M280.5 402.2h1.0M347.1 430.2h1.0M317.3 415.6h1.0M287.0 401.2h1.0M302.8 387.0h1.0M268.6 417.4h1.0M349.1 399.0h1.0M282.6 363.7h1.0M319.8 375.7h1.0M265.2 405.8h1.0M327.4 414.1h1.0M303.5 411.8h1.0M276.9 409.1h1.0M317.7 356.7h1.0M308.9 441.9h1.0M295.6 384.4h1.0M318.0 401.9h1.0M298.5 373.2h1.0M299.2 401.1h1.0M317.8 383.1h1.0M305.3 388.0h1.0M287.2 398.8h1.0M290.5 387.6h1.0M287.9 391.9h1.0M340.6 410.0h1.0M380.0 410.3h1.0M354.6 395.4h1.0M268.3 370.6h1.0M237.6 402.7h1.0M292.1 420.9h1.0M298.1 388.5h1.0M318.4 431.8h1.0M301.7 413.5h1.0M318.4 424.0h1.0M342.6 401.4h1.0M299.3 400.6h1.0M306.4 425.4h1.0M288.9 410.5h1.0M259.4 420.4h1.0M275.3 374.0h1.0M310.5 397.1h1.0M328.2 419.5h1.0M297.9 411.3h1.0M313.0 368.9h1.0M261.4 421.4h1.0M323.0 419.0h1.0M326.7 380.7h1.0M268.3 405.3h1.0M289.2 419.4h1.0M317.7 397.6h1.0M312.3 405.5h1.0M325.2 389.8h1.0M273.5 377.3h1.0M334.2 404.0h1.0M264.5 448.2h1.0M336.2 388.5h1.0M280.6 386.8h1.0M320.3 390.6h1.0M257.1 401.6h1.0M322.4 365.9h1.0M320.6 446.9h1.0M312.9 388.1h1.0M301.5 397.0h1.0M312.7 397.5h1.0M363.3 390.6h1.0M282.3 399.1h1.0M323.6 388.6h1.0M319.8 429.2h1.0M287.6 390.2h1.0M313.0 426.9h1.0M306.4 413.5h1.0M301.0 452.6h1.0M307.5 348.3h1.0M326.6 403.5h1.0M280.3 381.9h1.0M297.4 383.3h1.0M283.1 417.1h1.0M291.4 379.0h1.0M306.7 404.9h1.0M315.9 391.9h1.0M336.3 397.4h1.0M282.5 341.7h1.0M270.8 407.2h1.0M297.0 399.2h1.0M338.0 437.5h1.0M259.9 393.6h1.0M296.3 370.6h1.0M269.4 389.0h1.0M350.0 412.8h1.0M328.6 401.7h1.0M272.7 399.6h1.0M323.0 433.2h1.0M287.9 442.6h1.0M318.4 369.1h1.0M279.1 434.6h1.0M293.2 431.1h1.0M301.3 396.1h1.0M346.9 417.8h1.0M316.6 404.9h1.0M284.3 403.5h1.0M275.6 425.3h1.0M289.0 422.2h1.0M254.0 361.6h1.0M251.8 426.4h1.0M301.5 425.5h1.0M360.2 387.6h1.0M311.1 404.0h1.0M357.8 383.7h1.0M302.3 416.5h1.0M280.8 435.7h1.0M315.2 403.1h1.0M328.5 386.9h1.0M337.9 422.6h1.0M305.3 407.7h1.0M307.7 407.3h1.0M278.7 388.8h1.0M244.8 412.4h1.0M319.9 401.6h1.0M364.7 422.7h1.0M329.4 458.4h1.0M321.3 389.2h1.0M299.3 364.3h1.0M304.6 394.8h1.0M257.7 398.6h1.0M290.2 384.9h1.0M284.9 402.4h1.0M291.8 377.6h1.0M322.5 391.7h1.0M320.9 376.2h1.0M304.6 382.4h1.0M339.7 347.4h1.0M262.2 401.5h1.0M336.7 440.8h1.0M310.6 411.1h1.0M317.7 417.9h1.0M300.5 403.7h1.0M322.4 406.6h1.0M286.0 436.4h1.0M323.3 427.4h1.0M302.2 382.4h1.0M322.8 376.3h1.0M324.6 405.7h1.0M282.7 418.1h1.0M258.3 353.7h1.0M307.0 398.7h1.0M358.3 402.5h1.0M313.9 414.8h1.0M327.3 387.4h1.0M280.4 396.9h1.0M349.2 423.8h1.0M293.4 388.3h1.0M314.3 412.7h1.0M338.7 383.5h1.0M360.7 439.0h1.0M311.1 385.5h1.0M325.8 423.4h1.0M270.1 423.8h1.0M335.1 398.3h1.0M260.5 403.4h1.0M309.4 407.3h1.0M257.1 404.0h1.0M353.7 357.2h1.0M363.7 428.5h1.0M320.7 409.8h1.0M305.9 393.8h1.0M262.1 402.6h1.0M308.5 373.7h1.0M287.7 331.8h1.0M356.3 394.9h1.0M296.6 392.9h1.0M311.9 442.3h1.0M344.9 412.0h1.0M331.1 382.7h1.0M290.7 401.5h1.0M273.2 374.8h1.0M319.9 425.9h1.0M293.6 404.9h1.0M235.6 443.0h1.0M322.2 370.2h1.0M316.3 365.0h1.0M293.0 391.0h1.0M290.3 396.0h1.0M340.6 391.9h1.0M297.2 383.4h1.0M293.3 389.7h1.0M315.8 371.7h1.0M333.6 413.7h1.0M289.0 388.6h1.0M319.5 425.4h1.0M328.4 407.7h1.0M258.1 413.9h1.0M301.1 410.3h1.0M289.9 457.6h1.0M320.3 394.6h1.0M283.3 424.3h1.0M321.3 414.5h1.0M286.5 404.9h1.0M285.9 383.2h1.0M304.6 408.3h1.0M317.7 396.0h1.0M297.7 400.4h1.0M298.7 386.2h1.0M287.6 410.7h1.0M305.5 392.2h1.0M336.8 365.0h1.0M297.6 407.0h1.0M327.0 395.4h1.0M314.7 391.7h1.0M283.0 379.9h1.0M335.8 401.6h1.0M266.1 420.1h1.0M325.9 405.4h1.0M331.8 351.6h1.0M330.6 418.1h1.0M301.8 422.1h1.0M335.7 434.5h1.0M353.6 417.9h1.0M278.4 436.6h1.0M270.6 406.0h1.0M297.3 378.7h1.0M307.3 402.3h1.0M321.8 407.9h1.0M306.1 394.0h1.0M280.0 371.5h1.0M266.4 417.2h1.0M278.0 415.0h1.0M284.3 392.9h1.0M296.9 386.0h1.0M287.1 389.4h1.0M334.4 434.1h1.0M348.5 381.3h1.0M283.9 380.4h1.0M285.3 435.7h1.0M318.6 430.2h1.0M322.5 407.1h1.0M340.4 386.0h1.0M307.5 367.6h1.0M299.3 402.8h1.0M324.4 408.8h1.0M317.5 381.9h1.0M294.2 384.4h1.0M279.4 375.3h1.0M277.2 379.0h1.0M344.7 397.4h1.0M300.4 414.0h1.0M374.0 430.6h1.0M283.5 422.9h1.0M292.7 424.0h1.0M326.3 380.1h1.0M333.4 420.9h1.0M344.0 380.4h1.0M286.8 409.1h1.0M318.0 400.8h1.0M276.0 384.3h1.0M383.0 404.1h1.0M368.6 359.1h1.0M309.7 407.1h1.0M319.8 392.6h1.0M296.7 431.2h1.0M322.9 418.3h1.0M267.0 403.6h1.0M289.7 413.5h1.0M269.2 426.5h1.0M313.8 389.9h1.0M357.1 412.3h1.0M305.8 425.1h1.0M277.2 385.8h1.0M307.8 413.4h1.0M304.7 360.2h1.0M311.5 442.4h1.0M239.5 410.1h1.0M295.3 456.9h1.0M291.0 414.1h1.0M296.6 381.2h1.0M357.1 411.0h1.0M279.2 404.8h1.0M257.8 418.7h1.0M316.8 424.4h1.0M316.3 425.1h1.0M263.7 377.6h1.0M273.6 402.5h1.0M272.4 373.9h1.0M352.0 379.1h1.0M303.7 438.6h1.0M304.9 405.8h1.0M267.4 407.4h1.0M287.5 368.7h1.0M317.4 397.9h1.0M343.7 373.9h1.0M315.2 406.6h1.0M302.3 390.4h1.0M321.8 410.3h1.0M288.7 425.4h1.0M274.4 386.6h1.0M293.9 382.5h1.0M327.8 426.8h1.0M339.7 353.1h1.0M289.1 390.8h1.0M266.6 427.8h1.0M349.8 387.5h1.0M314.4 368.1h1.0M259.8 370.5h1.0M270.2 396.6h1.0M320.6 364.6h1.0M306.9 404.3h1.0M274.5 378.6h1.0M280.0 393.6h1.0M334.0 351.9h1.0M334.0 403.8h1.0M329.1 436.6h1.0M333.5 377.1h1.0M301.4 402.8h1.0M302.3 417.3h1.0M270.5 359.9h1.0M329.8 416.8h1.0M328.3 428.5h1.0M285.8 411.9h1.0M287.4 426.5h1.0M339.8 421.2h1.0M304.6 382.4h1.0M322.1 404.3h1.0M324.4 390.9h1.0M302.5 419.2h1.0M295.7 413.2h1.0M322.5 420.4h1.0M348.3 381.3h1.0M280.2 404.7h1.0M331.2 390.1h1.0M269.2 410.8h1.0M295.8 433.6h1.0M257.3 405.7h1.0M304.0 410.7h1.0M331.0 369.6h1.0M300.3 412.5h1.0M319.2 421.5h1.0M281.2 411.3h1.0M317.0 403.5h1.0M314.8 420.2h1.0M298.1 410.3h1.0M304.2 433.5h1.0M263.5 376.0h1.0M280.5 400.6h1.0M282.5 416.8h1.0M330.4 401.9h1.0M303.0 395.8h1.0M301.4 398.2h1.0M322.3 392.9h1.0M367.4 411.5h1.0M342.1 417.3h1.0M334.9 474.0h1.0M279.5 397.6h1.0M325.7 418.7h1.0M271.9 365.5h1.0M330.0 424.4h1.0M245.3 378.7h1.0M309.9 392.5h1.0M245.7 415.1h1.0M312.1 390.8h1.0M290.5 393.6h1.0M324.3 411.4h1.0M311.3 401.7h1.0M272.9 408.4h1.0M272.9 393.2h1.0M276.2 398.4h1.0M330.5 415.2h1.0M298.6 396.5h1.0M311.8 431.3h1.0M284.2 382.4h1.0M294.9 393.3h1.0M333.1 453.4h1.0M283.2 409.6h1.0M346.6 410.2h1.0M333.5 398.7h1.0M296.6 365.2h1.0M285.8 381.1h1.0M322.5 429.3h1.0M240.8 373.2h1.0M275.7 396.7h1.0M325.3 424.0h1.0M343.8 411.8h1.0M282.6 414.7h1.0M278.5 367.8h1.0M313.4 389.7h1.0M294.0 438.6h1.0M325.2 367.0h1.0M272.7 391.4h1.0M308.5 402.9h1.0M284.5 367.2h1.0M310.9 371.7h1.0M334.1 377.6h1.0M339.4 407.5h1.0M316.2 415.3h1.0M315.3 343.6h1.0M345.0 368.7h1.0M267.6 359.6h1.0M301.0 353.9h1.0M348.4 383.6h1.0M293.6 391.3h1.0M305.0 398.9h1.0M274.6 386.9h1.0M324.4 409.4h1.0M298.1 411.2h1.0M335.0 395.3h1.0M303.3 422.2h1.0M291.8 438.2h1.0M276.3 382.9h1.0M270.2 378.6h1.0M310.8 386.6h1.0M266.2 381.5h1.0M301.8 438.6h1.0M295.3 360.7h1.0M305.8 388.0h1.0M329.5 403.3h1.0M270.4 368.1h1.0M255.4 409.3h1.0M306.4 388.0h1.0M285.2 444.4h1.0M311.8 376.4h1.0M297.7 405.5h1.0M314.0 377.6h1.0M287.0 387.4h1.0M291.2 409.5h1.0M301.5 390.9h1.0M301.8 397.8h1.0M380.3 355.2h1.0M309.4 403.6h1.0M266.0 424.6h1.0M323.8 382.6h1.0M301.8 396.4h1.0M320.1 394.3h1.0M334.4 425.8h1.0M281.2 431.1h1.0M328.8 402.9h1.0M278.1 440.0h1.0M332.6 400.4h1.0M262.1 429.9h1.0M313.3 398.6h1.0M304.4 387.3h1.0M295.5 413.4h1.0M290.7 374.0h1.0M306.2 335.8h1.0M294.7 417.3h1.0M355.3 382.1h1.0M311.4 404.1h1.0M292.7 410.0h1.0M281.5 380.8h1.0M250.7 378.4h1.0M338.5 409.3h1.0M337.2 400.1h1.0M314.0 406.3h1.0M303.6 362.4h1.0M320.0 398.0h1.0M341.4 394.7h1.0M348.2 398.3h1.0M292.4 347.3h1.0M305.5 403.5h1.0M260.9 379.7h1.0M299.4 411.1h1.0M347.8 436.5h1.0M333.4 395.3h1.0M310.8 397.6h1.0M313.6 395.9h1.0M287.1 381.7h1.0M281.9 413.9h1.0M359.5 436.8h1.0M272.8 380.9h1.0M301.2 406.6h1.0M316.6 388.0h1.0M314.4 384.1h1.0M275.4 372.6h1.0M309.5 368.3h1.0M302.4 407.9h1.0M331.7 409.0h1.0M262.6 417.9h1.0M265.5 403.1h1.0M337.8 370.7h1.0M271.2 403.7h1.0M289.8 397.9h1.0M294.9 386.2h1.0M261.2 382.4h1.0M310.3 378.4h1.0M308.2 388.7h1.0M277.3 390.9h1.0M294.6 447.2h1.0M304.7 409.7h1.0M284.1 395.0h1.0M339.4 370.0h1.0M265.4 376.4h1.0M312.3 416.8h1.0M305.9 375.8h1.0M265.0 397.0h1.0M267.6 409.1h1.0M305.2 365.7h1.0M313.3 416.5h1.0M233.6 374.8h1.0M289.7 374.8h1.0M367.3 358.3h1.0M302.2 410.0h1.0M301.1 372.5h1.0M297.0 395.1h1.0M311.4 359.7h1.0M318.4 403.7h1.0M310.3 390.3h1.0M313.9 390.7h1.0M273.9 439.9h1.0M325.5 401.1h1.0M327.6 376.7h1.0M333.4 403.8h1.0M331.9 442.3h1.0M296.2 376.8h1.0M336.1 398.9h1.0M283.2 398.0h1.0M293.8 378.1h1.0M300.6 382.5h1.0M258.7 419.2h1.0M335.7 390.6h1.0M326.1 386.8h1.0M284.3 434.0h1.0M341.6 417.9h1.0M343.6 403.2h1.0M290.3 358.9h1.0M295.8 401.6h1.0M277.5 382.4h1.0M342.5 385.2h1.0M283.7 398.5h1.0M323.8 404.9h1.0M275.1 392.0h1.0M325.7 410.9h1.0M361.6 415.9h1.0M284.4 427.1h1.0M332.1 394.9h1.0M276.2 397.2h1.0M307.2 413.6h1.0M294.9 396.0h1.0M309.5 346.5h1.0M325.4 422.6h1.0M322.5 438.2h1.0M283.3 416.2h1.0M286.3 392.0h1.0M279.7 389.4h1.0M321.5 402.1h1.0M320.7 397.3h1.0M289.0 391.1h1.0M316.8 384.7h1.0M320.7 347.3h1.0M312.1 395.1h1.0M296.3 404.0h1.0M320.6 437.6h1.0M329.6 387.1h1.0M316.0 371.2h1.0M293.9 391.5h1.0M339.2 398.8h1.0M304.0 402.9h1.0M332.8 377.9h1.0M255.0 412.4h1.0M279.3 387.9h1.0M314.1 408.0h1.0M265.5 401.3h1.0M341.4 396.1h1.0M289.2 412.1h1.0M292.3 393.8h1.0M317.8 429.9h1.0M316.4 345.8h1.0M289.2 397.8h1.0M298.1 398.2h1.0M311.2 416.2h1.0M323.9 410.8h1.0M312.6 425.5h1.0M333.4 386.7h1.0M318.6 394.1h1.0M251.3 406.5h1.0M327.1 371.1h1.0M319.6 407.2h1.0M295.3 406.3h1.0M279.7 419.9h1.0M267.4 372.4h1.0M287.3 437.1h1.0M302.7 423.8h1.0M323.2 414.3h1.0M279.3 392.9h1.0M297.5 396.7h1.0M348.1 371.4h1.0M282.5 403.3h1.0M291.3 386.1h1.0M352.1 360.8h1.0M248.1 424.1h1.0M322.0 352.3h1.0M268.5 400.0h1.0M308.2 405.8h1.0M273.9 431.5h1.0M293.7 441.0h1.0M281.8 406.3h1.0M307.1 384.6h1.0M326.9 377.7h1.0M336.6 408.5h1.0M301.3 420.2h1.0M279.6 416.7h1.0M253.9 374.7h1.0M301.6 399.3h1.0M265.4 362.3h1.0M332.7 405.0h1.0M302.5 395.9h1.0M278.3 393.7h1.0M267.8 424.9h1.0M261.4 392.1h1.0M336.4 439.2h1.0M318.1 395.2h1.0M298.6 424.0h1.0M282.2 425.0h1.0M312.6 378.9h1.0M314.6 377.0h1.0M286.7 384.5h1.0M295.0 384.3h1.0M297.8 408.5h1.0M284.2 398.4h1.0M295.9 391.6h1.0M325.6 419.9h1.0M288.3 377.6h1.0M329.5 418.6h1.0M347.0 325.4h1.0M248.1 421.5h1.0M333.8 380.7h1.0M296.2 402.1h1.0M251.6 423.0h1.0M283.6 390.8h1.0M318.6 413.9h1.0M310.1 382.1h1.0M310.8 374.7h1.0M295.5 408.2h1.0M313.9 440.6h1.0M303.8 436.0h1.0M311.7 403.7h1.0M268.3 413.3h1.0M368.5 401.0h1.0M323.1 420.7h1.0M276.7 404.5h1.0M279.6 399.3h1.0M286.2 411.0h1.0M357.0 396.0h1.0M294.1 400.4h1.0M312.3 438.6h1.0M360.6 467.9h1.0M315.2 420.6h1.0M286.4 401.3h1.0M300.1 361.4h1.0M294.2 481.4h1.0M270.9 390.8h1.0M337.5 422.7h1.0M339.0 380.9h1.0M259.8 402.8h1.0M302.1 400.1h1.0M309.7 420.6h1.0M321.6 388.3h1.0M256.3 406.9h1.0M290.2 382.4h1.0M257.2 399.7h1.0M294.1 398.5h1.0M299.1 410.2h1.0M330.7 354.7h1.0M308.5 381.0h1.0M304.7 398.0h1.0M279.2 353.1h1.0M296.1 423.6h1.0M326.9 383.3h1.0M290.4 410.4h1.0M270.3 411.0h1.0M304.2 394.4h1.0M294.0 420.5h1.0M320.7 407.3h1.0M314.5 410.1h1.0M284.4 431.2h1.0M283.6 427.4h1.0M249.9 421.4h1.0M321.0 439.8h1.0M330.9 398.6h1.0M279.4 419.3h1.0M314.7 412.4h1.0M305.5 404.3h1.0M300.5 402.4h1.0M334.8 396.5h1.0M283.8 403.9h1.0M334.3 386.0h1.0M308.2 420.0h1.0M375.0 373.7h1.0M289.5 424.3h1.0M286.8 378.2h1.0M276.2 372.6h1.0M298.6 375.6h1.0M334.4 416.9h1.0M274.8 376.4h1.0M290.6 395.2h1.0M285.6 409.4h1.0M299.8 395.0h1.0M293.6 400.8h1.0M283.2 370.4h1.0M271.4 412.0h1.0M345.7 394.3h1.0M293.2 409.0h1.0M295.3 418.7h1.0M344.7 364.8h1.0M341.3 438.7h1.0M288.5 395.8h1.0M342.2 436.9h1.0M314.3 401.3h1.0M318.3 399.6h1.0M325.3 465.7h1.0M274.4 414.9h1.0M314.2 392.9h1.0M305.9 392.5h1.0M322.7 401.0h1.0M292.2 437.7h1.0M284.4 383.0h1.0M287.0 408.5h1.0M313.1 399.7h1.0M329.0 388.6h1.0M260.8 399.9h1.0M302.8 382.9h1.0M328.9 409.6h1.0M262.2 425.6h1.0M312.9 419.7h1.0M264.9 391.4h1.0M269.8 412.7h1.0M313.5 407.0h1.0M324.7 410.2h1.0M339.5 413.9h1.0M316.8 380.4h1.0M314.2 423.8h1.0M290.7 436.7h1.0M312.7 419.9h1.0M326.3 404.1h1.0M300.2 377.8h1.0M294.8 402.4h1.0M340.7 432.2h1.0M306.0 408.6h1.0M263.8 337.2h1.0M311.6 439.9h1.0M289.5 422.7h1.0M322.2 411.6h1.0M270.9 406.2h1.0M253.6 422.4h1.0M305.9 447.3h1.0M317.5 390.9h1.0M243.1 351.2h1.0M363.2 423.4h1.0M301.7 410.5h1.0M276.6 420.0h1.0M321.1 385.8h1.0M286.9 423.7h1.0M291.2 403.6h1.0M290.5 391.3h1.0M334.3 373.7h1.0M282.6 402.5h1.0M294.1 386.7h1.0M283.1 429.3h1.0M285.1 410.6h1.0M283.3 375.9h1.0M286.1 417.9h1.0M269.3 390.0h1.0M299.4 405.9h1.0M309.6 417.4h1.0M295.6 395.6h1.0M267.8 407.3h1.0M262.0 392.2h1.0M283.4 388.3h1.0M278.0 390.3h1.0M298.4 413.9h1.0M318.3 420.4h1.0M294.5 410.8h1.0M342.1 397.4h1.0M275.0 388.6h1.0M291.9 424.8h1.0M341.9 447.7h1.0M347.8 439.2h1.0M291.9 397.1h1.0M271.5 421.7h1.0M348.4 390.1h1.0M308.0 451.9h1.0M277.9 373.0h1.0M296.0 392.1h1.0M371.8 420.0h1.0M297.2 391.8h1.0M322.4 416.9h1.0M281.4 408.5h1.0M310.8 401.4h1.0M329.6 393.3h1.0M314.3 381.1h1.0M311.5 423.2h1.0M296.9 385.0h1.0M314.5 430.0h1.0M238.6 392.7h1.0M290.3 425.0h1.0M320.4 417.7h1.0M314.4 391.1h1.0M297.4 429.3h1.0M336.3 402.3h1.0M296.3 447.6h1.0M379.3 398.1h1.0M355.5 407.6h1.0M369.3 414.2h1.0M350.3 406.6h1.0M310.4 427.1h1.0M248.7 400.7h1.0M347.2 402.2h1.0M320.4 407.1h1.0M288.8 368.1h1.0M292.8 410.0h1.0M277.5 405.2h1.0M323.2 390.7h1.0M261.8 404.7h1.0M327.0 439.1h1.0M313.9 417.1h1.0M322.2 396.0h1.0M283.3 401.1h1.0M314.1 397.3h1.0M294.5 418.6h1.0M310.6 404.4h1.0M276.6 390.8h1.0M295.3 368.5h1.0M295.3 366.5h1.0M321.5 376.0h1.0M275.8 408.6h1.0M249.3 370.2h1.0M289.8 424.9h1.0M282.7 411.6h1.0M291.4 390.9h1.0M317.9 371.1h1.0M282.4 416.7h1.0M303.6 398.4h1.0M283.8 455.4h1.0M294.0 391.0h1.0M309.3 408.7h1.0M292.5 432.5h1.0M331.9 375.1h1.0M319.4 407.2h1.0M316.0 371.9h1.0M273.8 405.8h1.0M299.3 403.5h1.0M327.1 436.2h1.0M351.5 416.3h1.0M256.9 382.5h1.0M307.0 423.5h1.0M296.7 374.4h1.0M292.6 396.1h1.0M335.9 414.2h1.0M301.7 403.9h1.0M264.9 433.0h1.0M333.7 410.4h1.0M289.8 391.1h1.0M291.4 410.5h1.0M301.2 376.7h1.0M303.0 377.6h1.0M315.8 395.5h1.0M312.3 419.8h1.0M305.9 395.8h1.0M325.5 425.1h1.0M307.1 365.4h1.0M319.5 399.5h1.0M305.4 394.5h1.0M300.7 383.9h1.0M288.8 436.1h1.0M343.7 411.1h1.0M293.6 421.4h1.0M327.7 430.8h1.0M331.7 366.8h1.0M316.2 375.0h1.0M323.0 417.4h1.0M347.5 385.3h1.0M317.3 393.3h1.0M310.2 404.2h1.0M330.9 413.9h1.0M304.2 405.9h1.0M300.5 436.5h1.0M346.2 396.8h1.0M347.4 387.2h1.0M325.2 399.2h1.0M300.7 391.8h1.0M279.0 409.0h1.0M296.0 397.1h1.0M294.7 391.5h1.0M293.6 381.1h1.0M326.6 386.1h1.0M309.6 404.2h1.0M317.6 396.2h1.0M286.8 388.0h1.0M274.2 418.7h1.0M282.8 389.8h1.0M290.6 375.9h1.0M300.7 364.4h1.0M309.1 373.5h1.0M322.1 393.1h1.0M351.3 422.5h1.0M283.3 379.2h1.0M314.6 391.5h1.0M362.8 389.1h1.0M297.6 397.9h1.0M293.1 395.5h1.0M315.6 412.0h1.0M265.5 402.7h1.0M259.5 423.8h1.0M279.3 391.6h1.0M311.1 397.1h1.0M270.7 351.9h1.0M276.6 373.9h1.0M307.6 376.3h1.0M344.3 372.8h1.0M295.1 432.4h1.0M289.3 373.8h1.0M308.8 392.1h1.0M280.8 414.2h1.0M295.5 418.7h1.0M346.6 425.5h1.0M317.1 372.5h1.0M278.9 425.9h1.0M276.1 376.8h1.0M324.3 407.5h1.0M263.2 418.5h1.0M329.3 356.4h1.0M312.7 436.6h1.0M309.3 425.5h1.0M281.8 384.3h1.0M355.5 416.9h1.0M270.8 409.1h1.0M327.2 390.5h1.0M316.2 438.5h1.0M337.3 375.3h1.0M277.6 414.2h1.0M300.7 409.4h1.0M277.5 399.1h1.0M297.0 418.1h1.0M314.2 429.0h1.0M325.9 402.0h1.0M291.4 416.8h1.0M365.3 406.6h1.0M254.9 427.8h1.0M286.9 362.6h1.0M264.1 424.4h1.0M307.4 376.6h1.0M278.8 373.6h1.0M310.7 424.5h1.0M264.7 406.4h1.0M283.1 411.8h1.0M347.7 402.3h1.0M318.1 404.6h1.0M302.4 409.9h1.0M307.1 395.4h1.0M338.3 418.6h1.0M315.9 364.7h1.0M282.0 367.8h1.0M280.8 448.3h1.0M333.0 395.0h1.0M300.8 413.7h1.0M312.6 406.1h1.0M292.9 463.2h1.0M347.7 384.5h1.0M273.8 405.0h1.0M319.5 364.2h1.0M285.0 372.3h1.0M334.1 398.3h1.0M301.2 373.7h1.0M309.1 391.3h1.0M329.1 390.9h1.0M301.2 424.1h1.0M331.3 385.0h1.0M243.2 398.3h1.0M284.5 383.7h1.0M320.9 397.5h1.0M297.3 406.8h1.0M312.4 400.7h1.0M354.9 416.0h1.0M258.5 414.3h1.0M304.8 417.4h1.0M249.5 409.7h1.0M317.1 433.9h1.0M286.7 395.2h1.0M320.2 421.0h1.0M330.8 382.6h1.0M329.8 419.1h1.0M285.7 435.2h1.0M368.9 408.7h1.0M295.0 431.2h1.0M305.4 425.3h1.0M289.5 376.6h1.0M302.0 401.8h1.0M316.4 398.0h1.0M331.1 384.9h1.0M307.2 395.2h1.0M274.2 402.1h1.0M312.9 382.5h1.0M295.0 439.5h1.0M328.7 413.8h1.0M273.9 418.0h1.0M311.7 371.9h1.0M281.6 408.2h1.0M310.2 406.5h1.0M289.6 384.7h1.0M361.1 394.2h1.0M317.2 392.8h1.0M254.7 423.4h1.0M343.1 391.3h1.0M292.9 387.5h1.0M313.8 352.8h1.0M280.3 409.4h1.0M315.5 420.9h1.0M304.6 378.9h1.0M277.0 414.9h1.0M312.7 447.6h1.0M312.7 402.4h1.0M313.1 428.4h1.0M272.0 393.1h1.0M270.2 385.9h1.0M294.0 448.5h1.0M319.6 422.9h1.0M261.8 435.7h1.0M303.2 459.4h1.0M270.4 415.6h1.0M331.3 386.5h1.0M314.0 374.2h1.0M296.0 437.2h1.0M341.0 434.0h1.0M310.4 409.8h1.0M254.3 440.1h1.0M261.2 389.7h1.0M293.0 408.1h1.0M354.2 386.2h1.0M305.2 436.6h1.0M285.8 399.8h1.0M282.9 436.2h1.0M310.7 421.4h1.0M276.9 448.3h1.0M291.6 376.7h1.0M300.3 406.8h1.0M303.6 396.5h1.0M302.7 418.3h1.0M343.0 429.1h1.0M339.6 392.3h1.0M330.9 386.9h1.0M269.6 374.3h1.0M325.2 445.3h1.0M309.8 380.2h1.0M313.6 425.5h1.0M314.0 394.6h1.0M302.8 389.7h1.0M354.8 393.7h1.0M312.0 392.4h1.0M320.9 402.4h1.0M323.1 406.5h1.0M312.4 409.6h1.0M315.7 408.9h1.0M300.9 388.0h1.0M297.6 398.1h1.0M290.8 435.9h1.0M296.6 356.8h1.0M288.9 406.0h1.0M299.8 381.8h1.0M301.1 370.2h1.0M258.1 405.7h1.0M311.8 402.7h1.0M316.6 391.3h1.0M281.6 394.6h1.0M354.1 414.7h1.0M292.5 383.6h1.0M337.8 424.5h1.0M288.4 388.2h1.0M286.0 396.0h1.0M273.4 377.3h1.0M297.5 418.4h1.0M303.1 412.7h1.0M259.5 394.4h1.0M336.2 393.4h1.0M322.7 415.5h1.0M321.4 399.7h1.0M305.5 411.6h1.0M320.4 385.5h1.0M301.5 438.4h1.0M374.8 395.5h1.0M313.0 402.9h1.0M316.5 394.2h1.0M331.2 402.7h1.0M298.9 373.4h1.0M297.3 381.5h1.0M298.8 429.0h1.0M278.0 424.1h1.0M294.2 416.9h1.0M319.4 376.6h1.0M310.1 403.6h1.0M314.9 398.1h1.0M356.7 376.0h1.0M307.3 399.8h1.0M302.6 423.8h1.0M275.0 374.1h1.0M273.5 410.8h1.0M291.7 396.0h1.0M310.9 389.9h1.0M308.1 386.7h1.0M308.6 399.3h1.0M335.4 395.5h1.0M319.4 388.2h1.0M288.0 386.0h1.0M323.2 366.5h1.0M285.7 387.6h1.0M300.5 374.5h1.0M289.6 407.3h1.0M286.8 387.3h1.0M316.9 384.9h1.0M296.5 398.3h1.0M262.5 412.2h1.0M287.3 431.3h1.0M311.5 445.9h1.0M301.2 411.4h1.0M333.9 414.0h1.0M271.7 416.6h1.0M326.6 419.2h1.0M287.2 412.9h1.0M250.9 420.1h1.0M346.7 420.9h1.0M326.2 379.4h1.0M301.1 386.6h1.0M305.8 397.0h1.0M273.9 412.3h1.0M282.8 352.4h1.0M353.7 403.5h1.0M255.3 406.4h1.0M316.3 446.2h1.0M271.8 363.1h1.0M293.3 391.6h1.0M312.5 383.9h1.0M334.7 431.7h1.0M293.9 399.9h1.0M264.3 447.3h1.0M325.8 378.0h1.0M282.6 409.3h1.0M334.4 423.2h1.0M276.9 415.9h1.0M292.8 449.7h1.0M333.9 406.3h1.0M303.6 384.0h1.0M226.4 420.1h1.0M333.7 416.4h1.0M316.6 381.3h1.0M297.9 380.9h1.0M257.4 383.1h1.0M272.1 401.4h1.0M303.5 400.8h1.0M291.5 412.8h1.0M249.3 349.3h1.0M295.4 420.0h1.0M311.9 407.7h1.0M329.5 380.2h1.0M298.0 395.4h1.0M265.5 373.0h1.0M292.3 401.2h1.0M261.6 416.4h1.0M313.7 372.3h1.0M339.0 367.9h1.0M288.3 358.4h1.0M254.9 415.8h1.0M309.4 413.0h1.0M295.3 415.5h1.0M313.7 374.2h1.0M266.8 434.2h1.0M299.7 415.1h1.0M279.6 424.6h1.0M275.6 408.1h1.0M325.1 446.1h1.0M306.2 393.7h1.0M336.5 425.9h1.0M287.7 402.2h1.0M302.7 364.8h1.0M316.5 414.5h1.0M322.4 388.8h1.0M292.1 392.0h1.0M344.1 463.7h1.0M272.1 420.6h1.0M356.1 374.3h1.0M367.9 381.2h1.0M344.7 393.6h1.0M300.3 394.7h1.0M274.1 439.8h1.0M268.6 434.5h1.0M346.7 357.6h1.0M329.5 380.1h1.0M324.5 420.0h1.0M285.3 414.0h1.0M338.8 416.6h1.0M380.9 418.5h1.0M248.5 372.2h1.0M305.2 406.6h1.0M286.7 421.9h1.0M286.4 430.6h1.0M312.9 397.1h1.0M329.0 399.1h1.0M328.6 394.9h1.0M290.9 415.9h1.0M352.5 381.2h1.0M299.6 381.3h1.0M301.7 403.1h1.0M335.0 394.5h1.0M287.8 436.0h1.0M307.5 386.8h1.0M268.0 362.8h1.0M299.7 394.1h1.0M360.2 393.4h1.0M344.2 421.9h1.0M303.0 421.7h1.0M288.6 435.2h1.0M308.9 352.9h1.0M328.9 402.9h1.0M271.1 414.9h1.0M311.9 378.3h1.0M309.8 366.4h1.0M264.2 402.6h1.0M310.8 427.1h1.0M304.5 407.0h1.0M314.2 410.7h1.0M305.3 399.5h1.0M263.3 393.2h1.0M301.7 390.6h1.0M333.7 397.4h1.0M311.0 423.3h1.0M362.1 422.4h1.0M280.0 398.8h1.0M324.1 392.0h1.0M294.8 414.8h1.0M337.2 410.3h1.0M296.6 393.2h1.0M340.1 379.0h1.0M315.7 423.9h1.0M325.6 419.6h1.0M248.4 385.2h1.0M313.8 437.0h1.0M311.2 411.0h1.0M305.8 399.9h1.0M298.3 422.3h1.0M329.2 392.4h1.0M261.6 365.5h1.0M285.3 416.6h1.0M323.4 394.8h1.0M328.3 383.2h1.0M329.7 390.8h1.0M267.0 353.2h1.0M283.1 407.9h1.0M308.0 427.6h1.0M289.4 403.7h1.0M265.2 441.0h1.0M305.5 399.2h1.0M295.6 388.7h1.0M306.0 425.8h1.0M333.5 370.7h1.0M277.9 374.0h1.0M285.0 378.9h1.0M285.2 445.9h1.0M324.3 406.5h1.0M302.7 416.5h1.0M301.1 420.6h1.0M282.8 417.5h1.0M267.0 395.9h1.0M334.9 416.0h1.0M314.9 399.1h1.0M349.0 382.8h1.0M281.0 368.7h1.0M282.7 423.1h1.0M325.1 420.0h1.0M285.0 359.8h1.0M310.7 377.1h1.0M277.6 396.9h1.0M277.1 439.6h1.0M320.8 408.1h1.0M294.0 401.1h1.0M321.6 410.1h1.0M335.7 348.2h1.0M305.8 376.8h1.0M235.7 359.0h1.0M233.2 402.1h1.0M314.5 406.5h1.0M307.8 358.3h1.0M304.0 405.2h1.0M321.0 419.9h1.0M285.5 407.4h1.0M296.3 415.0h1.0M247.2 417.8h1.0M353.3 445.2h1.0M315.8 367.6h1.0M345.4 420.4h1.0M316.3 406.6h1.0M288.6 403.9h1.0M351.1 430.1h1.0M279.9 430.4h1.0M322.0 382.2h1.0M304.3 430.6h1.0M297.2 398.6h1.0M273.3 408.1h1.0M274.8 433.9h1.0M306.9 401.9h1.0M343.3 421.4h1.0M334.2 408.7h1.0M288.2 422.2h1.0M254.3 388.0h1.0M334.9 408.8h1.0M295.0 442.1h1.0M305.5 421.7h1.0M235.1 392.7h1.0M332.9 410.5h1.0M345.3 421.2h1.0M346.9 393.2h1.0M279.8 410.4h1.0M295.4 423.1h1.0M337.2 365.4h1.0M266.8 400.4h1.0M295.1 383.1h1.0M330.5 422.8h1.0M321.8 394.3h1.0M271.5 403.7h1.0M322.1 403.0h1.0M295.5 368.1h1.0M310.3 383.6h1.0M274.4 425.9h1.0M269.5 438.4h1.0M328.3 388.5h1.0M275.2 377.0h1.0M294.0 431.8h1.0M324.0 419.4h1.0M303.6 396.4h1.0M271.7 407.0h1.0M258.5 401.7h1.0M329.2 421.9h1.0M343.3 372.7h1.0M350.5 406.8h1.0M276.6 410.6h1.0M313.4 422.3h1.0M305.1 400.1h1.0M334.3 420.1h1.0M293.8 416.8h1.0M306.9 403.2h1.0M277.2 348.1h1.0M309.9 390.0h1.0M326.5 409.8h1.0M292.8 456.8h1.0M261.1 340.2h1.0M250.2 401.8h1.0M327.9 411.9h1.0M333.4 441.8h1.0M298.1 365.5h1.0M298.8 434.1h1.0M211.9 410.6h1.0M301.2 427.0h1.0M326.5 432.2h1.0M336.1 398.0h1.0M320.7 418.0h1.0M295.0 414.2h1.0M340.5 383.5h1.0M322.9 417.8h1.0M271.6 417.7h1.0M283.9 345.5h1.0M281.2 384.2h1.0M330.3 375.3h1.0M300.8 376.8h1.0M314.6 379.7h1.0M283.4 412.1h1.0M241.4 378.0h1.0M255.2 352.6h1.0M320.8 400.9h1.0M325.5 405.6h1.0M275.2 379.6h1.0M311.9 414.4h1.0M287.5 355.3h1.0M253.1 404.7h1.0M318.7 381.1h1.0M226.0 402.8h1.0M279.2 414.4h1.0M350.6 429.0h1.0M248.4 371.4h1.0M287.5 404.3h1.0M300.8 402.5h1.0M309.2 406.3h1.0M273.4 448.4h1.0M291.7 416.1h1.0M332.3 403.5h1.0M294.3 410.6h1.0M327.3 369.4h1.0M283.7 361.6h1.0M269.7 377.4h1.0M317.2 385.2h1.0M300.5 426.5h1.0M350.5 388.7h1.0M316.7 384.5h1.0M314.5 446.5h1.0M258.3 393.8h1.0M323.7 407.4h1.0M310.8 364.5h1.0M330.6 376.5h1.0M335.1 375.9h1.0M318.1 361.9h1.0M304.6 423.0h1.0M309.9 419.9h1.0M278.0 373.6h1.0M308.4 383.1h1.0M265.4 382.4h1.0M242.2 404.0h1.0M299.4 428.3h1.0M264.0 398.9h1.0M291.8 426.1h1.0M257.3 411.6h1.0M298.2 422.3h1.0M301.2 438.2h1.0M319.5 397.1h1.0M260.0 385.6h1.0M259.5 397.2h1.0M343.7 374.2h1.0M322.5 414.3h1.0M255.5 420.3h1.0M263.5 399.7h1.0M326.6 399.1h1.0M272.3 436.6h1.0M326.6 368.6h1.0M326.9 392.4h1.0M346.6 469.4h1.0M295.4 374.9h1.0M278.1 382.3h1.0M296.9 405.4h1.0M325.6 434.2h1.0M267.6 392.6h1.0M289.5 424.0h1.0M312.6 383.6h1.0M296.0 418.9h1.0M297.5 382.4h1.0M304.7 404.5h1.0M313.4 387.6h1.0M307.7 389.6h1.0M352.5 381.4h1.0M267.9 405.6h1.0M339.4 419.0h1.0M300.9 389.3h1.0M304.7 400.0h1.0M286.5 416.8h1.0M349.8 410.0h1.0M256.1 424.0h1.0M288.6 372.3h1.0M274.7 451.4h1.0M304.1 414.6h1.0M276.2 395.4h1.0M338.2 367.1h1.0M326.8 411.0h1.0M317.0 387.8h1.0M329.3 399.7h1.0M279.5 394.1h1.0M336.0 402.7h1.0M276.8 415.8h1.0M319.4 353.8h1.0M292.8 379.5h1.0M261.9 433.6h1.0M239.9 366.7h1.0M280.9 386.5h1.0M257.7 406.3h1.0M287.1 420.4h1.0M337.9 398.8h1.0M284.0 392.3h1.0M263.7 402.4h1.0M266.3 389.6h1.0M295.3 396.8h1.0M322.6 401.6h1.0M295.6 365.4h1.0M315.5 412.6h1.0M308.7 434.3h1.0M294.5 407.6h1.0M339.8 416.4h1.0M272.2 433.9h1.0M346.1 429.3h1.0M278.7 400.0h1.0M304.7 409.0h1.0M306.2 413.0h1.0M320.0 392.8h1.0M377.4 381.7h1.0M357.9 383.9h1.0M288.0 395.9h1.0M316.8 393.9h1.0M302.9 421.5h1.0M318.0 375.9h1.0M305.0 403.1h1.0M277.4 403.3h1.0M291.4 358.7h1.0M317.1 392.4h1.0M343.0 362.3h1.0M293.7 381.3h1.0M293.1 400.4h1.0M281.1 395.9h1.0M312.4 414.8h1.0M268.1 427.8h1.0M264.4 388.9h1.0M331.0 412.9h1.0M308.1 409.6h1.0M273.4 401.3h1.0M256.7 404.0h1.0M326.4 414.8h1.0M302.6 445.8h1.0M332.1 405.7h1.0M282.1 384.7h1.0M276.4 416.7h1.0M302.8 401.8h1.0M284.8 398.4h1.0M319.5 373.4h1.0M308.9 383.9h1.0M384.8 369.6h1.0M352.4 370.6h1.0M296.4 409.7h1.0M298.5 355.7h1.0M235.1 376.3h1.0M315.0 391.0h1.0M329.9 392.2h1.0M270.6 413.9h1.0M280.0 402.1h1.0M297.4 394.2h1.0M276.6 417.2h1.0M362.5 395.2h1.0M309.6 404.2h1.0M278.2 416.6h1.0M311.7 432.9h1.0M303.2 390.1h1.0M293.1 399.2h1.0M303.9 409.1h1.0M306.9 403.8h1.0M349.4 424.2h1.0M295.5 403.6h1.0M317.0 406.1h1.0M315.9 415.0h1.0M280.8 394.1h1.0M345.4 408.0h1.0M304.7 384.3h1.0M261.6 381.0h1.0M308.1 416.2h1.0M315.6 398.5h1.0M317.0 409.8h1.0M337.3 413.3h1.0M357.0 429.3h1.0M273.8 451.5h1.0M276.2 392.5h1.0M283.2 422.2h1.0M281.0 383.1h1.0M279.2 429.6h1.0M311.5 390.0h1.0M272.8 365.3h1.0M302.8 387.9h1.0M308.1 454.6h1.0M292.7 369.3h1.0M268.6 382.8h1.0M326.3 409.2h1.0M288.6 397.0h1.0M288.8 410.3h1.0M303.0 418.0h1.0M199.0 382.8h1.0M309.0 349.3h1.0M302.8 446.0h1.0M331.8 413.1h1.0M311.1 394.5h1.0M317.3 386.1h1.0M310.9 399.0h1.0M293.0 432.9h1.0M294.4 368.0h1.0M310.3 397.4h1.0M303.7 406.7h1.0M312.3 395.8h1.0M293.2 411.0h1.0M294.6 400.8h1.0M297.7 433.4h1.0M310.0 397.0h1.0M301.5 397.1h1.0M351.9 381.8h1.0M297.2 394.9h1.0M315.9 443.3h1.0M304.8 432.2h1.0M306.3 394.2h1.0M311.2 413.7h1.0M278.9 403.6h1.0M284.2 385.7h1.0M263.0 375.9h1.0M297.3 407.9h1.0M317.7 387.9h1.0M224.1 375.5h1.0M266.4 437.2h1.0M319.4 420.6h1.0M295.3 389.9h1.0M279.7 380.7h1.0M320.2 365.3h1.0M304.8 401.9h1.0M293.6 400.4h1.0M284.5 404.9h1.0M266.2 375.4h1.0M326.4 385.4h1.0M323.2 369.4h1.0M290.3 402.0h1.0M290.9 410.1h1.0M280.9 399.1h1.0M271.5 409.5h1.0M340.5 382.3h1.0M328.6 405.1h1.0M260.3 406.2h1.0M322.8 386.3h1.0M259.6 363.4h1.0M281.0 400.7h1.0M285.0 363.6h1.0M304.8 368.5h1.0M317.4 391.7h1.0M324.6 416.9h1.0M274.7 443.9h1.0M312.5 461.1h1.0M323.4 417.1h1.0M305.6 382.7h1.0M275.4 393.4h1.0M323.0 416.8h1.0M357.6 426.1h1.0M314.9 390.4h1.0M304.8 385.9h1.0M316.2 373.2h1.0M331.1 401.2h1.0M263.8 409.3h1.0M298.4 386.7h1.0M281.5 388.0h1.0M311.9 397.7h1.0M264.8 452.2h1.0M290.3 374.3h1.0M326.4 398.5h1.0M337.8 421.6h1.0M251.8 373.7h1.0M324.6 406.3h1.0M259.0 377.8h1.0M249.9 425.3h1.0M294.3 399.0h1.0M281.2 372.3h1.0M291.8 419.5h1.0M278.7 358.1h1.0M299.3 401.9h1.0M312.9 395.0h1.0M308.5 351.6h1.0M342.8 418.0h1.0M311.6 383.6h1.0M335.3 395.3h1.0M301.6 418.3h1.0M312.3 443.3h1.0M310.3 391.2h1.0M303.6 397.2h1.0M254.0 407.0h1.0M345.4 416.0h1.0M302.2 383.3h1.0M277.0 404.9h1.0M296.1 426.5h1.0M304.8 403.2h1.0M289.9 397.2h1.0M248.7 386.9h1.0M269.2 419.7h1.0M323.7 401.1h1.0M339.4 394.6h1.0M325.3 385.0h1.0M293.6 388.3h1.0M285.0 426.9h1.0M327.5 441.8h1.0M299.5 354.2h1.0M347.4 380.4h1.0M314.7 389.3h1.0M312.0 358.9h1.0M322.6 430.9h1.0M317.1 405.1h1.0M304.7 410.9h1.0M302.6 405.7h1.0M365.1 426.5h1.0M288.5 396.9h1.0M327.9 405.0h1.0M332.4 415.9h1.0M277.7 398.4h1.0M289.9 413.2h1.0M309.8 414.3h1.0M300.7 409.6h1.0M330.7 396.9h1.0M251.4 432.4h1.0M319.6 384.7h1.0M321.8 425.3h1.0M320.2 391.1h1.0M342.5 392.8h1.0M325.3 391.5h1.0M279.1 416.3h1.0M324.8 435.5h1.0M294.0 411.4h1.0M277.7 367.5h1.0M315.9 401.4h1.0M326.3 389.9h1.0M308.1 386.9h1.0M345.6 398.7h1.0M263.8 419.8h1.0M289.4 379.2h1.0M271.5 430.2h1.0M327.0 381.7h1.0M272.9 388.1h1.0M249.2 406.2h1.0M282.0 426.0h1.0M276.7 411.2h1.0M296.7 373.0h1.0M266.9 419.5h1.0M303.4 384.5h1.0M291.9 411.6h1.0M296.2 407.6h1.0M276.2 376.9h1.0M300.0 405.4h1.0M299.2 416.2h1.0M296.8 424.5h1.0M334.3 362.6h1.0M343.1 420.0h1.0M231.7 385.4h1.0M307.1 390.7h1.0M291.3 391.0h1.0M252.5 420.7h1.0M316.3 387.2h1.0M333.5 398.0h1.0M299.3 407.2h1.0M328.3 390.2h1.0M281.1 409.2h1.0M312.8 422.9h1.0M305.0 409.4h1.0M329.1 397.1h1.0M306.9 384.0h1.0M296.8 419.6h1.0M345.9 354.3h1.0M318.5 422.9h1.0M285.6 403.2h1.0M319.9 369.5h1.0M266.4 397.2h1.0M292.8 443.9h1.0M275.6 425.8h1.0M307.4 423.9h1.0M211.9 382.9h1.0M331.0 406.9h1.0M360.6 421.2h1.0M316.3 403.9h1.0M348.3 415.5h1.0M298.6 397.2h1.0M318.4 416.1h1.0M229.6 368.0h1.0M297.7 385.4h1.0M284.6 429.4h1.0M329.5 392.5h1.0M299.5 431.5h1.0M245.1 408.0h1.0M283.0 406.2h1.0M289.3 390.7h1.0M287.0 408.1h1.0M278.1 411.2h1.0M333.5 408.5h1.0M318.5 380.8h1.0M320.9 410.4h1.0M296.9 437.0h1.0M306.7 384.7h1.0M299.7 407.5h1.0M255.6 393.7h1.0M259.7 396.8h1.0M292.8 396.5h1.0M321.1 417.0h1.0M248.1 416.0h1.0M296.4 408.7h1.0M309.0 397.2h1.0M323.0 417.1h1.0M318.9 399.7h1.0M309.8 385.8h1.0M318.0 378.1h1.0M281.6 384.1h1.0M302.0 353.3h1.0M315.0 411.4h1.0M344.3 419.9h1.0M333.0 405.2h1.0M313.4 405.0h1.0M331.2 381.7h1.0M279.8 398.1h1.0M267.8 389.5h1.0M296.4 398.0h1.0M289.2 404.9h1.0M274.9 394.9h1.0M282.3 392.2h1.0M260.4 361.3h1.0M318.4 382.4h1.0M295.3 428.5h1.0M303.8 373.2h1.0M268.4 409.0h1.0M295.4 397.6h1.0M285.5 418.3h1.0M283.7 421.9h1.0M301.4 417.0h1.0M294.2 399.6h1.0M318.5 392.0h1.0M248.2 397.4h1.0M308.2 439.4h1.0M291.3 374.4h1.0M295.8 404.3h1.0M368.4 426.4h1.0M330.7 427.1h1.0M271.4 413.2h1.0M293.9 391.3h1.0M316.5 429.8h1.0M343.3 415.7h1.0M291.0 398.1h1.0M302.4 353.1h1.0M302.7 378.8h1.0M297.8 406.6h1.0M306.0 435.2h1.0M256.3 399.2h1.0M307.0 400.8h1.0M290.6 382.9h1.0M292.4 399.4h1.0M305.3 386.2h1.0M308.2 407.9h1.0M338.4 405.1h1.0M287.4 408.7h1.0M258.5 402.5h1.0M271.5 398.3h1.0M281.2 400.3h1.0M298.0 390.8h1.0M314.4 401.6h1.0M329.5 433.4h1.0M323.9 396.2h1.0M340.8 370.1h1.0M302.1 398.0h1.0M279.8 404.4h1.0M283.6 387.5h1.0M312.6 412.4h1.0M277.8 432.3h1.0M258.1 416.5h1.0M331.6 371.2h1.0M342.7 416.1h1.0M308.3 404.0h1.0M306.7 429.4h1.0M288.0 395.2h1.0M300.7 404.3h1.0M255.4 400.9h1.0M291.5 424.0h1.0M267.1 397.4h1.0M315.4 404.4h1.0M333.7 403.3h1.0M269.7 405.6h1.0M341.7 408.0h1.0M347.5 364.9h1.0M303.2 388.4h1.0M306.4 380.8h1.0M274.4 381.4h1.0M253.8 404.4h1.0M342.3 398.4h1.0M308.9 373.9h1.0M330.2 431.2h1.0M342.7 420.3h1.0M311.0 395.6h1.0M322.4 386.9h1.0M287.6 418.1h1.0M313.4 407.4h1.0M299.6 383.8h1.0M291.6 430.1h1.0M270.6 388.8h1.0M275.7 390.6h1.0M309.5 415.7h1.0M306.7 424.5h1.0M324.6 395.0h1.0M299.9 377.0h1.0M318.4 391.5h1.0M314.4 432.9h1.0M278.8 405.8h1.0M267.9 398.8h1.0M258.1 402.7h1.0M337.7 423.3h1.0M302.8 424.7h1.0M341.4 360.4h1.0M288.0 390.1h1.0M318.4 435.5h1.0M261.7 389.7h1.0M261.5 429.6h1.0M257.3 421.7h1.0M289.5 414.5h1.0M260.5 413.1h1.0M282.7 386.5h1.0M288.5 397.6h1.0M282.0 381.5h1.0M261.1 385.2h1.0M299.8 429.0h1.0M310.2 409.4h1.0M303.1 406.9h1.0M319.1 382.5h1.0M295.3 398.8h1.0M283.0 414.6h1.0M260.8 383.4h1.0M321.6 421.3h1.0M313.7 421.8h1.0M327.4 388.2h1.0M257.9 405.7h1.0M326.3 381.1h1.0M339.1 394.8h1.0M316.8 336.2h1.0M316.4 408.5h1.0M301.0 391.0h1.0M314.0 420.9h1.0M319.2 392.3h1.0M302.0 361.5h1.0M302.8 428.4h1.0M347.2 425.9h1.0M246.9 406.0h1.0M291.5 425.3h1.0M312.0 370.8h1.0M317.8 421.8h1.0M286.3 383.3h1.0M332.9 385.1h1.0M322.4 445.9h1.0M287.6 385.0h1.0M313.6 386.6h1.0M302.9 437.0h1.0M301.4 353.3h1.0M295.5 415.0h1.0M305.2 431.8h1.0M308.9 377.8h1.0M286.0 379.3h1.0M360.8 409.6h1.0M220.4 412.3h1.0M311.0 360.7h1.0M354.4 398.3h1.0M350.9 392.3h1.0M347.0 369.8h1.0M272.6 420.6h1.0M305.1 367.9h1.0M296.8 417.9h1.0M293.3 389.8h1.0M314.2 384.9h1.0M323.6 403.0h1.0M302.1 361.6h1.0M285.5 415.9h1.0M324.7 370.6h1.0M283.8 419.8h1.0M306.6 411.4h1.0M282.2 363.0h1.0M282.9 400.9h1.0M302.0 386.9h1.0M338.6 419.6h1.0M276.9 381.4h1.0M311.3 409.0h1.0M290.7 414.6h1.0M319.6 394.8h1.0M242.4 352.8h1.0M369.0 402.0h1.0M275.0 407.7h1.0M285.2 406.1h1.0M265.9 386.6h1.0M327.6 393.9h1.0M289.9 381.7h1.0M288.6 353.2h1.0M307.6 437.9h1.0M294.9 400.9h1.0M319.5 392.1h1.0M323.3 427.3h1.0M306.4 401.3h1.0M277.9 416.1h1.0M278.2 390.9h1.0M234.5 425.7h1.0M373.3 390.9h1.0M315.1 375.7h1.0M330.0 406.1h1.0M301.5 377.2h1.0M316.4 436.7h1.0M327.9 391.8h1.0M323.7 424.3h1.0M332.2 418.5h1.0M273.2 390.4h1.0M340.5 379.6h1.0M289.9 403.9h1.0M353.0 383.8h1.0M323.5 435.3h1.0M264.0 449.6h1.0M338.6 451.2h1.0M338.5 410.2h1.0M332.9 356.6h1.0M345.4 383.3h1.0M374.3 429.5h1.0M369.5 378.1h1.0M291.9 391.1h1.0M296.2 374.8h1.0M298.0 389.7h1.0M307.2 402.0h1.0M267.3 412.3h1.0M279.8 377.8h1.0M310.9 376.8h1.0M279.2 366.6h1.0M313.6 407.6h1.0M286.0 403.0h1.0M342.1 405.1h1.0M347.4 416.1h1.0M321.2 389.6h1.0M273.9 419.1h1.0M293.6 425.2h1.0M260.0 400.4h1.0M283.2 396.0h1.0M353.4 408.6h1.0M350.2 393.4h1.0M292.0 408.4h1.0M330.6 414.1h1.0M340.2 431.5h1.0M329.2 436.1h1.0M325.8 385.2h1.0M300.9 423.5h1.0M288.6 417.5h1.0M297.3 376.0h1.0M284.6 408.7h1.0M318.1 386.6h1.0M283.2 411.0h1.0M291.5 399.9h1.0M269.5 404.2h1.0M313.6 421.7h1.0M300.1 379.2h1.0M259.2 383.8h1.0M303.4 415.8h1.0M240.4 392.5h1.0M336.0 385.1h1.0M297.9 346.1h1.0M342.8 426.5h1.0M381.4 407.2h1.0M290.3 398.2h1.0M272.8 407.6h1.0M312.7 372.4h1.0M337.7 441.6h1.0M252.3 399.9h1.0M350.2 405.3h1.0M296.6 417.3h1.0M346.2 439.4h1.0M304.2 378.4h1.0M304.2 359.9h1.0M277.2 401.0h1.0M281.4 382.5h1.0M336.0 418.6h1.0M308.4 406.7h1.0M264.1 406.2h1.0M318.8 393.1h1.0M289.8 383.1h1.0M289.3 374.9h1.0M288.3 398.5h1.0M315.1 430.3h1.0M289.9 329.9h1.0M346.2 390.0h1.0M284.3 381.7h1.0M308.2 425.4h1.0M281.9 408.7h1.0M319.7 389.3h1.0M332.6 398.9h1.0M252.0 459.5h1.0M318.4 401.7h1.0M289.3 391.2h1.0M307.0 393.5h1.0M334.7 410.5h1.0M288.8 403.0h1.0M358.2 442.4h1.0M302.6 382.5h1.0M250.4 398.8h1.0M333.9 397.7h1.0M321.3 405.5h1.0M270.5 392.1h1.0M304.7 375.5h1.0M271.3 400.9h1.0M328.5 401.9h1.0M287.0 384.9h1.0M328.0 400.4h1.0M295.5 411.6h1.0M317.2 428.6h1.0M330.9 396.8h1.0M319.9 427.2h1.0M296.0 396.3h1.0M305.7 419.9h1.0M269.0 378.0h1.0M279.3 346.2h1.0M287.6 411.8h1.0M320.1 439.1h1.0M311.9 409.4h1.0M278.0 392.4h1.0M295.5 383.7h1.0M318.0 392.7h1.0M342.6 392.0h1.0M362.2 416.1h1.0M320.1 409.6h1.0M294.6 449.2h1.0M319.3 408.8h1.0M350.2 373.9h1.0M351.3 394.4h1.0M293.9 416.8h1.0M311.1 416.6h1.0M323.8 327.9h1.0M343.0 429.6h1.0M336.3 360.9h1.0M306.8 386.8h1.0M328.4 372.8h1.0M299.1 366.1h1.0M282.6 369.0h1.0M309.2 367.6h1.0M287.0 426.4h1.0M335.8 374.9h1.0M244.1 380.5h1.0M271.2 406.8h1.0M307.0 409.0h1.0M336.4 399.8h1.0M314.3 398.2h1.0M308.0 408.6h1.0M302.5 389.9h1.0M349.7 348.2h1.0M233.2 430.1h1.0M260.5 444.5h1.0M289.4 425.1h1.0M322.8 356.7h1.0M316.7 405.4h1.0M280.4 422.2h1.0M315.1 383.1h1.0M351.6 429.9h1.0M315.0 413.2h1.0M306.5 361.9h1.0M288.8 353.6h1.0M310.1 469.6h1.0M270.1 387.8h1.0M289.6 426.0h1.0M323.6 399.2h1.0M303.0 369.8h1.0M282.6 401.8h1.0M350.2 404.0h1.0M308.8 440.0h1.0M294.6 370.1h1.0M318.2 390.0h1.0M364.4 419.1h1.0M298.6 419.1h1.0M295.3 421.8h1.0M342.6 444.4h1.0M314.2 391.9h1.0M319.6 391.0h1.0M280.1 402.0h1.0M344.3 415.5h1.0M301.0 391.2h1.0M308.6 373.2h1.0M273.3 389.8h1.0M327.5 468.1h1.0M295.5 434.4h1.0M287.6 410.5h1.0M320.3 368.3h1.0M308.4 403.3h1.0M277.4 389.8h1.0M279.0 379.7h1.0M301.6 377.8h1.0M373.0 383.5h1.0M301.0 390.7h1.0M366.2 404.8h1.0M312.6 393.5h1.0M290.0 412.2h1.0M316.9 374.1h1.0M316.5 434.2h1.0M337.0 404.7h1.0M268.2 393.3h1.0M310.9 404.3h1.0M303.0 353.2h1.0M298.7 424.7h1.0M288.2 364.3h1.0M289.4 395.2h1.0M307.9 396.1h1.0M323.4 455.1h1.0M298.7 402.4h1.0M321.3 397.7h1.0M264.0 471.9h1.0M364.4 396.1h1.0M294.5 383.7h1.0M302.5 392.2h1.0M315.8 393.9h1.0M261.3 385.1h1.0M300.0 374.1h1.0M288.8 419.8h1.0M297.5 435.6h1.0M315.1 419.4h1.0M319.2 395.6h1.0M263.8 421.5h1.0M316.7 370.2h1.0M310.6 361.8h1.0M311.1 401.9h1.0M328.0 429.1h1.0M267.0 380.4h1.0M310.6 367.2h1.0M323.6 397.4h1.0M290.1 405.0h1.0M302.0 396.2h1.0M298.2 403.2h1.0M308.3 420.2h1.0M269.3 378.7h1.0M306.3 387.6h1.0M298.7 383.1h1.0M304.8 385.8h1.0M293.8 386.9h1.0M300.3 402.9h1.0M290.8 417.4h1.0M307.8 399.6h1.0M333.5 422.2h1.0M292.5 387.0h1.0M281.5 429.8h1.0M278.1 396.9h1.0M301.4 418.4h1.0M285.1 405.5h1.0M316.1 361.8h1.0M300.3 446.5h1.0M336.7 395.6h1.0M298.3 425.6h1.0M357.9 430.7h1.0M348.2 401.1h1.0M277.8 402.0h1.0M335.5 358.9h1.0M323.4 425.0h1.0M341.7 352.8h1.0M291.0 423.9h1.0M341.0 386.1h1.0M289.3 451.4h1.0M303.9 380.9h1.0M312.3 365.4h1.0M329.2 391.9h1.0M295.4 377.5h1.0M283.0 387.8h1.0M305.3 437.4h1.0M301.3 425.7h1.0M243.5 412.5h1.0M308.9 410.2h1.0M334.5 414.4h1.0M325.9 420.6h1.0M287.3 410.5h1.0M347.9 410.8h1.0M279.2 382.4h1.0M313.3 410.4h1.0M312.2 385.5h1.0M328.3 393.2h1.0M280.6 415.4h1.0M313.2 385.2h1.0M306.3 416.5h1.0M313.7 389.8h1.0M280.8 430.6h1.0M268.4 378.4h1.0M299.4 385.5h1.0M285.5 395.9h1.0M308.4 437.4h1.0M246.6 401.4h1.0M310.6 408.6h1.0M215.2 380.0h1.0M285.6 383.2h1.0M317.1 413.2h1.0M300.0 389.2h1.0M301.7 389.0h1.0M282.0 398.4h1.0M324.2 440.0h1.0M295.3 404.7h1.0M357.3 406.3h1.0M250.7 414.7h1.0M293.0 416.3h1.0M308.3 420.4h1.0M367.8 411.0h1.0M324.2 377.7h1.0M288.6 370.7h1.0M363.7 413.4h1.0M371.5 398.4h1.0M316.5 409.2h1.0M373.8 372.4h1.0M292.0 397.4h1.0M292.3 427.9h1.0M340.4 417.9h1.0M306.2 371.8h1.0M285.9 400.6h1.0M288.3 413.0h1.0M289.5 409.4h1.0M301.7 409.3h1.0M311.5 375.0h1.0M335.1 379.5h1.0M299.0 380.3h1.0M315.3 404.3h1.0M319.2 366.7h1.0M324.6 426.1h1.0M337.4 425.0h1.0M296.1 394.0h1.0M352.7 381.1h1.0M285.2 318.3h1.0" stroke="#a4a4a4" stroke-width="1.0" stroke-opacity="1" fill="none"/>
<path d="M239 287.3L244.3 297M256.9 287.3L246 297.3M276.4 287.5L247.8 297.2M301.7 287L249.5 297.2M322.1 287.3L281 333.4M339 287L264.7 304.2M354 287.3L330.9 313.6M377 297.7L372.9 313M381 307.4L380 325.2M386.2 314.5L380.5 324.7M390.8 322.7L383.6 331.9M395.3 330.3L388.7 340M399.4 338.5L391.8 346.2M403.7 346.6L393.5 349.5M408.1 354.6L373.8 373.6M412.5 361.9L397.9 375.8M417.6 367.7L378.2 382.3M423.4 379.1L357.7 388.9M427.6 386.6L413 381.5M433.4 394.6L417.4 389.5M433.4 401.9L422.5 399.7M427.6 410.7L362 400M424 418L421 401.9M419.6 425.3L418.1 407M233.4 503.8L239.2 494.5M256.1 507.3L263.2 491M234.1 294.9L241.4 301.6M229.1 303.7L237.6 307.5M224.1 311.2L250.7 329.6M219.5 319.9L250.7 330.1M215.4 326.6L232.3 315.3M210.3 334.7L229.7 322M206.2 342.4L228.7 323M202.2 350L227.7 324M192.2 366.5L200.1 373.4M186.8 374.9L200.1 374.1M179.1 389L189.9 390.5M178.1 407.5L188.3 407.8M183.7 417.8L199 416.3M194.5 435.4L206 433.9" stroke="#222" stroke-width="0.6" fill="none"/>
<text x="219.1" y="274.2" font-size="8.7">snMacs</text>
<text x="450.6" y="420.5" font-size="8.7">Microglia</text>
<text x="182.3" y="486.6" font-size="8.7">Liver</text>
<text x="182.3" y="501.4" font-size="8.7">Lung</text>
<text x="182.3" y="515.7" font-size="8.7">Spleen</text>
<text x="182.3" y="530.9" font-size="8.7">Peritoneum</text>
<text x="229.5" y="285.5" font-size="6.65" font-style="italic">H2-Aa</text>
<text x="250.8" y="284.7" font-size="6.65" font-style="italic">Mgl2</text>
<text x="266.9" y="286" font-size="6.65" font-style="italic">Cd209d</text>
<text x="291.6" y="286" font-size="6.65" font-style="italic">Slamf7</text>
<text x="314" y="285.8" font-size="6.65" font-style="italic">Ugt8a</text>
<text x="334.2" y="285.2" font-size="6.65" font-style="italic">Mpz</text>
<text x="349" y="285.6" font-size="6.65" font-style="italic">Cd83</text>
<text x="376.9" y="298.5" font-size="6.65" font-style="italic">Fcrls</text>
<text x="381.2" y="306.7" font-size="6.65" font-style="italic">Cx3cr1</text>
<text x="385.8" y="315" font-size="6.65" font-style="italic">Sgce</text>
<text x="390.7" y="323.2" font-size="6.65" font-style="italic">Tagap</text>
<text x="395.8" y="331.2" font-size="6.65" font-style="italic">Sparc</text>
<text x="400.2" y="338.2" font-size="6.65" font-style="italic">Sema4d</text>
<text x="404.5" y="346.6" font-size="6.65" font-style="italic">Siglech</text>
<text x="409.8" y="354.5" font-size="6.65" font-style="italic">P2ry12</text>
<text x="413.6" y="362.9" font-size="6.65" font-style="italic">Trem2</text>
<text x="418.9" y="370" font-size="6.65" font-style="italic">Hexb</text>
<text x="423.8" y="379" font-size="6.65" font-style="italic">Sema4g</text>
<text x="428.2" y="387.4" font-size="6.65" font-style="italic">Lag3</text>
<text x="432.9" y="395.1" font-size="6.65" font-style="italic">Tmem119</text>
<text x="434" y="403.6" font-size="6.65" font-style="italic">Slc2a5</text>
<text x="429.6" y="412.4" font-size="6.65" font-style="italic">Sall3</text>
<text x="424.6" y="420.1" font-size="6.65" font-style="italic">Cd34</text>
<text x="419.8" y="429.0" font-size="6.65" font-style="italic">Sall1</text>
<text x="220" y="503.4" font-size="6.65" font-style="italic">Fpr1</text>
<text x="244.3" y="512" font-size="6.65" font-style="italic">Marco</text>
<text x="233.8" y="294" font-size="6.65" font-style="italic" text-anchor="end">Kmo</text>
<text x="227.8" y="303.6" font-size="6.65" font-style="italic" text-anchor="end">Mmp9</text>
<text x="223.1" y="312.1" font-size="6.65" font-style="italic" text-anchor="end">Cd74</text>
<text x="218.5" y="320.6" font-size="6.65" font-style="italic" text-anchor="end">H2-Ab1</text>
<text x="214.2" y="328.6" font-size="6.65" font-style="italic" text-anchor="end">Clec10a</text>
<text x="209.5" y="337.1" font-size="6.65" font-style="italic" text-anchor="end">Retnla</text>
<text x="204.9" y="345.1" font-size="6.65" font-style="italic" text-anchor="end">Cxcl2</text>
<text x="200.6" y="353.2" font-size="6.65" font-style="italic" text-anchor="end">Folr2</text>
<text x="191.6" y="366.3" font-size="6.65" font-style="italic" text-anchor="end">Mrc1</text>
<text x="186" y="377.4" font-size="6.65" font-style="italic" text-anchor="end">Cd36</text>
<text x="177.9" y="390.6" font-size="6.65" font-style="italic" text-anchor="end">Msr1</text>
<text x="176.5" y="409.4" font-size="6.65" font-style="italic" text-anchor="end">Tlr8</text>
<text x="182.7" y="420" font-size="6.65" font-style="italic" text-anchor="end">Timd4</text>
<text x="193.4" y="437.1" font-size="6.65" font-style="italic" text-anchor="end">Clec4n</text>
</svg></body></html>
